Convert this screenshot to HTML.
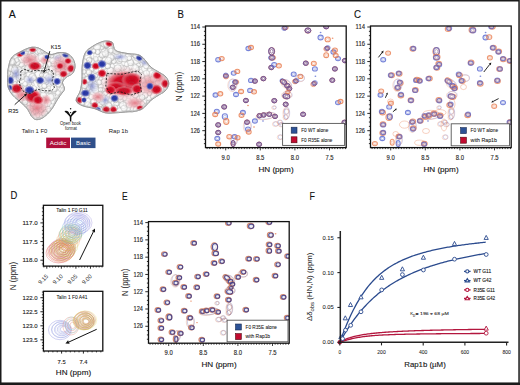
<!DOCTYPE html><html><head><meta charset="utf-8"><style>html,body{margin:0;padding:0;background:#fff;overflow:hidden;width:520px;height:385px;}svg{display:block;}</style></head><body>
<svg width="520" height="385" viewBox="0 0 520 385" font-family='"Liberation Sans", sans-serif'>
<rect width="520" height="385" fill="#fff"/>
<defs><filter id="pb" x="-5%" y="-5%" width="110%" height="110%"><feGaussianBlur stdDeviation="0.5"/></filter></defs>
<clipPath id="cb"><rect x="205.5" y="26" width="140.7" height="121.6"/></clipPath>
<g clip-path="url(#cb)"><g filter="url(#pb)">
<g opacity="0.85"><ellipse cx="218.20" cy="59.70" rx="2.45" ry="2.15" fill="none" stroke="#5e6ed2" stroke-width="1.1"/><ellipse cx="218.20" cy="59.70" rx="1.23" ry="1.07" fill="none" stroke="#5e6ed2" stroke-width="0.7" opacity="0.6"/></g>
<g opacity="0.85"><ellipse cx="221.70" cy="58.60" rx="2.45" ry="2.15" fill="none" stroke="#e97f52" stroke-width="1.1"/><ellipse cx="221.70" cy="58.60" rx="1.23" ry="1.07" fill="none" stroke="#e97f52" stroke-width="0.7" opacity="0.6"/></g>
<g opacity="0.85"><ellipse cx="248.40" cy="48.50" rx="2.45" ry="2.15" fill="none" stroke="#5e6ed2" stroke-width="1.1"/><ellipse cx="248.40" cy="48.50" rx="1.23" ry="1.07" fill="none" stroke="#5e6ed2" stroke-width="0.7" opacity="0.6"/></g>
<g opacity="0.85"><ellipse cx="251.00" cy="47.50" rx="2.45" ry="2.15" fill="none" stroke="#e97f52" stroke-width="1.1"/><ellipse cx="251.00" cy="47.50" rx="1.23" ry="1.07" fill="none" stroke="#e97f52" stroke-width="0.7" opacity="0.6"/></g>
<g opacity="0.75"><ellipse cx="271.70" cy="51.30" rx="3.05" ry="3.85" fill="none" stroke="#e97f52" stroke-width="1.0"/><ellipse cx="271.70" cy="51.30" rx="1.52" ry="1.93" fill="none" stroke="#e97f52" stroke-width="0.7" opacity="0.6"/></g>
<g opacity="0.75"><ellipse cx="271.50" cy="51.30" rx="2.90" ry="3.70" fill="none" stroke="#5e6ed2" stroke-width="1.0"/><ellipse cx="271.50" cy="51.30" rx="1.45" ry="1.85" fill="none" stroke="#5e6ed2" stroke-width="0.7" opacity="0.6"/></g>
<g opacity="0.8"><ellipse cx="271.60" cy="51.30" rx="2.90" ry="3.70" fill="none" stroke="#6e3f78" stroke-width="0.9"/><ellipse cx="271.60" cy="51.30" rx="1.45" ry="1.85" fill="none" stroke="#6e3f78" stroke-width="0.7" opacity="0.6"/></g>
<g opacity="0.75"><ellipse cx="272.60" cy="57.70" rx="3.05" ry="2.55" fill="none" stroke="#e97f52" stroke-width="1.0"/><ellipse cx="272.60" cy="57.70" rx="1.52" ry="1.27" fill="none" stroke="#e97f52" stroke-width="0.7" opacity="0.6"/></g>
<g opacity="0.75"><ellipse cx="271.40" cy="57.80" rx="2.90" ry="2.40" fill="none" stroke="#5e6ed2" stroke-width="1.0"/><ellipse cx="271.40" cy="57.80" rx="1.45" ry="1.20" fill="none" stroke="#5e6ed2" stroke-width="0.7" opacity="0.6"/></g>
<g opacity="0.8"><ellipse cx="272.00" cy="57.75" rx="2.90" ry="2.40" fill="none" stroke="#6e3f78" stroke-width="0.9"/><ellipse cx="272.00" cy="57.75" rx="1.45" ry="1.20" fill="none" stroke="#6e3f78" stroke-width="0.7" opacity="0.6"/></g>
<g opacity="0.75"><ellipse cx="285.70" cy="27.40" rx="2.60" ry="2.30" fill="none" stroke="#e97f52" stroke-width="1.0"/><ellipse cx="285.70" cy="27.40" rx="1.30" ry="1.15" fill="none" stroke="#e97f52" stroke-width="0.7" opacity="0.6"/></g>
<g opacity="0.75"><ellipse cx="284.20" cy="28.30" rx="2.45" ry="2.15" fill="none" stroke="#5e6ed2" stroke-width="1.0"/><ellipse cx="284.20" cy="28.30" rx="1.23" ry="1.07" fill="none" stroke="#5e6ed2" stroke-width="0.7" opacity="0.6"/></g>
<g opacity="0.8"><ellipse cx="284.95" cy="27.85" rx="2.45" ry="2.15" fill="none" stroke="#6e3f78" stroke-width="0.9"/><ellipse cx="284.95" cy="27.85" rx="1.23" ry="1.07" fill="none" stroke="#6e3f78" stroke-width="0.7" opacity="0.6"/></g>
<g opacity="0.75"><ellipse cx="307.90" cy="30.60" rx="3.05" ry="2.65" fill="none" stroke="#e97f52" stroke-width="1.0"/><ellipse cx="307.90" cy="30.60" rx="1.52" ry="1.32" fill="none" stroke="#e97f52" stroke-width="0.7" opacity="0.6"/></g>
<g opacity="0.75"><ellipse cx="307.90" cy="30.40" rx="2.90" ry="2.50" fill="none" stroke="#5e6ed2" stroke-width="1.0"/><ellipse cx="307.90" cy="30.40" rx="1.45" ry="1.25" fill="none" stroke="#5e6ed2" stroke-width="0.7" opacity="0.6"/></g>
<g opacity="0.8"><ellipse cx="307.90" cy="30.50" rx="2.90" ry="2.50" fill="none" stroke="#6e3f78" stroke-width="0.9"/><ellipse cx="307.90" cy="30.50" rx="1.45" ry="1.25" fill="none" stroke="#6e3f78" stroke-width="0.7" opacity="0.6"/></g>
<g opacity="0.75"><ellipse cx="326.20" cy="26.80" rx="2.65" ry="2.15" fill="none" stroke="#e97f52" stroke-width="1.0"/><ellipse cx="326.20" cy="26.80" rx="1.32" ry="1.07" fill="none" stroke="#e97f52" stroke-width="0.7" opacity="0.6"/></g>
<g opacity="0.75"><ellipse cx="326.20" cy="26.80" rx="2.50" ry="2.00" fill="none" stroke="#5e6ed2" stroke-width="1.0"/><ellipse cx="326.20" cy="26.80" rx="1.25" ry="1.00" fill="none" stroke="#5e6ed2" stroke-width="0.7" opacity="0.6"/></g>
<g opacity="0.8"><ellipse cx="326.20" cy="26.80" rx="2.50" ry="2.00" fill="none" stroke="#6e3f78" stroke-width="0.9"/><ellipse cx="326.20" cy="26.80" rx="1.25" ry="1.00" fill="none" stroke="#6e3f78" stroke-width="0.7" opacity="0.6"/></g>
<g opacity="0.85"><ellipse cx="320.60" cy="37.50" rx="2.60" ry="2.40" fill="none" stroke="#5e6ed2" stroke-width="1.1"/><ellipse cx="320.60" cy="37.50" rx="1.30" ry="1.20" fill="none" stroke="#5e6ed2" stroke-width="0.7" opacity="0.6"/></g>
<g opacity="0.85"><ellipse cx="327.70" cy="39.40" rx="2.60" ry="2.40" fill="none" stroke="#e97f52" stroke-width="1.1"/><ellipse cx="327.70" cy="39.40" rx="1.30" ry="1.20" fill="none" stroke="#e97f52" stroke-width="0.7" opacity="0.6"/></g>
<g opacity="0.75"><ellipse cx="326.40" cy="49.00" rx="2.60" ry="2.30" fill="none" stroke="#e97f52" stroke-width="1.0"/><ellipse cx="326.40" cy="49.00" rx="1.30" ry="1.15" fill="none" stroke="#e97f52" stroke-width="0.7" opacity="0.6"/></g>
<g opacity="0.75"><ellipse cx="327.70" cy="47.80" rx="2.45" ry="2.15" fill="none" stroke="#5e6ed2" stroke-width="1.0"/><ellipse cx="327.70" cy="47.80" rx="1.23" ry="1.07" fill="none" stroke="#5e6ed2" stroke-width="0.7" opacity="0.6"/></g>
<g opacity="0.8"><ellipse cx="327.05" cy="48.40" rx="2.45" ry="2.15" fill="none" stroke="#6e3f78" stroke-width="0.9"/><ellipse cx="327.05" cy="48.40" rx="1.23" ry="1.07" fill="none" stroke="#6e3f78" stroke-width="0.7" opacity="0.6"/></g>
<g opacity="0.85"><ellipse cx="333.40" cy="52.00" rx="2.45" ry="2.15" fill="none" stroke="#5e6ed2" stroke-width="1.1"/><ellipse cx="333.40" cy="52.00" rx="1.23" ry="1.07" fill="none" stroke="#5e6ed2" stroke-width="0.7" opacity="0.6"/></g>
<g opacity="0.85"><ellipse cx="334.90" cy="50.20" rx="2.45" ry="2.15" fill="none" stroke="#e97f52" stroke-width="1.1"/><ellipse cx="334.90" cy="50.20" rx="1.23" ry="1.07" fill="none" stroke="#e97f52" stroke-width="0.7" opacity="0.6"/></g>
<g opacity="0.85"><ellipse cx="326.20" cy="55.20" rx="2.40" ry="2.40" fill="none" stroke="#e97f52" stroke-width="1.1"/><ellipse cx="326.20" cy="55.20" rx="1.20" ry="1.20" fill="none" stroke="#e97f52" stroke-width="0.7" opacity="0.6"/></g>
<g opacity="0.85"><ellipse cx="338.00" cy="58.60" rx="2.45" ry="2.15" fill="none" stroke="#5e6ed2" stroke-width="1.1"/><ellipse cx="338.00" cy="58.60" rx="1.23" ry="1.07" fill="none" stroke="#5e6ed2" stroke-width="0.7" opacity="0.6"/></g>
<g opacity="0.85"><ellipse cx="335.70" cy="55.50" rx="2.45" ry="2.15" fill="none" stroke="#e97f52" stroke-width="1.1"/><ellipse cx="335.70" cy="55.50" rx="1.23" ry="1.07" fill="none" stroke="#e97f52" stroke-width="0.7" opacity="0.6"/></g>
<g opacity="0.75"><ellipse cx="344.90" cy="60.60" rx="2.60" ry="2.30" fill="none" stroke="#e97f52" stroke-width="1.0"/><ellipse cx="344.90" cy="60.60" rx="1.30" ry="1.15" fill="none" stroke="#e97f52" stroke-width="0.7" opacity="0.6"/></g>
<g opacity="0.75"><ellipse cx="344.90" cy="60.60" rx="2.45" ry="2.15" fill="none" stroke="#5e6ed2" stroke-width="1.0"/><ellipse cx="344.90" cy="60.60" rx="1.23" ry="1.07" fill="none" stroke="#5e6ed2" stroke-width="0.7" opacity="0.6"/></g>
<g opacity="0.8"><ellipse cx="344.90" cy="60.60" rx="2.45" ry="2.15" fill="none" stroke="#6e3f78" stroke-width="0.9"/><ellipse cx="344.90" cy="60.60" rx="1.23" ry="1.07" fill="none" stroke="#6e3f78" stroke-width="0.7" opacity="0.6"/></g>
<g opacity="0.75"><ellipse cx="305.90" cy="63.20" rx="2.60" ry="2.30" fill="none" stroke="#e97f52" stroke-width="1.0"/><ellipse cx="305.90" cy="63.20" rx="1.30" ry="1.15" fill="none" stroke="#e97f52" stroke-width="0.7" opacity="0.6"/></g>
<g opacity="0.75"><ellipse cx="305.70" cy="63.20" rx="2.45" ry="2.15" fill="none" stroke="#5e6ed2" stroke-width="1.0"/><ellipse cx="305.70" cy="63.20" rx="1.23" ry="1.07" fill="none" stroke="#5e6ed2" stroke-width="0.7" opacity="0.6"/></g>
<g opacity="0.8"><ellipse cx="305.80" cy="63.20" rx="2.45" ry="2.15" fill="none" stroke="#6e3f78" stroke-width="0.9"/><ellipse cx="305.80" cy="63.20" rx="1.23" ry="1.07" fill="none" stroke="#6e3f78" stroke-width="0.7" opacity="0.6"/></g>
<g opacity="0.85"><ellipse cx="314.90" cy="68.90" rx="2.45" ry="2.15" fill="none" stroke="#5e6ed2" stroke-width="1.1"/><ellipse cx="314.90" cy="68.90" rx="1.23" ry="1.07" fill="none" stroke="#5e6ed2" stroke-width="0.7" opacity="0.6"/></g>
<g opacity="0.85"><ellipse cx="313.80" cy="63.40" rx="2.45" ry="2.15" fill="none" stroke="#e97f52" stroke-width="1.1"/><ellipse cx="313.80" cy="63.40" rx="1.23" ry="1.07" fill="none" stroke="#e97f52" stroke-width="0.7" opacity="0.6"/></g>
<g opacity="0.75"><ellipse cx="271.30" cy="67.50" rx="2.60" ry="2.30" fill="none" stroke="#e97f52" stroke-width="1.0"/><ellipse cx="271.30" cy="67.50" rx="1.30" ry="1.15" fill="none" stroke="#e97f52" stroke-width="0.7" opacity="0.6"/></g>
<g opacity="0.75"><ellipse cx="271.30" cy="67.50" rx="2.45" ry="2.15" fill="none" stroke="#5e6ed2" stroke-width="1.0"/><ellipse cx="271.30" cy="67.50" rx="1.23" ry="1.07" fill="none" stroke="#5e6ed2" stroke-width="0.7" opacity="0.6"/></g>
<g opacity="0.8"><ellipse cx="271.30" cy="67.50" rx="2.45" ry="2.15" fill="none" stroke="#6e3f78" stroke-width="0.9"/><ellipse cx="271.30" cy="67.50" rx="1.23" ry="1.07" fill="none" stroke="#6e3f78" stroke-width="0.7" opacity="0.6"/></g>
<g opacity="0.85"><ellipse cx="274.20" cy="64.70" rx="2.45" ry="2.15" fill="none" stroke="#5e6ed2" stroke-width="1.1"/><ellipse cx="274.20" cy="64.70" rx="1.23" ry="1.07" fill="none" stroke="#5e6ed2" stroke-width="0.7" opacity="0.6"/></g>
<g opacity="0.85"><ellipse cx="278.90" cy="65.80" rx="2.45" ry="2.15" fill="none" stroke="#e97f52" stroke-width="1.1"/><ellipse cx="278.90" cy="65.80" rx="1.23" ry="1.07" fill="none" stroke="#e97f52" stroke-width="0.7" opacity="0.6"/></g>
<g opacity="0.75"><ellipse cx="226.00" cy="76.60" rx="2.60" ry="2.30" fill="none" stroke="#e97f52" stroke-width="1.0"/><ellipse cx="226.00" cy="76.60" rx="1.30" ry="1.15" fill="none" stroke="#e97f52" stroke-width="0.7" opacity="0.6"/></g>
<g opacity="0.75"><ellipse cx="225.80" cy="75.20" rx="2.45" ry="2.15" fill="none" stroke="#5e6ed2" stroke-width="1.0"/><ellipse cx="225.80" cy="75.20" rx="1.23" ry="1.07" fill="none" stroke="#5e6ed2" stroke-width="0.7" opacity="0.6"/></g>
<g opacity="0.8"><ellipse cx="225.90" cy="75.90" rx="2.45" ry="2.15" fill="none" stroke="#6e3f78" stroke-width="0.9"/><ellipse cx="225.90" cy="75.90" rx="1.23" ry="1.07" fill="none" stroke="#6e3f78" stroke-width="0.7" opacity="0.6"/></g>
<g opacity="0.85"><ellipse cx="233.70" cy="73.10" rx="2.45" ry="2.15" fill="none" stroke="#5e6ed2" stroke-width="1.1"/><ellipse cx="233.70" cy="73.10" rx="1.23" ry="1.07" fill="none" stroke="#5e6ed2" stroke-width="0.7" opacity="0.6"/></g>
<g opacity="0.85"><ellipse cx="237.30" cy="71.40" rx="2.45" ry="2.15" fill="none" stroke="#e97f52" stroke-width="1.1"/><ellipse cx="237.30" cy="71.40" rx="1.23" ry="1.07" fill="none" stroke="#e97f52" stroke-width="0.7" opacity="0.6"/></g>
<g opacity="0.75"><ellipse cx="236.20" cy="82.10" rx="2.60" ry="2.30" fill="none" stroke="#e97f52" stroke-width="1.0"/><ellipse cx="236.20" cy="82.10" rx="1.30" ry="1.15" fill="none" stroke="#e97f52" stroke-width="0.7" opacity="0.6"/></g>
<g opacity="0.75"><ellipse cx="234.80" cy="82.10" rx="2.45" ry="2.15" fill="none" stroke="#5e6ed2" stroke-width="1.0"/><ellipse cx="234.80" cy="82.10" rx="1.23" ry="1.07" fill="none" stroke="#5e6ed2" stroke-width="0.7" opacity="0.6"/></g>
<g opacity="0.8"><ellipse cx="235.50" cy="82.10" rx="2.45" ry="2.15" fill="none" stroke="#6e3f78" stroke-width="0.9"/><ellipse cx="235.50" cy="82.10" rx="1.23" ry="1.07" fill="none" stroke="#6e3f78" stroke-width="0.7" opacity="0.6"/></g>
<g opacity="0.75"><ellipse cx="232.80" cy="87.30" rx="2.60" ry="2.30" fill="none" stroke="#e97f52" stroke-width="1.0"/><ellipse cx="232.80" cy="87.30" rx="1.30" ry="1.15" fill="none" stroke="#e97f52" stroke-width="0.7" opacity="0.6"/></g>
<g opacity="0.75"><ellipse cx="232.80" cy="87.30" rx="2.45" ry="2.15" fill="none" stroke="#5e6ed2" stroke-width="1.0"/><ellipse cx="232.80" cy="87.30" rx="1.23" ry="1.07" fill="none" stroke="#5e6ed2" stroke-width="0.7" opacity="0.6"/></g>
<g opacity="0.8"><ellipse cx="232.80" cy="87.30" rx="2.45" ry="2.15" fill="none" stroke="#6e3f78" stroke-width="0.9"/><ellipse cx="232.80" cy="87.30" rx="1.23" ry="1.07" fill="none" stroke="#6e3f78" stroke-width="0.7" opacity="0.6"/></g>
<g opacity="0.85"><ellipse cx="236.00" cy="94.50" rx="2.45" ry="2.15" fill="none" stroke="#5e6ed2" stroke-width="1.1"/><ellipse cx="236.00" cy="94.50" rx="1.23" ry="1.07" fill="none" stroke="#5e6ed2" stroke-width="0.7" opacity="0.6"/></g>
<g opacity="0.85"><ellipse cx="241.10" cy="91.50" rx="2.45" ry="2.15" fill="none" stroke="#e97f52" stroke-width="1.1"/><ellipse cx="241.10" cy="91.50" rx="1.23" ry="1.07" fill="none" stroke="#e97f52" stroke-width="0.7" opacity="0.6"/></g>
<g opacity="0.85"><ellipse cx="215.50" cy="95.00" rx="2.45" ry="2.15" fill="none" stroke="#5e6ed2" stroke-width="1.1"/><ellipse cx="215.50" cy="95.00" rx="1.23" ry="1.07" fill="none" stroke="#5e6ed2" stroke-width="0.7" opacity="0.6"/></g>
<g opacity="0.85"><ellipse cx="220.30" cy="93.80" rx="2.45" ry="2.15" fill="none" stroke="#e97f52" stroke-width="1.1"/><ellipse cx="220.30" cy="93.80" rx="1.23" ry="1.07" fill="none" stroke="#e97f52" stroke-width="0.7" opacity="0.6"/></g>
<g opacity="0.85"><ellipse cx="251.00" cy="80.40" rx="2.45" ry="2.15" fill="none" stroke="#5e6ed2" stroke-width="1.1"/><ellipse cx="251.00" cy="80.40" rx="1.23" ry="1.07" fill="none" stroke="#5e6ed2" stroke-width="0.7" opacity="0.6"/></g>
<g opacity="0.75"><ellipse cx="254.90" cy="81.10" rx="2.60" ry="2.30" fill="none" stroke="#e97f52" stroke-width="1.0"/><ellipse cx="254.90" cy="81.10" rx="1.30" ry="1.15" fill="none" stroke="#e97f52" stroke-width="0.7" opacity="0.6"/></g>
<g opacity="0.75"><ellipse cx="254.90" cy="81.10" rx="2.45" ry="2.15" fill="none" stroke="#5e6ed2" stroke-width="1.0"/><ellipse cx="254.90" cy="81.10" rx="1.23" ry="1.07" fill="none" stroke="#5e6ed2" stroke-width="0.7" opacity="0.6"/></g>
<g opacity="0.8"><ellipse cx="254.90" cy="81.10" rx="2.45" ry="2.15" fill="none" stroke="#6e3f78" stroke-width="0.9"/><ellipse cx="254.90" cy="81.10" rx="1.23" ry="1.07" fill="none" stroke="#6e3f78" stroke-width="0.7" opacity="0.6"/></g>
<g opacity="0.75"><ellipse cx="263.40" cy="78.60" rx="2.60" ry="2.30" fill="none" stroke="#e97f52" stroke-width="1.0"/><ellipse cx="263.40" cy="78.60" rx="1.30" ry="1.15" fill="none" stroke="#e97f52" stroke-width="0.7" opacity="0.6"/></g>
<g opacity="0.75"><ellipse cx="263.40" cy="78.60" rx="2.45" ry="2.15" fill="none" stroke="#5e6ed2" stroke-width="1.0"/><ellipse cx="263.40" cy="78.60" rx="1.23" ry="1.07" fill="none" stroke="#5e6ed2" stroke-width="0.7" opacity="0.6"/></g>
<g opacity="0.8"><ellipse cx="263.40" cy="78.60" rx="2.45" ry="2.15" fill="none" stroke="#6e3f78" stroke-width="0.9"/><ellipse cx="263.40" cy="78.60" rx="1.23" ry="1.07" fill="none" stroke="#6e3f78" stroke-width="0.7" opacity="0.6"/></g>
<g opacity="0.85"><ellipse cx="250.10" cy="90.40" rx="2.45" ry="2.15" fill="none" stroke="#5e6ed2" stroke-width="1.1"/><ellipse cx="250.10" cy="90.40" rx="1.23" ry="1.07" fill="none" stroke="#5e6ed2" stroke-width="0.7" opacity="0.6"/></g>
<g opacity="0.85"><ellipse cx="254.00" cy="91.80" rx="2.45" ry="2.15" fill="none" stroke="#e97f52" stroke-width="1.1"/><ellipse cx="254.00" cy="91.80" rx="1.23" ry="1.07" fill="none" stroke="#e97f52" stroke-width="0.7" opacity="0.6"/></g>
<g opacity="0.75"><ellipse cx="245.90" cy="100.50" rx="2.60" ry="2.30" fill="none" stroke="#e97f52" stroke-width="1.0"/><ellipse cx="245.90" cy="100.50" rx="1.30" ry="1.15" fill="none" stroke="#e97f52" stroke-width="0.7" opacity="0.6"/></g>
<g opacity="0.75"><ellipse cx="245.90" cy="100.50" rx="2.45" ry="2.15" fill="none" stroke="#5e6ed2" stroke-width="1.0"/><ellipse cx="245.90" cy="100.50" rx="1.23" ry="1.07" fill="none" stroke="#5e6ed2" stroke-width="0.7" opacity="0.6"/></g>
<g opacity="0.8"><ellipse cx="245.90" cy="100.50" rx="2.45" ry="2.15" fill="none" stroke="#6e3f78" stroke-width="0.9"/><ellipse cx="245.90" cy="100.50" rx="1.23" ry="1.07" fill="none" stroke="#6e3f78" stroke-width="0.7" opacity="0.6"/></g>
<g opacity="0.75"><ellipse cx="334.90" cy="68.90" rx="2.60" ry="2.30" fill="none" stroke="#e97f52" stroke-width="1.0"/><ellipse cx="334.90" cy="68.90" rx="1.30" ry="1.15" fill="none" stroke="#e97f52" stroke-width="0.7" opacity="0.6"/></g>
<g opacity="0.75"><ellipse cx="334.90" cy="68.90" rx="2.45" ry="2.15" fill="none" stroke="#5e6ed2" stroke-width="1.0"/><ellipse cx="334.90" cy="68.90" rx="1.23" ry="1.07" fill="none" stroke="#5e6ed2" stroke-width="0.7" opacity="0.6"/></g>
<g opacity="0.8"><ellipse cx="334.90" cy="68.90" rx="2.45" ry="2.15" fill="none" stroke="#6e3f78" stroke-width="0.9"/><ellipse cx="334.90" cy="68.90" rx="1.23" ry="1.07" fill="none" stroke="#6e3f78" stroke-width="0.7" opacity="0.6"/></g>
<g opacity="0.75"><ellipse cx="332.30" cy="80.20" rx="2.60" ry="2.30" fill="none" stroke="#e97f52" stroke-width="1.0"/><ellipse cx="332.30" cy="80.20" rx="1.30" ry="1.15" fill="none" stroke="#e97f52" stroke-width="0.7" opacity="0.6"/></g>
<g opacity="0.75"><ellipse cx="332.30" cy="80.20" rx="2.45" ry="2.15" fill="none" stroke="#5e6ed2" stroke-width="1.0"/><ellipse cx="332.30" cy="80.20" rx="1.23" ry="1.07" fill="none" stroke="#5e6ed2" stroke-width="0.7" opacity="0.6"/></g>
<g opacity="0.8"><ellipse cx="332.30" cy="80.20" rx="2.45" ry="2.15" fill="none" stroke="#6e3f78" stroke-width="0.9"/><ellipse cx="332.30" cy="80.20" rx="1.23" ry="1.07" fill="none" stroke="#6e3f78" stroke-width="0.7" opacity="0.6"/></g>
<g opacity="0.75"><ellipse cx="313.40" cy="84.30" rx="2.60" ry="2.30" fill="none" stroke="#e97f52" stroke-width="1.0"/><ellipse cx="313.40" cy="84.30" rx="1.30" ry="1.15" fill="none" stroke="#e97f52" stroke-width="0.7" opacity="0.6"/></g>
<g opacity="0.75"><ellipse cx="314.90" cy="82.80" rx="2.45" ry="2.15" fill="none" stroke="#5e6ed2" stroke-width="1.0"/><ellipse cx="314.90" cy="82.80" rx="1.23" ry="1.07" fill="none" stroke="#5e6ed2" stroke-width="0.7" opacity="0.6"/></g>
<g opacity="0.8"><ellipse cx="314.15" cy="83.55" rx="2.45" ry="2.15" fill="none" stroke="#6e3f78" stroke-width="0.9"/><ellipse cx="314.15" cy="83.55" rx="1.23" ry="1.07" fill="none" stroke="#6e3f78" stroke-width="0.7" opacity="0.6"/></g>
<g opacity="0.85"><ellipse cx="293.70" cy="74.20" rx="2.45" ry="2.15" fill="none" stroke="#5e6ed2" stroke-width="1.1"/><ellipse cx="293.70" cy="74.20" rx="1.23" ry="1.07" fill="none" stroke="#5e6ed2" stroke-width="0.7" opacity="0.6"/></g>
<g opacity="0.85"><ellipse cx="300.40" cy="76.40" rx="2.45" ry="2.15" fill="none" stroke="#e97f52" stroke-width="1.1"/><ellipse cx="300.40" cy="76.40" rx="1.23" ry="1.07" fill="none" stroke="#e97f52" stroke-width="0.7" opacity="0.6"/></g>
<g transform="rotate(35 283.80 82.20)" opacity="0.75"><ellipse cx="283.80" cy="82.20" rx="3.55" ry="2.35" fill="none" stroke="#e97f52" stroke-width="1.0"/><ellipse cx="283.80" cy="82.20" rx="1.77" ry="1.18" fill="none" stroke="#e97f52" stroke-width="0.7" opacity="0.6"/></g>
<g transform="rotate(35 283.20 81.60)" opacity="0.75"><ellipse cx="283.20" cy="81.60" rx="3.40" ry="2.20" fill="none" stroke="#5e6ed2" stroke-width="1.0"/><ellipse cx="283.20" cy="81.60" rx="1.70" ry="1.10" fill="none" stroke="#5e6ed2" stroke-width="0.7" opacity="0.6"/></g>
<g transform="rotate(35 283.50 81.90)" opacity="0.8"><ellipse cx="283.50" cy="81.90" rx="3.40" ry="2.20" fill="none" stroke="#6e3f78" stroke-width="0.9"/><ellipse cx="283.50" cy="81.90" rx="1.70" ry="1.10" fill="none" stroke="#6e3f78" stroke-width="0.7" opacity="0.6"/></g>
<g opacity="0.75"><ellipse cx="287.30" cy="85.80" rx="2.75" ry="2.35" fill="none" stroke="#e97f52" stroke-width="1.0"/><ellipse cx="287.30" cy="85.80" rx="1.38" ry="1.18" fill="none" stroke="#e97f52" stroke-width="0.7" opacity="0.6"/></g>
<g opacity="0.75"><ellipse cx="287.30" cy="85.60" rx="2.60" ry="2.20" fill="none" stroke="#5e6ed2" stroke-width="1.0"/><ellipse cx="287.30" cy="85.60" rx="1.30" ry="1.10" fill="none" stroke="#5e6ed2" stroke-width="0.7" opacity="0.6"/></g>
<g opacity="0.8"><ellipse cx="287.30" cy="85.70" rx="2.60" ry="2.20" fill="none" stroke="#6e3f78" stroke-width="0.9"/><ellipse cx="287.30" cy="85.70" rx="1.30" ry="1.10" fill="none" stroke="#6e3f78" stroke-width="0.7" opacity="0.6"/></g>
<g opacity="0.75"><ellipse cx="295.00" cy="81.50" rx="2.60" ry="2.30" fill="none" stroke="#e97f52" stroke-width="1.0"/><ellipse cx="295.00" cy="81.50" rx="1.30" ry="1.15" fill="none" stroke="#e97f52" stroke-width="0.7" opacity="0.6"/></g>
<g opacity="0.75"><ellipse cx="296.40" cy="80.70" rx="2.45" ry="2.15" fill="none" stroke="#5e6ed2" stroke-width="1.0"/><ellipse cx="296.40" cy="80.70" rx="1.23" ry="1.07" fill="none" stroke="#5e6ed2" stroke-width="0.7" opacity="0.6"/></g>
<g opacity="0.8"><ellipse cx="295.70" cy="81.10" rx="2.45" ry="2.15" fill="none" stroke="#6e3f78" stroke-width="0.9"/><ellipse cx="295.70" cy="81.10" rx="1.23" ry="1.07" fill="none" stroke="#6e3f78" stroke-width="0.7" opacity="0.6"/></g>
<g opacity="0.75"><ellipse cx="289.30" cy="88.60" rx="2.60" ry="2.30" fill="none" stroke="#e97f52" stroke-width="1.0"/><ellipse cx="289.30" cy="88.60" rx="1.30" ry="1.15" fill="none" stroke="#e97f52" stroke-width="0.7" opacity="0.6"/></g>
<g opacity="0.75"><ellipse cx="289.30" cy="88.60" rx="2.45" ry="2.15" fill="none" stroke="#5e6ed2" stroke-width="1.0"/><ellipse cx="289.30" cy="88.60" rx="1.23" ry="1.07" fill="none" stroke="#5e6ed2" stroke-width="0.7" opacity="0.6"/></g>
<g opacity="0.8"><ellipse cx="289.30" cy="88.60" rx="2.45" ry="2.15" fill="none" stroke="#6e3f78" stroke-width="0.9"/><ellipse cx="289.30" cy="88.60" rx="1.23" ry="1.07" fill="none" stroke="#6e3f78" stroke-width="0.7" opacity="0.6"/></g>
<g transform="rotate(10 286.40 96.20)" opacity="0.75"><ellipse cx="286.40" cy="96.20" rx="3.55" ry="2.55" fill="none" stroke="#e97f52" stroke-width="1.0"/><ellipse cx="286.40" cy="96.20" rx="1.77" ry="1.27" fill="none" stroke="#e97f52" stroke-width="0.7" opacity="0.6"/></g>
<g transform="rotate(10 286.40 96.40)" opacity="0.75"><ellipse cx="286.40" cy="96.40" rx="3.40" ry="2.40" fill="none" stroke="#5e6ed2" stroke-width="1.0"/><ellipse cx="286.40" cy="96.40" rx="1.70" ry="1.20" fill="none" stroke="#5e6ed2" stroke-width="0.7" opacity="0.6"/></g>
<g transform="rotate(10 286.40 96.30)" opacity="0.8"><ellipse cx="286.40" cy="96.30" rx="3.40" ry="2.40" fill="none" stroke="#6e3f78" stroke-width="0.9"/><ellipse cx="286.40" cy="96.30" rx="1.70" ry="1.20" fill="none" stroke="#6e3f78" stroke-width="0.7" opacity="0.6"/></g>
<g opacity="0.85"><ellipse cx="287.90" cy="92.10" rx="2.20" ry="1.60" fill="none" stroke="#e97f52" stroke-width="1.1"/><ellipse cx="287.90" cy="92.10" rx="1.10" ry="0.80" fill="none" stroke="#e97f52" stroke-width="0.7" opacity="0.6"/></g>
<g opacity="0.75"><ellipse cx="274.30" cy="100.70" rx="2.60" ry="2.30" fill="none" stroke="#e97f52" stroke-width="1.0"/><ellipse cx="274.30" cy="100.70" rx="1.30" ry="1.15" fill="none" stroke="#e97f52" stroke-width="0.7" opacity="0.6"/></g>
<g opacity="0.75"><ellipse cx="274.30" cy="100.70" rx="2.45" ry="2.15" fill="none" stroke="#5e6ed2" stroke-width="1.0"/><ellipse cx="274.30" cy="100.70" rx="1.23" ry="1.07" fill="none" stroke="#5e6ed2" stroke-width="0.7" opacity="0.6"/></g>
<g opacity="0.8"><ellipse cx="274.30" cy="100.70" rx="2.45" ry="2.15" fill="none" stroke="#6e3f78" stroke-width="0.9"/><ellipse cx="274.30" cy="100.70" rx="1.23" ry="1.07" fill="none" stroke="#6e3f78" stroke-width="0.7" opacity="0.6"/></g>
<g opacity="0.85"><ellipse cx="338.00" cy="102.60" rx="2.45" ry="2.15" fill="none" stroke="#5e6ed2" stroke-width="1.1"/><ellipse cx="338.00" cy="102.60" rx="1.23" ry="1.07" fill="none" stroke="#5e6ed2" stroke-width="0.7" opacity="0.6"/></g>
<g opacity="0.85"><ellipse cx="340.50" cy="101.50" rx="2.45" ry="2.15" fill="none" stroke="#e97f52" stroke-width="1.1"/><ellipse cx="340.50" cy="101.50" rx="1.23" ry="1.07" fill="none" stroke="#e97f52" stroke-width="0.7" opacity="0.6"/></g>
<g opacity="0.75"><ellipse cx="224.20" cy="106.90" rx="2.60" ry="2.30" fill="none" stroke="#e97f52" stroke-width="1.0"/><ellipse cx="224.20" cy="106.90" rx="1.30" ry="1.15" fill="none" stroke="#e97f52" stroke-width="0.7" opacity="0.6"/></g>
<g opacity="0.75"><ellipse cx="224.20" cy="106.90" rx="2.45" ry="2.15" fill="none" stroke="#5e6ed2" stroke-width="1.0"/><ellipse cx="224.20" cy="106.90" rx="1.23" ry="1.07" fill="none" stroke="#5e6ed2" stroke-width="0.7" opacity="0.6"/></g>
<g opacity="0.8"><ellipse cx="224.20" cy="106.90" rx="2.45" ry="2.15" fill="none" stroke="#6e3f78" stroke-width="0.9"/><ellipse cx="224.20" cy="106.90" rx="1.23" ry="1.07" fill="none" stroke="#6e3f78" stroke-width="0.7" opacity="0.6"/></g>
<g opacity="0.85"><ellipse cx="216.80" cy="111.40" rx="2.45" ry="2.15" fill="none" stroke="#5e6ed2" stroke-width="1.1"/><ellipse cx="216.80" cy="111.40" rx="1.23" ry="1.07" fill="none" stroke="#5e6ed2" stroke-width="0.7" opacity="0.6"/></g>
<g opacity="0.85"><ellipse cx="215.20" cy="114.50" rx="2.45" ry="2.15" fill="none" stroke="#e97f52" stroke-width="1.1"/><ellipse cx="215.20" cy="114.50" rx="1.23" ry="1.07" fill="none" stroke="#e97f52" stroke-width="0.7" opacity="0.6"/></g>
<g opacity="0.85"><ellipse cx="224.90" cy="116.60" rx="2.60" ry="2.90" fill="none" stroke="#5e6ed2" stroke-width="1.1"/><ellipse cx="224.90" cy="116.60" rx="1.30" ry="1.45" fill="none" stroke="#5e6ed2" stroke-width="0.7" opacity="0.6"/></g>
<g opacity="0.85"><ellipse cx="226.30" cy="121.50" rx="2.60" ry="2.90" fill="none" stroke="#e97f52" stroke-width="1.1"/><ellipse cx="226.30" cy="121.50" rx="1.30" ry="1.45" fill="none" stroke="#e97f52" stroke-width="0.7" opacity="0.6"/></g>
<g opacity="0.85"><ellipse cx="242.90" cy="112.50" rx="2.45" ry="2.15" fill="none" stroke="#5e6ed2" stroke-width="1.1"/><ellipse cx="242.90" cy="112.50" rx="1.23" ry="1.07" fill="none" stroke="#5e6ed2" stroke-width="0.7" opacity="0.6"/></g>
<g opacity="0.85"><ellipse cx="241.50" cy="115.20" rx="2.45" ry="2.15" fill="none" stroke="#e97f52" stroke-width="1.1"/><ellipse cx="241.50" cy="115.20" rx="1.23" ry="1.07" fill="none" stroke="#e97f52" stroke-width="0.7" opacity="0.6"/></g>
<g opacity="0.75"><ellipse cx="218.20" cy="124.90" rx="2.60" ry="2.30" fill="none" stroke="#e97f52" stroke-width="1.0"/><ellipse cx="218.20" cy="124.90" rx="1.30" ry="1.15" fill="none" stroke="#e97f52" stroke-width="0.7" opacity="0.6"/></g>
<g opacity="0.75"><ellipse cx="218.20" cy="124.90" rx="2.45" ry="2.15" fill="none" stroke="#5e6ed2" stroke-width="1.0"/><ellipse cx="218.20" cy="124.90" rx="1.23" ry="1.07" fill="none" stroke="#5e6ed2" stroke-width="0.7" opacity="0.6"/></g>
<g opacity="0.8"><ellipse cx="218.20" cy="124.90" rx="2.45" ry="2.15" fill="none" stroke="#6e3f78" stroke-width="0.9"/><ellipse cx="218.20" cy="124.90" rx="1.23" ry="1.07" fill="none" stroke="#6e3f78" stroke-width="0.7" opacity="0.6"/></g>
<g opacity="0.75"><ellipse cx="218.20" cy="132.50" rx="2.60" ry="2.30" fill="none" stroke="#e97f52" stroke-width="1.0"/><ellipse cx="218.20" cy="132.50" rx="1.30" ry="1.15" fill="none" stroke="#e97f52" stroke-width="0.7" opacity="0.6"/></g>
<g opacity="0.75"><ellipse cx="218.20" cy="132.50" rx="2.45" ry="2.15" fill="none" stroke="#5e6ed2" stroke-width="1.0"/><ellipse cx="218.20" cy="132.50" rx="1.23" ry="1.07" fill="none" stroke="#5e6ed2" stroke-width="0.7" opacity="0.6"/></g>
<g opacity="0.8"><ellipse cx="218.20" cy="132.50" rx="2.45" ry="2.15" fill="none" stroke="#6e3f78" stroke-width="0.9"/><ellipse cx="218.20" cy="132.50" rx="1.23" ry="1.07" fill="none" stroke="#6e3f78" stroke-width="0.7" opacity="0.6"/></g>
<g opacity="0.85"><ellipse cx="217.30" cy="138.50" rx="2.45" ry="2.15" fill="none" stroke="#5e6ed2" stroke-width="1.1"/><ellipse cx="217.30" cy="138.50" rx="1.23" ry="1.07" fill="none" stroke="#5e6ed2" stroke-width="0.7" opacity="0.6"/></g>
<g opacity="0.85"><ellipse cx="218.20" cy="144.00" rx="2.45" ry="2.15" fill="none" stroke="#e97f52" stroke-width="1.1"/><ellipse cx="218.20" cy="144.00" rx="1.23" ry="1.07" fill="none" stroke="#e97f52" stroke-width="0.7" opacity="0.6"/></g>
<g opacity="0.75"><ellipse cx="247.00" cy="122.20" rx="2.60" ry="2.30" fill="none" stroke="#e97f52" stroke-width="1.0"/><ellipse cx="247.00" cy="122.20" rx="1.30" ry="1.15" fill="none" stroke="#e97f52" stroke-width="0.7" opacity="0.6"/></g>
<g opacity="0.75"><ellipse cx="247.00" cy="122.20" rx="2.45" ry="2.15" fill="none" stroke="#5e6ed2" stroke-width="1.0"/><ellipse cx="247.00" cy="122.20" rx="1.23" ry="1.07" fill="none" stroke="#5e6ed2" stroke-width="0.7" opacity="0.6"/></g>
<g opacity="0.8"><ellipse cx="247.00" cy="122.20" rx="2.45" ry="2.15" fill="none" stroke="#6e3f78" stroke-width="0.9"/><ellipse cx="247.00" cy="122.20" rx="1.23" ry="1.07" fill="none" stroke="#6e3f78" stroke-width="0.7" opacity="0.6"/></g>
<g opacity="0.85"><ellipse cx="248.00" cy="129.10" rx="2.45" ry="2.15" fill="none" stroke="#5e6ed2" stroke-width="1.1"/><ellipse cx="248.00" cy="129.10" rx="1.23" ry="1.07" fill="none" stroke="#5e6ed2" stroke-width="0.7" opacity="0.6"/></g>
<g opacity="0.85"><ellipse cx="248.70" cy="132.00" rx="2.45" ry="2.15" fill="none" stroke="#e97f52" stroke-width="1.1"/><ellipse cx="248.70" cy="132.00" rx="1.23" ry="1.07" fill="none" stroke="#e97f52" stroke-width="0.7" opacity="0.6"/></g>
<g opacity="0.85"><ellipse cx="254.90" cy="121.00" rx="2.45" ry="2.15" fill="none" stroke="#5e6ed2" stroke-width="1.1"/><ellipse cx="254.90" cy="121.00" rx="1.23" ry="1.07" fill="none" stroke="#5e6ed2" stroke-width="0.7" opacity="0.6"/></g>
<g opacity="0.75"><ellipse cx="259.50" cy="115.70" rx="2.60" ry="2.30" fill="none" stroke="#e97f52" stroke-width="1.0"/><ellipse cx="259.50" cy="115.70" rx="1.30" ry="1.15" fill="none" stroke="#e97f52" stroke-width="0.7" opacity="0.6"/></g>
<g opacity="0.75"><ellipse cx="259.50" cy="115.70" rx="2.45" ry="2.15" fill="none" stroke="#5e6ed2" stroke-width="1.0"/><ellipse cx="259.50" cy="115.70" rx="1.23" ry="1.07" fill="none" stroke="#5e6ed2" stroke-width="0.7" opacity="0.6"/></g>
<g opacity="0.8"><ellipse cx="259.50" cy="115.70" rx="2.45" ry="2.15" fill="none" stroke="#6e3f78" stroke-width="0.9"/><ellipse cx="259.50" cy="115.70" rx="1.23" ry="1.07" fill="none" stroke="#6e3f78" stroke-width="0.7" opacity="0.6"/></g>
<g opacity="0.75"><ellipse cx="263.60" cy="115.00" rx="2.60" ry="2.30" fill="none" stroke="#e97f52" stroke-width="1.0"/><ellipse cx="263.60" cy="115.00" rx="1.30" ry="1.15" fill="none" stroke="#e97f52" stroke-width="0.7" opacity="0.6"/></g>
<g opacity="0.75"><ellipse cx="263.60" cy="115.00" rx="2.45" ry="2.15" fill="none" stroke="#5e6ed2" stroke-width="1.0"/><ellipse cx="263.60" cy="115.00" rx="1.23" ry="1.07" fill="none" stroke="#5e6ed2" stroke-width="0.7" opacity="0.6"/></g>
<g opacity="0.8"><ellipse cx="263.60" cy="115.00" rx="2.45" ry="2.15" fill="none" stroke="#6e3f78" stroke-width="0.9"/><ellipse cx="263.60" cy="115.00" rx="1.23" ry="1.07" fill="none" stroke="#6e3f78" stroke-width="0.7" opacity="0.6"/></g>
<g opacity="0.75"><ellipse cx="269.30" cy="114.30" rx="2.60" ry="2.30" fill="none" stroke="#e97f52" stroke-width="1.0"/><ellipse cx="269.30" cy="114.30" rx="1.30" ry="1.15" fill="none" stroke="#e97f52" stroke-width="0.7" opacity="0.6"/></g>
<g opacity="0.75"><ellipse cx="269.30" cy="114.30" rx="2.45" ry="2.15" fill="none" stroke="#5e6ed2" stroke-width="1.0"/><ellipse cx="269.30" cy="114.30" rx="1.23" ry="1.07" fill="none" stroke="#5e6ed2" stroke-width="0.7" opacity="0.6"/></g>
<g opacity="0.8"><ellipse cx="269.30" cy="114.30" rx="2.45" ry="2.15" fill="none" stroke="#6e3f78" stroke-width="0.9"/><ellipse cx="269.30" cy="114.30" rx="1.23" ry="1.07" fill="none" stroke="#6e3f78" stroke-width="0.7" opacity="0.6"/></g>
<g opacity="0.75"><ellipse cx="275.00" cy="116.40" rx="2.60" ry="2.30" fill="none" stroke="#e97f52" stroke-width="1.0"/><ellipse cx="275.00" cy="116.40" rx="1.30" ry="1.15" fill="none" stroke="#e97f52" stroke-width="0.7" opacity="0.6"/></g>
<g opacity="0.75"><ellipse cx="275.00" cy="116.40" rx="2.45" ry="2.15" fill="none" stroke="#5e6ed2" stroke-width="1.0"/><ellipse cx="275.00" cy="116.40" rx="1.23" ry="1.07" fill="none" stroke="#5e6ed2" stroke-width="0.7" opacity="0.6"/></g>
<g opacity="0.8"><ellipse cx="275.00" cy="116.40" rx="2.45" ry="2.15" fill="none" stroke="#6e3f78" stroke-width="0.9"/><ellipse cx="275.00" cy="116.40" rx="1.23" ry="1.07" fill="none" stroke="#6e3f78" stroke-width="0.7" opacity="0.6"/></g>
<g opacity="0.85"><ellipse cx="229.30" cy="136.70" rx="2.45" ry="2.15" fill="none" stroke="#e97f52" stroke-width="1.1"/><ellipse cx="229.30" cy="136.70" rx="1.23" ry="1.07" fill="none" stroke="#e97f52" stroke-width="0.7" opacity="0.6"/></g>
<g opacity="0.85"><ellipse cx="234.60" cy="136.70" rx="2.45" ry="2.15" fill="none" stroke="#5e6ed2" stroke-width="1.1"/><ellipse cx="234.60" cy="136.70" rx="1.23" ry="1.07" fill="none" stroke="#5e6ed2" stroke-width="0.7" opacity="0.6"/></g>
<g opacity="0.85"><ellipse cx="237.60" cy="137.70" rx="2.45" ry="2.15" fill="none" stroke="#e97f52" stroke-width="1.1"/><ellipse cx="237.60" cy="137.70" rx="1.23" ry="1.07" fill="none" stroke="#e97f52" stroke-width="0.7" opacity="0.6"/></g>
<g opacity="0.75"><ellipse cx="233.00" cy="143.60" rx="2.15" ry="3.15" fill="none" stroke="#e97f52" stroke-width="1.0"/><ellipse cx="233.00" cy="143.60" rx="1.07" ry="1.57" fill="none" stroke="#e97f52" stroke-width="0.7" opacity="0.6"/></g>
<g opacity="0.75"><ellipse cx="233.20" cy="143.60" rx="2.00" ry="3.00" fill="none" stroke="#5e6ed2" stroke-width="1.0"/><ellipse cx="233.20" cy="143.60" rx="1.00" ry="1.50" fill="none" stroke="#5e6ed2" stroke-width="0.7" opacity="0.6"/></g>
<g opacity="0.8"><ellipse cx="233.10" cy="143.60" rx="2.00" ry="3.00" fill="none" stroke="#6e3f78" stroke-width="0.9"/><ellipse cx="233.10" cy="143.60" rx="1.00" ry="1.50" fill="none" stroke="#6e3f78" stroke-width="0.7" opacity="0.6"/></g>
<g opacity="0.75"><ellipse cx="259.10" cy="144.30" rx="2.60" ry="2.30" fill="none" stroke="#e97f52" stroke-width="1.0"/><ellipse cx="259.10" cy="144.30" rx="1.30" ry="1.15" fill="none" stroke="#e97f52" stroke-width="0.7" opacity="0.6"/></g>
<g opacity="0.75"><ellipse cx="259.10" cy="144.30" rx="2.45" ry="2.15" fill="none" stroke="#5e6ed2" stroke-width="1.0"/><ellipse cx="259.10" cy="144.30" rx="1.23" ry="1.07" fill="none" stroke="#5e6ed2" stroke-width="0.7" opacity="0.6"/></g>
<g opacity="0.8"><ellipse cx="259.10" cy="144.30" rx="2.45" ry="2.15" fill="none" stroke="#6e3f78" stroke-width="0.9"/><ellipse cx="259.10" cy="144.30" rx="1.23" ry="1.07" fill="none" stroke="#6e3f78" stroke-width="0.7" opacity="0.6"/></g>
<g opacity="0.75"><ellipse cx="285.70" cy="104.30" rx="2.60" ry="2.30" fill="none" stroke="#e97f52" stroke-width="1.0"/><ellipse cx="285.70" cy="104.30" rx="1.30" ry="1.15" fill="none" stroke="#e97f52" stroke-width="0.7" opacity="0.6"/></g>
<g opacity="0.75"><ellipse cx="285.70" cy="104.30" rx="2.45" ry="2.15" fill="none" stroke="#5e6ed2" stroke-width="1.0"/><ellipse cx="285.70" cy="104.30" rx="1.23" ry="1.07" fill="none" stroke="#5e6ed2" stroke-width="0.7" opacity="0.6"/></g>
<g opacity="0.8"><ellipse cx="285.70" cy="104.30" rx="2.45" ry="2.15" fill="none" stroke="#6e3f78" stroke-width="0.9"/><ellipse cx="285.70" cy="104.30" rx="1.23" ry="1.07" fill="none" stroke="#6e3f78" stroke-width="0.7" opacity="0.6"/></g>
<g opacity="0.75"><ellipse cx="303.10" cy="114.30" rx="2.60" ry="2.30" fill="none" stroke="#e97f52" stroke-width="1.0"/><ellipse cx="303.10" cy="114.30" rx="1.30" ry="1.15" fill="none" stroke="#e97f52" stroke-width="0.7" opacity="0.6"/></g>
<g opacity="0.75"><ellipse cx="303.10" cy="114.30" rx="2.45" ry="2.15" fill="none" stroke="#5e6ed2" stroke-width="1.0"/><ellipse cx="303.10" cy="114.30" rx="1.23" ry="1.07" fill="none" stroke="#5e6ed2" stroke-width="0.7" opacity="0.6"/></g>
<g opacity="0.8"><ellipse cx="303.10" cy="114.30" rx="2.45" ry="2.15" fill="none" stroke="#6e3f78" stroke-width="0.9"/><ellipse cx="303.10" cy="114.30" rx="1.23" ry="1.07" fill="none" stroke="#6e3f78" stroke-width="0.7" opacity="0.6"/></g>
<g opacity="0.75"><ellipse cx="344.50" cy="122.30" rx="2.60" ry="2.30" fill="none" stroke="#e97f52" stroke-width="1.0"/><ellipse cx="344.50" cy="122.30" rx="1.30" ry="1.15" fill="none" stroke="#e97f52" stroke-width="0.7" opacity="0.6"/></g>
<g opacity="0.75"><ellipse cx="344.50" cy="122.30" rx="2.45" ry="2.15" fill="none" stroke="#5e6ed2" stroke-width="1.0"/><ellipse cx="344.50" cy="122.30" rx="1.23" ry="1.07" fill="none" stroke="#5e6ed2" stroke-width="0.7" opacity="0.6"/></g>
<g opacity="0.8"><ellipse cx="344.50" cy="122.30" rx="2.45" ry="2.15" fill="none" stroke="#6e3f78" stroke-width="0.9"/><ellipse cx="344.50" cy="122.30" rx="1.23" ry="1.07" fill="none" stroke="#6e3f78" stroke-width="0.7" opacity="0.6"/></g>
<g opacity="0.45"><ellipse cx="286.80" cy="111.40" rx="2.20" ry="2.60" fill="none" stroke="#5e6ed2" stroke-width="0.6"/></g>
<g opacity="0.45"><ellipse cx="286.00" cy="111.70" rx="2.50" ry="2.80" fill="none" stroke="#e97f52" stroke-width="0.6"/></g>
<g opacity="0.45"><ellipse cx="286.10" cy="117.10" rx="2.00" ry="2.40" fill="none" stroke="#5e6ed2" stroke-width="0.6"/></g>
<g opacity="0.45"><ellipse cx="285.30" cy="117.40" rx="2.30" ry="2.60" fill="none" stroke="#e97f52" stroke-width="0.6"/></g>
<g opacity="0.45"><ellipse cx="274.60" cy="107.40" rx="1.80" ry="1.60" fill="none" stroke="#5e6ed2" stroke-width="0.6"/></g>
<g opacity="0.45"><ellipse cx="273.80" cy="107.70" rx="2.10" ry="1.80" fill="none" stroke="#e97f52" stroke-width="0.6"/></g>
<g opacity="0.45"><ellipse cx="276.10" cy="123.80" rx="2.60" ry="2.20" fill="none" stroke="#5e6ed2" stroke-width="0.6"/></g>
<g opacity="0.45"><ellipse cx="275.30" cy="124.10" rx="2.90" ry="2.40" fill="none" stroke="#e97f52" stroke-width="0.6"/></g>
<g opacity="0.45"><ellipse cx="280.70" cy="137.00" rx="2.40" ry="2.20" fill="none" stroke="#5e6ed2" stroke-width="0.6"/></g>
<g opacity="0.45"><ellipse cx="279.90" cy="137.30" rx="2.70" ry="2.40" fill="none" stroke="#e97f52" stroke-width="0.6"/></g>
<g opacity="0.45"><ellipse cx="280.40" cy="122.10" rx="2.20" ry="2.00" fill="none" stroke="#5e6ed2" stroke-width="0.6"/></g>
<g opacity="0.45"><ellipse cx="279.60" cy="122.40" rx="2.50" ry="2.20" fill="none" stroke="#e97f52" stroke-width="0.6"/></g>
<g transform="rotate(40 286.90 84.00)" opacity="0.45"><ellipse cx="286.90" cy="84.00" rx="5.50" ry="3.60" fill="none" stroke="#5e6ed2" stroke-width="0.6"/></g>
<g transform="rotate(40 286.10 84.30)" opacity="0.45"><ellipse cx="286.10" cy="84.30" rx="5.80" ry="3.80" fill="none" stroke="#e97f52" stroke-width="0.6"/></g>
<g opacity="0.45"><ellipse cx="287.40" cy="95.00" rx="4.80" ry="3.60" fill="none" stroke="#5e6ed2" stroke-width="0.6"/></g>
<g opacity="0.45"><ellipse cx="286.60" cy="95.30" rx="5.10" ry="3.80" fill="none" stroke="#e97f52" stroke-width="0.6"/></g>
<g opacity="0.45"><ellipse cx="286.90" cy="113.00" rx="2.80" ry="6.00" fill="none" stroke="#5e6ed2" stroke-width="0.6"/></g>
<g opacity="0.45"><ellipse cx="286.10" cy="113.30" rx="3.10" ry="6.20" fill="none" stroke="#e97f52" stroke-width="0.6"/></g>
<g transform="rotate(-8 266.40 115.80)" opacity="0.45"><ellipse cx="266.40" cy="115.80" rx="9.50" ry="3.20" fill="none" stroke="#5e6ed2" stroke-width="0.6"/></g>
<g transform="rotate(-8 265.60 116.10)" opacity="0.45"><ellipse cx="265.60" cy="116.10" rx="9.80" ry="3.40" fill="none" stroke="#e97f52" stroke-width="0.6"/></g>
<g opacity="0.45"><ellipse cx="300.40" cy="78.00" rx="4.20" ry="3.20" fill="none" stroke="#5e6ed2" stroke-width="0.6"/></g>
<g opacity="0.45"><ellipse cx="299.60" cy="78.30" rx="4.50" ry="3.40" fill="none" stroke="#e97f52" stroke-width="0.6"/></g>
<g opacity="0.45"><ellipse cx="281.90" cy="124.40" rx="2.50" ry="2.00" fill="none" stroke="#5e6ed2" stroke-width="0.6"/></g>
<g opacity="0.45"><ellipse cx="281.10" cy="124.70" rx="2.80" ry="2.20" fill="none" stroke="#e97f52" stroke-width="0.6"/></g>
<g opacity="0.45"><ellipse cx="232.90" cy="85.00" rx="4.00" ry="6.00" fill="none" stroke="#5e6ed2" stroke-width="0.6"/></g>
<g opacity="0.45"><ellipse cx="232.10" cy="85.30" rx="4.30" ry="6.20" fill="none" stroke="#e97f52" stroke-width="0.6"/></g>
<g opacity="0.45"><ellipse cx="247.90" cy="126.00" rx="3.50" ry="6.00" fill="none" stroke="#5e6ed2" stroke-width="0.6"/></g>
<g opacity="0.45"><ellipse cx="247.10" cy="126.30" rx="3.80" ry="6.20" fill="none" stroke="#e97f52" stroke-width="0.6"/></g>
<g opacity="0.45"><ellipse cx="234.40" cy="140.00" rx="3.00" ry="5.00" fill="none" stroke="#5e6ed2" stroke-width="0.6"/></g>
<g opacity="0.45"><ellipse cx="233.60" cy="140.30" rx="3.30" ry="5.20" fill="none" stroke="#e97f52" stroke-width="0.6"/></g>
<ellipse cx="320.60" cy="32.50" rx="0.9" ry="0.7" fill="#5e6ed2" opacity="0.8"/>
<ellipse cx="332.60" cy="38.20" rx="0.9" ry="0.7" fill="#e97f52" opacity="0.8"/>
<ellipse cx="315.40" cy="76.20" rx="0.9" ry="0.7" fill="#5e6ed2" opacity="0.8"/>
<ellipse cx="248.00" cy="105.50" rx="0.9" ry="0.7" fill="#e97f52" opacity="0.8"/>
<ellipse cx="263.00" cy="121.00" rx="0.9" ry="0.7" fill="#5e6ed2" opacity="0.8"/>
<ellipse cx="254.00" cy="127.00" rx="0.9" ry="0.7" fill="#e97f52" opacity="0.8"/>
</g></g>
<rect x="205.5" y="26" width="140.70" height="121.60" fill="none" stroke="#111" stroke-width="1.3"/>
<line x1="202.30" y1="27.00" x2="205.5" y2="27.00" stroke="#111" stroke-width="0.9"/>
<text x="200.00" y="29.20" font-size="6.3" text-anchor="end" fill="#1e1e1e" stroke="#1e1e1e" stroke-width="0.12" textLength="9.4" lengthAdjust="spacingAndGlyphs" >114</text>
<line x1="203.90" y1="31.32" x2="205.5" y2="31.32" stroke="#111" stroke-width="0.9"/>
<line x1="203.90" y1="35.64" x2="205.5" y2="35.64" stroke="#111" stroke-width="0.9"/>
<line x1="203.90" y1="39.96" x2="205.5" y2="39.96" stroke="#111" stroke-width="0.9"/>
<line x1="202.30" y1="44.28" x2="205.5" y2="44.28" stroke="#111" stroke-width="0.9"/>
<text x="200.00" y="46.48" font-size="6.3" text-anchor="end" fill="#1e1e1e" stroke="#1e1e1e" stroke-width="0.12" textLength="9.4" lengthAdjust="spacingAndGlyphs" >116</text>
<line x1="203.90" y1="48.60" x2="205.5" y2="48.60" stroke="#111" stroke-width="0.9"/>
<line x1="203.90" y1="52.92" x2="205.5" y2="52.92" stroke="#111" stroke-width="0.9"/>
<line x1="203.90" y1="57.24" x2="205.5" y2="57.24" stroke="#111" stroke-width="0.9"/>
<line x1="202.30" y1="61.56" x2="205.5" y2="61.56" stroke="#111" stroke-width="0.9"/>
<text x="200.00" y="63.76" font-size="6.3" text-anchor="end" fill="#1e1e1e" stroke="#1e1e1e" stroke-width="0.12" textLength="9.4" lengthAdjust="spacingAndGlyphs" >118</text>
<line x1="203.90" y1="65.88" x2="205.5" y2="65.88" stroke="#111" stroke-width="0.9"/>
<line x1="203.90" y1="70.20" x2="205.5" y2="70.20" stroke="#111" stroke-width="0.9"/>
<line x1="203.90" y1="74.52" x2="205.5" y2="74.52" stroke="#111" stroke-width="0.9"/>
<line x1="202.30" y1="78.84" x2="205.5" y2="78.84" stroke="#111" stroke-width="0.9"/>
<text x="200.00" y="81.04" font-size="6.3" text-anchor="end" fill="#1e1e1e" stroke="#1e1e1e" stroke-width="0.12" textLength="9.4" lengthAdjust="spacingAndGlyphs" >120</text>
<line x1="203.90" y1="83.16" x2="205.5" y2="83.16" stroke="#111" stroke-width="0.9"/>
<line x1="203.90" y1="87.48" x2="205.5" y2="87.48" stroke="#111" stroke-width="0.9"/>
<line x1="203.90" y1="91.80" x2="205.5" y2="91.80" stroke="#111" stroke-width="0.9"/>
<line x1="202.30" y1="96.12" x2="205.5" y2="96.12" stroke="#111" stroke-width="0.9"/>
<text x="200.00" y="98.32" font-size="6.3" text-anchor="end" fill="#1e1e1e" stroke="#1e1e1e" stroke-width="0.12" textLength="9.4" lengthAdjust="spacingAndGlyphs" >122</text>
<line x1="203.90" y1="100.44" x2="205.5" y2="100.44" stroke="#111" stroke-width="0.9"/>
<line x1="203.90" y1="104.76" x2="205.5" y2="104.76" stroke="#111" stroke-width="0.9"/>
<line x1="203.90" y1="109.08" x2="205.5" y2="109.08" stroke="#111" stroke-width="0.9"/>
<line x1="202.30" y1="113.40" x2="205.5" y2="113.40" stroke="#111" stroke-width="0.9"/>
<text x="200.00" y="115.60" font-size="6.3" text-anchor="end" fill="#1e1e1e" stroke="#1e1e1e" stroke-width="0.12" textLength="9.4" lengthAdjust="spacingAndGlyphs" >124</text>
<line x1="203.90" y1="117.72" x2="205.5" y2="117.72" stroke="#111" stroke-width="0.9"/>
<line x1="203.90" y1="122.04" x2="205.5" y2="122.04" stroke="#111" stroke-width="0.9"/>
<line x1="203.90" y1="126.36" x2="205.5" y2="126.36" stroke="#111" stroke-width="0.9"/>
<line x1="202.30" y1="130.68" x2="205.5" y2="130.68" stroke="#111" stroke-width="0.9"/>
<text x="200.00" y="132.88" font-size="6.3" text-anchor="end" fill="#1e1e1e" stroke="#1e1e1e" stroke-width="0.12" textLength="9.4" lengthAdjust="spacingAndGlyphs" >126</text>
<line x1="203.90" y1="135.00" x2="205.5" y2="135.00" stroke="#111" stroke-width="0.9"/>
<line x1="203.90" y1="139.32" x2="205.5" y2="139.32" stroke="#111" stroke-width="0.9"/>
<line x1="203.90" y1="143.64" x2="205.5" y2="143.64" stroke="#111" stroke-width="0.9"/>
<line x1="207.07" y1="147.6" x2="207.07" y2="149.10" stroke="#111" stroke-width="0.8"/>
<line x1="209.73" y1="147.6" x2="209.73" y2="149.10" stroke="#111" stroke-width="0.8"/>
<line x1="212.39" y1="147.6" x2="212.39" y2="149.10" stroke="#111" stroke-width="0.8"/>
<line x1="215.05" y1="147.6" x2="215.05" y2="149.10" stroke="#111" stroke-width="0.8"/>
<line x1="217.72" y1="147.6" x2="217.72" y2="149.10" stroke="#111" stroke-width="0.8"/>
<line x1="220.38" y1="147.6" x2="220.38" y2="149.10" stroke="#111" stroke-width="0.8"/>
<line x1="223.04" y1="147.6" x2="223.04" y2="149.10" stroke="#111" stroke-width="0.8"/>
<line x1="225.70" y1="147.6" x2="225.70" y2="150.40" stroke="#111" stroke-width="0.8"/>
<line x1="228.36" y1="147.6" x2="228.36" y2="149.10" stroke="#111" stroke-width="0.8"/>
<line x1="231.02" y1="147.6" x2="231.02" y2="149.10" stroke="#111" stroke-width="0.8"/>
<line x1="233.68" y1="147.6" x2="233.68" y2="149.10" stroke="#111" stroke-width="0.8"/>
<line x1="236.35" y1="147.6" x2="236.35" y2="149.10" stroke="#111" stroke-width="0.8"/>
<line x1="239.01" y1="147.6" x2="239.01" y2="149.10" stroke="#111" stroke-width="0.8"/>
<line x1="241.67" y1="147.6" x2="241.67" y2="149.10" stroke="#111" stroke-width="0.8"/>
<line x1="244.33" y1="147.6" x2="244.33" y2="149.10" stroke="#111" stroke-width="0.8"/>
<line x1="246.99" y1="147.6" x2="246.99" y2="149.10" stroke="#111" stroke-width="0.8"/>
<line x1="249.65" y1="147.6" x2="249.65" y2="149.10" stroke="#111" stroke-width="0.8"/>
<line x1="252.32" y1="147.6" x2="252.32" y2="149.10" stroke="#111" stroke-width="0.8"/>
<line x1="254.98" y1="147.6" x2="254.98" y2="149.10" stroke="#111" stroke-width="0.8"/>
<line x1="257.64" y1="147.6" x2="257.64" y2="149.10" stroke="#111" stroke-width="0.8"/>
<line x1="260.30" y1="147.6" x2="260.30" y2="150.40" stroke="#111" stroke-width="0.8"/>
<line x1="262.96" y1="147.6" x2="262.96" y2="149.10" stroke="#111" stroke-width="0.8"/>
<line x1="265.62" y1="147.6" x2="265.62" y2="149.10" stroke="#111" stroke-width="0.8"/>
<line x1="268.28" y1="147.6" x2="268.28" y2="149.10" stroke="#111" stroke-width="0.8"/>
<line x1="270.95" y1="147.6" x2="270.95" y2="149.10" stroke="#111" stroke-width="0.8"/>
<line x1="273.61" y1="147.6" x2="273.61" y2="149.10" stroke="#111" stroke-width="0.8"/>
<line x1="276.27" y1="147.6" x2="276.27" y2="149.10" stroke="#111" stroke-width="0.8"/>
<line x1="278.93" y1="147.6" x2="278.93" y2="149.10" stroke="#111" stroke-width="0.8"/>
<line x1="281.59" y1="147.6" x2="281.59" y2="149.10" stroke="#111" stroke-width="0.8"/>
<line x1="284.25" y1="147.6" x2="284.25" y2="149.10" stroke="#111" stroke-width="0.8"/>
<line x1="286.92" y1="147.6" x2="286.92" y2="149.10" stroke="#111" stroke-width="0.8"/>
<line x1="289.58" y1="147.6" x2="289.58" y2="149.10" stroke="#111" stroke-width="0.8"/>
<line x1="292.24" y1="147.6" x2="292.24" y2="149.10" stroke="#111" stroke-width="0.8"/>
<line x1="294.90" y1="147.6" x2="294.90" y2="150.40" stroke="#111" stroke-width="0.8"/>
<line x1="297.56" y1="147.6" x2="297.56" y2="149.10" stroke="#111" stroke-width="0.8"/>
<line x1="300.22" y1="147.6" x2="300.22" y2="149.10" stroke="#111" stroke-width="0.8"/>
<line x1="302.88" y1="147.6" x2="302.88" y2="149.10" stroke="#111" stroke-width="0.8"/>
<line x1="305.55" y1="147.6" x2="305.55" y2="149.10" stroke="#111" stroke-width="0.8"/>
<line x1="308.21" y1="147.6" x2="308.21" y2="149.10" stroke="#111" stroke-width="0.8"/>
<line x1="310.87" y1="147.6" x2="310.87" y2="149.10" stroke="#111" stroke-width="0.8"/>
<line x1="313.53" y1="147.6" x2="313.53" y2="149.10" stroke="#111" stroke-width="0.8"/>
<line x1="316.19" y1="147.6" x2="316.19" y2="149.10" stroke="#111" stroke-width="0.8"/>
<line x1="318.85" y1="147.6" x2="318.85" y2="149.10" stroke="#111" stroke-width="0.8"/>
<line x1="321.52" y1="147.6" x2="321.52" y2="149.10" stroke="#111" stroke-width="0.8"/>
<line x1="324.18" y1="147.6" x2="324.18" y2="149.10" stroke="#111" stroke-width="0.8"/>
<line x1="326.84" y1="147.6" x2="326.84" y2="149.10" stroke="#111" stroke-width="0.8"/>
<line x1="329.50" y1="147.6" x2="329.50" y2="150.40" stroke="#111" stroke-width="0.8"/>
<line x1="332.16" y1="147.6" x2="332.16" y2="149.10" stroke="#111" stroke-width="0.8"/>
<line x1="334.82" y1="147.6" x2="334.82" y2="149.10" stroke="#111" stroke-width="0.8"/>
<line x1="337.48" y1="147.6" x2="337.48" y2="149.10" stroke="#111" stroke-width="0.8"/>
<line x1="340.15" y1="147.6" x2="340.15" y2="149.10" stroke="#111" stroke-width="0.8"/>
<line x1="342.81" y1="147.6" x2="342.81" y2="149.10" stroke="#111" stroke-width="0.8"/>
<line x1="345.47" y1="147.6" x2="345.47" y2="149.10" stroke="#111" stroke-width="0.8"/>
<text x="225.70" y="159.60" font-size="6.3" text-anchor="middle" fill="#1e1e1e" stroke="#1e1e1e" stroke-width="0.12" textLength="8.2" lengthAdjust="spacingAndGlyphs" >9.0</text>
<text x="260.30" y="159.60" font-size="6.3" text-anchor="middle" fill="#1e1e1e" stroke="#1e1e1e" stroke-width="0.12" textLength="8.2" lengthAdjust="spacingAndGlyphs" >8.5</text>
<text x="294.90" y="159.60" font-size="6.3" text-anchor="middle" fill="#1e1e1e" stroke="#1e1e1e" stroke-width="0.12" textLength="8.2" lengthAdjust="spacingAndGlyphs" >8.0</text>
<text x="329.50" y="159.60" font-size="6.3" text-anchor="middle" fill="#1e1e1e" stroke="#1e1e1e" stroke-width="0.12" textLength="8.2" lengthAdjust="spacingAndGlyphs" >7.5</text>
<text x="276.00" y="171.80" font-size="8" text-anchor="middle" fill="#151515" stroke="#151515" stroke-width="0.12" textLength="35.2" lengthAdjust="spacingAndGlyphs" >HN (ppm)</text>
<rect x="282.6" y="123.4" width="62.00" height="22.00" fill="#fff" stroke="#555" stroke-width="0.9"/>
<rect x="291.2" y="127.20" width="5.8" height="6" fill="#2c5296" stroke="#1a2a50" stroke-width="0.6"/>
<rect x="291.2" y="136.80" width="5.8" height="6" fill="#c20a30" stroke="#50080f" stroke-width="0.6"/>
<text x="301.20" y="132.00" font-size="4.8" text-anchor="start" fill="#151515" stroke="#151515" stroke-width="0.06" textLength="27.2" lengthAdjust="spacingAndGlyphs" >F0 WT alone</text>
<text x="301.20" y="141.60" font-size="4.8" text-anchor="start" fill="#151515" stroke="#151515" stroke-width="0.06" textLength="31.2" lengthAdjust="spacingAndGlyphs" >F0 R35E alone</text>
<text x="0" y="0" font-size="8.4" fill="#222" text-anchor="middle" textLength="29.6" lengthAdjust="spacingAndGlyphs" transform="translate(181.9 86.5) rotate(-90)">N (ppm)</text>
<clipPath id="cc"><rect x="370.5" y="26" width="140.7" height="121.6"/></clipPath>
<g clip-path="url(#cc)"><g filter="url(#pb)">
<g opacity="0.85"><ellipse cx="383.20" cy="59.70" rx="2.45" ry="2.15" fill="none" stroke="#5e6ed2" stroke-width="1.1"/><ellipse cx="383.20" cy="59.70" rx="1.23" ry="1.07" fill="none" stroke="#5e6ed2" stroke-width="0.7" opacity="0.6"/></g>
<g opacity="0.8"><ellipse cx="388.10" cy="53.10" rx="2.45" ry="2.15" fill="none" stroke="#e97f52" stroke-width="1.1"/><ellipse cx="388.10" cy="53.10" rx="1.23" ry="1.07" fill="none" stroke="#e97f52" stroke-width="0.7" opacity="0.6"/></g>
<g opacity="0.8"><ellipse cx="412.82" cy="48.63" rx="2.85" ry="2.45" fill="none" stroke="#e97f52" stroke-width="1.1"/><ellipse cx="412.82" cy="48.63" rx="1.43" ry="1.22" fill="none" stroke="#e97f52" stroke-width="0.7" opacity="0.6"/></g>
<g opacity="0.75"><ellipse cx="413.40" cy="48.50" rx="2.45" ry="2.15" fill="none" stroke="#5e6ed2" stroke-width="1.1"/><ellipse cx="413.40" cy="48.50" rx="1.23" ry="1.07" fill="none" stroke="#5e6ed2" stroke-width="0.7" opacity="0.6"/></g>
<g opacity="0.4"><ellipse cx="413.11" cy="48.57" rx="2.25" ry="1.95" fill="none" stroke="#6e3f78" stroke-width="0.7"/></g>
<g opacity="0.8"><ellipse cx="436.21" cy="51.55" rx="3.30" ry="4.00" fill="none" stroke="#e97f52" stroke-width="1.1"/><ellipse cx="436.21" cy="51.55" rx="1.65" ry="2.00" fill="none" stroke="#e97f52" stroke-width="0.7" opacity="0.6"/></g>
<g opacity="0.75"><ellipse cx="436.50" cy="51.30" rx="2.90" ry="3.70" fill="none" stroke="#5e6ed2" stroke-width="1.1"/><ellipse cx="436.50" cy="51.30" rx="1.45" ry="1.85" fill="none" stroke="#5e6ed2" stroke-width="0.7" opacity="0.6"/></g>
<g opacity="0.4"><ellipse cx="436.36" cy="51.42" rx="2.70" ry="3.50" fill="none" stroke="#6e3f78" stroke-width="0.7"/></g>
<g opacity="0.8"><ellipse cx="436.68" cy="57.02" rx="3.30" ry="2.70" fill="none" stroke="#e97f52" stroke-width="1.1"/><ellipse cx="436.68" cy="57.02" rx="1.65" ry="1.35" fill="none" stroke="#e97f52" stroke-width="0.7" opacity="0.6"/></g>
<g opacity="0.75"><ellipse cx="436.40" cy="57.80" rx="2.90" ry="2.40" fill="none" stroke="#5e6ed2" stroke-width="1.1"/><ellipse cx="436.40" cy="57.80" rx="1.45" ry="1.20" fill="none" stroke="#5e6ed2" stroke-width="0.7" opacity="0.6"/></g>
<g opacity="0.4"><ellipse cx="436.54" cy="57.41" rx="2.70" ry="2.20" fill="none" stroke="#6e3f78" stroke-width="0.7"/></g>
<g opacity="0.8"><ellipse cx="448.13" cy="28.99" rx="2.85" ry="2.45" fill="none" stroke="#e97f52" stroke-width="1.1"/><ellipse cx="448.13" cy="28.99" rx="1.43" ry="1.22" fill="none" stroke="#e97f52" stroke-width="0.7" opacity="0.6"/></g>
<g opacity="0.75"><ellipse cx="449.20" cy="28.30" rx="2.45" ry="2.15" fill="none" stroke="#5e6ed2" stroke-width="1.1"/><ellipse cx="449.20" cy="28.30" rx="1.23" ry="1.07" fill="none" stroke="#5e6ed2" stroke-width="0.7" opacity="0.6"/></g>
<g opacity="0.4"><ellipse cx="448.66" cy="28.65" rx="2.25" ry="1.95" fill="none" stroke="#6e3f78" stroke-width="0.7"/></g>
<g opacity="0.8"><ellipse cx="472.37" cy="29.95" rx="3.30" ry="2.80" fill="none" stroke="#e97f52" stroke-width="1.1"/><ellipse cx="472.37" cy="29.95" rx="1.65" ry="1.40" fill="none" stroke="#e97f52" stroke-width="0.7" opacity="0.6"/></g>
<g opacity="0.75"><ellipse cx="472.90" cy="30.40" rx="2.90" ry="2.50" fill="none" stroke="#5e6ed2" stroke-width="1.1"/><ellipse cx="472.90" cy="30.40" rx="1.45" ry="1.25" fill="none" stroke="#5e6ed2" stroke-width="0.7" opacity="0.6"/></g>
<g opacity="0.4"><ellipse cx="472.64" cy="30.17" rx="2.70" ry="2.30" fill="none" stroke="#6e3f78" stroke-width="0.7"/></g>
<g opacity="0.8"><ellipse cx="492.29" cy="26.79" rx="2.90" ry="2.30" fill="none" stroke="#e97f52" stroke-width="1.1"/><ellipse cx="492.29" cy="26.79" rx="1.45" ry="1.15" fill="none" stroke="#e97f52" stroke-width="0.7" opacity="0.6"/></g>
<g opacity="0.75"><ellipse cx="491.20" cy="26.80" rx="2.50" ry="2.00" fill="none" stroke="#5e6ed2" stroke-width="1.1"/><ellipse cx="491.20" cy="26.80" rx="1.25" ry="1.00" fill="none" stroke="#5e6ed2" stroke-width="0.7" opacity="0.6"/></g>
<g opacity="0.4"><ellipse cx="491.75" cy="26.80" rx="2.30" ry="1.80" fill="none" stroke="#6e3f78" stroke-width="0.7"/></g>
<g opacity="0.85"><ellipse cx="485.60" cy="37.50" rx="2.60" ry="2.40" fill="none" stroke="#5e6ed2" stroke-width="1.1"/><ellipse cx="485.60" cy="37.50" rx="1.30" ry="1.20" fill="none" stroke="#5e6ed2" stroke-width="0.7" opacity="0.6"/></g>
<g opacity="0.8"><ellipse cx="489.20" cy="37.10" rx="2.60" ry="2.40" fill="none" stroke="#e97f52" stroke-width="1.1"/><ellipse cx="489.20" cy="37.10" rx="1.30" ry="1.20" fill="none" stroke="#e97f52" stroke-width="0.7" opacity="0.6"/></g>
<g opacity="0.8"><ellipse cx="493.44" cy="47.81" rx="2.85" ry="2.45" fill="none" stroke="#e97f52" stroke-width="1.1"/><ellipse cx="493.44" cy="47.81" rx="1.43" ry="1.22" fill="none" stroke="#e97f52" stroke-width="0.7" opacity="0.6"/></g>
<g opacity="0.75"><ellipse cx="492.70" cy="47.80" rx="2.45" ry="2.15" fill="none" stroke="#5e6ed2" stroke-width="1.1"/><ellipse cx="492.70" cy="47.80" rx="1.23" ry="1.07" fill="none" stroke="#5e6ed2" stroke-width="0.7" opacity="0.6"/></g>
<g opacity="0.4"><ellipse cx="493.07" cy="47.80" rx="2.25" ry="1.95" fill="none" stroke="#6e3f78" stroke-width="0.7"/></g>
<g opacity="0.8"><ellipse cx="498.71" cy="51.39" rx="2.85" ry="2.45" fill="none" stroke="#e97f52" stroke-width="1.1"/><ellipse cx="498.71" cy="51.39" rx="1.43" ry="1.22" fill="none" stroke="#e97f52" stroke-width="0.7" opacity="0.6"/></g>
<g opacity="0.75"><ellipse cx="498.40" cy="52.00" rx="2.45" ry="2.15" fill="none" stroke="#5e6ed2" stroke-width="1.1"/><ellipse cx="498.40" cy="52.00" rx="1.23" ry="1.07" fill="none" stroke="#5e6ed2" stroke-width="0.7" opacity="0.6"/></g>
<g opacity="0.4"><ellipse cx="498.55" cy="51.69" rx="2.25" ry="1.95" fill="none" stroke="#6e3f78" stroke-width="0.7"/></g>
<g opacity="0.8"><ellipse cx="503.30" cy="59.35" rx="2.85" ry="2.45" fill="none" stroke="#e97f52" stroke-width="1.1"/><ellipse cx="503.30" cy="59.35" rx="1.43" ry="1.22" fill="none" stroke="#e97f52" stroke-width="0.7" opacity="0.6"/></g>
<g opacity="0.75"><ellipse cx="503.00" cy="58.60" rx="2.45" ry="2.15" fill="none" stroke="#5e6ed2" stroke-width="1.1"/><ellipse cx="503.00" cy="58.60" rx="1.23" ry="1.07" fill="none" stroke="#5e6ed2" stroke-width="0.7" opacity="0.6"/></g>
<g opacity="0.4"><ellipse cx="503.15" cy="58.97" rx="2.25" ry="1.95" fill="none" stroke="#6e3f78" stroke-width="0.7"/></g>
<g opacity="0.8"><ellipse cx="509.95" cy="61.11" rx="2.85" ry="2.45" fill="none" stroke="#e97f52" stroke-width="1.1"/><ellipse cx="509.95" cy="61.11" rx="1.43" ry="1.22" fill="none" stroke="#e97f52" stroke-width="0.7" opacity="0.6"/></g>
<g opacity="0.75"><ellipse cx="509.90" cy="60.60" rx="2.45" ry="2.15" fill="none" stroke="#5e6ed2" stroke-width="1.1"/><ellipse cx="509.90" cy="60.60" rx="1.23" ry="1.07" fill="none" stroke="#5e6ed2" stroke-width="0.7" opacity="0.6"/></g>
<g opacity="0.4"><ellipse cx="509.93" cy="60.85" rx="2.25" ry="1.95" fill="none" stroke="#6e3f78" stroke-width="0.7"/></g>
<g opacity="0.8"><ellipse cx="471.08" cy="62.42" rx="2.85" ry="2.45" fill="none" stroke="#e97f52" stroke-width="1.1"/><ellipse cx="471.08" cy="62.42" rx="1.43" ry="1.22" fill="none" stroke="#e97f52" stroke-width="0.7" opacity="0.6"/></g>
<g opacity="0.75"><ellipse cx="470.70" cy="63.20" rx="2.45" ry="2.15" fill="none" stroke="#5e6ed2" stroke-width="1.1"/><ellipse cx="470.70" cy="63.20" rx="1.23" ry="1.07" fill="none" stroke="#5e6ed2" stroke-width="0.7" opacity="0.6"/></g>
<g opacity="0.4"><ellipse cx="470.89" cy="62.81" rx="2.25" ry="1.95" fill="none" stroke="#6e3f78" stroke-width="0.7"/></g>
<g opacity="0.85"><ellipse cx="479.90" cy="68.90" rx="2.45" ry="2.15" fill="none" stroke="#5e6ed2" stroke-width="1.1"/><ellipse cx="479.90" cy="68.90" rx="1.23" ry="1.07" fill="none" stroke="#5e6ed2" stroke-width="0.7" opacity="0.6"/></g>
<g opacity="0.8"><ellipse cx="489.90" cy="57.80" rx="2.45" ry="2.15" fill="none" stroke="#e97f52" stroke-width="1.1"/><ellipse cx="489.90" cy="57.80" rx="1.23" ry="1.07" fill="none" stroke="#e97f52" stroke-width="0.7" opacity="0.6"/></g>
<g opacity="0.8"><ellipse cx="436.87" cy="67.72" rx="2.85" ry="2.45" fill="none" stroke="#e97f52" stroke-width="1.1"/><ellipse cx="436.87" cy="67.72" rx="1.43" ry="1.22" fill="none" stroke="#e97f52" stroke-width="0.7" opacity="0.6"/></g>
<g opacity="0.75"><ellipse cx="436.30" cy="67.50" rx="2.45" ry="2.15" fill="none" stroke="#5e6ed2" stroke-width="1.1"/><ellipse cx="436.30" cy="67.50" rx="1.23" ry="1.07" fill="none" stroke="#5e6ed2" stroke-width="0.7" opacity="0.6"/></g>
<g opacity="0.4"><ellipse cx="436.58" cy="67.61" rx="2.25" ry="1.95" fill="none" stroke="#6e3f78" stroke-width="0.7"/></g>
<g opacity="0.8"><ellipse cx="438.76" cy="63.86" rx="2.85" ry="2.45" fill="none" stroke="#e97f52" stroke-width="1.1"/><ellipse cx="438.76" cy="63.86" rx="1.43" ry="1.22" fill="none" stroke="#e97f52" stroke-width="0.7" opacity="0.6"/></g>
<g opacity="0.75"><ellipse cx="439.20" cy="64.70" rx="2.45" ry="2.15" fill="none" stroke="#5e6ed2" stroke-width="1.1"/><ellipse cx="439.20" cy="64.70" rx="1.23" ry="1.07" fill="none" stroke="#5e6ed2" stroke-width="0.7" opacity="0.6"/></g>
<g opacity="0.4"><ellipse cx="438.98" cy="64.28" rx="2.25" ry="1.95" fill="none" stroke="#6e3f78" stroke-width="0.7"/></g>
<g opacity="0.8"><ellipse cx="391.60" cy="75.20" rx="2.85" ry="2.45" fill="none" stroke="#e97f52" stroke-width="1.1"/><ellipse cx="391.60" cy="75.20" rx="1.43" ry="1.22" fill="none" stroke="#e97f52" stroke-width="0.7" opacity="0.6"/></g>
<g opacity="0.75"><ellipse cx="390.80" cy="75.20" rx="2.45" ry="2.15" fill="none" stroke="#5e6ed2" stroke-width="1.1"/><ellipse cx="390.80" cy="75.20" rx="1.23" ry="1.07" fill="none" stroke="#5e6ed2" stroke-width="0.7" opacity="0.6"/></g>
<g opacity="0.4"><ellipse cx="391.20" cy="75.20" rx="2.25" ry="1.95" fill="none" stroke="#6e3f78" stroke-width="0.7"/></g>
<g opacity="0.8"><ellipse cx="399.18" cy="73.87" rx="2.85" ry="2.45" fill="none" stroke="#e97f52" stroke-width="1.1"/><ellipse cx="399.18" cy="73.87" rx="1.43" ry="1.22" fill="none" stroke="#e97f52" stroke-width="0.7" opacity="0.6"/></g>
<g opacity="0.75"><ellipse cx="398.70" cy="73.10" rx="2.45" ry="2.15" fill="none" stroke="#5e6ed2" stroke-width="1.1"/><ellipse cx="398.70" cy="73.10" rx="1.23" ry="1.07" fill="none" stroke="#5e6ed2" stroke-width="0.7" opacity="0.6"/></g>
<g opacity="0.4"><ellipse cx="398.94" cy="73.48" rx="2.25" ry="1.95" fill="none" stroke="#6e3f78" stroke-width="0.7"/></g>
<g opacity="0.8"><ellipse cx="400.27" cy="82.95" rx="2.85" ry="2.45" fill="none" stroke="#e97f52" stroke-width="1.1"/><ellipse cx="400.27" cy="82.95" rx="1.43" ry="1.22" fill="none" stroke="#e97f52" stroke-width="0.7" opacity="0.6"/></g>
<g opacity="0.75"><ellipse cx="399.80" cy="82.10" rx="2.45" ry="2.15" fill="none" stroke="#5e6ed2" stroke-width="1.1"/><ellipse cx="399.80" cy="82.10" rx="1.23" ry="1.07" fill="none" stroke="#5e6ed2" stroke-width="0.7" opacity="0.6"/></g>
<g opacity="0.4"><ellipse cx="400.04" cy="82.53" rx="2.25" ry="1.95" fill="none" stroke="#6e3f78" stroke-width="0.7"/></g>
<g opacity="0.8"><ellipse cx="397.57" cy="87.92" rx="2.85" ry="2.45" fill="none" stroke="#e97f52" stroke-width="1.1"/><ellipse cx="397.57" cy="87.92" rx="1.43" ry="1.22" fill="none" stroke="#e97f52" stroke-width="0.7" opacity="0.6"/></g>
<g opacity="0.75"><ellipse cx="397.80" cy="87.30" rx="2.45" ry="2.15" fill="none" stroke="#5e6ed2" stroke-width="1.1"/><ellipse cx="397.80" cy="87.30" rx="1.23" ry="1.07" fill="none" stroke="#5e6ed2" stroke-width="0.7" opacity="0.6"/></g>
<g opacity="0.4"><ellipse cx="397.68" cy="87.61" rx="2.25" ry="1.95" fill="none" stroke="#6e3f78" stroke-width="0.7"/></g>
<g opacity="0.8"><ellipse cx="400.88" cy="95.38" rx="2.85" ry="2.45" fill="none" stroke="#e97f52" stroke-width="1.1"/><ellipse cx="400.88" cy="95.38" rx="1.43" ry="1.22" fill="none" stroke="#e97f52" stroke-width="0.7" opacity="0.6"/></g>
<g opacity="0.75"><ellipse cx="401.00" cy="94.50" rx="2.45" ry="2.15" fill="none" stroke="#5e6ed2" stroke-width="1.1"/><ellipse cx="401.00" cy="94.50" rx="1.23" ry="1.07" fill="none" stroke="#5e6ed2" stroke-width="0.7" opacity="0.6"/></g>
<g opacity="0.4"><ellipse cx="400.94" cy="94.94" rx="2.25" ry="1.95" fill="none" stroke="#6e3f78" stroke-width="0.7"/></g>
<g opacity="0.85"><ellipse cx="380.50" cy="95.00" rx="2.45" ry="2.15" fill="none" stroke="#5e6ed2" stroke-width="1.1"/><ellipse cx="380.50" cy="95.00" rx="1.23" ry="1.07" fill="none" stroke="#5e6ed2" stroke-width="0.7" opacity="0.6"/></g>
<g opacity="0.8"><ellipse cx="381.20" cy="91.10" rx="2.45" ry="2.15" fill="none" stroke="#e97f52" stroke-width="1.1"/><ellipse cx="381.20" cy="91.10" rx="1.23" ry="1.07" fill="none" stroke="#e97f52" stroke-width="0.7" opacity="0.6"/></g>
<g opacity="0.8"><ellipse cx="416.83" cy="79.69" rx="2.85" ry="2.45" fill="none" stroke="#e97f52" stroke-width="1.1"/><ellipse cx="416.83" cy="79.69" rx="1.43" ry="1.22" fill="none" stroke="#e97f52" stroke-width="0.7" opacity="0.6"/></g>
<g opacity="0.75"><ellipse cx="416.00" cy="80.40" rx="2.45" ry="2.15" fill="none" stroke="#5e6ed2" stroke-width="1.1"/><ellipse cx="416.00" cy="80.40" rx="1.23" ry="1.07" fill="none" stroke="#5e6ed2" stroke-width="0.7" opacity="0.6"/></g>
<g opacity="0.4"><ellipse cx="416.42" cy="80.04" rx="2.25" ry="1.95" fill="none" stroke="#6e3f78" stroke-width="0.7"/></g>
<g opacity="0.8"><ellipse cx="419.10" cy="80.61" rx="2.85" ry="2.45" fill="none" stroke="#e97f52" stroke-width="1.1"/><ellipse cx="419.10" cy="80.61" rx="1.43" ry="1.22" fill="none" stroke="#e97f52" stroke-width="0.7" opacity="0.6"/></g>
<g opacity="0.75"><ellipse cx="419.90" cy="81.10" rx="2.45" ry="2.15" fill="none" stroke="#5e6ed2" stroke-width="1.1"/><ellipse cx="419.90" cy="81.10" rx="1.23" ry="1.07" fill="none" stroke="#5e6ed2" stroke-width="0.7" opacity="0.6"/></g>
<g opacity="0.4"><ellipse cx="419.50" cy="80.86" rx="2.25" ry="1.95" fill="none" stroke="#6e3f78" stroke-width="0.7"/></g>
<g opacity="0.8"><ellipse cx="429.42" cy="78.53" rx="2.85" ry="2.45" fill="none" stroke="#e97f52" stroke-width="1.1"/><ellipse cx="429.42" cy="78.53" rx="1.43" ry="1.22" fill="none" stroke="#e97f52" stroke-width="0.7" opacity="0.6"/></g>
<g opacity="0.75"><ellipse cx="428.40" cy="78.60" rx="2.45" ry="2.15" fill="none" stroke="#5e6ed2" stroke-width="1.1"/><ellipse cx="428.40" cy="78.60" rx="1.23" ry="1.07" fill="none" stroke="#5e6ed2" stroke-width="0.7" opacity="0.6"/></g>
<g opacity="0.4"><ellipse cx="428.91" cy="78.56" rx="2.25" ry="1.95" fill="none" stroke="#6e3f78" stroke-width="0.7"/></g>
<g opacity="0.8"><ellipse cx="415.38" cy="90.07" rx="2.85" ry="2.45" fill="none" stroke="#e97f52" stroke-width="1.1"/><ellipse cx="415.38" cy="90.07" rx="1.43" ry="1.22" fill="none" stroke="#e97f52" stroke-width="0.7" opacity="0.6"/></g>
<g opacity="0.75"><ellipse cx="415.10" cy="90.40" rx="2.45" ry="2.15" fill="none" stroke="#5e6ed2" stroke-width="1.1"/><ellipse cx="415.10" cy="90.40" rx="1.23" ry="1.07" fill="none" stroke="#5e6ed2" stroke-width="0.7" opacity="0.6"/></g>
<g opacity="0.4"><ellipse cx="415.24" cy="90.24" rx="2.25" ry="1.95" fill="none" stroke="#6e3f78" stroke-width="0.7"/></g>
<g opacity="0.8"><ellipse cx="410.92" cy="100.33" rx="2.85" ry="2.45" fill="none" stroke="#e97f52" stroke-width="1.1"/><ellipse cx="410.92" cy="100.33" rx="1.43" ry="1.22" fill="none" stroke="#e97f52" stroke-width="0.7" opacity="0.6"/></g>
<g opacity="0.75"><ellipse cx="410.90" cy="100.50" rx="2.45" ry="2.15" fill="none" stroke="#5e6ed2" stroke-width="1.1"/><ellipse cx="410.90" cy="100.50" rx="1.23" ry="1.07" fill="none" stroke="#5e6ed2" stroke-width="0.7" opacity="0.6"/></g>
<g opacity="0.4"><ellipse cx="410.91" cy="100.42" rx="2.25" ry="1.95" fill="none" stroke="#6e3f78" stroke-width="0.7"/></g>
<g opacity="0.8"><ellipse cx="499.57" cy="69.11" rx="2.85" ry="2.45" fill="none" stroke="#e97f52" stroke-width="1.1"/><ellipse cx="499.57" cy="69.11" rx="1.43" ry="1.22" fill="none" stroke="#e97f52" stroke-width="0.7" opacity="0.6"/></g>
<g opacity="0.75"><ellipse cx="499.90" cy="68.90" rx="2.45" ry="2.15" fill="none" stroke="#5e6ed2" stroke-width="1.1"/><ellipse cx="499.90" cy="68.90" rx="1.23" ry="1.07" fill="none" stroke="#5e6ed2" stroke-width="0.7" opacity="0.6"/></g>
<g opacity="0.4"><ellipse cx="499.74" cy="69.01" rx="2.25" ry="1.95" fill="none" stroke="#6e3f78" stroke-width="0.7"/></g>
<g opacity="0.8"><ellipse cx="497.49" cy="81.02" rx="2.85" ry="2.45" fill="none" stroke="#e97f52" stroke-width="1.1"/><ellipse cx="497.49" cy="81.02" rx="1.43" ry="1.22" fill="none" stroke="#e97f52" stroke-width="0.7" opacity="0.6"/></g>
<g opacity="0.75"><ellipse cx="497.30" cy="80.20" rx="2.45" ry="2.15" fill="none" stroke="#5e6ed2" stroke-width="1.1"/><ellipse cx="497.30" cy="80.20" rx="1.23" ry="1.07" fill="none" stroke="#5e6ed2" stroke-width="0.7" opacity="0.6"/></g>
<g opacity="0.4"><ellipse cx="497.39" cy="80.61" rx="2.25" ry="1.95" fill="none" stroke="#6e3f78" stroke-width="0.7"/></g>
<g opacity="0.8"><ellipse cx="480.30" cy="83.66" rx="2.85" ry="2.45" fill="none" stroke="#e97f52" stroke-width="1.1"/><ellipse cx="480.30" cy="83.66" rx="1.43" ry="1.22" fill="none" stroke="#e97f52" stroke-width="0.7" opacity="0.6"/></g>
<g opacity="0.75"><ellipse cx="479.90" cy="82.80" rx="2.45" ry="2.15" fill="none" stroke="#5e6ed2" stroke-width="1.1"/><ellipse cx="479.90" cy="82.80" rx="1.23" ry="1.07" fill="none" stroke="#5e6ed2" stroke-width="0.7" opacity="0.6"/></g>
<g opacity="0.4"><ellipse cx="480.10" cy="83.23" rx="2.25" ry="1.95" fill="none" stroke="#6e3f78" stroke-width="0.7"/></g>
<g opacity="0.8"><ellipse cx="459.48" cy="75.18" rx="2.85" ry="2.45" fill="none" stroke="#e97f52" stroke-width="1.1"/><ellipse cx="459.48" cy="75.18" rx="1.43" ry="1.22" fill="none" stroke="#e97f52" stroke-width="0.7" opacity="0.6"/></g>
<g opacity="0.75"><ellipse cx="458.70" cy="74.20" rx="2.45" ry="2.15" fill="none" stroke="#5e6ed2" stroke-width="1.1"/><ellipse cx="458.70" cy="74.20" rx="1.23" ry="1.07" fill="none" stroke="#5e6ed2" stroke-width="0.7" opacity="0.6"/></g>
<g opacity="0.4"><ellipse cx="459.09" cy="74.69" rx="2.25" ry="1.95" fill="none" stroke="#6e3f78" stroke-width="0.7"/></g>
<g transform="rotate(35 448.58 81.01)" opacity="0.8"><ellipse cx="448.58" cy="81.01" rx="3.80" ry="2.50" fill="none" stroke="#e97f52" stroke-width="1.1"/><ellipse cx="448.58" cy="81.01" rx="1.90" ry="1.25" fill="none" stroke="#e97f52" stroke-width="0.7" opacity="0.6"/></g>
<g transform="rotate(35 448.20 81.60)" opacity="0.75"><ellipse cx="448.20" cy="81.60" rx="3.40" ry="2.20" fill="none" stroke="#5e6ed2" stroke-width="1.1"/><ellipse cx="448.20" cy="81.60" rx="1.70" ry="1.10" fill="none" stroke="#5e6ed2" stroke-width="0.7" opacity="0.6"/></g>
<g transform="rotate(35 448.39 81.30)" opacity="0.4"><ellipse cx="448.39" cy="81.30" rx="3.20" ry="2.00" fill="none" stroke="#6e3f78" stroke-width="0.7"/></g>
<g opacity="0.8"><ellipse cx="453.09" cy="86.53" rx="3.00" ry="2.50" fill="none" stroke="#e97f52" stroke-width="1.1"/><ellipse cx="453.09" cy="86.53" rx="1.50" ry="1.25" fill="none" stroke="#e97f52" stroke-width="0.7" opacity="0.6"/></g>
<g opacity="0.75"><ellipse cx="452.30" cy="85.60" rx="2.60" ry="2.20" fill="none" stroke="#5e6ed2" stroke-width="1.1"/><ellipse cx="452.30" cy="85.60" rx="1.30" ry="1.10" fill="none" stroke="#5e6ed2" stroke-width="0.7" opacity="0.6"/></g>
<g opacity="0.4"><ellipse cx="452.70" cy="86.07" rx="2.40" ry="2.00" fill="none" stroke="#6e3f78" stroke-width="0.7"/></g>
<g opacity="0.8"><ellipse cx="462.29" cy="80.88" rx="2.85" ry="2.45" fill="none" stroke="#e97f52" stroke-width="1.1"/><ellipse cx="462.29" cy="80.88" rx="1.43" ry="1.22" fill="none" stroke="#e97f52" stroke-width="0.7" opacity="0.6"/></g>
<g opacity="0.75"><ellipse cx="461.40" cy="80.70" rx="2.45" ry="2.15" fill="none" stroke="#5e6ed2" stroke-width="1.1"/><ellipse cx="461.40" cy="80.70" rx="1.23" ry="1.07" fill="none" stroke="#5e6ed2" stroke-width="0.7" opacity="0.6"/></g>
<g opacity="0.4"><ellipse cx="461.85" cy="80.79" rx="2.25" ry="1.95" fill="none" stroke="#6e3f78" stroke-width="0.7"/></g>
<g opacity="0.8"><ellipse cx="454.77" cy="88.10" rx="2.85" ry="2.45" fill="none" stroke="#e97f52" stroke-width="1.1"/><ellipse cx="454.77" cy="88.10" rx="1.43" ry="1.22" fill="none" stroke="#e97f52" stroke-width="0.7" opacity="0.6"/></g>
<g opacity="0.75"><ellipse cx="454.30" cy="88.60" rx="2.45" ry="2.15" fill="none" stroke="#5e6ed2" stroke-width="1.1"/><ellipse cx="454.30" cy="88.60" rx="1.23" ry="1.07" fill="none" stroke="#5e6ed2" stroke-width="0.7" opacity="0.6"/></g>
<g opacity="0.4"><ellipse cx="454.54" cy="88.35" rx="2.25" ry="1.95" fill="none" stroke="#6e3f78" stroke-width="0.7"/></g>
<g transform="rotate(10 452.13 96.59)" opacity="0.8"><ellipse cx="452.13" cy="96.59" rx="3.80" ry="2.70" fill="none" stroke="#e97f52" stroke-width="1.1"/><ellipse cx="452.13" cy="96.59" rx="1.90" ry="1.35" fill="none" stroke="#e97f52" stroke-width="0.7" opacity="0.6"/></g>
<g transform="rotate(10 451.40 96.40)" opacity="0.75"><ellipse cx="451.40" cy="96.40" rx="3.40" ry="2.40" fill="none" stroke="#5e6ed2" stroke-width="1.1"/><ellipse cx="451.40" cy="96.40" rx="1.70" ry="1.20" fill="none" stroke="#5e6ed2" stroke-width="0.7" opacity="0.6"/></g>
<g transform="rotate(10 451.76 96.49)" opacity="0.4"><ellipse cx="451.76" cy="96.49" rx="3.20" ry="2.20" fill="none" stroke="#6e3f78" stroke-width="0.7"/></g>
<g opacity="0.8"><ellipse cx="438.83" cy="99.92" rx="2.85" ry="2.45" fill="none" stroke="#e97f52" stroke-width="1.1"/><ellipse cx="438.83" cy="99.92" rx="1.43" ry="1.22" fill="none" stroke="#e97f52" stroke-width="0.7" opacity="0.6"/></g>
<g opacity="0.75"><ellipse cx="439.30" cy="100.70" rx="2.45" ry="2.15" fill="none" stroke="#5e6ed2" stroke-width="1.1"/><ellipse cx="439.30" cy="100.70" rx="1.23" ry="1.07" fill="none" stroke="#5e6ed2" stroke-width="0.7" opacity="0.6"/></g>
<g opacity="0.4"><ellipse cx="439.06" cy="100.31" rx="2.25" ry="1.95" fill="none" stroke="#6e3f78" stroke-width="0.7"/></g>
<g opacity="0.85"><ellipse cx="503.00" cy="102.60" rx="2.45" ry="2.15" fill="none" stroke="#5e6ed2" stroke-width="1.1"/><ellipse cx="503.00" cy="102.60" rx="1.23" ry="1.07" fill="none" stroke="#5e6ed2" stroke-width="0.7" opacity="0.6"/></g>
<g opacity="0.8"><ellipse cx="494.20" cy="106.20" rx="2.45" ry="2.15" fill="none" stroke="#e97f52" stroke-width="1.1"/><ellipse cx="494.20" cy="106.20" rx="1.23" ry="1.07" fill="none" stroke="#e97f52" stroke-width="0.7" opacity="0.6"/></g>
<g opacity="0.85"><ellipse cx="389.20" cy="106.90" rx="2.45" ry="2.15" fill="none" stroke="#5e6ed2" stroke-width="1.1"/><ellipse cx="389.20" cy="106.90" rx="1.23" ry="1.07" fill="none" stroke="#5e6ed2" stroke-width="0.7" opacity="0.6"/></g>
<g opacity="0.8"><ellipse cx="390.90" cy="103.30" rx="2.45" ry="2.15" fill="none" stroke="#e97f52" stroke-width="1.1"/><ellipse cx="390.90" cy="103.30" rx="1.23" ry="1.07" fill="none" stroke="#e97f52" stroke-width="0.7" opacity="0.6"/></g>
<g opacity="0.8"><ellipse cx="382.58" cy="112.38" rx="2.85" ry="2.45" fill="none" stroke="#e97f52" stroke-width="1.1"/><ellipse cx="382.58" cy="112.38" rx="1.43" ry="1.22" fill="none" stroke="#e97f52" stroke-width="0.7" opacity="0.6"/></g>
<g opacity="0.75"><ellipse cx="381.80" cy="111.40" rx="2.45" ry="2.15" fill="none" stroke="#5e6ed2" stroke-width="1.1"/><ellipse cx="381.80" cy="111.40" rx="1.23" ry="1.07" fill="none" stroke="#5e6ed2" stroke-width="0.7" opacity="0.6"/></g>
<g opacity="0.4"><ellipse cx="382.19" cy="111.89" rx="2.25" ry="1.95" fill="none" stroke="#6e3f78" stroke-width="0.7"/></g>
<g opacity="0.8"><ellipse cx="388.99" cy="117.22" rx="3.00" ry="3.20" fill="none" stroke="#e97f52" stroke-width="1.1"/><ellipse cx="388.99" cy="117.22" rx="1.50" ry="1.60" fill="none" stroke="#e97f52" stroke-width="0.7" opacity="0.6"/></g>
<g opacity="0.75"><ellipse cx="389.90" cy="116.60" rx="2.60" ry="2.90" fill="none" stroke="#5e6ed2" stroke-width="1.1"/><ellipse cx="389.90" cy="116.60" rx="1.30" ry="1.45" fill="none" stroke="#5e6ed2" stroke-width="0.7" opacity="0.6"/></g>
<g opacity="0.4"><ellipse cx="389.45" cy="116.91" rx="2.40" ry="2.70" fill="none" stroke="#6e3f78" stroke-width="0.7"/></g>
<g opacity="0.85"><ellipse cx="407.90" cy="112.50" rx="2.45" ry="2.15" fill="none" stroke="#5e6ed2" stroke-width="1.1"/><ellipse cx="407.90" cy="112.50" rx="1.23" ry="1.07" fill="none" stroke="#5e6ed2" stroke-width="0.7" opacity="0.6"/></g>
<g opacity="0.8"><ellipse cx="383.00" cy="124.29" rx="2.85" ry="2.45" fill="none" stroke="#e97f52" stroke-width="1.1"/><ellipse cx="383.00" cy="124.29" rx="1.43" ry="1.22" fill="none" stroke="#e97f52" stroke-width="0.7" opacity="0.6"/></g>
<g opacity="0.75"><ellipse cx="383.20" cy="124.90" rx="2.45" ry="2.15" fill="none" stroke="#5e6ed2" stroke-width="1.1"/><ellipse cx="383.20" cy="124.90" rx="1.23" ry="1.07" fill="none" stroke="#5e6ed2" stroke-width="0.7" opacity="0.6"/></g>
<g opacity="0.4"><ellipse cx="383.10" cy="124.59" rx="2.25" ry="1.95" fill="none" stroke="#6e3f78" stroke-width="0.7"/></g>
<g opacity="0.8"><ellipse cx="382.75" cy="133.06" rx="2.85" ry="2.45" fill="none" stroke="#e97f52" stroke-width="1.1"/><ellipse cx="382.75" cy="133.06" rx="1.43" ry="1.22" fill="none" stroke="#e97f52" stroke-width="0.7" opacity="0.6"/></g>
<g opacity="0.75"><ellipse cx="383.20" cy="132.50" rx="2.45" ry="2.15" fill="none" stroke="#5e6ed2" stroke-width="1.1"/><ellipse cx="383.20" cy="132.50" rx="1.23" ry="1.07" fill="none" stroke="#5e6ed2" stroke-width="0.7" opacity="0.6"/></g>
<g opacity="0.4"><ellipse cx="382.97" cy="132.78" rx="2.25" ry="1.95" fill="none" stroke="#6e3f78" stroke-width="0.7"/></g>
<g opacity="0.85"><ellipse cx="382.30" cy="138.50" rx="2.45" ry="2.15" fill="none" stroke="#5e6ed2" stroke-width="1.1"/><ellipse cx="382.30" cy="138.50" rx="1.23" ry="1.07" fill="none" stroke="#5e6ed2" stroke-width="0.7" opacity="0.6"/></g>
<g opacity="0.8"><ellipse cx="374.90" cy="143.60" rx="2.45" ry="2.15" fill="none" stroke="#e97f52" stroke-width="1.1"/><ellipse cx="374.90" cy="143.60" rx="1.23" ry="1.07" fill="none" stroke="#e97f52" stroke-width="0.7" opacity="0.6"/></g>
<g opacity="0.8"><ellipse cx="412.82" cy="121.38" rx="2.85" ry="2.45" fill="none" stroke="#e97f52" stroke-width="1.1"/><ellipse cx="412.82" cy="121.38" rx="1.43" ry="1.22" fill="none" stroke="#e97f52" stroke-width="0.7" opacity="0.6"/></g>
<g opacity="0.75"><ellipse cx="412.00" cy="122.20" rx="2.45" ry="2.15" fill="none" stroke="#5e6ed2" stroke-width="1.1"/><ellipse cx="412.00" cy="122.20" rx="1.23" ry="1.07" fill="none" stroke="#5e6ed2" stroke-width="0.7" opacity="0.6"/></g>
<g opacity="0.4"><ellipse cx="412.41" cy="121.79" rx="2.25" ry="1.95" fill="none" stroke="#6e3f78" stroke-width="0.7"/></g>
<g opacity="0.8"><ellipse cx="413.25" cy="128.29" rx="2.85" ry="2.45" fill="none" stroke="#e97f52" stroke-width="1.1"/><ellipse cx="413.25" cy="128.29" rx="1.43" ry="1.22" fill="none" stroke="#e97f52" stroke-width="0.7" opacity="0.6"/></g>
<g opacity="0.75"><ellipse cx="413.00" cy="129.10" rx="2.45" ry="2.15" fill="none" stroke="#5e6ed2" stroke-width="1.1"/><ellipse cx="413.00" cy="129.10" rx="1.23" ry="1.07" fill="none" stroke="#5e6ed2" stroke-width="0.7" opacity="0.6"/></g>
<g opacity="0.4"><ellipse cx="413.13" cy="128.69" rx="2.25" ry="1.95" fill="none" stroke="#6e3f78" stroke-width="0.7"/></g>
<g opacity="0.8"><ellipse cx="420.38" cy="120.73" rx="2.85" ry="2.45" fill="none" stroke="#e97f52" stroke-width="1.1"/><ellipse cx="420.38" cy="120.73" rx="1.43" ry="1.22" fill="none" stroke="#e97f52" stroke-width="0.7" opacity="0.6"/></g>
<g opacity="0.75"><ellipse cx="419.90" cy="121.00" rx="2.45" ry="2.15" fill="none" stroke="#5e6ed2" stroke-width="1.1"/><ellipse cx="419.90" cy="121.00" rx="1.23" ry="1.07" fill="none" stroke="#5e6ed2" stroke-width="0.7" opacity="0.6"/></g>
<g opacity="0.4"><ellipse cx="420.14" cy="120.86" rx="2.25" ry="1.95" fill="none" stroke="#6e3f78" stroke-width="0.7"/></g>
<g opacity="0.8"><ellipse cx="425.34" cy="116.66" rx="2.85" ry="2.45" fill="none" stroke="#e97f52" stroke-width="1.1"/><ellipse cx="425.34" cy="116.66" rx="1.43" ry="1.22" fill="none" stroke="#e97f52" stroke-width="0.7" opacity="0.6"/></g>
<g opacity="0.75"><ellipse cx="424.50" cy="115.70" rx="2.45" ry="2.15" fill="none" stroke="#5e6ed2" stroke-width="1.1"/><ellipse cx="424.50" cy="115.70" rx="1.23" ry="1.07" fill="none" stroke="#5e6ed2" stroke-width="0.7" opacity="0.6"/></g>
<g opacity="0.4"><ellipse cx="424.92" cy="116.18" rx="2.25" ry="1.95" fill="none" stroke="#6e3f78" stroke-width="0.7"/></g>
<g opacity="0.8"><ellipse cx="428.61" cy="116.00" rx="2.85" ry="2.45" fill="none" stroke="#e97f52" stroke-width="1.1"/><ellipse cx="428.61" cy="116.00" rx="1.43" ry="1.22" fill="none" stroke="#e97f52" stroke-width="0.7" opacity="0.6"/></g>
<g opacity="0.75"><ellipse cx="428.60" cy="115.00" rx="2.45" ry="2.15" fill="none" stroke="#5e6ed2" stroke-width="1.1"/><ellipse cx="428.60" cy="115.00" rx="1.23" ry="1.07" fill="none" stroke="#5e6ed2" stroke-width="0.7" opacity="0.6"/></g>
<g opacity="0.4"><ellipse cx="428.61" cy="115.50" rx="2.25" ry="1.95" fill="none" stroke="#6e3f78" stroke-width="0.7"/></g>
<g opacity="0.8"><ellipse cx="433.88" cy="113.55" rx="2.85" ry="2.45" fill="none" stroke="#e97f52" stroke-width="1.1"/><ellipse cx="433.88" cy="113.55" rx="1.43" ry="1.22" fill="none" stroke="#e97f52" stroke-width="0.7" opacity="0.6"/></g>
<g opacity="0.75"><ellipse cx="434.30" cy="114.30" rx="2.45" ry="2.15" fill="none" stroke="#5e6ed2" stroke-width="1.1"/><ellipse cx="434.30" cy="114.30" rx="1.23" ry="1.07" fill="none" stroke="#5e6ed2" stroke-width="0.7" opacity="0.6"/></g>
<g opacity="0.4"><ellipse cx="434.09" cy="113.92" rx="2.25" ry="1.95" fill="none" stroke="#6e3f78" stroke-width="0.7"/></g>
<g opacity="0.8"><ellipse cx="440.22" cy="115.56" rx="2.85" ry="2.45" fill="none" stroke="#e97f52" stroke-width="1.1"/><ellipse cx="440.22" cy="115.56" rx="1.43" ry="1.22" fill="none" stroke="#e97f52" stroke-width="0.7" opacity="0.6"/></g>
<g opacity="0.75"><ellipse cx="440.00" cy="116.40" rx="2.45" ry="2.15" fill="none" stroke="#5e6ed2" stroke-width="1.1"/><ellipse cx="440.00" cy="116.40" rx="1.23" ry="1.07" fill="none" stroke="#5e6ed2" stroke-width="0.7" opacity="0.6"/></g>
<g opacity="0.4"><ellipse cx="440.11" cy="115.98" rx="2.25" ry="1.95" fill="none" stroke="#6e3f78" stroke-width="0.7"/></g>
<g opacity="0.8"><ellipse cx="398.93" cy="136.58" rx="2.85" ry="2.45" fill="none" stroke="#e97f52" stroke-width="1.1"/><ellipse cx="398.93" cy="136.58" rx="1.43" ry="1.22" fill="none" stroke="#e97f52" stroke-width="0.7" opacity="0.6"/></g>
<g opacity="0.75"><ellipse cx="399.60" cy="136.70" rx="2.45" ry="2.15" fill="none" stroke="#5e6ed2" stroke-width="1.1"/><ellipse cx="399.60" cy="136.70" rx="1.23" ry="1.07" fill="none" stroke="#5e6ed2" stroke-width="0.7" opacity="0.6"/></g>
<g opacity="0.4"><ellipse cx="399.27" cy="136.64" rx="2.25" ry="1.95" fill="none" stroke="#6e3f78" stroke-width="0.7"/></g>
<g opacity="0.85"><ellipse cx="398.20" cy="143.60" rx="2.00" ry="3.00" fill="none" stroke="#5e6ed2" stroke-width="1.1"/><ellipse cx="398.20" cy="143.60" rx="1.00" ry="1.50" fill="none" stroke="#5e6ed2" stroke-width="0.7" opacity="0.6"/></g>
<g opacity="0.8"><ellipse cx="392.20" cy="142.20" rx="2.00" ry="3.00" fill="none" stroke="#e97f52" stroke-width="1.1"/><ellipse cx="392.20" cy="142.20" rx="1.00" ry="1.50" fill="none" stroke="#e97f52" stroke-width="0.7" opacity="0.6"/></g>
<g opacity="0.8"><ellipse cx="424.34" cy="143.70" rx="2.85" ry="2.45" fill="none" stroke="#e97f52" stroke-width="1.1"/><ellipse cx="424.34" cy="143.70" rx="1.43" ry="1.22" fill="none" stroke="#e97f52" stroke-width="0.7" opacity="0.6"/></g>
<g opacity="0.75"><ellipse cx="424.10" cy="144.30" rx="2.45" ry="2.15" fill="none" stroke="#5e6ed2" stroke-width="1.1"/><ellipse cx="424.10" cy="144.30" rx="1.23" ry="1.07" fill="none" stroke="#5e6ed2" stroke-width="0.7" opacity="0.6"/></g>
<g opacity="0.4"><ellipse cx="424.22" cy="144.00" rx="2.25" ry="1.95" fill="none" stroke="#6e3f78" stroke-width="0.7"/></g>
<g opacity="0.8"><ellipse cx="449.69" cy="105.05" rx="2.85" ry="2.45" fill="none" stroke="#e97f52" stroke-width="1.1"/><ellipse cx="449.69" cy="105.05" rx="1.43" ry="1.22" fill="none" stroke="#e97f52" stroke-width="0.7" opacity="0.6"/></g>
<g opacity="0.75"><ellipse cx="450.70" cy="104.30" rx="2.45" ry="2.15" fill="none" stroke="#5e6ed2" stroke-width="1.1"/><ellipse cx="450.70" cy="104.30" rx="1.23" ry="1.07" fill="none" stroke="#5e6ed2" stroke-width="0.7" opacity="0.6"/></g>
<g opacity="0.4"><ellipse cx="450.20" cy="104.67" rx="2.25" ry="1.95" fill="none" stroke="#6e3f78" stroke-width="0.7"/></g>
<g opacity="0.8"><ellipse cx="467.69" cy="115.22" rx="2.85" ry="2.45" fill="none" stroke="#e97f52" stroke-width="1.1"/><ellipse cx="467.69" cy="115.22" rx="1.43" ry="1.22" fill="none" stroke="#e97f52" stroke-width="0.7" opacity="0.6"/></g>
<g opacity="0.75"><ellipse cx="468.10" cy="114.30" rx="2.45" ry="2.15" fill="none" stroke="#5e6ed2" stroke-width="1.1"/><ellipse cx="468.10" cy="114.30" rx="1.23" ry="1.07" fill="none" stroke="#5e6ed2" stroke-width="0.7" opacity="0.6"/></g>
<g opacity="0.4"><ellipse cx="467.90" cy="114.76" rx="2.25" ry="1.95" fill="none" stroke="#6e3f78" stroke-width="0.7"/></g>
<g opacity="0.8"><ellipse cx="510.37" cy="122.12" rx="2.85" ry="2.45" fill="none" stroke="#e97f52" stroke-width="1.1"/><ellipse cx="510.37" cy="122.12" rx="1.43" ry="1.22" fill="none" stroke="#e97f52" stroke-width="0.7" opacity="0.6"/></g>
<g opacity="0.75"><ellipse cx="509.50" cy="122.30" rx="2.45" ry="2.15" fill="none" stroke="#5e6ed2" stroke-width="1.1"/><ellipse cx="509.50" cy="122.30" rx="1.23" ry="1.07" fill="none" stroke="#5e6ed2" stroke-width="0.7" opacity="0.6"/></g>
<g opacity="0.4"><ellipse cx="509.94" cy="122.21" rx="2.25" ry="1.95" fill="none" stroke="#6e3f78" stroke-width="0.7"/></g>
<g opacity="0.45"><ellipse cx="451.80" cy="111.40" rx="2.20" ry="2.60" fill="none" stroke="#5e6ed2" stroke-width="0.6"/></g>
<g opacity="0.45"><ellipse cx="451.00" cy="111.70" rx="2.50" ry="2.80" fill="none" stroke="#e97f52" stroke-width="0.6"/></g>
<g opacity="0.45"><ellipse cx="451.10" cy="117.10" rx="2.00" ry="2.40" fill="none" stroke="#5e6ed2" stroke-width="0.6"/></g>
<g opacity="0.45"><ellipse cx="450.30" cy="117.40" rx="2.30" ry="2.60" fill="none" stroke="#e97f52" stroke-width="0.6"/></g>
<g opacity="0.45"><ellipse cx="439.60" cy="107.40" rx="1.80" ry="1.60" fill="none" stroke="#5e6ed2" stroke-width="0.6"/></g>
<g opacity="0.45"><ellipse cx="438.80" cy="107.70" rx="2.10" ry="1.80" fill="none" stroke="#e97f52" stroke-width="0.6"/></g>
<g opacity="0.45"><ellipse cx="441.10" cy="123.80" rx="2.60" ry="2.20" fill="none" stroke="#5e6ed2" stroke-width="0.6"/></g>
<g opacity="0.45"><ellipse cx="440.30" cy="124.10" rx="2.90" ry="2.40" fill="none" stroke="#e97f52" stroke-width="0.6"/></g>
<g opacity="0.45"><ellipse cx="445.70" cy="137.00" rx="2.40" ry="2.20" fill="none" stroke="#5e6ed2" stroke-width="0.6"/></g>
<g opacity="0.45"><ellipse cx="444.90" cy="137.30" rx="2.70" ry="2.40" fill="none" stroke="#e97f52" stroke-width="0.6"/></g>
<g opacity="0.45"><ellipse cx="445.40" cy="122.10" rx="2.20" ry="2.00" fill="none" stroke="#5e6ed2" stroke-width="0.6"/></g>
<g opacity="0.45"><ellipse cx="444.60" cy="122.40" rx="2.50" ry="2.20" fill="none" stroke="#e97f52" stroke-width="0.6"/></g>
<g transform="rotate(40 451.90 84.00)" opacity="0.45"><ellipse cx="451.90" cy="84.00" rx="5.50" ry="3.60" fill="none" stroke="#5e6ed2" stroke-width="0.6"/></g>
<g transform="rotate(40 451.10 84.30)" opacity="0.45"><ellipse cx="451.10" cy="84.30" rx="5.80" ry="3.80" fill="none" stroke="#e97f52" stroke-width="0.6"/></g>
<g opacity="0.45"><ellipse cx="452.40" cy="95.00" rx="4.80" ry="3.60" fill="none" stroke="#5e6ed2" stroke-width="0.6"/></g>
<g opacity="0.45"><ellipse cx="451.60" cy="95.30" rx="5.10" ry="3.80" fill="none" stroke="#e97f52" stroke-width="0.6"/></g>
<g opacity="0.45"><ellipse cx="451.90" cy="113.00" rx="2.80" ry="6.00" fill="none" stroke="#5e6ed2" stroke-width="0.6"/></g>
<g opacity="0.45"><ellipse cx="451.10" cy="113.30" rx="3.10" ry="6.20" fill="none" stroke="#e97f52" stroke-width="0.6"/></g>
<g transform="rotate(-8 431.40 115.80)" opacity="0.45"><ellipse cx="431.40" cy="115.80" rx="9.50" ry="3.20" fill="none" stroke="#5e6ed2" stroke-width="0.6"/></g>
<g transform="rotate(-8 430.60 116.10)" opacity="0.45"><ellipse cx="430.60" cy="116.10" rx="9.80" ry="3.40" fill="none" stroke="#e97f52" stroke-width="0.6"/></g>
<g opacity="0.45"><ellipse cx="465.40" cy="78.00" rx="4.20" ry="3.20" fill="none" stroke="#5e6ed2" stroke-width="0.6"/></g>
<g opacity="0.45"><ellipse cx="464.60" cy="78.30" rx="4.50" ry="3.40" fill="none" stroke="#e97f52" stroke-width="0.6"/></g>
<g opacity="0.45"><ellipse cx="446.90" cy="124.40" rx="2.50" ry="2.00" fill="none" stroke="#5e6ed2" stroke-width="0.6"/></g>
<g opacity="0.45"><ellipse cx="446.10" cy="124.70" rx="2.80" ry="2.20" fill="none" stroke="#e97f52" stroke-width="0.6"/></g>
<g opacity="0.45"><ellipse cx="397.90" cy="85.00" rx="4.00" ry="6.00" fill="none" stroke="#5e6ed2" stroke-width="0.6"/></g>
<g opacity="0.45"><ellipse cx="397.10" cy="85.30" rx="4.30" ry="6.20" fill="none" stroke="#e97f52" stroke-width="0.6"/></g>
<g opacity="0.45"><ellipse cx="412.90" cy="126.00" rx="3.50" ry="6.00" fill="none" stroke="#5e6ed2" stroke-width="0.6"/></g>
<g opacity="0.45"><ellipse cx="412.10" cy="126.30" rx="3.80" ry="6.20" fill="none" stroke="#e97f52" stroke-width="0.6"/></g>
<g opacity="0.45"><ellipse cx="399.40" cy="140.00" rx="3.00" ry="5.00" fill="none" stroke="#5e6ed2" stroke-width="0.6"/></g>
<g opacity="0.45"><ellipse cx="398.60" cy="140.30" rx="3.30" ry="5.20" fill="none" stroke="#e97f52" stroke-width="0.6"/></g>
<g opacity="0.5"><ellipse cx="404.50" cy="124.60" rx="5.00" ry="3.60" fill="none" stroke="#e97f52" stroke-width="0.7"/></g>
<g opacity="0.5"><ellipse cx="419.60" cy="142.70" rx="5.00" ry="2.60" fill="none" stroke="#e97f52" stroke-width="0.7"/></g>
<g opacity="0.5"><ellipse cx="440.00" cy="112.60" rx="6.00" ry="3.00" fill="none" stroke="#e97f52" stroke-width="0.7"/></g>
<g opacity="0.5"><ellipse cx="431.00" cy="113.50" rx="8.00" ry="3.20" fill="none" stroke="#e97f52" stroke-width="0.7"/></g>
<g opacity="0.5"><ellipse cx="444.00" cy="125.00" rx="3.00" ry="6.00" fill="none" stroke="#e97f52" stroke-width="0.7"/></g>
<g opacity="0.5"><ellipse cx="395.70" cy="133.90" rx="2.80" ry="2.40" fill="none" stroke="#e97f52" stroke-width="0.7"/></g>
<g opacity="0.5"><ellipse cx="452.00" cy="104.00" rx="3.00" ry="5.00" fill="none" stroke="#e97f52" stroke-width="0.7"/></g>
<g opacity="0.5"><ellipse cx="463.50" cy="87.00" rx="3.00" ry="2.60" fill="none" stroke="#e97f52" stroke-width="0.7"/></g>
<g opacity="0.5"><ellipse cx="390.50" cy="101.50" rx="3.00" ry="2.50" fill="none" stroke="#e97f52" stroke-width="0.7"/></g>
<g opacity="0.5"><ellipse cx="426.00" cy="131.00" rx="3.50" ry="2.50" fill="none" stroke="#e97f52" stroke-width="0.7"/></g>
<ellipse cx="485.60" cy="32.50" rx="0.9" ry="0.7" fill="#5e6ed2" opacity="0.8"/>
<ellipse cx="480.40" cy="76.20" rx="0.9" ry="0.7" fill="#5e6ed2" opacity="0.8"/>
<ellipse cx="428.00" cy="121.00" rx="0.9" ry="0.7" fill="#5e6ed2" opacity="0.8"/>
</g></g>
<rect x="370.5" y="26" width="140.70" height="121.60" fill="none" stroke="#111" stroke-width="1.3"/>
<line x1="367.30" y1="27.00" x2="370.5" y2="27.00" stroke="#111" stroke-width="0.9"/>
<text x="365.00" y="29.20" font-size="6.3" text-anchor="end" fill="#1e1e1e" stroke="#1e1e1e" stroke-width="0.12" textLength="9.4" lengthAdjust="spacingAndGlyphs" >114</text>
<line x1="368.90" y1="31.32" x2="370.5" y2="31.32" stroke="#111" stroke-width="0.9"/>
<line x1="368.90" y1="35.64" x2="370.5" y2="35.64" stroke="#111" stroke-width="0.9"/>
<line x1="368.90" y1="39.96" x2="370.5" y2="39.96" stroke="#111" stroke-width="0.9"/>
<line x1="367.30" y1="44.28" x2="370.5" y2="44.28" stroke="#111" stroke-width="0.9"/>
<text x="365.00" y="46.48" font-size="6.3" text-anchor="end" fill="#1e1e1e" stroke="#1e1e1e" stroke-width="0.12" textLength="9.4" lengthAdjust="spacingAndGlyphs" >116</text>
<line x1="368.90" y1="48.60" x2="370.5" y2="48.60" stroke="#111" stroke-width="0.9"/>
<line x1="368.90" y1="52.92" x2="370.5" y2="52.92" stroke="#111" stroke-width="0.9"/>
<line x1="368.90" y1="57.24" x2="370.5" y2="57.24" stroke="#111" stroke-width="0.9"/>
<line x1="367.30" y1="61.56" x2="370.5" y2="61.56" stroke="#111" stroke-width="0.9"/>
<text x="365.00" y="63.76" font-size="6.3" text-anchor="end" fill="#1e1e1e" stroke="#1e1e1e" stroke-width="0.12" textLength="9.4" lengthAdjust="spacingAndGlyphs" >118</text>
<line x1="368.90" y1="65.88" x2="370.5" y2="65.88" stroke="#111" stroke-width="0.9"/>
<line x1="368.90" y1="70.20" x2="370.5" y2="70.20" stroke="#111" stroke-width="0.9"/>
<line x1="368.90" y1="74.52" x2="370.5" y2="74.52" stroke="#111" stroke-width="0.9"/>
<line x1="367.30" y1="78.84" x2="370.5" y2="78.84" stroke="#111" stroke-width="0.9"/>
<text x="365.00" y="81.04" font-size="6.3" text-anchor="end" fill="#1e1e1e" stroke="#1e1e1e" stroke-width="0.12" textLength="9.4" lengthAdjust="spacingAndGlyphs" >120</text>
<line x1="368.90" y1="83.16" x2="370.5" y2="83.16" stroke="#111" stroke-width="0.9"/>
<line x1="368.90" y1="87.48" x2="370.5" y2="87.48" stroke="#111" stroke-width="0.9"/>
<line x1="368.90" y1="91.80" x2="370.5" y2="91.80" stroke="#111" stroke-width="0.9"/>
<line x1="367.30" y1="96.12" x2="370.5" y2="96.12" stroke="#111" stroke-width="0.9"/>
<text x="365.00" y="98.32" font-size="6.3" text-anchor="end" fill="#1e1e1e" stroke="#1e1e1e" stroke-width="0.12" textLength="9.4" lengthAdjust="spacingAndGlyphs" >122</text>
<line x1="368.90" y1="100.44" x2="370.5" y2="100.44" stroke="#111" stroke-width="0.9"/>
<line x1="368.90" y1="104.76" x2="370.5" y2="104.76" stroke="#111" stroke-width="0.9"/>
<line x1="368.90" y1="109.08" x2="370.5" y2="109.08" stroke="#111" stroke-width="0.9"/>
<line x1="367.30" y1="113.40" x2="370.5" y2="113.40" stroke="#111" stroke-width="0.9"/>
<text x="365.00" y="115.60" font-size="6.3" text-anchor="end" fill="#1e1e1e" stroke="#1e1e1e" stroke-width="0.12" textLength="9.4" lengthAdjust="spacingAndGlyphs" >124</text>
<line x1="368.90" y1="117.72" x2="370.5" y2="117.72" stroke="#111" stroke-width="0.9"/>
<line x1="368.90" y1="122.04" x2="370.5" y2="122.04" stroke="#111" stroke-width="0.9"/>
<line x1="368.90" y1="126.36" x2="370.5" y2="126.36" stroke="#111" stroke-width="0.9"/>
<line x1="367.30" y1="130.68" x2="370.5" y2="130.68" stroke="#111" stroke-width="0.9"/>
<text x="365.00" y="132.88" font-size="6.3" text-anchor="end" fill="#1e1e1e" stroke="#1e1e1e" stroke-width="0.12" textLength="9.4" lengthAdjust="spacingAndGlyphs" >126</text>
<line x1="368.90" y1="135.00" x2="370.5" y2="135.00" stroke="#111" stroke-width="0.9"/>
<line x1="368.90" y1="139.32" x2="370.5" y2="139.32" stroke="#111" stroke-width="0.9"/>
<line x1="368.90" y1="143.64" x2="370.5" y2="143.64" stroke="#111" stroke-width="0.9"/>
<line x1="372.07" y1="147.6" x2="372.07" y2="149.10" stroke="#111" stroke-width="0.8"/>
<line x1="374.73" y1="147.6" x2="374.73" y2="149.10" stroke="#111" stroke-width="0.8"/>
<line x1="377.39" y1="147.6" x2="377.39" y2="149.10" stroke="#111" stroke-width="0.8"/>
<line x1="380.05" y1="147.6" x2="380.05" y2="149.10" stroke="#111" stroke-width="0.8"/>
<line x1="382.72" y1="147.6" x2="382.72" y2="149.10" stroke="#111" stroke-width="0.8"/>
<line x1="385.38" y1="147.6" x2="385.38" y2="149.10" stroke="#111" stroke-width="0.8"/>
<line x1="388.04" y1="147.6" x2="388.04" y2="149.10" stroke="#111" stroke-width="0.8"/>
<line x1="390.70" y1="147.6" x2="390.70" y2="150.40" stroke="#111" stroke-width="0.8"/>
<line x1="393.36" y1="147.6" x2="393.36" y2="149.10" stroke="#111" stroke-width="0.8"/>
<line x1="396.02" y1="147.6" x2="396.02" y2="149.10" stroke="#111" stroke-width="0.8"/>
<line x1="398.68" y1="147.6" x2="398.68" y2="149.10" stroke="#111" stroke-width="0.8"/>
<line x1="401.35" y1="147.6" x2="401.35" y2="149.10" stroke="#111" stroke-width="0.8"/>
<line x1="404.01" y1="147.6" x2="404.01" y2="149.10" stroke="#111" stroke-width="0.8"/>
<line x1="406.67" y1="147.6" x2="406.67" y2="149.10" stroke="#111" stroke-width="0.8"/>
<line x1="409.33" y1="147.6" x2="409.33" y2="149.10" stroke="#111" stroke-width="0.8"/>
<line x1="411.99" y1="147.6" x2="411.99" y2="149.10" stroke="#111" stroke-width="0.8"/>
<line x1="414.65" y1="147.6" x2="414.65" y2="149.10" stroke="#111" stroke-width="0.8"/>
<line x1="417.32" y1="147.6" x2="417.32" y2="149.10" stroke="#111" stroke-width="0.8"/>
<line x1="419.98" y1="147.6" x2="419.98" y2="149.10" stroke="#111" stroke-width="0.8"/>
<line x1="422.64" y1="147.6" x2="422.64" y2="149.10" stroke="#111" stroke-width="0.8"/>
<line x1="425.30" y1="147.6" x2="425.30" y2="150.40" stroke="#111" stroke-width="0.8"/>
<line x1="427.96" y1="147.6" x2="427.96" y2="149.10" stroke="#111" stroke-width="0.8"/>
<line x1="430.62" y1="147.6" x2="430.62" y2="149.10" stroke="#111" stroke-width="0.8"/>
<line x1="433.28" y1="147.6" x2="433.28" y2="149.10" stroke="#111" stroke-width="0.8"/>
<line x1="435.95" y1="147.6" x2="435.95" y2="149.10" stroke="#111" stroke-width="0.8"/>
<line x1="438.61" y1="147.6" x2="438.61" y2="149.10" stroke="#111" stroke-width="0.8"/>
<line x1="441.27" y1="147.6" x2="441.27" y2="149.10" stroke="#111" stroke-width="0.8"/>
<line x1="443.93" y1="147.6" x2="443.93" y2="149.10" stroke="#111" stroke-width="0.8"/>
<line x1="446.59" y1="147.6" x2="446.59" y2="149.10" stroke="#111" stroke-width="0.8"/>
<line x1="449.25" y1="147.6" x2="449.25" y2="149.10" stroke="#111" stroke-width="0.8"/>
<line x1="451.92" y1="147.6" x2="451.92" y2="149.10" stroke="#111" stroke-width="0.8"/>
<line x1="454.58" y1="147.6" x2="454.58" y2="149.10" stroke="#111" stroke-width="0.8"/>
<line x1="457.24" y1="147.6" x2="457.24" y2="149.10" stroke="#111" stroke-width="0.8"/>
<line x1="459.90" y1="147.6" x2="459.90" y2="150.40" stroke="#111" stroke-width="0.8"/>
<line x1="462.56" y1="147.6" x2="462.56" y2="149.10" stroke="#111" stroke-width="0.8"/>
<line x1="465.22" y1="147.6" x2="465.22" y2="149.10" stroke="#111" stroke-width="0.8"/>
<line x1="467.88" y1="147.6" x2="467.88" y2="149.10" stroke="#111" stroke-width="0.8"/>
<line x1="470.55" y1="147.6" x2="470.55" y2="149.10" stroke="#111" stroke-width="0.8"/>
<line x1="473.21" y1="147.6" x2="473.21" y2="149.10" stroke="#111" stroke-width="0.8"/>
<line x1="475.87" y1="147.6" x2="475.87" y2="149.10" stroke="#111" stroke-width="0.8"/>
<line x1="478.53" y1="147.6" x2="478.53" y2="149.10" stroke="#111" stroke-width="0.8"/>
<line x1="481.19" y1="147.6" x2="481.19" y2="149.10" stroke="#111" stroke-width="0.8"/>
<line x1="483.85" y1="147.6" x2="483.85" y2="149.10" stroke="#111" stroke-width="0.8"/>
<line x1="486.52" y1="147.6" x2="486.52" y2="149.10" stroke="#111" stroke-width="0.8"/>
<line x1="489.18" y1="147.6" x2="489.18" y2="149.10" stroke="#111" stroke-width="0.8"/>
<line x1="491.84" y1="147.6" x2="491.84" y2="149.10" stroke="#111" stroke-width="0.8"/>
<line x1="494.50" y1="147.6" x2="494.50" y2="150.40" stroke="#111" stroke-width="0.8"/>
<line x1="497.16" y1="147.6" x2="497.16" y2="149.10" stroke="#111" stroke-width="0.8"/>
<line x1="499.82" y1="147.6" x2="499.82" y2="149.10" stroke="#111" stroke-width="0.8"/>
<line x1="502.48" y1="147.6" x2="502.48" y2="149.10" stroke="#111" stroke-width="0.8"/>
<line x1="505.15" y1="147.6" x2="505.15" y2="149.10" stroke="#111" stroke-width="0.8"/>
<line x1="507.81" y1="147.6" x2="507.81" y2="149.10" stroke="#111" stroke-width="0.8"/>
<line x1="510.47" y1="147.6" x2="510.47" y2="149.10" stroke="#111" stroke-width="0.8"/>
<text x="390.70" y="159.60" font-size="6.3" text-anchor="middle" fill="#1e1e1e" stroke="#1e1e1e" stroke-width="0.12" textLength="8.2" lengthAdjust="spacingAndGlyphs" >9.0</text>
<text x="425.30" y="159.60" font-size="6.3" text-anchor="middle" fill="#1e1e1e" stroke="#1e1e1e" stroke-width="0.12" textLength="8.2" lengthAdjust="spacingAndGlyphs" >8.5</text>
<text x="459.90" y="159.60" font-size="6.3" text-anchor="middle" fill="#1e1e1e" stroke="#1e1e1e" stroke-width="0.12" textLength="8.2" lengthAdjust="spacingAndGlyphs" >8.0</text>
<text x="494.50" y="159.60" font-size="6.3" text-anchor="middle" fill="#1e1e1e" stroke="#1e1e1e" stroke-width="0.12" textLength="8.2" lengthAdjust="spacingAndGlyphs" >7.5</text>
<text x="441.00" y="171.80" font-size="8" text-anchor="middle" fill="#151515" stroke="#151515" stroke-width="0.12" textLength="35.2" lengthAdjust="spacingAndGlyphs" >HN (ppm)</text>
<rect x="451.2" y="123.8" width="58.30" height="22.00" fill="#fff" stroke="#555" stroke-width="0.9"/>
<rect x="460.6" y="127.60" width="5.8" height="6" fill="#2c5296" stroke="#1a2a50" stroke-width="0.6"/>
<rect x="460.6" y="137.20" width="5.8" height="6" fill="#c20a30" stroke="#50080f" stroke-width="0.6"/>
<text x="470.60" y="132.40" font-size="4.8" text-anchor="start" fill="#151515" stroke="#151515" stroke-width="0.06" textLength="27.6" lengthAdjust="spacingAndGlyphs" >F0 WT alone</text>
<text x="470.60" y="142.00" font-size="4.8" text-anchor="start" fill="#151515" stroke="#151515" stroke-width="0.06" textLength="26.4" lengthAdjust="spacingAndGlyphs" >with Rap1b</text>
<clipPath id="ce"><rect x="148.5" y="221.6" width="140.7" height="121.6"/></clipPath>
<g clip-path="url(#ce)"><g filter="url(#pb)">
<g opacity="0.8"><ellipse cx="164.30" cy="254.10" rx="2.75" ry="2.40" fill="none" stroke="#c86a48" stroke-width="1.15"/></g>
<g opacity="0.85"><ellipse cx="165.00" cy="254.30" rx="2.15" ry="1.85" fill="none" stroke="#3a3c8c" stroke-width="1.15"/></g>
<g opacity="0.4"><ellipse cx="164.70" cy="254.20" rx="1.10" ry="0.97" fill="none" stroke="#8a90d0" stroke-width="0.6"/></g>
<g opacity="0.8"><ellipse cx="193.60" cy="243.00" rx="2.75" ry="2.40" fill="none" stroke="#c86a48" stroke-width="1.15"/></g>
<g opacity="0.85"><ellipse cx="194.30" cy="243.20" rx="2.15" ry="1.85" fill="none" stroke="#3a3c8c" stroke-width="1.15"/></g>
<g opacity="0.4"><ellipse cx="194.00" cy="243.10" rx="1.10" ry="0.97" fill="none" stroke="#8a90d0" stroke-width="0.6"/></g>
<g opacity="0.8"><ellipse cx="214.30" cy="246.80" rx="3.20" ry="3.95" fill="none" stroke="#c86a48" stroke-width="1.15"/></g>
<g opacity="0.85"><ellipse cx="215.00" cy="247.00" rx="2.60" ry="3.40" fill="none" stroke="#3a3c8c" stroke-width="1.15"/></g>
<g opacity="0.4"><ellipse cx="214.70" cy="246.90" rx="1.30" ry="1.67" fill="none" stroke="#8a90d0" stroke-width="0.6"/></g>
<g opacity="0.8"><ellipse cx="215.20" cy="253.20" rx="3.20" ry="2.65" fill="none" stroke="#c86a48" stroke-width="1.15"/></g>
<g opacity="0.85"><ellipse cx="215.90" cy="253.40" rx="2.60" ry="2.10" fill="none" stroke="#3a3c8c" stroke-width="1.15"/></g>
<g opacity="0.4"><ellipse cx="215.60" cy="253.30" rx="1.30" ry="1.08" fill="none" stroke="#8a90d0" stroke-width="0.6"/></g>
<g opacity="0.8"><ellipse cx="228.30" cy="222.90" rx="2.75" ry="2.40" fill="none" stroke="#c86a48" stroke-width="1.15"/></g>
<g opacity="0.85"><ellipse cx="229.00" cy="223.10" rx="2.15" ry="1.85" fill="none" stroke="#3a3c8c" stroke-width="1.15"/></g>
<g opacity="0.4"><ellipse cx="228.70" cy="223.00" rx="1.10" ry="0.97" fill="none" stroke="#8a90d0" stroke-width="0.6"/></g>
<g opacity="0.8"><ellipse cx="250.50" cy="226.10" rx="3.20" ry="2.75" fill="none" stroke="#c86a48" stroke-width="1.15"/></g>
<g opacity="0.85"><ellipse cx="251.20" cy="226.30" rx="2.60" ry="2.20" fill="none" stroke="#3a3c8c" stroke-width="1.15"/></g>
<g opacity="0.4"><ellipse cx="250.90" cy="226.20" rx="1.30" ry="1.12" fill="none" stroke="#8a90d0" stroke-width="0.6"/></g>
<g opacity="0.8"><ellipse cx="268.80" cy="222.30" rx="2.80" ry="2.25" fill="none" stroke="#c86a48" stroke-width="1.15"/></g>
<g opacity="0.85"><ellipse cx="269.50" cy="222.50" rx="2.20" ry="1.70" fill="none" stroke="#3a3c8c" stroke-width="1.15"/></g>
<g opacity="0.4"><ellipse cx="269.20" cy="222.40" rx="1.12" ry="0.90" fill="none" stroke="#8a90d0" stroke-width="0.6"/></g>
<g opacity="0.8"><ellipse cx="270.30" cy="234.90" rx="2.90" ry="2.65" fill="none" stroke="#c86a48" stroke-width="1.15"/></g>
<g opacity="0.85"><ellipse cx="271.00" cy="235.10" rx="2.30" ry="2.10" fill="none" stroke="#3a3c8c" stroke-width="1.15"/></g>
<g opacity="0.4"><ellipse cx="270.70" cy="235.00" rx="1.17" ry="1.08" fill="none" stroke="#8a90d0" stroke-width="0.6"/></g>
<g opacity="0.8"><ellipse cx="269.00" cy="244.50" rx="2.75" ry="2.40" fill="none" stroke="#c86a48" stroke-width="1.15"/></g>
<g opacity="0.85"><ellipse cx="269.70" cy="244.70" rx="2.15" ry="1.85" fill="none" stroke="#3a3c8c" stroke-width="1.15"/></g>
<g opacity="0.4"><ellipse cx="269.40" cy="244.60" rx="1.10" ry="0.97" fill="none" stroke="#8a90d0" stroke-width="0.6"/></g>
<g opacity="0.8"><ellipse cx="277.50" cy="245.70" rx="2.75" ry="2.40" fill="none" stroke="#c86a48" stroke-width="1.15"/></g>
<g opacity="0.85"><ellipse cx="278.20" cy="245.90" rx="2.15" ry="1.85" fill="none" stroke="#3a3c8c" stroke-width="1.15"/></g>
<g opacity="0.4"><ellipse cx="277.90" cy="245.80" rx="1.10" ry="0.97" fill="none" stroke="#8a90d0" stroke-width="0.6"/></g>
<g opacity="0.8"><ellipse cx="268.80" cy="250.70" rx="2.70" ry="2.65" fill="none" stroke="#c86a48" stroke-width="1.15"/></g>
<g opacity="0.85"><ellipse cx="269.50" cy="250.90" rx="2.10" ry="2.10" fill="none" stroke="#3a3c8c" stroke-width="1.15"/></g>
<g opacity="0.4"><ellipse cx="269.20" cy="250.80" rx="1.08" ry="1.08" fill="none" stroke="#8a90d0" stroke-width="0.6"/></g>
<g opacity="0.8"><ellipse cx="278.30" cy="251.00" rx="2.75" ry="2.40" fill="none" stroke="#c86a48" stroke-width="1.15"/></g>
<g opacity="0.85"><ellipse cx="279.00" cy="251.20" rx="2.15" ry="1.85" fill="none" stroke="#3a3c8c" stroke-width="1.15"/></g>
<g opacity="0.4"><ellipse cx="278.70" cy="251.10" rx="1.10" ry="0.97" fill="none" stroke="#8a90d0" stroke-width="0.6"/></g>
<g opacity="0.8"><ellipse cx="287.50" cy="256.10" rx="2.75" ry="2.40" fill="none" stroke="#c86a48" stroke-width="1.15"/></g>
<g opacity="0.85"><ellipse cx="288.20" cy="256.30" rx="2.15" ry="1.85" fill="none" stroke="#3a3c8c" stroke-width="1.15"/></g>
<g opacity="0.4"><ellipse cx="287.90" cy="256.20" rx="1.10" ry="0.97" fill="none" stroke="#8a90d0" stroke-width="0.6"/></g>
<g opacity="0.8"><ellipse cx="248.50" cy="258.70" rx="2.75" ry="2.40" fill="none" stroke="#c86a48" stroke-width="1.15"/></g>
<g opacity="0.85"><ellipse cx="249.20" cy="258.90" rx="2.15" ry="1.85" fill="none" stroke="#3a3c8c" stroke-width="1.15"/></g>
<g opacity="0.4"><ellipse cx="248.90" cy="258.80" rx="1.10" ry="0.97" fill="none" stroke="#8a90d0" stroke-width="0.6"/></g>
<g opacity="0.8"><ellipse cx="256.40" cy="258.90" rx="2.75" ry="2.40" fill="none" stroke="#c86a48" stroke-width="1.15"/></g>
<g opacity="0.85"><ellipse cx="257.10" cy="259.10" rx="2.15" ry="1.85" fill="none" stroke="#3a3c8c" stroke-width="1.15"/></g>
<g opacity="0.4"><ellipse cx="256.80" cy="259.00" rx="1.10" ry="0.97" fill="none" stroke="#8a90d0" stroke-width="0.6"/></g>
<g opacity="0.8"><ellipse cx="213.90" cy="263.00" rx="2.75" ry="2.40" fill="none" stroke="#c86a48" stroke-width="1.15"/></g>
<g opacity="0.85"><ellipse cx="214.60" cy="263.20" rx="2.15" ry="1.85" fill="none" stroke="#3a3c8c" stroke-width="1.15"/></g>
<g opacity="0.4"><ellipse cx="214.30" cy="263.10" rx="1.10" ry="0.97" fill="none" stroke="#8a90d0" stroke-width="0.6"/></g>
<g opacity="0.8"><ellipse cx="221.50" cy="261.30" rx="2.75" ry="2.40" fill="none" stroke="#c86a48" stroke-width="1.15"/></g>
<g opacity="0.85"><ellipse cx="222.20" cy="261.50" rx="2.15" ry="1.85" fill="none" stroke="#3a3c8c" stroke-width="1.15"/></g>
<g opacity="0.4"><ellipse cx="221.90" cy="261.40" rx="1.10" ry="0.97" fill="none" stroke="#8a90d0" stroke-width="0.6"/></g>
<g opacity="0.8"><ellipse cx="168.60" cy="272.10" rx="2.75" ry="2.40" fill="none" stroke="#c86a48" stroke-width="1.15"/></g>
<g opacity="0.85"><ellipse cx="169.30" cy="272.30" rx="2.15" ry="1.85" fill="none" stroke="#3a3c8c" stroke-width="1.15"/></g>
<g opacity="0.4"><ellipse cx="169.00" cy="272.20" rx="1.10" ry="0.97" fill="none" stroke="#8a90d0" stroke-width="0.6"/></g>
<g opacity="0.8"><ellipse cx="179.90" cy="266.90" rx="2.75" ry="2.40" fill="none" stroke="#c86a48" stroke-width="1.15"/></g>
<g opacity="0.85"><ellipse cx="180.60" cy="267.10" rx="2.15" ry="1.85" fill="none" stroke="#3a3c8c" stroke-width="1.15"/></g>
<g opacity="0.4"><ellipse cx="180.30" cy="267.00" rx="1.10" ry="0.97" fill="none" stroke="#8a90d0" stroke-width="0.6"/></g>
<g opacity="0.8"><ellipse cx="178.80" cy="277.60" rx="2.75" ry="2.40" fill="none" stroke="#c86a48" stroke-width="1.15"/></g>
<g opacity="0.85"><ellipse cx="179.50" cy="277.80" rx="2.15" ry="1.85" fill="none" stroke="#3a3c8c" stroke-width="1.15"/></g>
<g opacity="0.4"><ellipse cx="179.20" cy="277.70" rx="1.10" ry="0.97" fill="none" stroke="#8a90d0" stroke-width="0.6"/></g>
<g opacity="0.8"><ellipse cx="175.40" cy="282.80" rx="2.75" ry="2.40" fill="none" stroke="#c86a48" stroke-width="1.15"/></g>
<g opacity="0.85"><ellipse cx="176.10" cy="283.00" rx="2.15" ry="1.85" fill="none" stroke="#3a3c8c" stroke-width="1.15"/></g>
<g opacity="0.4"><ellipse cx="175.80" cy="282.90" rx="1.10" ry="0.97" fill="none" stroke="#8a90d0" stroke-width="0.6"/></g>
<g opacity="0.8"><ellipse cx="183.70" cy="287.00" rx="2.75" ry="2.40" fill="none" stroke="#c86a48" stroke-width="1.15"/></g>
<g opacity="0.85"><ellipse cx="184.40" cy="287.20" rx="2.15" ry="1.85" fill="none" stroke="#3a3c8c" stroke-width="1.15"/></g>
<g opacity="0.4"><ellipse cx="184.10" cy="287.10" rx="1.10" ry="0.97" fill="none" stroke="#8a90d0" stroke-width="0.6"/></g>
<g opacity="0.8"><ellipse cx="162.90" cy="289.30" rx="2.75" ry="2.40" fill="none" stroke="#c86a48" stroke-width="1.15"/></g>
<g opacity="0.85"><ellipse cx="163.60" cy="289.50" rx="2.15" ry="1.85" fill="none" stroke="#3a3c8c" stroke-width="1.15"/></g>
<g opacity="0.4"><ellipse cx="163.30" cy="289.40" rx="1.10" ry="0.97" fill="none" stroke="#8a90d0" stroke-width="0.6"/></g>
<g opacity="0.8"><ellipse cx="197.50" cy="276.60" rx="2.75" ry="2.40" fill="none" stroke="#c86a48" stroke-width="1.15"/></g>
<g opacity="0.85"><ellipse cx="198.20" cy="276.80" rx="2.15" ry="1.85" fill="none" stroke="#3a3c8c" stroke-width="1.15"/></g>
<g opacity="0.4"><ellipse cx="197.90" cy="276.70" rx="1.10" ry="0.97" fill="none" stroke="#8a90d0" stroke-width="0.6"/></g>
<g opacity="0.8"><ellipse cx="206.00" cy="274.10" rx="2.75" ry="2.40" fill="none" stroke="#c86a48" stroke-width="1.15"/></g>
<g opacity="0.85"><ellipse cx="206.70" cy="274.30" rx="2.15" ry="1.85" fill="none" stroke="#3a3c8c" stroke-width="1.15"/></g>
<g opacity="0.4"><ellipse cx="206.40" cy="274.20" rx="1.10" ry="0.97" fill="none" stroke="#8a90d0" stroke-width="0.6"/></g>
<g opacity="0.8"><ellipse cx="196.60" cy="287.30" rx="2.75" ry="2.40" fill="none" stroke="#c86a48" stroke-width="1.15"/></g>
<g opacity="0.85"><ellipse cx="197.30" cy="287.50" rx="2.15" ry="1.85" fill="none" stroke="#3a3c8c" stroke-width="1.15"/></g>
<g opacity="0.4"><ellipse cx="197.00" cy="287.40" rx="1.10" ry="0.97" fill="none" stroke="#8a90d0" stroke-width="0.6"/></g>
<g opacity="0.8"><ellipse cx="188.50" cy="296.00" rx="2.75" ry="2.40" fill="none" stroke="#c86a48" stroke-width="1.15"/></g>
<g opacity="0.85"><ellipse cx="189.20" cy="296.20" rx="2.15" ry="1.85" fill="none" stroke="#3a3c8c" stroke-width="1.15"/></g>
<g opacity="0.4"><ellipse cx="188.90" cy="296.10" rx="1.10" ry="0.97" fill="none" stroke="#8a90d0" stroke-width="0.6"/></g>
<g opacity="0.8"><ellipse cx="277.50" cy="264.40" rx="2.75" ry="2.40" fill="none" stroke="#c86a48" stroke-width="1.15"/></g>
<g opacity="0.85"><ellipse cx="278.20" cy="264.60" rx="2.15" ry="1.85" fill="none" stroke="#3a3c8c" stroke-width="1.15"/></g>
<g opacity="0.4"><ellipse cx="277.90" cy="264.50" rx="1.10" ry="0.97" fill="none" stroke="#8a90d0" stroke-width="0.6"/></g>
<g opacity="0.8"><ellipse cx="274.90" cy="275.70" rx="2.75" ry="2.40" fill="none" stroke="#c86a48" stroke-width="1.15"/></g>
<g opacity="0.85"><ellipse cx="275.60" cy="275.90" rx="2.15" ry="1.85" fill="none" stroke="#3a3c8c" stroke-width="1.15"/></g>
<g opacity="0.4"><ellipse cx="275.30" cy="275.80" rx="1.10" ry="0.97" fill="none" stroke="#8a90d0" stroke-width="0.6"/></g>
<g opacity="0.8"><ellipse cx="256.00" cy="279.80" rx="2.75" ry="2.40" fill="none" stroke="#c86a48" stroke-width="1.15"/></g>
<g opacity="0.85"><ellipse cx="256.70" cy="280.00" rx="2.15" ry="1.85" fill="none" stroke="#3a3c8c" stroke-width="1.15"/></g>
<g opacity="0.4"><ellipse cx="256.40" cy="279.90" rx="1.10" ry="0.97" fill="none" stroke="#8a90d0" stroke-width="0.6"/></g>
<g opacity="0.8"><ellipse cx="243.00" cy="271.90" rx="2.75" ry="2.40" fill="none" stroke="#c86a48" stroke-width="1.15"/></g>
<g opacity="0.85"><ellipse cx="243.70" cy="272.10" rx="2.15" ry="1.85" fill="none" stroke="#3a3c8c" stroke-width="1.15"/></g>
<g opacity="0.4"><ellipse cx="243.40" cy="272.00" rx="1.10" ry="0.97" fill="none" stroke="#8a90d0" stroke-width="0.6"/></g>
<g transform="rotate(35 226.40 277.70)" opacity="0.8"><ellipse cx="226.40" cy="277.70" rx="3.70" ry="2.45" fill="none" stroke="#c86a48" stroke-width="1.15"/></g>
<g transform="rotate(35 227.10 277.90)" opacity="0.85"><ellipse cx="227.10" cy="277.90" rx="3.10" ry="1.90" fill="none" stroke="#3a3c8c" stroke-width="1.15"/></g>
<g transform="rotate(35 226.80 277.80)" opacity="0.4"><ellipse cx="226.80" cy="277.80" rx="1.53" ry="0.99" fill="none" stroke="#8a90d0" stroke-width="0.6"/></g>
<g opacity="0.8"><ellipse cx="229.90" cy="281.30" rx="2.90" ry="2.45" fill="none" stroke="#c86a48" stroke-width="1.15"/></g>
<g opacity="0.85"><ellipse cx="230.60" cy="281.50" rx="2.30" ry="1.90" fill="none" stroke="#3a3c8c" stroke-width="1.15"/></g>
<g opacity="0.4"><ellipse cx="230.30" cy="281.40" rx="1.17" ry="0.99" fill="none" stroke="#8a90d0" stroke-width="0.6"/></g>
<g opacity="0.8"><ellipse cx="237.60" cy="277.00" rx="2.75" ry="2.40" fill="none" stroke="#c86a48" stroke-width="1.15"/></g>
<g opacity="0.85"><ellipse cx="238.30" cy="277.20" rx="2.15" ry="1.85" fill="none" stroke="#3a3c8c" stroke-width="1.15"/></g>
<g opacity="0.4"><ellipse cx="238.00" cy="277.10" rx="1.10" ry="0.97" fill="none" stroke="#8a90d0" stroke-width="0.6"/></g>
<g opacity="0.8"><ellipse cx="231.90" cy="284.10" rx="2.75" ry="2.40" fill="none" stroke="#c86a48" stroke-width="1.15"/></g>
<g opacity="0.85"><ellipse cx="232.60" cy="284.30" rx="2.15" ry="1.85" fill="none" stroke="#3a3c8c" stroke-width="1.15"/></g>
<g opacity="0.4"><ellipse cx="232.30" cy="284.20" rx="1.10" ry="0.97" fill="none" stroke="#8a90d0" stroke-width="0.6"/></g>
<g transform="rotate(10 229.00 291.70)" opacity="0.8"><ellipse cx="229.00" cy="291.70" rx="3.70" ry="2.65" fill="none" stroke="#c86a48" stroke-width="1.15"/></g>
<g transform="rotate(10 229.70 291.90)" opacity="0.85"><ellipse cx="229.70" cy="291.90" rx="3.10" ry="2.10" fill="none" stroke="#3a3c8c" stroke-width="1.15"/></g>
<g transform="rotate(10 229.40 291.80)" opacity="0.4"><ellipse cx="229.40" cy="291.80" rx="1.53" ry="1.08" fill="none" stroke="#8a90d0" stroke-width="0.6"/></g>
<g opacity="0.8"><ellipse cx="230.50" cy="287.60" rx="2.50" ry="1.85" fill="none" stroke="#c86a48" stroke-width="1.15"/></g>
<g opacity="0.85"><ellipse cx="231.20" cy="287.80" rx="1.90" ry="1.30" fill="none" stroke="#3a3c8c" stroke-width="1.15"/></g>
<g opacity="0.4"><ellipse cx="230.90" cy="287.70" rx="0.99" ry="0.72" fill="none" stroke="#8a90d0" stroke-width="0.6"/></g>
<g opacity="0.8"><ellipse cx="216.90" cy="296.20" rx="2.75" ry="2.40" fill="none" stroke="#c86a48" stroke-width="1.15"/></g>
<g opacity="0.85"><ellipse cx="217.60" cy="296.40" rx="2.15" ry="1.85" fill="none" stroke="#3a3c8c" stroke-width="1.15"/></g>
<g opacity="0.4"><ellipse cx="217.30" cy="296.30" rx="1.10" ry="0.97" fill="none" stroke="#8a90d0" stroke-width="0.6"/></g>
<g opacity="0.8"><ellipse cx="283.10" cy="297.00" rx="2.75" ry="2.40" fill="none" stroke="#c86a48" stroke-width="1.15"/></g>
<g opacity="0.85"><ellipse cx="283.80" cy="297.20" rx="2.15" ry="1.85" fill="none" stroke="#3a3c8c" stroke-width="1.15"/></g>
<g opacity="0.4"><ellipse cx="283.50" cy="297.10" rx="1.10" ry="0.97" fill="none" stroke="#8a90d0" stroke-width="0.6"/></g>
<g opacity="0.8"><ellipse cx="166.80" cy="302.40" rx="2.75" ry="2.40" fill="none" stroke="#c86a48" stroke-width="1.15"/></g>
<g opacity="0.85"><ellipse cx="167.50" cy="302.60" rx="2.15" ry="1.85" fill="none" stroke="#3a3c8c" stroke-width="1.15"/></g>
<g opacity="0.4"><ellipse cx="167.20" cy="302.50" rx="1.10" ry="0.97" fill="none" stroke="#8a90d0" stroke-width="0.6"/></g>
<g opacity="0.8"><ellipse cx="157.80" cy="310.00" rx="2.75" ry="2.40" fill="none" stroke="#c86a48" stroke-width="1.15"/></g>
<g opacity="0.85"><ellipse cx="158.50" cy="310.20" rx="2.15" ry="1.85" fill="none" stroke="#3a3c8c" stroke-width="1.15"/></g>
<g opacity="0.4"><ellipse cx="158.20" cy="310.10" rx="1.10" ry="0.97" fill="none" stroke="#8a90d0" stroke-width="0.6"/></g>
<g opacity="0.8"><ellipse cx="168.90" cy="317.00" rx="2.90" ry="3.15" fill="none" stroke="#c86a48" stroke-width="1.15"/></g>
<g opacity="0.85"><ellipse cx="169.60" cy="317.20" rx="2.30" ry="2.60" fill="none" stroke="#3a3c8c" stroke-width="1.15"/></g>
<g opacity="0.4"><ellipse cx="169.30" cy="317.10" rx="1.17" ry="1.30" fill="none" stroke="#8a90d0" stroke-width="0.6"/></g>
<g opacity="0.8"><ellipse cx="184.10" cy="310.70" rx="2.75" ry="2.40" fill="none" stroke="#c86a48" stroke-width="1.15"/></g>
<g opacity="0.85"><ellipse cx="184.80" cy="310.90" rx="2.15" ry="1.85" fill="none" stroke="#3a3c8c" stroke-width="1.15"/></g>
<g opacity="0.4"><ellipse cx="184.50" cy="310.80" rx="1.10" ry="0.97" fill="none" stroke="#8a90d0" stroke-width="0.6"/></g>
<g opacity="0.8"><ellipse cx="160.80" cy="320.40" rx="2.75" ry="2.40" fill="none" stroke="#c86a48" stroke-width="1.15"/></g>
<g opacity="0.85"><ellipse cx="161.50" cy="320.60" rx="2.15" ry="1.85" fill="none" stroke="#3a3c8c" stroke-width="1.15"/></g>
<g opacity="0.4"><ellipse cx="161.20" cy="320.50" rx="1.10" ry="0.97" fill="none" stroke="#8a90d0" stroke-width="0.6"/></g>
<g opacity="0.8"><ellipse cx="160.80" cy="328.00" rx="2.75" ry="2.40" fill="none" stroke="#c86a48" stroke-width="1.15"/></g>
<g opacity="0.85"><ellipse cx="161.50" cy="328.20" rx="2.15" ry="1.85" fill="none" stroke="#3a3c8c" stroke-width="1.15"/></g>
<g opacity="0.4"><ellipse cx="161.20" cy="328.10" rx="1.10" ry="0.97" fill="none" stroke="#8a90d0" stroke-width="0.6"/></g>
<g opacity="0.8"><ellipse cx="160.80" cy="339.50" rx="2.75" ry="2.40" fill="none" stroke="#c86a48" stroke-width="1.15"/></g>
<g opacity="0.85"><ellipse cx="161.50" cy="339.70" rx="2.15" ry="1.85" fill="none" stroke="#3a3c8c" stroke-width="1.15"/></g>
<g opacity="0.4"><ellipse cx="161.20" cy="339.60" rx="1.10" ry="0.97" fill="none" stroke="#8a90d0" stroke-width="0.6"/></g>
<g opacity="0.8"><ellipse cx="189.60" cy="317.70" rx="2.75" ry="2.40" fill="none" stroke="#c86a48" stroke-width="1.15"/></g>
<g opacity="0.85"><ellipse cx="190.30" cy="317.90" rx="2.15" ry="1.85" fill="none" stroke="#3a3c8c" stroke-width="1.15"/></g>
<g opacity="0.4"><ellipse cx="190.00" cy="317.80" rx="1.10" ry="0.97" fill="none" stroke="#8a90d0" stroke-width="0.6"/></g>
<g opacity="0.8"><ellipse cx="191.30" cy="327.50" rx="2.75" ry="2.40" fill="none" stroke="#c86a48" stroke-width="1.15"/></g>
<g opacity="0.85"><ellipse cx="192.00" cy="327.70" rx="2.15" ry="1.85" fill="none" stroke="#3a3c8c" stroke-width="1.15"/></g>
<g opacity="0.4"><ellipse cx="191.70" cy="327.60" rx="1.10" ry="0.97" fill="none" stroke="#8a90d0" stroke-width="0.6"/></g>
<g opacity="0.8"><ellipse cx="202.10" cy="311.20" rx="2.75" ry="2.40" fill="none" stroke="#c86a48" stroke-width="1.15"/></g>
<g opacity="0.85"><ellipse cx="202.80" cy="311.40" rx="2.15" ry="1.85" fill="none" stroke="#3a3c8c" stroke-width="1.15"/></g>
<g opacity="0.4"><ellipse cx="202.50" cy="311.30" rx="1.10" ry="0.97" fill="none" stroke="#8a90d0" stroke-width="0.6"/></g>
<g opacity="0.8"><ellipse cx="206.20" cy="310.50" rx="2.75" ry="2.40" fill="none" stroke="#c86a48" stroke-width="1.15"/></g>
<g opacity="0.85"><ellipse cx="206.90" cy="310.70" rx="2.15" ry="1.85" fill="none" stroke="#3a3c8c" stroke-width="1.15"/></g>
<g opacity="0.4"><ellipse cx="206.60" cy="310.60" rx="1.10" ry="0.97" fill="none" stroke="#8a90d0" stroke-width="0.6"/></g>
<g opacity="0.8"><ellipse cx="211.90" cy="309.80" rx="2.75" ry="2.40" fill="none" stroke="#c86a48" stroke-width="1.15"/></g>
<g opacity="0.85"><ellipse cx="212.60" cy="310.00" rx="2.15" ry="1.85" fill="none" stroke="#3a3c8c" stroke-width="1.15"/></g>
<g opacity="0.4"><ellipse cx="212.30" cy="309.90" rx="1.10" ry="0.97" fill="none" stroke="#8a90d0" stroke-width="0.6"/></g>
<g opacity="0.8"><ellipse cx="217.60" cy="311.90" rx="2.75" ry="2.40" fill="none" stroke="#c86a48" stroke-width="1.15"/></g>
<g opacity="0.85"><ellipse cx="218.30" cy="312.10" rx="2.15" ry="1.85" fill="none" stroke="#3a3c8c" stroke-width="1.15"/></g>
<g opacity="0.4"><ellipse cx="218.00" cy="312.00" rx="1.10" ry="0.97" fill="none" stroke="#8a90d0" stroke-width="0.6"/></g>
<g opacity="0.8"><ellipse cx="171.90" cy="332.20" rx="2.75" ry="2.40" fill="none" stroke="#c86a48" stroke-width="1.15"/></g>
<g opacity="0.85"><ellipse cx="172.60" cy="332.40" rx="2.15" ry="1.85" fill="none" stroke="#3a3c8c" stroke-width="1.15"/></g>
<g opacity="0.4"><ellipse cx="172.30" cy="332.30" rx="1.10" ry="0.97" fill="none" stroke="#8a90d0" stroke-width="0.6"/></g>
<g opacity="0.8"><ellipse cx="180.20" cy="333.20" rx="2.75" ry="2.40" fill="none" stroke="#c86a48" stroke-width="1.15"/></g>
<g opacity="0.85"><ellipse cx="180.90" cy="333.40" rx="2.15" ry="1.85" fill="none" stroke="#3a3c8c" stroke-width="1.15"/></g>
<g opacity="0.4"><ellipse cx="180.60" cy="333.30" rx="1.10" ry="0.97" fill="none" stroke="#8a90d0" stroke-width="0.6"/></g>
<g opacity="0.8"><ellipse cx="175.60" cy="339.10" rx="2.30" ry="3.25" fill="none" stroke="#c86a48" stroke-width="1.15"/></g>
<g opacity="0.85"><ellipse cx="176.30" cy="339.30" rx="1.70" ry="2.70" fill="none" stroke="#3a3c8c" stroke-width="1.15"/></g>
<g opacity="0.4"><ellipse cx="176.00" cy="339.20" rx="0.90" ry="1.35" fill="none" stroke="#8a90d0" stroke-width="0.6"/></g>
<g opacity="0.8"><ellipse cx="201.70" cy="339.80" rx="2.75" ry="2.40" fill="none" stroke="#c86a48" stroke-width="1.15"/></g>
<g opacity="0.85"><ellipse cx="202.40" cy="340.00" rx="2.15" ry="1.85" fill="none" stroke="#3a3c8c" stroke-width="1.15"/></g>
<g opacity="0.4"><ellipse cx="202.10" cy="339.90" rx="1.10" ry="0.97" fill="none" stroke="#8a90d0" stroke-width="0.6"/></g>
<g opacity="0.8"><ellipse cx="228.30" cy="299.80" rx="2.75" ry="2.40" fill="none" stroke="#c86a48" stroke-width="1.15"/></g>
<g opacity="0.85"><ellipse cx="229.00" cy="300.00" rx="2.15" ry="1.85" fill="none" stroke="#3a3c8c" stroke-width="1.15"/></g>
<g opacity="0.4"><ellipse cx="228.70" cy="299.90" rx="1.10" ry="0.97" fill="none" stroke="#8a90d0" stroke-width="0.6"/></g>
<g opacity="0.8"><ellipse cx="245.70" cy="309.80" rx="2.75" ry="2.40" fill="none" stroke="#c86a48" stroke-width="1.15"/></g>
<g opacity="0.85"><ellipse cx="246.40" cy="310.00" rx="2.15" ry="1.85" fill="none" stroke="#3a3c8c" stroke-width="1.15"/></g>
<g opacity="0.4"><ellipse cx="246.10" cy="309.90" rx="1.10" ry="0.97" fill="none" stroke="#8a90d0" stroke-width="0.6"/></g>
<g opacity="0.8"><ellipse cx="287.10" cy="317.80" rx="2.75" ry="2.40" fill="none" stroke="#c86a48" stroke-width="1.15"/></g>
<g opacity="0.85"><ellipse cx="287.80" cy="318.00" rx="2.15" ry="1.85" fill="none" stroke="#3a3c8c" stroke-width="1.15"/></g>
<g opacity="0.4"><ellipse cx="287.50" cy="317.90" rx="1.10" ry="0.97" fill="none" stroke="#8a90d0" stroke-width="0.6"/></g>
<g opacity="0.45"><ellipse cx="229.80" cy="307.00" rx="2.20" ry="2.60" fill="none" stroke="#4a4e9c" stroke-width="0.6"/></g>
<g opacity="0.45"><ellipse cx="229.00" cy="307.30" rx="2.50" ry="2.80" fill="none" stroke="#c86a48" stroke-width="0.6"/></g>
<g opacity="0.45"><ellipse cx="229.10" cy="312.70" rx="2.00" ry="2.40" fill="none" stroke="#4a4e9c" stroke-width="0.6"/></g>
<g opacity="0.45"><ellipse cx="228.30" cy="313.00" rx="2.30" ry="2.60" fill="none" stroke="#c86a48" stroke-width="0.6"/></g>
<g opacity="0.45"><ellipse cx="217.60" cy="303.00" rx="1.80" ry="1.60" fill="none" stroke="#4a4e9c" stroke-width="0.6"/></g>
<g opacity="0.45"><ellipse cx="216.80" cy="303.30" rx="2.10" ry="1.80" fill="none" stroke="#c86a48" stroke-width="0.6"/></g>
<g opacity="0.45"><ellipse cx="219.10" cy="319.40" rx="2.60" ry="2.20" fill="none" stroke="#4a4e9c" stroke-width="0.6"/></g>
<g opacity="0.45"><ellipse cx="218.30" cy="319.70" rx="2.90" ry="2.40" fill="none" stroke="#c86a48" stroke-width="0.6"/></g>
<g opacity="0.45"><ellipse cx="223.70" cy="332.60" rx="2.40" ry="2.20" fill="none" stroke="#4a4e9c" stroke-width="0.6"/></g>
<g opacity="0.45"><ellipse cx="222.90" cy="332.90" rx="2.70" ry="2.40" fill="none" stroke="#c86a48" stroke-width="0.6"/></g>
<g opacity="0.45"><ellipse cx="223.40" cy="317.70" rx="2.20" ry="2.00" fill="none" stroke="#4a4e9c" stroke-width="0.6"/></g>
<g opacity="0.45"><ellipse cx="222.60" cy="318.00" rx="2.50" ry="2.20" fill="none" stroke="#c86a48" stroke-width="0.6"/></g>
<g transform="rotate(40 229.90 279.60)" opacity="0.45"><ellipse cx="229.90" cy="279.60" rx="5.50" ry="3.60" fill="none" stroke="#4a4e9c" stroke-width="0.6"/></g>
<g transform="rotate(40 229.10 279.90)" opacity="0.45"><ellipse cx="229.10" cy="279.90" rx="5.80" ry="3.80" fill="none" stroke="#c86a48" stroke-width="0.6"/></g>
<g opacity="0.45"><ellipse cx="230.40" cy="290.60" rx="4.80" ry="3.60" fill="none" stroke="#4a4e9c" stroke-width="0.6"/></g>
<g opacity="0.45"><ellipse cx="229.60" cy="290.90" rx="5.10" ry="3.80" fill="none" stroke="#c86a48" stroke-width="0.6"/></g>
<g opacity="0.45"><ellipse cx="229.90" cy="308.60" rx="2.80" ry="6.00" fill="none" stroke="#4a4e9c" stroke-width="0.6"/></g>
<g opacity="0.45"><ellipse cx="229.10" cy="308.90" rx="3.10" ry="6.20" fill="none" stroke="#c86a48" stroke-width="0.6"/></g>
<g transform="rotate(-8 209.40 311.40)" opacity="0.45"><ellipse cx="209.40" cy="311.40" rx="9.50" ry="3.20" fill="none" stroke="#4a4e9c" stroke-width="0.6"/></g>
<g transform="rotate(-8 208.60 311.70)" opacity="0.45"><ellipse cx="208.60" cy="311.70" rx="9.80" ry="3.40" fill="none" stroke="#c86a48" stroke-width="0.6"/></g>
<g opacity="0.45"><ellipse cx="243.40" cy="273.60" rx="4.20" ry="3.20" fill="none" stroke="#4a4e9c" stroke-width="0.6"/></g>
<g opacity="0.45"><ellipse cx="242.60" cy="273.90" rx="4.50" ry="3.40" fill="none" stroke="#c86a48" stroke-width="0.6"/></g>
<g opacity="0.45"><ellipse cx="224.90" cy="320.00" rx="2.50" ry="2.00" fill="none" stroke="#4a4e9c" stroke-width="0.6"/></g>
<g opacity="0.45"><ellipse cx="224.10" cy="320.30" rx="2.80" ry="2.20" fill="none" stroke="#c86a48" stroke-width="0.6"/></g>
<g opacity="0.45"><ellipse cx="175.90" cy="280.60" rx="4.00" ry="6.00" fill="none" stroke="#4a4e9c" stroke-width="0.6"/></g>
<g opacity="0.45"><ellipse cx="175.10" cy="280.90" rx="4.30" ry="6.20" fill="none" stroke="#c86a48" stroke-width="0.6"/></g>
<g opacity="0.45"><ellipse cx="190.90" cy="321.60" rx="3.50" ry="6.00" fill="none" stroke="#4a4e9c" stroke-width="0.6"/></g>
<g opacity="0.45"><ellipse cx="190.10" cy="321.90" rx="3.80" ry="6.20" fill="none" stroke="#c86a48" stroke-width="0.6"/></g>
<g opacity="0.45"><ellipse cx="177.40" cy="335.60" rx="3.00" ry="5.00" fill="none" stroke="#4a4e9c" stroke-width="0.6"/></g>
<g opacity="0.45"><ellipse cx="176.60" cy="335.90" rx="3.30" ry="5.20" fill="none" stroke="#c86a48" stroke-width="0.6"/></g>
<ellipse cx="275.60" cy="233.80" rx="0.9" ry="0.7" fill="#e97f52" opacity="0.8"/>
<ellipse cx="191.00" cy="301.10" rx="0.9" ry="0.7" fill="#e97f52" opacity="0.8"/>
<ellipse cx="197.00" cy="322.60" rx="0.9" ry="0.7" fill="#e97f52" opacity="0.8"/>
</g></g>
<rect x="148.5" y="221.6" width="140.70" height="121.60" fill="none" stroke="#111" stroke-width="1.3"/>
<line x1="145.30" y1="222.60" x2="148.5" y2="222.60" stroke="#111" stroke-width="0.9"/>
<text x="143.00" y="224.80" font-size="6.3" text-anchor="end" fill="#1e1e1e" stroke="#1e1e1e" stroke-width="0.12" textLength="9.4" lengthAdjust="spacingAndGlyphs" >114</text>
<line x1="146.90" y1="226.92" x2="148.5" y2="226.92" stroke="#111" stroke-width="0.9"/>
<line x1="146.90" y1="231.24" x2="148.5" y2="231.24" stroke="#111" stroke-width="0.9"/>
<line x1="146.90" y1="235.56" x2="148.5" y2="235.56" stroke="#111" stroke-width="0.9"/>
<line x1="145.30" y1="239.88" x2="148.5" y2="239.88" stroke="#111" stroke-width="0.9"/>
<text x="143.00" y="242.08" font-size="6.3" text-anchor="end" fill="#1e1e1e" stroke="#1e1e1e" stroke-width="0.12" textLength="9.4" lengthAdjust="spacingAndGlyphs" >116</text>
<line x1="146.90" y1="244.20" x2="148.5" y2="244.20" stroke="#111" stroke-width="0.9"/>
<line x1="146.90" y1="248.52" x2="148.5" y2="248.52" stroke="#111" stroke-width="0.9"/>
<line x1="146.90" y1="252.84" x2="148.5" y2="252.84" stroke="#111" stroke-width="0.9"/>
<line x1="145.30" y1="257.16" x2="148.5" y2="257.16" stroke="#111" stroke-width="0.9"/>
<text x="143.00" y="259.36" font-size="6.3" text-anchor="end" fill="#1e1e1e" stroke="#1e1e1e" stroke-width="0.12" textLength="9.4" lengthAdjust="spacingAndGlyphs" >118</text>
<line x1="146.90" y1="261.48" x2="148.5" y2="261.48" stroke="#111" stroke-width="0.9"/>
<line x1="146.90" y1="265.80" x2="148.5" y2="265.80" stroke="#111" stroke-width="0.9"/>
<line x1="146.90" y1="270.12" x2="148.5" y2="270.12" stroke="#111" stroke-width="0.9"/>
<line x1="145.30" y1="274.44" x2="148.5" y2="274.44" stroke="#111" stroke-width="0.9"/>
<text x="143.00" y="276.64" font-size="6.3" text-anchor="end" fill="#1e1e1e" stroke="#1e1e1e" stroke-width="0.12" textLength="9.4" lengthAdjust="spacingAndGlyphs" >120</text>
<line x1="146.90" y1="278.76" x2="148.5" y2="278.76" stroke="#111" stroke-width="0.9"/>
<line x1="146.90" y1="283.08" x2="148.5" y2="283.08" stroke="#111" stroke-width="0.9"/>
<line x1="146.90" y1="287.40" x2="148.5" y2="287.40" stroke="#111" stroke-width="0.9"/>
<line x1="145.30" y1="291.72" x2="148.5" y2="291.72" stroke="#111" stroke-width="0.9"/>
<text x="143.00" y="293.92" font-size="6.3" text-anchor="end" fill="#1e1e1e" stroke="#1e1e1e" stroke-width="0.12" textLength="9.4" lengthAdjust="spacingAndGlyphs" >122</text>
<line x1="146.90" y1="296.04" x2="148.5" y2="296.04" stroke="#111" stroke-width="0.9"/>
<line x1="146.90" y1="300.36" x2="148.5" y2="300.36" stroke="#111" stroke-width="0.9"/>
<line x1="146.90" y1="304.68" x2="148.5" y2="304.68" stroke="#111" stroke-width="0.9"/>
<line x1="145.30" y1="309.00" x2="148.5" y2="309.00" stroke="#111" stroke-width="0.9"/>
<text x="143.00" y="311.20" font-size="6.3" text-anchor="end" fill="#1e1e1e" stroke="#1e1e1e" stroke-width="0.12" textLength="9.4" lengthAdjust="spacingAndGlyphs" >124</text>
<line x1="146.90" y1="313.32" x2="148.5" y2="313.32" stroke="#111" stroke-width="0.9"/>
<line x1="146.90" y1="317.64" x2="148.5" y2="317.64" stroke="#111" stroke-width="0.9"/>
<line x1="146.90" y1="321.96" x2="148.5" y2="321.96" stroke="#111" stroke-width="0.9"/>
<line x1="145.30" y1="326.28" x2="148.5" y2="326.28" stroke="#111" stroke-width="0.9"/>
<text x="143.00" y="328.48" font-size="6.3" text-anchor="end" fill="#1e1e1e" stroke="#1e1e1e" stroke-width="0.12" textLength="9.4" lengthAdjust="spacingAndGlyphs" >126</text>
<line x1="146.90" y1="330.60" x2="148.5" y2="330.60" stroke="#111" stroke-width="0.9"/>
<line x1="146.90" y1="334.92" x2="148.5" y2="334.92" stroke="#111" stroke-width="0.9"/>
<line x1="146.90" y1="339.24" x2="148.5" y2="339.24" stroke="#111" stroke-width="0.9"/>
<line x1="150.07" y1="343.2" x2="150.07" y2="344.70" stroke="#111" stroke-width="0.8"/>
<line x1="152.73" y1="343.2" x2="152.73" y2="344.70" stroke="#111" stroke-width="0.8"/>
<line x1="155.39" y1="343.2" x2="155.39" y2="344.70" stroke="#111" stroke-width="0.8"/>
<line x1="158.05" y1="343.2" x2="158.05" y2="344.70" stroke="#111" stroke-width="0.8"/>
<line x1="160.72" y1="343.2" x2="160.72" y2="344.70" stroke="#111" stroke-width="0.8"/>
<line x1="163.38" y1="343.2" x2="163.38" y2="344.70" stroke="#111" stroke-width="0.8"/>
<line x1="166.04" y1="343.2" x2="166.04" y2="344.70" stroke="#111" stroke-width="0.8"/>
<line x1="168.70" y1="343.2" x2="168.70" y2="346.00" stroke="#111" stroke-width="0.8"/>
<line x1="171.36" y1="343.2" x2="171.36" y2="344.70" stroke="#111" stroke-width="0.8"/>
<line x1="174.02" y1="343.2" x2="174.02" y2="344.70" stroke="#111" stroke-width="0.8"/>
<line x1="176.68" y1="343.2" x2="176.68" y2="344.70" stroke="#111" stroke-width="0.8"/>
<line x1="179.35" y1="343.2" x2="179.35" y2="344.70" stroke="#111" stroke-width="0.8"/>
<line x1="182.01" y1="343.2" x2="182.01" y2="344.70" stroke="#111" stroke-width="0.8"/>
<line x1="184.67" y1="343.2" x2="184.67" y2="344.70" stroke="#111" stroke-width="0.8"/>
<line x1="187.33" y1="343.2" x2="187.33" y2="344.70" stroke="#111" stroke-width="0.8"/>
<line x1="189.99" y1="343.2" x2="189.99" y2="344.70" stroke="#111" stroke-width="0.8"/>
<line x1="192.65" y1="343.2" x2="192.65" y2="344.70" stroke="#111" stroke-width="0.8"/>
<line x1="195.32" y1="343.2" x2="195.32" y2="344.70" stroke="#111" stroke-width="0.8"/>
<line x1="197.98" y1="343.2" x2="197.98" y2="344.70" stroke="#111" stroke-width="0.8"/>
<line x1="200.64" y1="343.2" x2="200.64" y2="344.70" stroke="#111" stroke-width="0.8"/>
<line x1="203.30" y1="343.2" x2="203.30" y2="346.00" stroke="#111" stroke-width="0.8"/>
<line x1="205.96" y1="343.2" x2="205.96" y2="344.70" stroke="#111" stroke-width="0.8"/>
<line x1="208.62" y1="343.2" x2="208.62" y2="344.70" stroke="#111" stroke-width="0.8"/>
<line x1="211.28" y1="343.2" x2="211.28" y2="344.70" stroke="#111" stroke-width="0.8"/>
<line x1="213.95" y1="343.2" x2="213.95" y2="344.70" stroke="#111" stroke-width="0.8"/>
<line x1="216.61" y1="343.2" x2="216.61" y2="344.70" stroke="#111" stroke-width="0.8"/>
<line x1="219.27" y1="343.2" x2="219.27" y2="344.70" stroke="#111" stroke-width="0.8"/>
<line x1="221.93" y1="343.2" x2="221.93" y2="344.70" stroke="#111" stroke-width="0.8"/>
<line x1="224.59" y1="343.2" x2="224.59" y2="344.70" stroke="#111" stroke-width="0.8"/>
<line x1="227.25" y1="343.2" x2="227.25" y2="344.70" stroke="#111" stroke-width="0.8"/>
<line x1="229.92" y1="343.2" x2="229.92" y2="344.70" stroke="#111" stroke-width="0.8"/>
<line x1="232.58" y1="343.2" x2="232.58" y2="344.70" stroke="#111" stroke-width="0.8"/>
<line x1="235.24" y1="343.2" x2="235.24" y2="344.70" stroke="#111" stroke-width="0.8"/>
<line x1="237.90" y1="343.2" x2="237.90" y2="346.00" stroke="#111" stroke-width="0.8"/>
<line x1="240.56" y1="343.2" x2="240.56" y2="344.70" stroke="#111" stroke-width="0.8"/>
<line x1="243.22" y1="343.2" x2="243.22" y2="344.70" stroke="#111" stroke-width="0.8"/>
<line x1="245.88" y1="343.2" x2="245.88" y2="344.70" stroke="#111" stroke-width="0.8"/>
<line x1="248.55" y1="343.2" x2="248.55" y2="344.70" stroke="#111" stroke-width="0.8"/>
<line x1="251.21" y1="343.2" x2="251.21" y2="344.70" stroke="#111" stroke-width="0.8"/>
<line x1="253.87" y1="343.2" x2="253.87" y2="344.70" stroke="#111" stroke-width="0.8"/>
<line x1="256.53" y1="343.2" x2="256.53" y2="344.70" stroke="#111" stroke-width="0.8"/>
<line x1="259.19" y1="343.2" x2="259.19" y2="344.70" stroke="#111" stroke-width="0.8"/>
<line x1="261.85" y1="343.2" x2="261.85" y2="344.70" stroke="#111" stroke-width="0.8"/>
<line x1="264.52" y1="343.2" x2="264.52" y2="344.70" stroke="#111" stroke-width="0.8"/>
<line x1="267.18" y1="343.2" x2="267.18" y2="344.70" stroke="#111" stroke-width="0.8"/>
<line x1="269.84" y1="343.2" x2="269.84" y2="344.70" stroke="#111" stroke-width="0.8"/>
<line x1="272.50" y1="343.2" x2="272.50" y2="346.00" stroke="#111" stroke-width="0.8"/>
<line x1="275.16" y1="343.2" x2="275.16" y2="344.70" stroke="#111" stroke-width="0.8"/>
<line x1="277.82" y1="343.2" x2="277.82" y2="344.70" stroke="#111" stroke-width="0.8"/>
<line x1="280.48" y1="343.2" x2="280.48" y2="344.70" stroke="#111" stroke-width="0.8"/>
<line x1="283.15" y1="343.2" x2="283.15" y2="344.70" stroke="#111" stroke-width="0.8"/>
<line x1="285.81" y1="343.2" x2="285.81" y2="344.70" stroke="#111" stroke-width="0.8"/>
<line x1="288.47" y1="343.2" x2="288.47" y2="344.70" stroke="#111" stroke-width="0.8"/>
<text x="168.70" y="355.20" font-size="6.3" text-anchor="middle" fill="#1e1e1e" stroke="#1e1e1e" stroke-width="0.12" textLength="8.2" lengthAdjust="spacingAndGlyphs" >9.0</text>
<text x="203.30" y="355.20" font-size="6.3" text-anchor="middle" fill="#1e1e1e" stroke="#1e1e1e" stroke-width="0.12" textLength="8.2" lengthAdjust="spacingAndGlyphs" >8.5</text>
<text x="237.90" y="355.20" font-size="6.3" text-anchor="middle" fill="#1e1e1e" stroke="#1e1e1e" stroke-width="0.12" textLength="8.2" lengthAdjust="spacingAndGlyphs" >8.0</text>
<text x="272.50" y="355.20" font-size="6.3" text-anchor="middle" fill="#1e1e1e" stroke="#1e1e1e" stroke-width="0.12" textLength="8.2" lengthAdjust="spacingAndGlyphs" >7.5</text>
<text x="219.00" y="367.40" font-size="8" text-anchor="middle" fill="#151515" stroke="#151515" stroke-width="0.12" textLength="35.2" lengthAdjust="spacingAndGlyphs" >HN (ppm)</text>
<rect x="227.1" y="320.2" width="60.90" height="21.60" fill="#fff" stroke="#555" stroke-width="0.9"/>
<rect x="235.5" y="324.00" width="5.8" height="6" fill="#2c5296" stroke="#1a2a50" stroke-width="0.6"/>
<rect x="235.5" y="333.60" width="5.8" height="6" fill="#c20a30" stroke="#50080f" stroke-width="0.6"/>
<text x="245.50" y="328.80" font-size="4.8" text-anchor="start" fill="#151515" stroke="#151515" stroke-width="0.06" textLength="31.4" lengthAdjust="spacingAndGlyphs" >F0 R35E alone</text>
<text x="245.50" y="338.40" font-size="4.8" text-anchor="start" fill="#151515" stroke="#151515" stroke-width="0.06" textLength="24.6" lengthAdjust="spacingAndGlyphs" >with Rap1b</text>
<text x="0" y="0" font-size="8.4" fill="#222" text-anchor="middle" textLength="27.3" lengthAdjust="spacingAndGlyphs" transform="translate(127.5 282.3) rotate(-90)">N (ppm)</text>
<line x1="378.40" y1="57.40" x2="382.02" y2="52.67" stroke="#111" stroke-width="0.9"/>
<polygon points="383.60,50.60 383.05,53.46 380.99,51.88" fill="#111"/>
<line x1="385.40" y1="97.80" x2="386.82" y2="94.44" stroke="#111" stroke-width="0.9"/>
<polygon points="387.60,92.60 387.83,94.87 385.81,94.01" fill="#111"/>
<line x1="392.90" y1="111.80" x2="395.25" y2="109.87" stroke="#111" stroke-width="0.9"/>
<polygon points="396.80,108.60 395.95,110.72 394.56,109.02" fill="#111"/>
<line x1="483.80" y1="72.00" x2="489.70" y2="64.45" stroke="#111" stroke-width="0.9"/>
<polygon points="491.30,62.40 490.72,65.25 488.67,63.65" fill="#111"/>
<line x1="498.60" y1="98.60" x2="493.16" y2="101.40" stroke="#111" stroke-width="0.9"/>
<polygon points="491.20,102.40 492.65,100.42 493.66,102.37" fill="#111"/>
<text x="177.40" y="17.70" font-size="11" text-anchor="start" fill="#111" stroke="#111" stroke-width="0.12" textLength="6.4" lengthAdjust="spacingAndGlyphs" >B</text>
<text x="354.00" y="17.70" font-size="11" text-anchor="start" fill="#111" stroke="#111" stroke-width="0.12" textLength="7.0" lengthAdjust="spacingAndGlyphs" >C</text>
<text x="121.90" y="199.50" font-size="11" text-anchor="start" fill="#111" stroke="#111" stroke-width="0.12" textLength="5.6" lengthAdjust="spacingAndGlyphs" >E</text>
<text x="309.60" y="199.80" font-size="11" text-anchor="start" fill="#111" stroke="#111" stroke-width="0.12" textLength="5.4" lengthAdjust="spacingAndGlyphs" >F</text>
<text x="10.60" y="199.30" font-size="11" text-anchor="start" fill="#111" stroke="#111" stroke-width="0.12" textLength="6.8" lengthAdjust="spacingAndGlyphs" >D</text>
<text x="8.80" y="17.50" font-size="11" text-anchor="start" fill="#111" stroke="#111" stroke-width="0.12" textLength="7.0" lengthAdjust="spacingAndGlyphs" >A</text>
<defs><radialGradient id="gr"><stop offset="0" stop-color="#c8001a"/><stop offset="0.5" stop-color="#d41028"/><stop offset="0.8" stop-color="#e66a78" stop-opacity="0.7"/><stop offset="1" stop-color="#f4b8c0" stop-opacity="0"/></radialGradient><radialGradient id="gp"><stop offset="0" stop-color="#e47c88"/><stop offset="0.6" stop-color="#f0b0b8" stop-opacity="0.7"/><stop offset="1" stop-color="#f8dde0" stop-opacity="0"/></radialGradient><radialGradient id="gb"><stop offset="0" stop-color="#2230a0"/><stop offset="0.5" stop-color="#2c3cac"/><stop offset="0.8" stop-color="#7078c8" stop-opacity="0.7"/><stop offset="1" stop-color="#b8bce4" stop-opacity="0"/></radialGradient><radialGradient id="gs" cx="0.42" cy="0.4" r="0.6"><stop offset="0" stop-color="#ffffff"/><stop offset="0.6" stop-color="#f6f6f6"/><stop offset="1" stop-color="#d0d0d0"/></radialGradient><radialGradient id="gl"><stop offset="0" stop-color="#9098d4"/><stop offset="1" stop-color="#d0d4ee" stop-opacity="0"/></radialGradient></defs>
<clipPath id="cta"><path d="M8.80,66.00 C9.25,64.08 9.55,61.33 10.50,59.50 C11.45,57.67 12.92,56.25 14.50,55.00 C16.08,53.75 18.08,53.00 20.00,52.00 C21.92,51.00 24.00,49.80 26.00,49.00 C28.00,48.20 30.00,47.40 32.00,47.20 C34.00,47.00 36.17,47.25 38.00,47.80 C39.83,48.35 41.33,49.55 43.00,50.50 C44.67,51.45 46.50,52.83 48.00,53.50 C49.50,54.17 50.50,54.58 52.00,54.50 C53.50,54.42 55.17,53.33 57.00,53.00 C58.83,52.67 61.00,52.25 63.00,52.50 C65.00,52.75 67.23,53.25 69.00,54.50 C70.77,55.75 72.60,57.92 73.60,60.00 C74.60,62.08 75.18,64.75 75.00,67.00 C74.82,69.25 74.00,71.75 72.50,73.50 C71.00,75.25 67.67,76.00 66.00,77.50 C64.33,79.00 62.75,80.58 62.50,82.50 C62.25,84.42 64.83,86.92 64.50,89.00 C64.17,91.08 61.83,93.00 60.50,95.00 C59.17,97.00 57.83,98.83 56.50,101.00 C55.17,103.17 54.00,105.83 52.50,108.00 C51.00,110.17 49.33,112.25 47.50,114.00 C45.67,115.75 43.50,117.58 41.50,118.50 C39.50,119.42 37.25,120.00 35.50,119.50 C33.75,119.00 32.33,117.25 31.00,115.50 C29.67,113.75 29.08,111.08 27.50,109.00 C25.92,106.92 23.92,105.25 21.50,103.00 C19.08,100.75 15.22,98.08 13.00,95.50 C10.78,92.92 9.10,90.42 8.20,87.50 C7.30,84.58 7.67,80.75 7.60,78.00 C7.53,75.25 7.60,73.00 7.80,71.00 C8.00,69.00 8.35,67.92 8.80,66.00Z"/></clipPath>
<path d="M8.80,66.00 C9.25,64.08 9.55,61.33 10.50,59.50 C11.45,57.67 12.92,56.25 14.50,55.00 C16.08,53.75 18.08,53.00 20.00,52.00 C21.92,51.00 24.00,49.80 26.00,49.00 C28.00,48.20 30.00,47.40 32.00,47.20 C34.00,47.00 36.17,47.25 38.00,47.80 C39.83,48.35 41.33,49.55 43.00,50.50 C44.67,51.45 46.50,52.83 48.00,53.50 C49.50,54.17 50.50,54.58 52.00,54.50 C53.50,54.42 55.17,53.33 57.00,53.00 C58.83,52.67 61.00,52.25 63.00,52.50 C65.00,52.75 67.23,53.25 69.00,54.50 C70.77,55.75 72.60,57.92 73.60,60.00 C74.60,62.08 75.18,64.75 75.00,67.00 C74.82,69.25 74.00,71.75 72.50,73.50 C71.00,75.25 67.67,76.00 66.00,77.50 C64.33,79.00 62.75,80.58 62.50,82.50 C62.25,84.42 64.83,86.92 64.50,89.00 C64.17,91.08 61.83,93.00 60.50,95.00 C59.17,97.00 57.83,98.83 56.50,101.00 C55.17,103.17 54.00,105.83 52.50,108.00 C51.00,110.17 49.33,112.25 47.50,114.00 C45.67,115.75 43.50,117.58 41.50,118.50 C39.50,119.42 37.25,120.00 35.50,119.50 C33.75,119.00 32.33,117.25 31.00,115.50 C29.67,113.75 29.08,111.08 27.50,109.00 C25.92,106.92 23.92,105.25 21.50,103.00 C19.08,100.75 15.22,98.08 13.00,95.50 C10.78,92.92 9.10,90.42 8.20,87.50 C7.30,84.58 7.67,80.75 7.60,78.00 C7.53,75.25 7.60,73.00 7.80,71.00 C8.00,69.00 8.35,67.92 8.80,66.00Z" fill="#fdfdfd" stroke="#8c8c8c" stroke-width="0.7"/>
<g clip-path="url(#cta)">
<circle cx="47.0" cy="68.0" r="2.1" fill="url(#gs)" stroke="#b4b4b4" stroke-width="0.3"/>
<circle cx="42.0" cy="66.2" r="2.6" fill="url(#gs)" stroke="#b4b4b4" stroke-width="0.3"/>
<circle cx="54.0" cy="67.1" r="2.1" fill="url(#gs)" stroke="#b4b4b4" stroke-width="0.3"/>
<circle cx="73.3" cy="45.1" r="3.6" fill="url(#gs)" stroke="#b4b4b4" stroke-width="0.3"/>
<circle cx="71.9" cy="105.3" r="2.4" fill="url(#gs)" stroke="#b4b4b4" stroke-width="0.3"/>
<circle cx="15.8" cy="120.0" r="2.9" fill="url(#gs)" stroke="#b4b4b4" stroke-width="0.3"/>
<circle cx="34.4" cy="54.0" r="3.4" fill="url(#gs)" stroke="#b4b4b4" stroke-width="0.3"/>
<circle cx="47.1" cy="70.9" r="2.0" fill="url(#gs)" stroke="#b4b4b4" stroke-width="0.3"/>
<circle cx="78.8" cy="90.8" r="3.1" fill="url(#gs)" stroke="#b4b4b4" stroke-width="0.3"/>
<circle cx="68.0" cy="97.5" r="3.7" fill="url(#gs)" stroke="#b4b4b4" stroke-width="0.3"/>
<circle cx="70.7" cy="116.3" r="2.2" fill="url(#gs)" stroke="#b4b4b4" stroke-width="0.3"/>
<circle cx="53.5" cy="94.4" r="2.4" fill="url(#gs)" stroke="#b4b4b4" stroke-width="0.3"/>
<circle cx="61.1" cy="53.1" r="2.3" fill="url(#gs)" stroke="#b4b4b4" stroke-width="0.3"/>
<circle cx="20.9" cy="97.5" r="3.4" fill="url(#gs)" stroke="#b4b4b4" stroke-width="0.3"/>
<circle cx="25.5" cy="98.6" r="2.4" fill="url(#gs)" stroke="#b4b4b4" stroke-width="0.3"/>
<circle cx="73.9" cy="96.9" r="3.2" fill="url(#gs)" stroke="#b4b4b4" stroke-width="0.3"/>
<circle cx="46.4" cy="82.4" r="2.4" fill="url(#gs)" stroke="#b4b4b4" stroke-width="0.3"/>
<circle cx="54.1" cy="97.0" r="2.1" fill="url(#gs)" stroke="#b4b4b4" stroke-width="0.3"/>
<circle cx="49.2" cy="64.2" r="2.9" fill="url(#gs)" stroke="#b4b4b4" stroke-width="0.3"/>
<circle cx="12.3" cy="48.8" r="2.1" fill="url(#gs)" stroke="#b4b4b4" stroke-width="0.3"/>
<circle cx="27.0" cy="63.5" r="2.9" fill="url(#gs)" stroke="#b4b4b4" stroke-width="0.3"/>
<circle cx="45.6" cy="51.4" r="2.6" fill="url(#gs)" stroke="#b4b4b4" stroke-width="0.3"/>
<circle cx="45.5" cy="57.3" r="2.4" fill="url(#gs)" stroke="#b4b4b4" stroke-width="0.3"/>
<circle cx="39.3" cy="72.7" r="2.5" fill="url(#gs)" stroke="#b4b4b4" stroke-width="0.3"/>
<circle cx="72.9" cy="52.6" r="2.2" fill="url(#gs)" stroke="#b4b4b4" stroke-width="0.3"/>
<circle cx="52.6" cy="101.6" r="3.7" fill="url(#gs)" stroke="#b4b4b4" stroke-width="0.3"/>
<circle cx="29.6" cy="51.1" r="3.6" fill="url(#gs)" stroke="#b4b4b4" stroke-width="0.3"/>
<circle cx="74.4" cy="75.2" r="2.6" fill="url(#gs)" stroke="#b4b4b4" stroke-width="0.3"/>
<circle cx="24.3" cy="46.2" r="2.2" fill="url(#gs)" stroke="#b4b4b4" stroke-width="0.3"/>
<circle cx="35.0" cy="55.5" r="3.5" fill="url(#gs)" stroke="#b4b4b4" stroke-width="0.3"/>
<circle cx="66.6" cy="50.2" r="3.5" fill="url(#gs)" stroke="#b4b4b4" stroke-width="0.3"/>
<circle cx="69.7" cy="45.7" r="2.4" fill="url(#gs)" stroke="#b4b4b4" stroke-width="0.3"/>
<circle cx="59.0" cy="114.0" r="3.7" fill="url(#gs)" stroke="#b4b4b4" stroke-width="0.3"/>
<circle cx="21.2" cy="64.0" r="3.3" fill="url(#gs)" stroke="#b4b4b4" stroke-width="0.3"/>
<circle cx="75.8" cy="115.4" r="2.7" fill="url(#gs)" stroke="#b4b4b4" stroke-width="0.3"/>
<circle cx="10.4" cy="52.6" r="3.1" fill="url(#gs)" stroke="#b4b4b4" stroke-width="0.3"/>
<circle cx="45.4" cy="123.0" r="2.5" fill="url(#gs)" stroke="#b4b4b4" stroke-width="0.3"/>
<circle cx="32.8" cy="89.5" r="2.4" fill="url(#gs)" stroke="#b4b4b4" stroke-width="0.3"/>
<circle cx="72.5" cy="79.4" r="2.7" fill="url(#gs)" stroke="#b4b4b4" stroke-width="0.3"/>
<circle cx="75.1" cy="104.1" r="3.7" fill="url(#gs)" stroke="#b4b4b4" stroke-width="0.3"/>
<circle cx="35.8" cy="63.2" r="2.5" fill="url(#gs)" stroke="#b4b4b4" stroke-width="0.3"/>
<circle cx="27.7" cy="89.8" r="2.2" fill="url(#gs)" stroke="#b4b4b4" stroke-width="0.3"/>
<circle cx="52.7" cy="69.0" r="3.7" fill="url(#gs)" stroke="#b4b4b4" stroke-width="0.3"/>
<circle cx="21.2" cy="59.7" r="3.4" fill="url(#gs)" stroke="#b4b4b4" stroke-width="0.3"/>
<circle cx="27.6" cy="95.3" r="3.4" fill="url(#gs)" stroke="#b4b4b4" stroke-width="0.3"/>
<circle cx="63.3" cy="52.1" r="2.7" fill="url(#gs)" stroke="#b4b4b4" stroke-width="0.3"/>
<circle cx="67.7" cy="60.0" r="2.2" fill="url(#gs)" stroke="#b4b4b4" stroke-width="0.3"/>
<circle cx="54.6" cy="74.1" r="2.7" fill="url(#gs)" stroke="#b4b4b4" stroke-width="0.3"/>
<circle cx="32.5" cy="104.7" r="2.1" fill="url(#gs)" stroke="#b4b4b4" stroke-width="0.3"/>
<circle cx="61.3" cy="101.6" r="2.0" fill="url(#gs)" stroke="#b4b4b4" stroke-width="0.3"/>
<circle cx="65.6" cy="84.0" r="2.4" fill="url(#gs)" stroke="#b4b4b4" stroke-width="0.3"/>
<circle cx="18.6" cy="82.4" r="3.2" fill="url(#gs)" stroke="#b4b4b4" stroke-width="0.3"/>
<circle cx="45.4" cy="111.7" r="2.2" fill="url(#gs)" stroke="#b4b4b4" stroke-width="0.3"/>
<circle cx="74.6" cy="86.4" r="3.3" fill="url(#gs)" stroke="#b4b4b4" stroke-width="0.3"/>
<circle cx="26.3" cy="59.9" r="2.7" fill="url(#gs)" stroke="#b4b4b4" stroke-width="0.3"/>
<circle cx="10.4" cy="55.3" r="2.0" fill="url(#gs)" stroke="#b4b4b4" stroke-width="0.3"/>
<circle cx="74.6" cy="115.6" r="2.9" fill="url(#gs)" stroke="#b4b4b4" stroke-width="0.3"/>
<circle cx="55.1" cy="106.7" r="3.2" fill="url(#gs)" stroke="#b4b4b4" stroke-width="0.3"/>
<circle cx="62.8" cy="113.9" r="3.4" fill="url(#gs)" stroke="#b4b4b4" stroke-width="0.3"/>
<circle cx="67.3" cy="103.9" r="3.1" fill="url(#gs)" stroke="#b4b4b4" stroke-width="0.3"/>
<circle cx="62.8" cy="107.5" r="2.5" fill="url(#gs)" stroke="#b4b4b4" stroke-width="0.3"/>
<circle cx="52.9" cy="118.3" r="2.8" fill="url(#gs)" stroke="#b4b4b4" stroke-width="0.3"/>
<circle cx="10.7" cy="118.2" r="3.5" fill="url(#gs)" stroke="#b4b4b4" stroke-width="0.3"/>
<circle cx="30.6" cy="61.1" r="2.3" fill="url(#gs)" stroke="#b4b4b4" stroke-width="0.3"/>
<circle cx="58.0" cy="101.6" r="3.3" fill="url(#gs)" stroke="#b4b4b4" stroke-width="0.3"/>
<circle cx="56.7" cy="110.4" r="3.2" fill="url(#gs)" stroke="#b4b4b4" stroke-width="0.3"/>
<circle cx="24.6" cy="69.7" r="3.5" fill="url(#gs)" stroke="#b4b4b4" stroke-width="0.3"/>
<circle cx="47.4" cy="93.2" r="2.9" fill="url(#gs)" stroke="#b4b4b4" stroke-width="0.3"/>
<circle cx="16.4" cy="73.1" r="2.8" fill="url(#gs)" stroke="#b4b4b4" stroke-width="0.3"/>
<circle cx="76.6" cy="57.7" r="2.9" fill="url(#gs)" stroke="#b4b4b4" stroke-width="0.3"/>
<circle cx="41.1" cy="97.6" r="2.8" fill="url(#gs)" stroke="#b4b4b4" stroke-width="0.3"/>
<circle cx="68.8" cy="105.8" r="3.3" fill="url(#gs)" stroke="#b4b4b4" stroke-width="0.3"/>
<circle cx="43.6" cy="113.8" r="2.3" fill="url(#gs)" stroke="#b4b4b4" stroke-width="0.3"/>
<circle cx="8.7" cy="90.1" r="3.2" fill="url(#gs)" stroke="#b4b4b4" stroke-width="0.3"/>
<circle cx="19.2" cy="69.6" r="2.7" fill="url(#gs)" stroke="#b4b4b4" stroke-width="0.3"/>
<circle cx="63.6" cy="58.2" r="3.7" fill="url(#gs)" stroke="#b4b4b4" stroke-width="0.3"/>
<circle cx="57.5" cy="65.7" r="3.3" fill="url(#gs)" stroke="#b4b4b4" stroke-width="0.3"/>
<circle cx="77.9" cy="121.1" r="3.6" fill="url(#gs)" stroke="#b4b4b4" stroke-width="0.3"/>
<circle cx="63.9" cy="69.4" r="3.5" fill="url(#gs)" stroke="#b4b4b4" stroke-width="0.3"/>
<circle cx="70.2" cy="92.2" r="3.6" fill="url(#gs)" stroke="#b4b4b4" stroke-width="0.3"/>
<circle cx="27.5" cy="105.2" r="3.4" fill="url(#gs)" stroke="#b4b4b4" stroke-width="0.3"/>
<circle cx="10.7" cy="91.1" r="2.7" fill="url(#gs)" stroke="#b4b4b4" stroke-width="0.3"/>
<circle cx="7.2" cy="114.4" r="2.2" fill="url(#gs)" stroke="#b4b4b4" stroke-width="0.3"/>
<circle cx="32.0" cy="84.7" r="2.4" fill="url(#gs)" stroke="#b4b4b4" stroke-width="0.3"/>
<circle cx="66.9" cy="86.3" r="2.1" fill="url(#gs)" stroke="#b4b4b4" stroke-width="0.3"/>
<circle cx="24.3" cy="115.2" r="3.8" fill="url(#gs)" stroke="#b4b4b4" stroke-width="0.3"/>
<circle cx="76.4" cy="72.5" r="3.1" fill="url(#gs)" stroke="#b4b4b4" stroke-width="0.3"/>
<circle cx="9.9" cy="122.4" r="3.4" fill="url(#gs)" stroke="#b4b4b4" stroke-width="0.3"/>
<circle cx="38.0" cy="74.7" r="3.7" fill="url(#gs)" stroke="#b4b4b4" stroke-width="0.3"/>
<circle cx="41.1" cy="103.4" r="2.1" fill="url(#gs)" stroke="#b4b4b4" stroke-width="0.3"/>
<circle cx="43.1" cy="90.6" r="2.7" fill="url(#gs)" stroke="#b4b4b4" stroke-width="0.3"/>
<circle cx="17.7" cy="119.0" r="3.5" fill="url(#gs)" stroke="#b4b4b4" stroke-width="0.3"/>
<circle cx="67.4" cy="117.6" r="2.3" fill="url(#gs)" stroke="#b4b4b4" stroke-width="0.3"/>
<circle cx="37.0" cy="100.7" r="2.7" fill="url(#gs)" stroke="#b4b4b4" stroke-width="0.3"/>
<circle cx="44.9" cy="114.1" r="3.2" fill="url(#gs)" stroke="#b4b4b4" stroke-width="0.3"/>
<circle cx="32.4" cy="97.6" r="3.4" fill="url(#gs)" stroke="#b4b4b4" stroke-width="0.3"/>
<circle cx="60.9" cy="108.3" r="2.6" fill="url(#gs)" stroke="#b4b4b4" stroke-width="0.3"/>
<circle cx="72.3" cy="85.8" r="2.8" fill="url(#gs)" stroke="#b4b4b4" stroke-width="0.3"/>
<circle cx="54.0" cy="72.0" r="2.3" fill="url(#gs)" stroke="#b4b4b4" stroke-width="0.3"/>
<circle cx="49.9" cy="75.6" r="2.0" fill="url(#gs)" stroke="#b4b4b4" stroke-width="0.3"/>
<circle cx="10.1" cy="82.4" r="3.3" fill="url(#gs)" stroke="#b4b4b4" stroke-width="0.3"/>
<circle cx="57.8" cy="87.9" r="2.1" fill="url(#gs)" stroke="#b4b4b4" stroke-width="0.3"/>
<circle cx="70.3" cy="112.8" r="2.2" fill="url(#gs)" stroke="#b4b4b4" stroke-width="0.3"/>
<circle cx="50.6" cy="97.6" r="3.8" fill="url(#gs)" stroke="#b4b4b4" stroke-width="0.3"/>
<circle cx="67.0" cy="108.9" r="2.6" fill="url(#gs)" stroke="#b4b4b4" stroke-width="0.3"/>
<circle cx="75.0" cy="116.3" r="2.8" fill="url(#gs)" stroke="#b4b4b4" stroke-width="0.3"/>
<circle cx="69.7" cy="55.4" r="3.1" fill="url(#gs)" stroke="#b4b4b4" stroke-width="0.3"/>
<circle cx="57.0" cy="60.1" r="3.6" fill="url(#gs)" stroke="#b4b4b4" stroke-width="0.3"/>
<circle cx="41.5" cy="75.1" r="2.0" fill="url(#gs)" stroke="#b4b4b4" stroke-width="0.3"/>
<circle cx="23.6" cy="103.6" r="2.8" fill="url(#gs)" stroke="#b4b4b4" stroke-width="0.3"/>
<circle cx="67.2" cy="53.9" r="3.8" fill="url(#gs)" stroke="#b4b4b4" stroke-width="0.3"/>
<circle cx="19.5" cy="114.1" r="2.6" fill="url(#gs)" stroke="#b4b4b4" stroke-width="0.3"/>
<circle cx="45.3" cy="65.6" r="2.8" fill="url(#gs)" stroke="#b4b4b4" stroke-width="0.3"/>
<circle cx="38.3" cy="118.9" r="2.2" fill="url(#gs)" stroke="#b4b4b4" stroke-width="0.3"/>
<circle cx="12.0" cy="100.1" r="2.4" fill="url(#gs)" stroke="#b4b4b4" stroke-width="0.3"/>
<circle cx="76.2" cy="107.6" r="3.0" fill="url(#gs)" stroke="#b4b4b4" stroke-width="0.3"/>
<circle cx="31.0" cy="94.9" r="2.1" fill="url(#gs)" stroke="#b4b4b4" stroke-width="0.3"/>
<circle cx="14.2" cy="45.0" r="2.1" fill="url(#gs)" stroke="#b4b4b4" stroke-width="0.3"/>
<circle cx="63.1" cy="71.6" r="2.9" fill="url(#gs)" stroke="#b4b4b4" stroke-width="0.3"/>
<circle cx="40.5" cy="94.1" r="2.2" fill="url(#gs)" stroke="#b4b4b4" stroke-width="0.3"/>
<circle cx="71.2" cy="83.3" r="2.8" fill="url(#gs)" stroke="#b4b4b4" stroke-width="0.3"/>
<circle cx="30.1" cy="120.5" r="3.8" fill="url(#gs)" stroke="#b4b4b4" stroke-width="0.3"/>
<circle cx="37.1" cy="100.2" r="2.9" fill="url(#gs)" stroke="#b4b4b4" stroke-width="0.3"/>
<circle cx="22.5" cy="95.4" r="3.7" fill="url(#gs)" stroke="#b4b4b4" stroke-width="0.3"/>
<circle cx="77.7" cy="61.8" r="2.8" fill="url(#gs)" stroke="#b4b4b4" stroke-width="0.3"/>
<circle cx="69.9" cy="96.4" r="3.3" fill="url(#gs)" stroke="#b4b4b4" stroke-width="0.3"/>
<circle cx="14.5" cy="69.3" r="3.7" fill="url(#gs)" stroke="#b4b4b4" stroke-width="0.3"/>
<circle cx="62.8" cy="86.9" r="3.4" fill="url(#gs)" stroke="#b4b4b4" stroke-width="0.3"/>
<circle cx="5.7" cy="51.5" r="2.4" fill="url(#gs)" stroke="#b4b4b4" stroke-width="0.3"/>
<circle cx="43.6" cy="48.4" r="3.2" fill="url(#gs)" stroke="#b4b4b4" stroke-width="0.3"/>
<circle cx="14.1" cy="98.0" r="2.8" fill="url(#gs)" stroke="#b4b4b4" stroke-width="0.3"/>
<circle cx="38.9" cy="59.0" r="3.5" fill="url(#gs)" stroke="#b4b4b4" stroke-width="0.3"/>
<circle cx="74.0" cy="120.2" r="3.0" fill="url(#gs)" stroke="#b4b4b4" stroke-width="0.3"/>
<circle cx="14.9" cy="74.4" r="2.2" fill="url(#gs)" stroke="#b4b4b4" stroke-width="0.3"/>
<circle cx="8.0" cy="100.6" r="2.5" fill="url(#gs)" stroke="#b4b4b4" stroke-width="0.3"/>
<circle cx="44.9" cy="79.9" r="3.2" fill="url(#gs)" stroke="#b4b4b4" stroke-width="0.3"/>
<circle cx="25.9" cy="123.3" r="3.3" fill="url(#gs)" stroke="#b4b4b4" stroke-width="0.3"/>
<circle cx="18.2" cy="54.8" r="3.0" fill="url(#gs)" stroke="#b4b4b4" stroke-width="0.3"/>
<circle cx="65.9" cy="55.5" r="2.4" fill="url(#gs)" stroke="#b4b4b4" stroke-width="0.3"/>
<circle cx="65.0" cy="100.4" r="3.7" fill="url(#gs)" stroke="#b4b4b4" stroke-width="0.3"/>
<circle cx="73.7" cy="63.2" r="2.1" fill="url(#gs)" stroke="#b4b4b4" stroke-width="0.3"/>
<circle cx="63.2" cy="75.9" r="3.0" fill="url(#gs)" stroke="#b4b4b4" stroke-width="0.3"/>
<circle cx="23.8" cy="74.7" r="2.5" fill="url(#gs)" stroke="#b4b4b4" stroke-width="0.3"/>
<circle cx="43.5" cy="95.3" r="3.3" fill="url(#gs)" stroke="#b4b4b4" stroke-width="0.3"/>
<circle cx="53.9" cy="64.0" r="3.0" fill="url(#gs)" stroke="#b4b4b4" stroke-width="0.3"/>
<circle cx="47.2" cy="100.2" r="2.3" fill="url(#gs)" stroke="#b4b4b4" stroke-width="0.3"/>
<circle cx="37.5" cy="115.1" r="2.7" fill="url(#gs)" stroke="#b4b4b4" stroke-width="0.3"/>
<circle cx="21.3" cy="116.7" r="2.7" fill="url(#gs)" stroke="#b4b4b4" stroke-width="0.3"/>
<circle cx="15.0" cy="79.9" r="3.3" fill="url(#gs)" stroke="#b4b4b4" stroke-width="0.3"/>
<circle cx="14.9" cy="50.9" r="2.8" fill="url(#gs)" stroke="#b4b4b4" stroke-width="0.3"/>
<circle cx="51.5" cy="44.5" r="3.0" fill="url(#gs)" stroke="#b4b4b4" stroke-width="0.3"/>
<circle cx="22.4" cy="80.7" r="3.4" fill="url(#gs)" stroke="#b4b4b4" stroke-width="0.3"/>
<circle cx="28.3" cy="108.4" r="2.5" fill="url(#gs)" stroke="#b4b4b4" stroke-width="0.3"/>
<circle cx="19.7" cy="52.9" r="3.7" fill="url(#gs)" stroke="#b4b4b4" stroke-width="0.3"/>
<circle cx="31.4" cy="65.2" r="2.2" fill="url(#gs)" stroke="#b4b4b4" stroke-width="0.3"/>
<circle cx="7.0" cy="119.9" r="3.1" fill="url(#gs)" stroke="#b4b4b4" stroke-width="0.3"/>
<circle cx="32.3" cy="112.1" r="3.6" fill="url(#gs)" stroke="#b4b4b4" stroke-width="0.3"/>
<circle cx="56.9" cy="120.5" r="2.5" fill="url(#gs)" stroke="#b4b4b4" stroke-width="0.3"/>
<circle cx="39.5" cy="84.9" r="2.0" fill="url(#gs)" stroke="#b4b4b4" stroke-width="0.3"/>
<circle cx="40.9" cy="43.6" r="2.6" fill="url(#gs)" stroke="#b4b4b4" stroke-width="0.3"/>
<circle cx="25.3" cy="52.7" r="3.1" fill="url(#gs)" stroke="#b4b4b4" stroke-width="0.3"/>
<circle cx="33.4" cy="123.2" r="3.6" fill="url(#gs)" stroke="#b4b4b4" stroke-width="0.3"/>
<circle cx="58.2" cy="73.9" r="2.5" fill="url(#gs)" stroke="#b4b4b4" stroke-width="0.3"/>
<circle cx="18.6" cy="49.8" r="3.0" fill="url(#gs)" stroke="#b4b4b4" stroke-width="0.3"/>
<circle cx="9.7" cy="77.8" r="3.5" fill="url(#gs)" stroke="#b4b4b4" stroke-width="0.3"/>
<circle cx="54.1" cy="79.5" r="3.0" fill="url(#gs)" stroke="#b4b4b4" stroke-width="0.3"/>
<circle cx="42.7" cy="100.8" r="3.7" fill="url(#gs)" stroke="#b4b4b4" stroke-width="0.3"/>
<circle cx="10.2" cy="114.6" r="2.7" fill="url(#gs)" stroke="#b4b4b4" stroke-width="0.3"/>
<circle cx="61.0" cy="59.3" r="2.5" fill="url(#gs)" stroke="#b4b4b4" stroke-width="0.3"/>
<circle cx="69.5" cy="76.2" r="3.3" fill="url(#gs)" stroke="#b4b4b4" stroke-width="0.3"/>
<circle cx="67.8" cy="94.7" r="2.4" fill="url(#gs)" stroke="#b4b4b4" stroke-width="0.3"/>
<circle cx="26.1" cy="92.7" r="2.8" fill="url(#gs)" stroke="#b4b4b4" stroke-width="0.3"/>
<circle cx="47.9" cy="103.3" r="3.6" fill="url(#gs)" stroke="#b4b4b4" stroke-width="0.3"/>
<circle cx="13.6" cy="109.1" r="3.5" fill="url(#gs)" stroke="#b4b4b4" stroke-width="0.3"/>
<circle cx="60.7" cy="107.5" r="3.2" fill="url(#gs)" stroke="#b4b4b4" stroke-width="0.3"/>
<circle cx="54.1" cy="83.4" r="3.7" fill="url(#gs)" stroke="#b4b4b4" stroke-width="0.3"/>
<circle cx="26.0" cy="70.5" r="2.9" fill="url(#gs)" stroke="#b4b4b4" stroke-width="0.3"/>
<circle cx="7.6" cy="98.3" r="2.5" fill="url(#gs)" stroke="#b4b4b4" stroke-width="0.3"/>
<circle cx="29.1" cy="83.2" r="2.8" fill="url(#gs)" stroke="#b4b4b4" stroke-width="0.3"/>
<circle cx="61.1" cy="89.9" r="2.5" fill="url(#gs)" stroke="#b4b4b4" stroke-width="0.3"/>
<circle cx="61.1" cy="77.9" r="2.5" fill="url(#gs)" stroke="#b4b4b4" stroke-width="0.3"/>
<circle cx="69.5" cy="62.8" r="2.8" fill="url(#gs)" stroke="#b4b4b4" stroke-width="0.3"/>
<circle cx="58.3" cy="58.1" r="2.8" fill="url(#gs)" stroke="#b4b4b4" stroke-width="0.3"/>
<circle cx="28.0" cy="79.8" r="3.6" fill="url(#gs)" stroke="#b4b4b4" stroke-width="0.3"/>
<circle cx="24.0" cy="105.8" r="3.4" fill="url(#gs)" stroke="#b4b4b4" stroke-width="0.3"/>
<circle cx="7.6" cy="69.0" r="3.6" fill="url(#gs)" stroke="#b4b4b4" stroke-width="0.3"/>
<circle cx="8.6" cy="109.7" r="3.8" fill="url(#gs)" stroke="#b4b4b4" stroke-width="0.3"/>
<circle cx="10.7" cy="64.1" r="3.0" fill="url(#gs)" stroke="#b4b4b4" stroke-width="0.3"/>
<circle cx="37.4" cy="52.3" r="2.2" fill="url(#gs)" stroke="#b4b4b4" stroke-width="0.3"/>
<circle cx="32.7" cy="101.3" r="2.7" fill="url(#gs)" stroke="#b4b4b4" stroke-width="0.3"/>
<circle cx="51.5" cy="55.7" r="2.5" fill="url(#gs)" stroke="#b4b4b4" stroke-width="0.3"/>
<circle cx="17.1" cy="93.4" r="2.3" fill="url(#gs)" stroke="#b4b4b4" stroke-width="0.3"/>
<circle cx="49.4" cy="50.9" r="2.3" fill="url(#gs)" stroke="#b4b4b4" stroke-width="0.3"/>
<circle cx="20.0" cy="43.5" r="2.2" fill="url(#gs)" stroke="#b4b4b4" stroke-width="0.3"/>
<circle cx="13.1" cy="104.1" r="2.2" fill="url(#gs)" stroke="#b4b4b4" stroke-width="0.3"/>
<circle cx="27.1" cy="49.1" r="2.8" fill="url(#gs)" stroke="#b4b4b4" stroke-width="0.3"/>
<circle cx="32.2" cy="56.6" r="3.4" fill="url(#gs)" stroke="#b4b4b4" stroke-width="0.3"/>
<circle cx="7.4" cy="94.4" r="3.7" fill="url(#gs)" stroke="#b4b4b4" stroke-width="0.3"/>
<circle cx="46.8" cy="59.0" r="2.0" fill="url(#gs)" stroke="#b4b4b4" stroke-width="0.3"/>
<circle cx="54.1" cy="90.9" r="3.1" fill="url(#gs)" stroke="#b4b4b4" stroke-width="0.3"/>
<circle cx="10.1" cy="74.1" r="3.3" fill="url(#gs)" stroke="#b4b4b4" stroke-width="0.3"/>
<circle cx="52.6" cy="82.2" r="3.0" fill="url(#gs)" stroke="#b4b4b4" stroke-width="0.3"/>
<circle cx="30.7" cy="97.9" r="3.5" fill="url(#gs)" stroke="#b4b4b4" stroke-width="0.3"/>
<circle cx="42.1" cy="84.4" r="3.7" fill="url(#gs)" stroke="#b4b4b4" stroke-width="0.3"/>
<circle cx="46.2" cy="75.5" r="2.9" fill="url(#gs)" stroke="#b4b4b4" stroke-width="0.3"/>
<circle cx="67.2" cy="78.4" r="3.3" fill="url(#gs)" stroke="#b4b4b4" stroke-width="0.3"/>
<circle cx="29.8" cy="109.0" r="3.8" fill="url(#gs)" stroke="#b4b4b4" stroke-width="0.3"/>
<circle cx="64.5" cy="44.8" r="2.5" fill="url(#gs)" stroke="#b4b4b4" stroke-width="0.3"/>
<circle cx="69.2" cy="123.0" r="2.3" fill="url(#gs)" stroke="#b4b4b4" stroke-width="0.3"/>
<circle cx="54.9" cy="113.9" r="2.3" fill="url(#gs)" stroke="#b4b4b4" stroke-width="0.3"/>
<circle cx="58.5" cy="84.4" r="2.9" fill="url(#gs)" stroke="#b4b4b4" stroke-width="0.3"/>
<circle cx="50.4" cy="88.5" r="3.5" fill="url(#gs)" stroke="#b4b4b4" stroke-width="0.3"/>
<circle cx="16.9" cy="62.4" r="3.4" fill="url(#gs)" stroke="#b4b4b4" stroke-width="0.3"/>
<circle cx="38.0" cy="105.6" r="3.8" fill="url(#gs)" stroke="#b4b4b4" stroke-width="0.3"/>
<circle cx="47.7" cy="43.9" r="3.0" fill="url(#gs)" stroke="#b4b4b4" stroke-width="0.3"/>
<circle cx="77.0" cy="98.1" r="2.6" fill="url(#gs)" stroke="#b4b4b4" stroke-width="0.3"/>
<circle cx="48.9" cy="56.0" r="2.1" fill="url(#gs)" stroke="#b4b4b4" stroke-width="0.3"/>
<circle cx="7.6" cy="61.4" r="2.2" fill="url(#gs)" stroke="#b4b4b4" stroke-width="0.3"/>
<circle cx="47.1" cy="48.7" r="2.3" fill="url(#gs)" stroke="#b4b4b4" stroke-width="0.3"/>
<circle cx="41.7" cy="57.8" r="3.5" fill="url(#gs)" stroke="#b4b4b4" stroke-width="0.3"/>
<circle cx="41.3" cy="109.9" r="2.5" fill="url(#gs)" stroke="#b4b4b4" stroke-width="0.3"/>
<circle cx="75.8" cy="68.6" r="2.8" fill="url(#gs)" stroke="#b4b4b4" stroke-width="0.3"/>
<circle cx="15.1" cy="83.5" r="2.0" fill="url(#gs)" stroke="#b4b4b4" stroke-width="0.3"/>
<circle cx="41.6" cy="86.2" r="2.5" fill="url(#gs)" stroke="#b4b4b4" stroke-width="0.3"/>
<circle cx="23.8" cy="48.2" r="3.3" fill="url(#gs)" stroke="#b4b4b4" stroke-width="0.3"/>
<circle cx="21.8" cy="72.0" r="3.7" fill="url(#gs)" stroke="#b4b4b4" stroke-width="0.3"/>
<circle cx="40.6" cy="121.0" r="3.4" fill="url(#gs)" stroke="#b4b4b4" stroke-width="0.3"/>
<circle cx="60.8" cy="67.1" r="2.2" fill="url(#gs)" stroke="#b4b4b4" stroke-width="0.3"/>
<circle cx="14.8" cy="96.0" r="3.8" fill="url(#gs)" stroke="#b4b4b4" stroke-width="0.3"/>
<circle cx="66.6" cy="65.7" r="3.5" fill="url(#gs)" stroke="#b4b4b4" stroke-width="0.3"/>
<circle cx="28.5" cy="112.8" r="3.3" fill="url(#gs)" stroke="#b4b4b4" stroke-width="0.3"/>
<circle cx="28.9" cy="74.4" r="2.8" fill="url(#gs)" stroke="#b4b4b4" stroke-width="0.3"/>
<circle cx="14.5" cy="88.3" r="2.2" fill="url(#gs)" stroke="#b4b4b4" stroke-width="0.3"/>
<circle cx="34.0" cy="70.7" r="2.6" fill="url(#gs)" stroke="#b4b4b4" stroke-width="0.3"/>
<circle cx="14.6" cy="89.7" r="2.4" fill="url(#gs)" stroke="#b4b4b4" stroke-width="0.3"/>
<circle cx="21.6" cy="86.6" r="2.7" fill="url(#gs)" stroke="#b4b4b4" stroke-width="0.3"/>
<circle cx="43.6" cy="108.0" r="2.5" fill="url(#gs)" stroke="#b4b4b4" stroke-width="0.3"/>
<circle cx="48.1" cy="117.4" r="3.0" fill="url(#gs)" stroke="#b4b4b4" stroke-width="0.3"/>
<circle cx="30.3" cy="118.5" r="3.6" fill="url(#gs)" stroke="#b4b4b4" stroke-width="0.3"/>
<circle cx="18.6" cy="111.8" r="2.2" fill="url(#gs)" stroke="#b4b4b4" stroke-width="0.3"/>
<circle cx="78.2" cy="44.2" r="3.8" fill="url(#gs)" stroke="#b4b4b4" stroke-width="0.3"/>
<circle cx="63.5" cy="59.4" r="3.1" fill="url(#gs)" stroke="#b4b4b4" stroke-width="0.3"/>
<circle cx="71.5" cy="73.5" r="2.6" fill="url(#gs)" stroke="#b4b4b4" stroke-width="0.3"/>
<circle cx="54.0" cy="52.2" r="2.0" fill="url(#gs)" stroke="#b4b4b4" stroke-width="0.3"/>
<circle cx="38.6" cy="80.7" r="3.0" fill="url(#gs)" stroke="#b4b4b4" stroke-width="0.3"/>
<circle cx="49.4" cy="90.1" r="3.7" fill="url(#gs)" stroke="#b4b4b4" stroke-width="0.3"/>
<circle cx="38.6" cy="66.2" r="3.0" fill="url(#gs)" stroke="#b4b4b4" stroke-width="0.3"/>
<circle cx="52.5" cy="112.4" r="3.1" fill="url(#gs)" stroke="#b4b4b4" stroke-width="0.3"/>
<circle cx="7.4" cy="83.8" r="2.1" fill="url(#gs)" stroke="#b4b4b4" stroke-width="0.3"/>
<circle cx="52.1" cy="120.3" r="2.9" fill="url(#gs)" stroke="#b4b4b4" stroke-width="0.3"/>
<circle cx="75.1" cy="80.1" r="3.4" fill="url(#gs)" stroke="#b4b4b4" stroke-width="0.3"/>
<circle cx="33.9" cy="118.0" r="3.4" fill="url(#gs)" stroke="#b4b4b4" stroke-width="0.3"/>
<circle cx="6.7" cy="75.1" r="2.1" fill="url(#gs)" stroke="#b4b4b4" stroke-width="0.3"/>
<circle cx="15.2" cy="56.6" r="2.3" fill="url(#gs)" stroke="#b4b4b4" stroke-width="0.3"/>
<circle cx="32.8" cy="66.9" r="2.6" fill="url(#gs)" stroke="#b4b4b4" stroke-width="0.3"/>
<circle cx="32.1" cy="59.1" r="3.6" fill="url(#gs)" stroke="#b4b4b4" stroke-width="0.3"/>
<circle cx="10.2" cy="68.7" r="3.2" fill="url(#gs)" stroke="#b4b4b4" stroke-width="0.3"/>
<circle cx="33.7" cy="44.6" r="3.8" fill="url(#gs)" stroke="#b4b4b4" stroke-width="0.3"/>
<circle cx="63.1" cy="120.3" r="3.7" fill="url(#gs)" stroke="#b4b4b4" stroke-width="0.3"/>
<circle cx="63.3" cy="47.3" r="2.8" fill="url(#gs)" stroke="#b4b4b4" stroke-width="0.3"/>
<circle cx="35.9" cy="111.6" r="2.7" fill="url(#gs)" stroke="#b4b4b4" stroke-width="0.3"/>
<circle cx="30.3" cy="70.4" r="2.3" fill="url(#gs)" stroke="#b4b4b4" stroke-width="0.3"/>
<circle cx="63.4" cy="65.7" r="2.5" fill="url(#gs)" stroke="#b4b4b4" stroke-width="0.3"/>
<circle cx="46.7" cy="90.5" r="2.6" fill="url(#gs)" stroke="#b4b4b4" stroke-width="0.3"/>
<circle cx="60.4" cy="44.7" r="2.6" fill="url(#gs)" stroke="#b4b4b4" stroke-width="0.3"/>
<circle cx="72.1" cy="48.0" r="2.7" fill="url(#gs)" stroke="#b4b4b4" stroke-width="0.3"/>
<circle cx="32.4" cy="50.4" r="2.9" fill="url(#gs)" stroke="#b4b4b4" stroke-width="0.3"/>
<circle cx="26.9" cy="117.3" r="2.2" fill="url(#gs)" stroke="#b4b4b4" stroke-width="0.3"/>
<circle cx="13.7" cy="62.4" r="2.8" fill="url(#gs)" stroke="#b4b4b4" stroke-width="0.3"/>
<circle cx="57.5" cy="73.4" r="2.2" fill="url(#gs)" stroke="#b4b4b4" stroke-width="0.3"/>
<circle cx="25.2" cy="102.3" r="2.7" fill="url(#gs)" stroke="#b4b4b4" stroke-width="0.3"/>
<circle cx="11.4" cy="107.8" r="2.3" fill="url(#gs)" stroke="#b4b4b4" stroke-width="0.3"/>
<circle cx="61.9" cy="96.4" r="3.2" fill="url(#gs)" stroke="#b4b4b4" stroke-width="0.3"/>
<circle cx="70.0" cy="83.2" r="2.0" fill="url(#gs)" stroke="#b4b4b4" stroke-width="0.3"/>
<circle cx="56.3" cy="47.9" r="2.7" fill="url(#gs)" stroke="#b4b4b4" stroke-width="0.3"/>
<circle cx="28.0" cy="45.5" r="3.7" fill="url(#gs)" stroke="#b4b4b4" stroke-width="0.3"/>
<circle cx="36.6" cy="122.6" r="3.7" fill="url(#gs)" stroke="#b4b4b4" stroke-width="0.3"/>
<circle cx="36.9" cy="91.2" r="3.6" fill="url(#gs)" stroke="#b4b4b4" stroke-width="0.3"/>
<circle cx="32.5" cy="77.3" r="3.8" fill="url(#gs)" stroke="#b4b4b4" stroke-width="0.3"/>
<circle cx="19.8" cy="123.2" r="2.2" fill="url(#gs)" stroke="#b4b4b4" stroke-width="0.3"/>
<circle cx="74.7" cy="50.2" r="3.7" fill="url(#gs)" stroke="#b4b4b4" stroke-width="0.3"/>
<circle cx="76.0" cy="52.1" r="2.5" fill="url(#gs)" stroke="#b4b4b4" stroke-width="0.3"/>
<circle cx="74.5" cy="93.0" r="2.9" fill="url(#gs)" stroke="#b4b4b4" stroke-width="0.3"/>
<circle cx="62.0" cy="116.8" r="3.4" fill="url(#gs)" stroke="#b4b4b4" stroke-width="0.3"/>
<circle cx="44.4" cy="70.6" r="2.6" fill="url(#gs)" stroke="#b4b4b4" stroke-width="0.3"/>
<circle cx="36.2" cy="46.3" r="2.5" fill="url(#gs)" stroke="#b4b4b4" stroke-width="0.3"/>
<circle cx="52.7" cy="108.8" r="2.4" fill="url(#gs)" stroke="#b4b4b4" stroke-width="0.3"/>
<circle cx="74.5" cy="59.8" r="2.8" fill="url(#gs)" stroke="#b4b4b4" stroke-width="0.3"/>
<circle cx="59.4" cy="100.0" r="3.6" fill="url(#gs)" stroke="#b4b4b4" stroke-width="0.3"/>
<circle cx="30.9" cy="86.3" r="2.1" fill="url(#gs)" stroke="#b4b4b4" stroke-width="0.3"/>
<circle cx="27.8" cy="67.7" r="2.9" fill="url(#gs)" stroke="#b4b4b4" stroke-width="0.3"/>
<circle cx="16.7" cy="60.2" r="2.3" fill="url(#gs)" stroke="#b4b4b4" stroke-width="0.3"/>
<circle cx="31.9" cy="80.1" r="2.4" fill="url(#gs)" stroke="#b4b4b4" stroke-width="0.3"/>
<circle cx="63.3" cy="90.6" r="2.8" fill="url(#gs)" stroke="#b4b4b4" stroke-width="0.3"/>
<circle cx="73.3" cy="68.7" r="2.2" fill="url(#gs)" stroke="#b4b4b4" stroke-width="0.3"/>
<circle cx="45.1" cy="104.8" r="2.9" fill="url(#gs)" stroke="#b4b4b4" stroke-width="0.3"/>
<circle cx="8.5" cy="88.3" r="2.0" fill="url(#gs)" stroke="#b4b4b4" stroke-width="0.3"/>
<circle cx="21.2" cy="106.6" r="2.6" fill="url(#gs)" stroke="#b4b4b4" stroke-width="0.3"/>
<circle cx="25.9" cy="56.0" r="2.3" fill="url(#gs)" stroke="#b4b4b4" stroke-width="0.3"/>
<circle cx="33.9" cy="78.1" r="2.6" fill="url(#gs)" stroke="#b4b4b4" stroke-width="0.3"/>
<circle cx="76.7" cy="82.0" r="2.6" fill="url(#gs)" stroke="#b4b4b4" stroke-width="0.3"/>
<circle cx="49.1" cy="110.5" r="2.4" fill="url(#gs)" stroke="#b4b4b4" stroke-width="0.3"/>
<circle cx="9.9" cy="45.1" r="2.7" fill="url(#gs)" stroke="#b4b4b4" stroke-width="0.3"/>
<circle cx="51.8" cy="47.2" r="3.4" fill="url(#gs)" stroke="#b4b4b4" stroke-width="0.3"/>
<circle cx="53.8" cy="43.4" r="2.4" fill="url(#gs)" stroke="#b4b4b4" stroke-width="0.3"/>
<circle cx="36.2" cy="47.2" r="3.3" fill="url(#gs)" stroke="#b4b4b4" stroke-width="0.3"/>
<circle cx="7.7" cy="73.4" r="3.1" fill="url(#gs)" stroke="#b4b4b4" stroke-width="0.3"/>
<circle cx="19.7" cy="101.4" r="2.6" fill="url(#gs)" stroke="#b4b4b4" stroke-width="0.3"/>
<circle cx="12.0" cy="61.8" r="3.4" fill="url(#gs)" stroke="#b4b4b4" stroke-width="0.3"/>
<circle cx="57.4" cy="116.0" r="3.1" fill="url(#gs)" stroke="#b4b4b4" stroke-width="0.3"/>
<circle cx="28.6" cy="87.4" r="2.6" fill="url(#gs)" stroke="#b4b4b4" stroke-width="0.3"/>
<circle cx="72.4" cy="100.7" r="2.4" fill="url(#gs)" stroke="#b4b4b4" stroke-width="0.3"/>
<circle cx="71.3" cy="89.3" r="3.3" fill="url(#gs)" stroke="#b4b4b4" stroke-width="0.3"/>
<circle cx="36.6" cy="93.8" r="3.7" fill="url(#gs)" stroke="#b4b4b4" stroke-width="0.3"/>
<circle cx="79.1" cy="74.4" r="3.3" fill="url(#gs)" stroke="#b4b4b4" stroke-width="0.3"/>
<circle cx="52.7" cy="60.9" r="2.9" fill="url(#gs)" stroke="#b4b4b4" stroke-width="0.3"/>
<circle cx="67.7" cy="66.7" r="3.7" fill="url(#gs)" stroke="#b4b4b4" stroke-width="0.3"/>
<circle cx="7.8" cy="48.5" r="3.4" fill="url(#gs)" stroke="#b4b4b4" stroke-width="0.3"/>
<circle cx="6.4" cy="43.7" r="3.2" fill="url(#gs)" stroke="#b4b4b4" stroke-width="0.3"/>
<circle cx="58.2" cy="77.9" r="3.3" fill="url(#gs)" stroke="#b4b4b4" stroke-width="0.3"/>
<circle cx="15.0" cy="113.2" r="3.7" fill="url(#gs)" stroke="#b4b4b4" stroke-width="0.3"/>
<circle cx="48.8" cy="77.7" r="3.4" fill="url(#gs)" stroke="#b4b4b4" stroke-width="0.3"/>
<circle cx="59.8" cy="120.9" r="2.1" fill="url(#gs)" stroke="#b4b4b4" stroke-width="0.3"/>
<circle cx="6.6" cy="105.4" r="2.8" fill="url(#gs)" stroke="#b4b4b4" stroke-width="0.3"/>
<circle cx="19.1" cy="78.2" r="2.9" fill="url(#gs)" stroke="#b4b4b4" stroke-width="0.3"/>
<circle cx="40.5" cy="50.6" r="3.5" fill="url(#gs)" stroke="#b4b4b4" stroke-width="0.3"/>
<circle cx="12.4" cy="118.8" r="2.4" fill="url(#gs)" stroke="#b4b4b4" stroke-width="0.3"/>
<circle cx="41.0" cy="64.2" r="3.0" fill="url(#gs)" stroke="#b4b4b4" stroke-width="0.3"/>
<circle cx="14.7" cy="70.3" r="3.5" fill="url(#gs)" stroke="#b4b4b4" stroke-width="0.3"/>
<circle cx="58.0" cy="93.0" r="2.5" fill="url(#gs)" stroke="#b4b4b4" stroke-width="0.3"/>
<circle cx="42.7" cy="51.1" r="2.1" fill="url(#gs)" stroke="#b4b4b4" stroke-width="0.3"/>
<circle cx="25.3" cy="83.9" r="2.5" fill="url(#gs)" stroke="#b4b4b4" stroke-width="0.3"/>
<circle cx="19.5" cy="87.9" r="3.6" fill="url(#gs)" stroke="#b4b4b4" stroke-width="0.3"/>
<circle cx="43.9" cy="60.9" r="2.6" fill="url(#gs)" stroke="#b4b4b4" stroke-width="0.3"/>
<circle cx="69.7" cy="111.1" r="3.0" fill="url(#gs)" stroke="#b4b4b4" stroke-width="0.3"/>
<circle cx="34.2" cy="88.3" r="2.5" fill="url(#gs)" stroke="#b4b4b4" stroke-width="0.3"/>
<circle cx="53.7" cy="88.6" r="3.7" fill="url(#gs)" stroke="#b4b4b4" stroke-width="0.3"/>
<circle cx="21.4" cy="77.0" r="3.2" fill="url(#gs)" stroke="#b4b4b4" stroke-width="0.3"/>
<circle cx="44.4" cy="86.0" r="2.7" fill="url(#gs)" stroke="#b4b4b4" stroke-width="0.3"/>
<circle cx="21.7" cy="90.9" r="2.4" fill="url(#gs)" stroke="#b4b4b4" stroke-width="0.3"/>
<circle cx="44.8" cy="117.9" r="3.1" fill="url(#gs)" stroke="#b4b4b4" stroke-width="0.3"/>
<circle cx="51.8" cy="106.1" r="2.4" fill="url(#gs)" stroke="#b4b4b4" stroke-width="0.3"/>
<circle cx="67.6" cy="71.4" r="2.9" fill="url(#gs)" stroke="#b4b4b4" stroke-width="0.3"/>
<circle cx="24.1" cy="57.8" r="3.3" fill="url(#gs)" stroke="#b4b4b4" stroke-width="0.3"/>
<circle cx="73.6" cy="108.6" r="2.7" fill="url(#gs)" stroke="#b4b4b4" stroke-width="0.3"/>
<circle cx="16.9" cy="107.1" r="3.5" fill="url(#gs)" stroke="#b4b4b4" stroke-width="0.3"/>
<circle cx="22.3" cy="111.2" r="3.5" fill="url(#gs)" stroke="#b4b4b4" stroke-width="0.3"/>
<ellipse cx="50" cy="80" rx="9" ry="6" fill="url(#gl)"/>
<ellipse cx="16" cy="74" rx="6" ry="8" fill="url(#gl)"/>
<ellipse cx="30" cy="80" rx="6" ry="5" fill="url(#gl)"/>
<ellipse cx="58" cy="58" rx="6" ry="4" fill="url(#gl)"/>
<ellipse cx="62.5" cy="65.5" rx="13" ry="12" fill="url(#gp)"/>
<ellipse cx="37" cy="108" rx="13" ry="12" fill="url(#gp)"/>
<ellipse cx="30" cy="60" rx="11" ry="8" fill="url(#gp)"/>
<ellipse cx="22" cy="95" rx="9" ry="8" fill="url(#gp)"/>
<ellipse cx="46" cy="100" rx="6" ry="6" fill="url(#gp)"/>
<ellipse cx="34.8" cy="66.0" rx="7.5" ry="5" fill="url(#gr)"/>
<ellipse cx="19.9" cy="53.7" rx="4.5" ry="3.8" fill="url(#gr)"/>
<ellipse cx="32.7" cy="49.5" rx="4" ry="3.2" fill="url(#gr)"/>
<ellipse cx="71" cy="68.6" rx="4.5" ry="4.5" fill="url(#gr)"/>
<ellipse cx="63.6" cy="74" rx="4.5" ry="4" fill="url(#gr)"/>
<ellipse cx="68" cy="61" rx="4" ry="3.2" fill="url(#gr)"/>
<ellipse cx="60" cy="66" rx="4" ry="3.5" fill="url(#gr)"/>
<ellipse cx="16.7" cy="88.5" rx="6.5" ry="5.5" fill="url(#gr)"/>
<ellipse cx="32.7" cy="96.3" rx="9" ry="7.5" fill="url(#gr)"/>
<ellipse cx="38" cy="100" rx="6" ry="5" fill="url(#gr)"/>
<ellipse cx="45" cy="60" rx="6" ry="5" fill="url(#gp)"/>
<ellipse cx="40.2" cy="80.4" rx="4.5" ry="4" fill="url(#gb)"/>
<ellipse cx="57.2" cy="81.4" rx="4" ry="4" fill="url(#gb)"/>
<ellipse cx="29.5" cy="90" rx="5.5" ry="4.5" fill="url(#gb)"/>
<ellipse cx="10.3" cy="80.4" rx="4" ry="4.5" fill="url(#gb)"/>
<ellipse cx="9.3" cy="87.8" rx="3.5" ry="3.5" fill="url(#gb)"/>
<ellipse cx="65.7" cy="54.8" rx="4" ry="3.2" fill="url(#gb)"/>
<ellipse cx="22.6" cy="52.7" rx="3.2" ry="2.8" fill="url(#gb)"/>
<ellipse cx="47" cy="57" rx="3" ry="2.6" fill="url(#gb)"/>
<g fill="none" stroke="#7a7a7a" stroke-width="0.3" opacity="0.35"><circle cx="47.0" cy="68.0" r="2.1"/><circle cx="54.0" cy="67.1" r="2.1"/><circle cx="71.9" cy="105.3" r="2.4"/><circle cx="34.4" cy="54.0" r="3.4"/><circle cx="78.8" cy="90.8" r="3.1"/><circle cx="70.7" cy="116.3" r="2.2"/><circle cx="61.1" cy="53.1" r="2.3"/><circle cx="25.5" cy="98.6" r="2.4"/><circle cx="46.4" cy="82.4" r="2.4"/><circle cx="49.2" cy="64.2" r="2.9"/><circle cx="27.0" cy="63.5" r="2.9"/><circle cx="45.5" cy="57.3" r="2.4"/><circle cx="72.9" cy="52.6" r="2.2"/><circle cx="29.6" cy="51.1" r="3.6"/><circle cx="24.3" cy="46.2" r="2.2"/><circle cx="66.6" cy="50.2" r="3.5"/><circle cx="59.0" cy="114.0" r="3.7"/><circle cx="75.8" cy="115.4" r="2.7"/><circle cx="45.4" cy="123.0" r="2.5"/><circle cx="72.5" cy="79.4" r="2.7"/><circle cx="35.8" cy="63.2" r="2.5"/><circle cx="52.7" cy="69.0" r="3.7"/><circle cx="27.6" cy="95.3" r="3.4"/><circle cx="67.7" cy="60.0" r="2.2"/><circle cx="32.5" cy="104.7" r="2.1"/><circle cx="65.6" cy="84.0" r="2.4"/><circle cx="45.4" cy="111.7" r="2.2"/><circle cx="26.3" cy="59.9" r="2.7"/><circle cx="74.6" cy="115.6" r="2.9"/><circle cx="62.8" cy="113.9" r="3.4"/><circle cx="62.8" cy="107.5" r="2.5"/><circle cx="10.7" cy="118.2" r="3.5"/><circle cx="58.0" cy="101.6" r="3.3"/><circle cx="24.6" cy="69.7" r="3.5"/><circle cx="16.4" cy="73.1" r="2.8"/><circle cx="41.1" cy="97.6" r="2.8"/><circle cx="43.6" cy="113.8" r="2.3"/><circle cx="19.2" cy="69.6" r="2.7"/><circle cx="57.5" cy="65.7" r="3.3"/><circle cx="63.9" cy="69.4" r="3.5"/><circle cx="27.5" cy="105.2" r="3.4"/><circle cx="7.2" cy="114.4" r="2.2"/><circle cx="66.9" cy="86.3" r="2.1"/><circle cx="76.4" cy="72.5" r="3.1"/><circle cx="38.0" cy="74.7" r="3.7"/><circle cx="43.1" cy="90.6" r="2.7"/><circle cx="67.4" cy="117.6" r="2.3"/><circle cx="44.9" cy="114.1" r="3.2"/><circle cx="60.9" cy="108.3" r="2.6"/><circle cx="54.0" cy="72.0" r="2.3"/><circle cx="10.1" cy="82.4" r="3.3"/><circle cx="70.3" cy="112.8" r="2.2"/><circle cx="67.0" cy="108.9" r="2.6"/><circle cx="69.7" cy="55.4" r="3.1"/><circle cx="41.5" cy="75.1" r="2.0"/><circle cx="67.2" cy="53.9" r="3.8"/><circle cx="45.3" cy="65.6" r="2.8"/><circle cx="12.0" cy="100.1" r="2.4"/><circle cx="31.0" cy="94.9" r="2.1"/><circle cx="63.1" cy="71.6" r="2.9"/><circle cx="71.2" cy="83.3" r="2.8"/><circle cx="37.1" cy="100.2" r="2.9"/><circle cx="77.7" cy="61.8" r="2.8"/><circle cx="14.5" cy="69.3" r="3.7"/><circle cx="5.7" cy="51.5" r="2.4"/><circle cx="14.1" cy="98.0" r="2.8"/><circle cx="74.0" cy="120.2" r="3.0"/><circle cx="8.0" cy="100.6" r="2.5"/><circle cx="25.9" cy="123.3" r="3.3"/><circle cx="65.9" cy="55.5" r="2.4"/><circle cx="73.7" cy="63.2" r="2.1"/><circle cx="23.8" cy="74.7" r="2.5"/><circle cx="53.9" cy="64.0" r="3.0"/><circle cx="37.5" cy="115.1" r="2.7"/><circle cx="15.0" cy="79.9" r="3.3"/><circle cx="51.5" cy="44.5" r="3.0"/><circle cx="28.3" cy="108.4" r="2.5"/><circle cx="31.4" cy="65.2" r="2.2"/><circle cx="32.3" cy="112.1" r="3.6"/><circle cx="39.5" cy="84.9" r="2.0"/><circle cx="25.3" cy="52.7" r="3.1"/><circle cx="58.2" cy="73.9" r="2.5"/><circle cx="9.7" cy="77.8" r="3.5"/><circle cx="42.7" cy="100.8" r="3.7"/><circle cx="61.0" cy="59.3" r="2.5"/><circle cx="67.8" cy="94.7" r="2.4"/><circle cx="47.9" cy="103.3" r="3.6"/><circle cx="60.7" cy="107.5" r="3.2"/><circle cx="26.0" cy="70.5" r="2.9"/><circle cx="29.1" cy="83.2" r="2.8"/><circle cx="61.1" cy="77.9" r="2.5"/><circle cx="58.3" cy="58.1" r="2.8"/><circle cx="24.0" cy="105.8" r="3.4"/><circle cx="8.6" cy="109.7" r="3.8"/><circle cx="37.4" cy="52.3" r="2.2"/><circle cx="51.5" cy="55.7" r="2.5"/><circle cx="49.4" cy="50.9" r="2.3"/><circle cx="13.1" cy="104.1" r="2.2"/><circle cx="32.2" cy="56.6" r="3.4"/><circle cx="46.8" cy="59.0" r="2.0"/><circle cx="10.1" cy="74.1" r="3.3"/><circle cx="30.7" cy="97.9" r="3.5"/><circle cx="46.2" cy="75.5" r="2.9"/><circle cx="29.8" cy="109.0" r="3.8"/><circle cx="69.2" cy="123.0" r="2.3"/><circle cx="58.5" cy="84.4" r="2.9"/><circle cx="16.9" cy="62.4" r="3.4"/><circle cx="47.7" cy="43.9" r="3.0"/><circle cx="48.9" cy="56.0" r="2.1"/><circle cx="47.1" cy="48.7" r="2.3"/><circle cx="41.3" cy="109.9" r="2.5"/><circle cx="15.1" cy="83.5" r="2.0"/><circle cx="23.8" cy="48.2" r="3.3"/><circle cx="40.6" cy="121.0" r="3.4"/><circle cx="14.8" cy="96.0" r="3.8"/><circle cx="28.5" cy="112.8" r="3.3"/><circle cx="14.5" cy="88.3" r="2.2"/><circle cx="14.6" cy="89.7" r="2.4"/><circle cx="43.6" cy="108.0" r="2.5"/><circle cx="30.3" cy="118.5" r="3.6"/><circle cx="78.2" cy="44.2" r="3.8"/><circle cx="71.5" cy="73.5" r="2.6"/><circle cx="38.6" cy="80.7" r="3.0"/><circle cx="38.6" cy="66.2" r="3.0"/><circle cx="7.4" cy="83.8" r="2.1"/><circle cx="75.1" cy="80.1" r="3.4"/><circle cx="6.7" cy="75.1" r="2.1"/><circle cx="32.8" cy="66.9" r="2.6"/><circle cx="10.2" cy="68.7" r="3.2"/><circle cx="63.1" cy="120.3" r="3.7"/><circle cx="35.9" cy="111.6" r="2.7"/><circle cx="63.4" cy="65.7" r="2.5"/><circle cx="60.4" cy="44.7" r="2.6"/><circle cx="32.4" cy="50.4" r="2.9"/><circle cx="13.7" cy="62.4" r="2.8"/><circle cx="25.2" cy="102.3" r="2.7"/><circle cx="61.9" cy="96.4" r="3.2"/><circle cx="56.3" cy="47.9" r="2.7"/><circle cx="36.6" cy="122.6" r="3.7"/><circle cx="32.5" cy="77.3" r="3.8"/><circle cx="74.7" cy="50.2" r="3.7"/><circle cx="74.5" cy="93.0" r="2.9"/><circle cx="44.4" cy="70.6" r="2.6"/><circle cx="52.7" cy="108.8" r="2.4"/><circle cx="59.4" cy="100.0" r="3.6"/><circle cx="27.8" cy="67.7" r="2.9"/><circle cx="31.9" cy="80.1" r="2.4"/><circle cx="73.3" cy="68.7" r="2.2"/><circle cx="8.5" cy="88.3" r="2.0"/><circle cx="25.9" cy="56.0" r="2.3"/><circle cx="76.7" cy="82.0" r="2.6"/><circle cx="9.9" cy="45.1" r="2.7"/><circle cx="53.8" cy="43.4" r="2.4"/><circle cx="7.7" cy="73.4" r="3.1"/><circle cx="12.0" cy="61.8" r="3.4"/><circle cx="28.6" cy="87.4" r="2.6"/><circle cx="71.3" cy="89.3" r="3.3"/><circle cx="79.1" cy="74.4" r="3.3"/><circle cx="67.7" cy="66.7" r="3.7"/><circle cx="6.4" cy="43.7" r="3.2"/><circle cx="15.0" cy="113.2" r="3.7"/><circle cx="59.8" cy="120.9" r="2.1"/><circle cx="19.1" cy="78.2" r="2.9"/><circle cx="12.4" cy="118.8" r="2.4"/><circle cx="14.7" cy="70.3" r="3.5"/><circle cx="42.7" cy="51.1" r="2.1"/><circle cx="19.5" cy="87.9" r="3.6"/><circle cx="69.7" cy="111.1" r="3.0"/><circle cx="53.7" cy="88.6" r="3.7"/><circle cx="44.4" cy="86.0" r="2.7"/><circle cx="44.8" cy="117.9" r="3.1"/><circle cx="67.6" cy="71.4" r="2.9"/><circle cx="73.6" cy="108.6" r="2.7"/><circle cx="22.3" cy="111.2" r="3.5"/></g>
</g>
<path d="M8.80,66.00 C9.25,64.08 9.55,61.33 10.50,59.50 C11.45,57.67 12.92,56.25 14.50,55.00 C16.08,53.75 18.08,53.00 20.00,52.00 C21.92,51.00 24.00,49.80 26.00,49.00 C28.00,48.20 30.00,47.40 32.00,47.20 C34.00,47.00 36.17,47.25 38.00,47.80 C39.83,48.35 41.33,49.55 43.00,50.50 C44.67,51.45 46.50,52.83 48.00,53.50 C49.50,54.17 50.50,54.58 52.00,54.50 C53.50,54.42 55.17,53.33 57.00,53.00 C58.83,52.67 61.00,52.25 63.00,52.50 C65.00,52.75 67.23,53.25 69.00,54.50 C70.77,55.75 72.60,57.92 73.60,60.00 C74.60,62.08 75.18,64.75 75.00,67.00 C74.82,69.25 74.00,71.75 72.50,73.50 C71.00,75.25 67.67,76.00 66.00,77.50 C64.33,79.00 62.75,80.58 62.50,82.50 C62.25,84.42 64.83,86.92 64.50,89.00 C64.17,91.08 61.83,93.00 60.50,95.00 C59.17,97.00 57.83,98.83 56.50,101.00 C55.17,103.17 54.00,105.83 52.50,108.00 C51.00,110.17 49.33,112.25 47.50,114.00 C45.67,115.75 43.50,117.58 41.50,118.50 C39.50,119.42 37.25,120.00 35.50,119.50 C33.75,119.00 32.33,117.25 31.00,115.50 C29.67,113.75 29.08,111.08 27.50,109.00 C25.92,106.92 23.92,105.25 21.50,103.00 C19.08,100.75 15.22,98.08 13.00,95.50 C10.78,92.92 9.10,90.42 8.20,87.50 C7.30,84.58 7.67,80.75 7.60,78.00 C7.53,75.25 7.60,73.00 7.80,71.00 C8.00,69.00 8.35,67.92 8.80,66.00Z" fill="none" stroke="#c8c8c8" stroke-width="3" opacity="0.6" clip-path="url(#cta)"/>
<path d="M8.80,66.00 C9.25,64.08 9.55,61.33 10.50,59.50 C11.45,57.67 12.92,56.25 14.50,55.00 C16.08,53.75 18.08,53.00 20.00,52.00 C21.92,51.00 24.00,49.80 26.00,49.00 C28.00,48.20 30.00,47.40 32.00,47.20 C34.00,47.00 36.17,47.25 38.00,47.80 C39.83,48.35 41.33,49.55 43.00,50.50 C44.67,51.45 46.50,52.83 48.00,53.50 C49.50,54.17 50.50,54.58 52.00,54.50 C53.50,54.42 55.17,53.33 57.00,53.00 C58.83,52.67 61.00,52.25 63.00,52.50 C65.00,52.75 67.23,53.25 69.00,54.50 C70.77,55.75 72.60,57.92 73.60,60.00 C74.60,62.08 75.18,64.75 75.00,67.00 C74.82,69.25 74.00,71.75 72.50,73.50 C71.00,75.25 67.67,76.00 66.00,77.50 C64.33,79.00 62.75,80.58 62.50,82.50 C62.25,84.42 64.83,86.92 64.50,89.00 C64.17,91.08 61.83,93.00 60.50,95.00 C59.17,97.00 57.83,98.83 56.50,101.00 C55.17,103.17 54.00,105.83 52.50,108.00 C51.00,110.17 49.33,112.25 47.50,114.00 C45.67,115.75 43.50,117.58 41.50,118.50 C39.50,119.42 37.25,120.00 35.50,119.50 C33.75,119.00 32.33,117.25 31.00,115.50 C29.67,113.75 29.08,111.08 27.50,109.00 C25.92,106.92 23.92,105.25 21.50,103.00 C19.08,100.75 15.22,98.08 13.00,95.50 C10.78,92.92 9.10,90.42 8.20,87.50 C7.30,84.58 7.67,80.75 7.60,78.00 C7.53,75.25 7.60,73.00 7.80,71.00 C8.00,69.00 8.35,67.92 8.80,66.00Z" fill="none" stroke="#8a8a8a" stroke-width="0.7"/>
<clipPath id="cra"><path d="M76.10,100.40 C75.75,97.97 79.22,94.47 80.20,91.00 C81.18,87.53 81.65,83.93 82.00,79.60 C82.35,75.27 81.73,69.50 82.30,65.00 C82.87,60.50 83.67,55.72 85.40,52.60 C87.13,49.48 90.27,47.98 92.70,46.30 C95.13,44.62 97.78,43.38 100.00,42.50 C102.22,41.62 103.92,40.98 106.00,41.00 C108.08,41.02 110.90,41.02 112.50,42.60 C114.10,44.18 113.02,48.67 115.60,50.50 C118.18,52.33 123.85,52.73 128.00,53.60 C132.15,54.47 136.68,53.45 140.50,55.70 C144.32,57.95 147.78,64.33 150.90,67.10 C154.02,69.87 156.68,70.65 159.20,72.30 C161.72,73.95 164.40,75.05 166.00,77.00 C167.60,78.95 168.97,81.67 168.80,84.00 C168.63,86.33 166.80,89.08 165.00,91.00 C163.20,92.92 160.35,93.93 158.00,95.50 C155.65,97.07 153.47,98.20 150.90,100.40 C148.33,102.60 145.42,106.85 142.60,108.70 C139.78,110.55 136.43,110.98 134.00,111.50 C131.57,112.02 131.07,111.58 128.00,111.80 C124.93,112.02 119.40,112.63 115.60,112.80 C111.80,112.97 108.67,113.48 105.20,112.80 C101.73,112.12 98.62,109.90 94.80,108.70 C90.98,107.50 85.42,106.98 82.30,105.60 C79.18,104.22 76.45,102.83 76.10,100.40Z"/></clipPath>
<path d="M76.10,100.40 C75.75,97.97 79.22,94.47 80.20,91.00 C81.18,87.53 81.65,83.93 82.00,79.60 C82.35,75.27 81.73,69.50 82.30,65.00 C82.87,60.50 83.67,55.72 85.40,52.60 C87.13,49.48 90.27,47.98 92.70,46.30 C95.13,44.62 97.78,43.38 100.00,42.50 C102.22,41.62 103.92,40.98 106.00,41.00 C108.08,41.02 110.90,41.02 112.50,42.60 C114.10,44.18 113.02,48.67 115.60,50.50 C118.18,52.33 123.85,52.73 128.00,53.60 C132.15,54.47 136.68,53.45 140.50,55.70 C144.32,57.95 147.78,64.33 150.90,67.10 C154.02,69.87 156.68,70.65 159.20,72.30 C161.72,73.95 164.40,75.05 166.00,77.00 C167.60,78.95 168.97,81.67 168.80,84.00 C168.63,86.33 166.80,89.08 165.00,91.00 C163.20,92.92 160.35,93.93 158.00,95.50 C155.65,97.07 153.47,98.20 150.90,100.40 C148.33,102.60 145.42,106.85 142.60,108.70 C139.78,110.55 136.43,110.98 134.00,111.50 C131.57,112.02 131.07,111.58 128.00,111.80 C124.93,112.02 119.40,112.63 115.60,112.80 C111.80,112.97 108.67,113.48 105.20,112.80 C101.73,112.12 98.62,109.90 94.80,108.70 C90.98,107.50 85.42,106.98 82.30,105.60 C79.18,104.22 76.45,102.83 76.10,100.40Z" fill="#fdfdfd" stroke="#8c8c8c" stroke-width="0.7"/>
<g clip-path="url(#cra)">
<circle cx="148.7" cy="106.6" r="3.8" fill="url(#gs)" stroke="#b4b4b4" stroke-width="0.3"/>
<circle cx="95.3" cy="106.7" r="2.9" fill="url(#gs)" stroke="#b4b4b4" stroke-width="0.3"/>
<circle cx="113.2" cy="44.2" r="3.1" fill="url(#gs)" stroke="#b4b4b4" stroke-width="0.3"/>
<circle cx="96.0" cy="97.3" r="3.1" fill="url(#gs)" stroke="#b4b4b4" stroke-width="0.3"/>
<circle cx="102.1" cy="104.3" r="3.1" fill="url(#gs)" stroke="#b4b4b4" stroke-width="0.3"/>
<circle cx="132.9" cy="99.5" r="3.2" fill="url(#gs)" stroke="#b4b4b4" stroke-width="0.3"/>
<circle cx="83.2" cy="65.2" r="3.0" fill="url(#gs)" stroke="#b4b4b4" stroke-width="0.3"/>
<circle cx="83.8" cy="107.6" r="2.1" fill="url(#gs)" stroke="#b4b4b4" stroke-width="0.3"/>
<circle cx="131.2" cy="53.9" r="2.9" fill="url(#gs)" stroke="#b4b4b4" stroke-width="0.3"/>
<circle cx="168.7" cy="40.1" r="3.2" fill="url(#gs)" stroke="#b4b4b4" stroke-width="0.3"/>
<circle cx="162.0" cy="110.1" r="3.2" fill="url(#gs)" stroke="#b4b4b4" stroke-width="0.3"/>
<circle cx="169.2" cy="75.7" r="3.3" fill="url(#gs)" stroke="#b4b4b4" stroke-width="0.3"/>
<circle cx="101.6" cy="93.2" r="2.8" fill="url(#gs)" stroke="#b4b4b4" stroke-width="0.3"/>
<circle cx="74.6" cy="63.1" r="3.0" fill="url(#gs)" stroke="#b4b4b4" stroke-width="0.3"/>
<circle cx="130.4" cy="66.3" r="3.3" fill="url(#gs)" stroke="#b4b4b4" stroke-width="0.3"/>
<circle cx="88.6" cy="85.0" r="2.6" fill="url(#gs)" stroke="#b4b4b4" stroke-width="0.3"/>
<circle cx="135.9" cy="60.1" r="3.4" fill="url(#gs)" stroke="#b4b4b4" stroke-width="0.3"/>
<circle cx="113.3" cy="92.5" r="3.0" fill="url(#gs)" stroke="#b4b4b4" stroke-width="0.3"/>
<circle cx="151.2" cy="79.8" r="3.0" fill="url(#gs)" stroke="#b4b4b4" stroke-width="0.3"/>
<circle cx="102.6" cy="72.3" r="2.3" fill="url(#gs)" stroke="#b4b4b4" stroke-width="0.3"/>
<circle cx="147.0" cy="78.1" r="2.9" fill="url(#gs)" stroke="#b4b4b4" stroke-width="0.3"/>
<circle cx="143.7" cy="61.3" r="2.7" fill="url(#gs)" stroke="#b4b4b4" stroke-width="0.3"/>
<circle cx="166.9" cy="72.8" r="2.7" fill="url(#gs)" stroke="#b4b4b4" stroke-width="0.3"/>
<circle cx="124.6" cy="98.1" r="2.7" fill="url(#gs)" stroke="#b4b4b4" stroke-width="0.3"/>
<circle cx="97.8" cy="75.3" r="2.8" fill="url(#gs)" stroke="#b4b4b4" stroke-width="0.3"/>
<circle cx="93.7" cy="43.7" r="2.0" fill="url(#gs)" stroke="#b4b4b4" stroke-width="0.3"/>
<circle cx="104.6" cy="51.7" r="3.6" fill="url(#gs)" stroke="#b4b4b4" stroke-width="0.3"/>
<circle cx="90.4" cy="114.0" r="3.7" fill="url(#gs)" stroke="#b4b4b4" stroke-width="0.3"/>
<circle cx="113.4" cy="56.3" r="3.0" fill="url(#gs)" stroke="#b4b4b4" stroke-width="0.3"/>
<circle cx="108.7" cy="98.8" r="2.0" fill="url(#gs)" stroke="#b4b4b4" stroke-width="0.3"/>
<circle cx="86.6" cy="109.7" r="3.6" fill="url(#gs)" stroke="#b4b4b4" stroke-width="0.3"/>
<circle cx="154.6" cy="91.1" r="2.8" fill="url(#gs)" stroke="#b4b4b4" stroke-width="0.3"/>
<circle cx="77.6" cy="58.5" r="3.7" fill="url(#gs)" stroke="#b4b4b4" stroke-width="0.3"/>
<circle cx="142.6" cy="95.4" r="3.1" fill="url(#gs)" stroke="#b4b4b4" stroke-width="0.3"/>
<circle cx="149.9" cy="71.9" r="3.6" fill="url(#gs)" stroke="#b4b4b4" stroke-width="0.3"/>
<circle cx="122.3" cy="71.9" r="2.9" fill="url(#gs)" stroke="#b4b4b4" stroke-width="0.3"/>
<circle cx="74.3" cy="86.1" r="3.4" fill="url(#gs)" stroke="#b4b4b4" stroke-width="0.3"/>
<circle cx="160.5" cy="65.9" r="2.0" fill="url(#gs)" stroke="#b4b4b4" stroke-width="0.3"/>
<circle cx="155.6" cy="64.3" r="3.2" fill="url(#gs)" stroke="#b4b4b4" stroke-width="0.3"/>
<circle cx="152.0" cy="59.3" r="3.0" fill="url(#gs)" stroke="#b4b4b4" stroke-width="0.3"/>
<circle cx="107.2" cy="50.9" r="2.5" fill="url(#gs)" stroke="#b4b4b4" stroke-width="0.3"/>
<circle cx="77.0" cy="105.3" r="2.5" fill="url(#gs)" stroke="#b4b4b4" stroke-width="0.3"/>
<circle cx="138.5" cy="80.7" r="2.7" fill="url(#gs)" stroke="#b4b4b4" stroke-width="0.3"/>
<circle cx="82.4" cy="59.0" r="2.3" fill="url(#gs)" stroke="#b4b4b4" stroke-width="0.3"/>
<circle cx="164.3" cy="39.9" r="2.0" fill="url(#gs)" stroke="#b4b4b4" stroke-width="0.3"/>
<circle cx="77.5" cy="75.7" r="2.6" fill="url(#gs)" stroke="#b4b4b4" stroke-width="0.3"/>
<circle cx="89.8" cy="81.3" r="3.6" fill="url(#gs)" stroke="#b4b4b4" stroke-width="0.3"/>
<circle cx="148.1" cy="44.6" r="3.5" fill="url(#gs)" stroke="#b4b4b4" stroke-width="0.3"/>
<circle cx="148.4" cy="39.8" r="2.5" fill="url(#gs)" stroke="#b4b4b4" stroke-width="0.3"/>
<circle cx="139.7" cy="102.0" r="3.1" fill="url(#gs)" stroke="#b4b4b4" stroke-width="0.3"/>
<circle cx="147.1" cy="112.7" r="3.5" fill="url(#gs)" stroke="#b4b4b4" stroke-width="0.3"/>
<circle cx="93.9" cy="93.0" r="3.2" fill="url(#gs)" stroke="#b4b4b4" stroke-width="0.3"/>
<circle cx="91.6" cy="61.5" r="3.5" fill="url(#gs)" stroke="#b4b4b4" stroke-width="0.3"/>
<circle cx="123.8" cy="115.5" r="3.5" fill="url(#gs)" stroke="#b4b4b4" stroke-width="0.3"/>
<circle cx="78.6" cy="95.9" r="3.6" fill="url(#gs)" stroke="#b4b4b4" stroke-width="0.3"/>
<circle cx="108.5" cy="94.7" r="2.4" fill="url(#gs)" stroke="#b4b4b4" stroke-width="0.3"/>
<circle cx="149.5" cy="102.8" r="3.2" fill="url(#gs)" stroke="#b4b4b4" stroke-width="0.3"/>
<circle cx="170.6" cy="96.9" r="3.6" fill="url(#gs)" stroke="#b4b4b4" stroke-width="0.3"/>
<circle cx="161.5" cy="52.8" r="2.1" fill="url(#gs)" stroke="#b4b4b4" stroke-width="0.3"/>
<circle cx="171.7" cy="79.4" r="2.1" fill="url(#gs)" stroke="#b4b4b4" stroke-width="0.3"/>
<circle cx="162.7" cy="71.6" r="2.2" fill="url(#gs)" stroke="#b4b4b4" stroke-width="0.3"/>
<circle cx="119.4" cy="107.4" r="3.5" fill="url(#gs)" stroke="#b4b4b4" stroke-width="0.3"/>
<circle cx="154.5" cy="116.9" r="2.3" fill="url(#gs)" stroke="#b4b4b4" stroke-width="0.3"/>
<circle cx="144.9" cy="66.2" r="2.4" fill="url(#gs)" stroke="#b4b4b4" stroke-width="0.3"/>
<circle cx="84.8" cy="83.7" r="2.6" fill="url(#gs)" stroke="#b4b4b4" stroke-width="0.3"/>
<circle cx="146.2" cy="115.3" r="2.7" fill="url(#gs)" stroke="#b4b4b4" stroke-width="0.3"/>
<circle cx="104.2" cy="82.2" r="3.5" fill="url(#gs)" stroke="#b4b4b4" stroke-width="0.3"/>
<circle cx="132.8" cy="107.6" r="3.6" fill="url(#gs)" stroke="#b4b4b4" stroke-width="0.3"/>
<circle cx="92.8" cy="55.6" r="3.6" fill="url(#gs)" stroke="#b4b4b4" stroke-width="0.3"/>
<circle cx="123.5" cy="48.1" r="3.2" fill="url(#gs)" stroke="#b4b4b4" stroke-width="0.3"/>
<circle cx="95.8" cy="109.7" r="2.7" fill="url(#gs)" stroke="#b4b4b4" stroke-width="0.3"/>
<circle cx="142.4" cy="76.8" r="3.1" fill="url(#gs)" stroke="#b4b4b4" stroke-width="0.3"/>
<circle cx="128.3" cy="90.2" r="3.5" fill="url(#gs)" stroke="#b4b4b4" stroke-width="0.3"/>
<circle cx="164.1" cy="84.9" r="3.6" fill="url(#gs)" stroke="#b4b4b4" stroke-width="0.3"/>
<circle cx="117.3" cy="70.3" r="2.5" fill="url(#gs)" stroke="#b4b4b4" stroke-width="0.3"/>
<circle cx="170.5" cy="83.9" r="2.7" fill="url(#gs)" stroke="#b4b4b4" stroke-width="0.3"/>
<circle cx="104.0" cy="59.7" r="3.4" fill="url(#gs)" stroke="#b4b4b4" stroke-width="0.3"/>
<circle cx="91.5" cy="97.1" r="2.6" fill="url(#gs)" stroke="#b4b4b4" stroke-width="0.3"/>
<circle cx="86.7" cy="49.1" r="2.3" fill="url(#gs)" stroke="#b4b4b4" stroke-width="0.3"/>
<circle cx="146.0" cy="88.8" r="2.4" fill="url(#gs)" stroke="#b4b4b4" stroke-width="0.3"/>
<circle cx="115.9" cy="43.4" r="2.1" fill="url(#gs)" stroke="#b4b4b4" stroke-width="0.3"/>
<circle cx="115.9" cy="78.7" r="3.7" fill="url(#gs)" stroke="#b4b4b4" stroke-width="0.3"/>
<circle cx="139.6" cy="111.0" r="2.5" fill="url(#gs)" stroke="#b4b4b4" stroke-width="0.3"/>
<circle cx="139.1" cy="75.4" r="2.2" fill="url(#gs)" stroke="#b4b4b4" stroke-width="0.3"/>
<circle cx="78.0" cy="90.5" r="2.0" fill="url(#gs)" stroke="#b4b4b4" stroke-width="0.3"/>
<circle cx="141.6" cy="71.1" r="2.3" fill="url(#gs)" stroke="#b4b4b4" stroke-width="0.3"/>
<circle cx="78.9" cy="61.4" r="2.7" fill="url(#gs)" stroke="#b4b4b4" stroke-width="0.3"/>
<circle cx="144.5" cy="101.7" r="2.2" fill="url(#gs)" stroke="#b4b4b4" stroke-width="0.3"/>
<circle cx="161.3" cy="94.4" r="2.3" fill="url(#gs)" stroke="#b4b4b4" stroke-width="0.3"/>
<circle cx="110.5" cy="57.1" r="3.2" fill="url(#gs)" stroke="#b4b4b4" stroke-width="0.3"/>
<circle cx="83.3" cy="102.9" r="2.8" fill="url(#gs)" stroke="#b4b4b4" stroke-width="0.3"/>
<circle cx="91.9" cy="47.2" r="2.2" fill="url(#gs)" stroke="#b4b4b4" stroke-width="0.3"/>
<circle cx="133.4" cy="72.0" r="3.3" fill="url(#gs)" stroke="#b4b4b4" stroke-width="0.3"/>
<circle cx="124.1" cy="114.5" r="2.4" fill="url(#gs)" stroke="#b4b4b4" stroke-width="0.3"/>
<circle cx="129.8" cy="73.9" r="2.2" fill="url(#gs)" stroke="#b4b4b4" stroke-width="0.3"/>
<circle cx="122.1" cy="73.6" r="3.5" fill="url(#gs)" stroke="#b4b4b4" stroke-width="0.3"/>
<circle cx="90.4" cy="67.7" r="3.4" fill="url(#gs)" stroke="#b4b4b4" stroke-width="0.3"/>
<circle cx="116.2" cy="69.9" r="2.6" fill="url(#gs)" stroke="#b4b4b4" stroke-width="0.3"/>
<circle cx="99.6" cy="110.0" r="3.2" fill="url(#gs)" stroke="#b4b4b4" stroke-width="0.3"/>
<circle cx="97.0" cy="55.4" r="3.5" fill="url(#gs)" stroke="#b4b4b4" stroke-width="0.3"/>
<circle cx="150.8" cy="90.1" r="2.3" fill="url(#gs)" stroke="#b4b4b4" stroke-width="0.3"/>
<circle cx="137.5" cy="106.6" r="3.5" fill="url(#gs)" stroke="#b4b4b4" stroke-width="0.3"/>
<circle cx="161.7" cy="44.4" r="3.4" fill="url(#gs)" stroke="#b4b4b4" stroke-width="0.3"/>
<circle cx="87.8" cy="52.6" r="2.2" fill="url(#gs)" stroke="#b4b4b4" stroke-width="0.3"/>
<circle cx="161.5" cy="115.5" r="2.8" fill="url(#gs)" stroke="#b4b4b4" stroke-width="0.3"/>
<circle cx="163.6" cy="58.8" r="3.3" fill="url(#gs)" stroke="#b4b4b4" stroke-width="0.3"/>
<circle cx="163.5" cy="114.5" r="2.8" fill="url(#gs)" stroke="#b4b4b4" stroke-width="0.3"/>
<circle cx="76.2" cy="78.5" r="3.8" fill="url(#gs)" stroke="#b4b4b4" stroke-width="0.3"/>
<circle cx="142.3" cy="112.8" r="2.9" fill="url(#gs)" stroke="#b4b4b4" stroke-width="0.3"/>
<circle cx="163.5" cy="52.0" r="3.1" fill="url(#gs)" stroke="#b4b4b4" stroke-width="0.3"/>
<circle cx="124.5" cy="92.7" r="2.7" fill="url(#gs)" stroke="#b4b4b4" stroke-width="0.3"/>
<circle cx="162.0" cy="77.9" r="3.0" fill="url(#gs)" stroke="#b4b4b4" stroke-width="0.3"/>
<circle cx="126.1" cy="74.3" r="2.4" fill="url(#gs)" stroke="#b4b4b4" stroke-width="0.3"/>
<circle cx="111.2" cy="73.8" r="3.0" fill="url(#gs)" stroke="#b4b4b4" stroke-width="0.3"/>
<circle cx="83.3" cy="81.7" r="3.7" fill="url(#gs)" stroke="#b4b4b4" stroke-width="0.3"/>
<circle cx="111.9" cy="66.4" r="2.8" fill="url(#gs)" stroke="#b4b4b4" stroke-width="0.3"/>
<circle cx="157.7" cy="82.8" r="2.5" fill="url(#gs)" stroke="#b4b4b4" stroke-width="0.3"/>
<circle cx="80.7" cy="92.1" r="2.3" fill="url(#gs)" stroke="#b4b4b4" stroke-width="0.3"/>
<circle cx="161.8" cy="47.0" r="3.3" fill="url(#gs)" stroke="#b4b4b4" stroke-width="0.3"/>
<circle cx="86.8" cy="45.5" r="2.4" fill="url(#gs)" stroke="#b4b4b4" stroke-width="0.3"/>
<circle cx="140.4" cy="64.7" r="2.7" fill="url(#gs)" stroke="#b4b4b4" stroke-width="0.3"/>
<circle cx="149.1" cy="98.0" r="3.0" fill="url(#gs)" stroke="#b4b4b4" stroke-width="0.3"/>
<circle cx="109.7" cy="62.8" r="2.1" fill="url(#gs)" stroke="#b4b4b4" stroke-width="0.3"/>
<circle cx="151.2" cy="82.5" r="2.2" fill="url(#gs)" stroke="#b4b4b4" stroke-width="0.3"/>
<circle cx="131.9" cy="85.6" r="3.4" fill="url(#gs)" stroke="#b4b4b4" stroke-width="0.3"/>
<circle cx="130.4" cy="97.2" r="3.4" fill="url(#gs)" stroke="#b4b4b4" stroke-width="0.3"/>
<circle cx="91.0" cy="107.1" r="3.7" fill="url(#gs)" stroke="#b4b4b4" stroke-width="0.3"/>
<circle cx="106.2" cy="117.8" r="3.7" fill="url(#gs)" stroke="#b4b4b4" stroke-width="0.3"/>
<circle cx="154.9" cy="41.4" r="2.4" fill="url(#gs)" stroke="#b4b4b4" stroke-width="0.3"/>
<circle cx="87.6" cy="101.3" r="3.2" fill="url(#gs)" stroke="#b4b4b4" stroke-width="0.3"/>
<circle cx="141.8" cy="75.8" r="3.0" fill="url(#gs)" stroke="#b4b4b4" stroke-width="0.3"/>
<circle cx="133.2" cy="98.3" r="3.0" fill="url(#gs)" stroke="#b4b4b4" stroke-width="0.3"/>
<circle cx="158.2" cy="40.8" r="2.3" fill="url(#gs)" stroke="#b4b4b4" stroke-width="0.3"/>
<circle cx="164.2" cy="103.8" r="3.1" fill="url(#gs)" stroke="#b4b4b4" stroke-width="0.3"/>
<circle cx="91.7" cy="69.7" r="2.4" fill="url(#gs)" stroke="#b4b4b4" stroke-width="0.3"/>
<circle cx="124.7" cy="63.2" r="3.1" fill="url(#gs)" stroke="#b4b4b4" stroke-width="0.3"/>
<circle cx="143.4" cy="80.7" r="2.7" fill="url(#gs)" stroke="#b4b4b4" stroke-width="0.3"/>
<circle cx="161.2" cy="105.5" r="2.3" fill="url(#gs)" stroke="#b4b4b4" stroke-width="0.3"/>
<circle cx="121.7" cy="76.8" r="2.2" fill="url(#gs)" stroke="#b4b4b4" stroke-width="0.3"/>
<circle cx="75.6" cy="47.6" r="3.4" fill="url(#gs)" stroke="#b4b4b4" stroke-width="0.3"/>
<circle cx="75.0" cy="39.2" r="3.4" fill="url(#gs)" stroke="#b4b4b4" stroke-width="0.3"/>
<circle cx="149.4" cy="80.8" r="3.5" fill="url(#gs)" stroke="#b4b4b4" stroke-width="0.3"/>
<circle cx="171.1" cy="59.5" r="2.0" fill="url(#gs)" stroke="#b4b4b4" stroke-width="0.3"/>
<circle cx="154.0" cy="108.0" r="2.4" fill="url(#gs)" stroke="#b4b4b4" stroke-width="0.3"/>
<circle cx="165.7" cy="94.4" r="3.3" fill="url(#gs)" stroke="#b4b4b4" stroke-width="0.3"/>
<circle cx="111.0" cy="85.7" r="2.8" fill="url(#gs)" stroke="#b4b4b4" stroke-width="0.3"/>
<circle cx="77.7" cy="109.3" r="3.5" fill="url(#gs)" stroke="#b4b4b4" stroke-width="0.3"/>
<circle cx="116.7" cy="89.5" r="3.4" fill="url(#gs)" stroke="#b4b4b4" stroke-width="0.3"/>
<circle cx="168.0" cy="69.7" r="3.0" fill="url(#gs)" stroke="#b4b4b4" stroke-width="0.3"/>
<circle cx="128.7" cy="38.2" r="2.4" fill="url(#gs)" stroke="#b4b4b4" stroke-width="0.3"/>
<circle cx="93.8" cy="80.5" r="2.0" fill="url(#gs)" stroke="#b4b4b4" stroke-width="0.3"/>
<circle cx="89.9" cy="45.1" r="2.8" fill="url(#gs)" stroke="#b4b4b4" stroke-width="0.3"/>
<circle cx="161.4" cy="56.7" r="3.2" fill="url(#gs)" stroke="#b4b4b4" stroke-width="0.3"/>
<circle cx="126.8" cy="64.5" r="2.5" fill="url(#gs)" stroke="#b4b4b4" stroke-width="0.3"/>
<circle cx="105.3" cy="111.6" r="2.9" fill="url(#gs)" stroke="#b4b4b4" stroke-width="0.3"/>
<circle cx="154.3" cy="70.1" r="2.5" fill="url(#gs)" stroke="#b4b4b4" stroke-width="0.3"/>
<circle cx="95.3" cy="114.4" r="2.9" fill="url(#gs)" stroke="#b4b4b4" stroke-width="0.3"/>
<circle cx="165.5" cy="82.6" r="2.0" fill="url(#gs)" stroke="#b4b4b4" stroke-width="0.3"/>
<circle cx="105.2" cy="93.4" r="2.5" fill="url(#gs)" stroke="#b4b4b4" stroke-width="0.3"/>
<circle cx="119.8" cy="111.4" r="3.6" fill="url(#gs)" stroke="#b4b4b4" stroke-width="0.3"/>
<circle cx="130.8" cy="77.7" r="2.3" fill="url(#gs)" stroke="#b4b4b4" stroke-width="0.3"/>
<circle cx="148.6" cy="86.5" r="2.5" fill="url(#gs)" stroke="#b4b4b4" stroke-width="0.3"/>
<circle cx="142.2" cy="48.3" r="2.2" fill="url(#gs)" stroke="#b4b4b4" stroke-width="0.3"/>
<circle cx="137.0" cy="61.6" r="3.5" fill="url(#gs)" stroke="#b4b4b4" stroke-width="0.3"/>
<circle cx="111.7" cy="39.2" r="3.6" fill="url(#gs)" stroke="#b4b4b4" stroke-width="0.3"/>
<circle cx="150.4" cy="51.5" r="3.0" fill="url(#gs)" stroke="#b4b4b4" stroke-width="0.3"/>
<circle cx="82.7" cy="98.4" r="2.3" fill="url(#gs)" stroke="#b4b4b4" stroke-width="0.3"/>
<circle cx="161.1" cy="74.8" r="2.1" fill="url(#gs)" stroke="#b4b4b4" stroke-width="0.3"/>
<circle cx="81.8" cy="114.0" r="3.2" fill="url(#gs)" stroke="#b4b4b4" stroke-width="0.3"/>
<circle cx="146.3" cy="56.0" r="2.3" fill="url(#gs)" stroke="#b4b4b4" stroke-width="0.3"/>
<circle cx="117.5" cy="114.4" r="2.8" fill="url(#gs)" stroke="#b4b4b4" stroke-width="0.3"/>
<circle cx="123.9" cy="55.0" r="2.0" fill="url(#gs)" stroke="#b4b4b4" stroke-width="0.3"/>
<circle cx="100.1" cy="58.5" r="2.5" fill="url(#gs)" stroke="#b4b4b4" stroke-width="0.3"/>
<circle cx="165.1" cy="44.8" r="2.4" fill="url(#gs)" stroke="#b4b4b4" stroke-width="0.3"/>
<circle cx="121.9" cy="101.7" r="2.2" fill="url(#gs)" stroke="#b4b4b4" stroke-width="0.3"/>
<circle cx="83.2" cy="77.0" r="3.2" fill="url(#gs)" stroke="#b4b4b4" stroke-width="0.3"/>
<circle cx="145.0" cy="57.9" r="3.8" fill="url(#gs)" stroke="#b4b4b4" stroke-width="0.3"/>
<circle cx="100.4" cy="78.0" r="2.7" fill="url(#gs)" stroke="#b4b4b4" stroke-width="0.3"/>
<circle cx="160.3" cy="86.4" r="2.9" fill="url(#gs)" stroke="#b4b4b4" stroke-width="0.3"/>
<circle cx="107.1" cy="73.0" r="3.1" fill="url(#gs)" stroke="#b4b4b4" stroke-width="0.3"/>
<circle cx="97.6" cy="100.2" r="3.2" fill="url(#gs)" stroke="#b4b4b4" stroke-width="0.3"/>
<circle cx="141.6" cy="44.9" r="2.3" fill="url(#gs)" stroke="#b4b4b4" stroke-width="0.3"/>
<circle cx="79.8" cy="100.2" r="2.9" fill="url(#gs)" stroke="#b4b4b4" stroke-width="0.3"/>
<circle cx="155.1" cy="94.2" r="2.2" fill="url(#gs)" stroke="#b4b4b4" stroke-width="0.3"/>
<circle cx="152.8" cy="65.6" r="2.8" fill="url(#gs)" stroke="#b4b4b4" stroke-width="0.3"/>
<circle cx="101.9" cy="75.5" r="2.2" fill="url(#gs)" stroke="#b4b4b4" stroke-width="0.3"/>
<circle cx="129.3" cy="43.5" r="3.7" fill="url(#gs)" stroke="#b4b4b4" stroke-width="0.3"/>
<circle cx="96.4" cy="77.2" r="3.2" fill="url(#gs)" stroke="#b4b4b4" stroke-width="0.3"/>
<circle cx="136.7" cy="109.4" r="3.5" fill="url(#gs)" stroke="#b4b4b4" stroke-width="0.3"/>
<circle cx="172.2" cy="57.0" r="3.5" fill="url(#gs)" stroke="#b4b4b4" stroke-width="0.3"/>
<circle cx="126.3" cy="103.6" r="3.3" fill="url(#gs)" stroke="#b4b4b4" stroke-width="0.3"/>
<circle cx="83.1" cy="56.1" r="3.6" fill="url(#gs)" stroke="#b4b4b4" stroke-width="0.3"/>
<circle cx="116.2" cy="116.6" r="2.6" fill="url(#gs)" stroke="#b4b4b4" stroke-width="0.3"/>
<circle cx="109.5" cy="48.0" r="3.0" fill="url(#gs)" stroke="#b4b4b4" stroke-width="0.3"/>
<circle cx="120.1" cy="82.5" r="2.5" fill="url(#gs)" stroke="#b4b4b4" stroke-width="0.3"/>
<circle cx="130.7" cy="62.8" r="3.1" fill="url(#gs)" stroke="#b4b4b4" stroke-width="0.3"/>
<circle cx="115.9" cy="46.5" r="2.8" fill="url(#gs)" stroke="#b4b4b4" stroke-width="0.3"/>
<circle cx="87.7" cy="57.8" r="3.7" fill="url(#gs)" stroke="#b4b4b4" stroke-width="0.3"/>
<circle cx="150.5" cy="62.9" r="3.5" fill="url(#gs)" stroke="#b4b4b4" stroke-width="0.3"/>
<circle cx="168.9" cy="63.0" r="2.3" fill="url(#gs)" stroke="#b4b4b4" stroke-width="0.3"/>
<circle cx="104.7" cy="102.9" r="3.5" fill="url(#gs)" stroke="#b4b4b4" stroke-width="0.3"/>
<circle cx="132.9" cy="53.3" r="2.7" fill="url(#gs)" stroke="#b4b4b4" stroke-width="0.3"/>
<circle cx="157.5" cy="43.5" r="3.8" fill="url(#gs)" stroke="#b4b4b4" stroke-width="0.3"/>
<circle cx="155.7" cy="48.4" r="2.4" fill="url(#gs)" stroke="#b4b4b4" stroke-width="0.3"/>
<circle cx="87.5" cy="89.4" r="2.2" fill="url(#gs)" stroke="#b4b4b4" stroke-width="0.3"/>
<circle cx="80.6" cy="40.4" r="3.3" fill="url(#gs)" stroke="#b4b4b4" stroke-width="0.3"/>
<circle cx="116.4" cy="103.8" r="2.7" fill="url(#gs)" stroke="#b4b4b4" stroke-width="0.3"/>
<circle cx="173.1" cy="41.4" r="2.6" fill="url(#gs)" stroke="#b4b4b4" stroke-width="0.3"/>
<circle cx="172.9" cy="115.6" r="3.4" fill="url(#gs)" stroke="#b4b4b4" stroke-width="0.3"/>
<circle cx="159.9" cy="94.4" r="3.4" fill="url(#gs)" stroke="#b4b4b4" stroke-width="0.3"/>
<circle cx="156.1" cy="105.9" r="3.8" fill="url(#gs)" stroke="#b4b4b4" stroke-width="0.3"/>
<circle cx="126.8" cy="69.5" r="3.1" fill="url(#gs)" stroke="#b4b4b4" stroke-width="0.3"/>
<circle cx="117.2" cy="84.4" r="2.4" fill="url(#gs)" stroke="#b4b4b4" stroke-width="0.3"/>
<circle cx="144.7" cy="68.9" r="3.2" fill="url(#gs)" stroke="#b4b4b4" stroke-width="0.3"/>
<circle cx="117.1" cy="60.9" r="2.4" fill="url(#gs)" stroke="#b4b4b4" stroke-width="0.3"/>
<circle cx="120.7" cy="100.1" r="2.6" fill="url(#gs)" stroke="#b4b4b4" stroke-width="0.3"/>
<circle cx="99.1" cy="113.4" r="3.0" fill="url(#gs)" stroke="#b4b4b4" stroke-width="0.3"/>
<circle cx="119.4" cy="61.5" r="2.4" fill="url(#gs)" stroke="#b4b4b4" stroke-width="0.3"/>
<circle cx="159.9" cy="112.2" r="3.2" fill="url(#gs)" stroke="#b4b4b4" stroke-width="0.3"/>
<circle cx="138.0" cy="57.8" r="3.6" fill="url(#gs)" stroke="#b4b4b4" stroke-width="0.3"/>
<circle cx="85.0" cy="85.3" r="3.7" fill="url(#gs)" stroke="#b4b4b4" stroke-width="0.3"/>
<circle cx="90.3" cy="52.4" r="2.3" fill="url(#gs)" stroke="#b4b4b4" stroke-width="0.3"/>
<circle cx="153.6" cy="96.0" r="3.4" fill="url(#gs)" stroke="#b4b4b4" stroke-width="0.3"/>
<circle cx="136.5" cy="115.6" r="2.4" fill="url(#gs)" stroke="#b4b4b4" stroke-width="0.3"/>
<circle cx="137.5" cy="69.5" r="2.2" fill="url(#gs)" stroke="#b4b4b4" stroke-width="0.3"/>
<circle cx="142.8" cy="50.1" r="2.1" fill="url(#gs)" stroke="#b4b4b4" stroke-width="0.3"/>
<circle cx="106.4" cy="46.6" r="2.1" fill="url(#gs)" stroke="#b4b4b4" stroke-width="0.3"/>
<circle cx="144.1" cy="109.2" r="3.0" fill="url(#gs)" stroke="#b4b4b4" stroke-width="0.3"/>
<circle cx="136.6" cy="46.6" r="2.1" fill="url(#gs)" stroke="#b4b4b4" stroke-width="0.3"/>
<circle cx="144.0" cy="47.4" r="3.5" fill="url(#gs)" stroke="#b4b4b4" stroke-width="0.3"/>
<circle cx="89.8" cy="105.9" r="2.5" fill="url(#gs)" stroke="#b4b4b4" stroke-width="0.3"/>
<circle cx="79.9" cy="71.7" r="3.7" fill="url(#gs)" stroke="#b4b4b4" stroke-width="0.3"/>
<circle cx="140.0" cy="109.8" r="3.2" fill="url(#gs)" stroke="#b4b4b4" stroke-width="0.3"/>
<circle cx="95.8" cy="40.6" r="2.4" fill="url(#gs)" stroke="#b4b4b4" stroke-width="0.3"/>
<circle cx="157.4" cy="48.0" r="3.3" fill="url(#gs)" stroke="#b4b4b4" stroke-width="0.3"/>
<circle cx="106.2" cy="85.7" r="3.5" fill="url(#gs)" stroke="#b4b4b4" stroke-width="0.3"/>
<circle cx="129.5" cy="46.2" r="3.6" fill="url(#gs)" stroke="#b4b4b4" stroke-width="0.3"/>
<circle cx="151.9" cy="74.1" r="3.7" fill="url(#gs)" stroke="#b4b4b4" stroke-width="0.3"/>
<circle cx="135.5" cy="94.9" r="3.2" fill="url(#gs)" stroke="#b4b4b4" stroke-width="0.3"/>
<circle cx="128.6" cy="116.0" r="2.8" fill="url(#gs)" stroke="#b4b4b4" stroke-width="0.3"/>
<circle cx="121.7" cy="90.4" r="3.0" fill="url(#gs)" stroke="#b4b4b4" stroke-width="0.3"/>
<circle cx="134.9" cy="82.6" r="3.3" fill="url(#gs)" stroke="#b4b4b4" stroke-width="0.3"/>
<circle cx="106.0" cy="108.8" r="3.0" fill="url(#gs)" stroke="#b4b4b4" stroke-width="0.3"/>
<circle cx="100.7" cy="86.1" r="2.6" fill="url(#gs)" stroke="#b4b4b4" stroke-width="0.3"/>
<circle cx="93.8" cy="101.7" r="2.9" fill="url(#gs)" stroke="#b4b4b4" stroke-width="0.3"/>
<circle cx="161.2" cy="101.2" r="2.1" fill="url(#gs)" stroke="#b4b4b4" stroke-width="0.3"/>
<circle cx="132.4" cy="48.1" r="2.5" fill="url(#gs)" stroke="#b4b4b4" stroke-width="0.3"/>
<circle cx="141.5" cy="41.4" r="3.2" fill="url(#gs)" stroke="#b4b4b4" stroke-width="0.3"/>
<circle cx="113.1" cy="97.3" r="3.8" fill="url(#gs)" stroke="#b4b4b4" stroke-width="0.3"/>
<circle cx="154.7" cy="74.9" r="3.2" fill="url(#gs)" stroke="#b4b4b4" stroke-width="0.3"/>
<circle cx="167.7" cy="115.1" r="3.4" fill="url(#gs)" stroke="#b4b4b4" stroke-width="0.3"/>
<circle cx="171.1" cy="102.9" r="2.3" fill="url(#gs)" stroke="#b4b4b4" stroke-width="0.3"/>
<circle cx="111.9" cy="80.0" r="2.1" fill="url(#gs)" stroke="#b4b4b4" stroke-width="0.3"/>
<circle cx="126.8" cy="80.7" r="3.5" fill="url(#gs)" stroke="#b4b4b4" stroke-width="0.3"/>
<circle cx="91.9" cy="75.5" r="3.6" fill="url(#gs)" stroke="#b4b4b4" stroke-width="0.3"/>
<circle cx="170.8" cy="108.8" r="3.0" fill="url(#gs)" stroke="#b4b4b4" stroke-width="0.3"/>
<circle cx="122.9" cy="105.2" r="3.6" fill="url(#gs)" stroke="#b4b4b4" stroke-width="0.3"/>
<circle cx="120.0" cy="46.6" r="2.7" fill="url(#gs)" stroke="#b4b4b4" stroke-width="0.3"/>
<circle cx="139.3" cy="99.0" r="3.0" fill="url(#gs)" stroke="#b4b4b4" stroke-width="0.3"/>
<circle cx="165.9" cy="95.8" r="2.6" fill="url(#gs)" stroke="#b4b4b4" stroke-width="0.3"/>
<circle cx="157.0" cy="98.9" r="3.6" fill="url(#gs)" stroke="#b4b4b4" stroke-width="0.3"/>
<circle cx="119.4" cy="78.7" r="3.5" fill="url(#gs)" stroke="#b4b4b4" stroke-width="0.3"/>
<circle cx="159.1" cy="72.2" r="2.2" fill="url(#gs)" stroke="#b4b4b4" stroke-width="0.3"/>
<circle cx="86.8" cy="95.9" r="2.5" fill="url(#gs)" stroke="#b4b4b4" stroke-width="0.3"/>
<circle cx="160.1" cy="53.7" r="2.1" fill="url(#gs)" stroke="#b4b4b4" stroke-width="0.3"/>
<circle cx="107.5" cy="83.1" r="2.9" fill="url(#gs)" stroke="#b4b4b4" stroke-width="0.3"/>
<circle cx="78.8" cy="77.9" r="3.0" fill="url(#gs)" stroke="#b4b4b4" stroke-width="0.3"/>
<circle cx="151.5" cy="112.2" r="2.6" fill="url(#gs)" stroke="#b4b4b4" stroke-width="0.3"/>
<circle cx="119.1" cy="115.9" r="2.2" fill="url(#gs)" stroke="#b4b4b4" stroke-width="0.3"/>
<circle cx="77.9" cy="113.6" r="3.6" fill="url(#gs)" stroke="#b4b4b4" stroke-width="0.3"/>
<circle cx="139.0" cy="51.1" r="3.0" fill="url(#gs)" stroke="#b4b4b4" stroke-width="0.3"/>
<circle cx="74.7" cy="53.9" r="3.7" fill="url(#gs)" stroke="#b4b4b4" stroke-width="0.3"/>
<circle cx="110.8" cy="50.7" r="2.6" fill="url(#gs)" stroke="#b4b4b4" stroke-width="0.3"/>
<circle cx="106.3" cy="70.4" r="2.9" fill="url(#gs)" stroke="#b4b4b4" stroke-width="0.3"/>
<circle cx="124.3" cy="88.8" r="2.5" fill="url(#gs)" stroke="#b4b4b4" stroke-width="0.3"/>
<circle cx="87.1" cy="53.6" r="2.0" fill="url(#gs)" stroke="#b4b4b4" stroke-width="0.3"/>
<circle cx="135.8" cy="55.6" r="2.8" fill="url(#gs)" stroke="#b4b4b4" stroke-width="0.3"/>
<circle cx="158.3" cy="100.2" r="3.2" fill="url(#gs)" stroke="#b4b4b4" stroke-width="0.3"/>
<circle cx="90.9" cy="118.3" r="2.9" fill="url(#gs)" stroke="#b4b4b4" stroke-width="0.3"/>
<circle cx="149.7" cy="47.9" r="2.9" fill="url(#gs)" stroke="#b4b4b4" stroke-width="0.3"/>
<circle cx="76.0" cy="51.0" r="3.2" fill="url(#gs)" stroke="#b4b4b4" stroke-width="0.3"/>
<circle cx="161.1" cy="98.1" r="3.8" fill="url(#gs)" stroke="#b4b4b4" stroke-width="0.3"/>
<circle cx="83.4" cy="91.8" r="3.6" fill="url(#gs)" stroke="#b4b4b4" stroke-width="0.3"/>
<circle cx="85.5" cy="73.5" r="3.5" fill="url(#gs)" stroke="#b4b4b4" stroke-width="0.3"/>
<circle cx="89.2" cy="60.2" r="2.9" fill="url(#gs)" stroke="#b4b4b4" stroke-width="0.3"/>
<circle cx="133.9" cy="114.0" r="3.4" fill="url(#gs)" stroke="#b4b4b4" stroke-width="0.3"/>
<circle cx="88.7" cy="88.1" r="2.3" fill="url(#gs)" stroke="#b4b4b4" stroke-width="0.3"/>
<circle cx="101.5" cy="47.1" r="3.0" fill="url(#gs)" stroke="#b4b4b4" stroke-width="0.3"/>
<circle cx="153.4" cy="79.1" r="3.3" fill="url(#gs)" stroke="#b4b4b4" stroke-width="0.3"/>
<circle cx="141.9" cy="84.5" r="2.7" fill="url(#gs)" stroke="#b4b4b4" stroke-width="0.3"/>
<circle cx="91.7" cy="41.6" r="3.8" fill="url(#gs)" stroke="#b4b4b4" stroke-width="0.3"/>
<circle cx="151.4" cy="108.4" r="2.4" fill="url(#gs)" stroke="#b4b4b4" stroke-width="0.3"/>
<circle cx="171.5" cy="49.5" r="3.2" fill="url(#gs)" stroke="#b4b4b4" stroke-width="0.3"/>
<circle cx="96.2" cy="63.2" r="2.6" fill="url(#gs)" stroke="#b4b4b4" stroke-width="0.3"/>
<circle cx="87.8" cy="93.1" r="2.6" fill="url(#gs)" stroke="#b4b4b4" stroke-width="0.3"/>
<circle cx="160.3" cy="81.6" r="2.9" fill="url(#gs)" stroke="#b4b4b4" stroke-width="0.3"/>
<circle cx="74.6" cy="94.4" r="2.0" fill="url(#gs)" stroke="#b4b4b4" stroke-width="0.3"/>
<circle cx="107.3" cy="62.9" r="3.6" fill="url(#gs)" stroke="#b4b4b4" stroke-width="0.3"/>
<circle cx="144.9" cy="84.4" r="2.6" fill="url(#gs)" stroke="#b4b4b4" stroke-width="0.3"/>
<circle cx="133.8" cy="115.9" r="2.6" fill="url(#gs)" stroke="#b4b4b4" stroke-width="0.3"/>
<circle cx="110.9" cy="116.4" r="2.4" fill="url(#gs)" stroke="#b4b4b4" stroke-width="0.3"/>
<circle cx="78.0" cy="65.6" r="3.7" fill="url(#gs)" stroke="#b4b4b4" stroke-width="0.3"/>
<circle cx="145.7" cy="39.0" r="2.3" fill="url(#gs)" stroke="#b4b4b4" stroke-width="0.3"/>
<circle cx="157.8" cy="78.1" r="3.3" fill="url(#gs)" stroke="#b4b4b4" stroke-width="0.3"/>
<circle cx="161.6" cy="60.9" r="2.6" fill="url(#gs)" stroke="#b4b4b4" stroke-width="0.3"/>
<circle cx="95.8" cy="59.0" r="2.5" fill="url(#gs)" stroke="#b4b4b4" stroke-width="0.3"/>
<circle cx="124.4" cy="68.0" r="2.1" fill="url(#gs)" stroke="#b4b4b4" stroke-width="0.3"/>
<circle cx="160.3" cy="107.8" r="3.3" fill="url(#gs)" stroke="#b4b4b4" stroke-width="0.3"/>
<circle cx="168.8" cy="100.5" r="2.2" fill="url(#gs)" stroke="#b4b4b4" stroke-width="0.3"/>
<circle cx="122.5" cy="50.9" r="2.4" fill="url(#gs)" stroke="#b4b4b4" stroke-width="0.3"/>
<circle cx="138.0" cy="86.3" r="3.2" fill="url(#gs)" stroke="#b4b4b4" stroke-width="0.3"/>
<circle cx="110.9" cy="91.4" r="2.9" fill="url(#gs)" stroke="#b4b4b4" stroke-width="0.3"/>
<circle cx="95.3" cy="85.1" r="3.6" fill="url(#gs)" stroke="#b4b4b4" stroke-width="0.3"/>
<circle cx="157.8" cy="66.6" r="2.3" fill="url(#gs)" stroke="#b4b4b4" stroke-width="0.3"/>
<circle cx="133.2" cy="73.6" r="2.8" fill="url(#gs)" stroke="#b4b4b4" stroke-width="0.3"/>
<circle cx="142.4" cy="117.0" r="3.1" fill="url(#gs)" stroke="#b4b4b4" stroke-width="0.3"/>
<circle cx="89.1" cy="72.3" r="2.8" fill="url(#gs)" stroke="#b4b4b4" stroke-width="0.3"/>
<circle cx="80.5" cy="47.1" r="3.2" fill="url(#gs)" stroke="#b4b4b4" stroke-width="0.3"/>
<circle cx="79.2" cy="85.5" r="2.4" fill="url(#gs)" stroke="#b4b4b4" stroke-width="0.3"/>
<circle cx="166.3" cy="109.5" r="3.3" fill="url(#gs)" stroke="#b4b4b4" stroke-width="0.3"/>
<circle cx="150.7" cy="54.6" r="3.0" fill="url(#gs)" stroke="#b4b4b4" stroke-width="0.3"/>
<circle cx="125.6" cy="50.1" r="2.3" fill="url(#gs)" stroke="#b4b4b4" stroke-width="0.3"/>
<circle cx="114.5" cy="38.2" r="3.5" fill="url(#gs)" stroke="#b4b4b4" stroke-width="0.3"/>
<circle cx="83.2" cy="47.6" r="3.1" fill="url(#gs)" stroke="#b4b4b4" stroke-width="0.3"/>
<circle cx="130.8" cy="50.1" r="3.8" fill="url(#gs)" stroke="#b4b4b4" stroke-width="0.3"/>
<circle cx="121.1" cy="68.3" r="3.4" fill="url(#gs)" stroke="#b4b4b4" stroke-width="0.3"/>
<circle cx="170.2" cy="90.1" r="2.7" fill="url(#gs)" stroke="#b4b4b4" stroke-width="0.3"/>
<circle cx="102.4" cy="96.9" r="3.4" fill="url(#gs)" stroke="#b4b4b4" stroke-width="0.3"/>
<circle cx="100.3" cy="43.4" r="2.6" fill="url(#gs)" stroke="#b4b4b4" stroke-width="0.3"/>
<circle cx="84.3" cy="68.3" r="2.5" fill="url(#gs)" stroke="#b4b4b4" stroke-width="0.3"/>
<circle cx="153.6" cy="87.5" r="2.9" fill="url(#gs)" stroke="#b4b4b4" stroke-width="0.3"/>
<circle cx="94.7" cy="65.4" r="2.6" fill="url(#gs)" stroke="#b4b4b4" stroke-width="0.3"/>
<circle cx="169.2" cy="106.8" r="3.5" fill="url(#gs)" stroke="#b4b4b4" stroke-width="0.3"/>
<circle cx="100.1" cy="38.7" r="2.5" fill="url(#gs)" stroke="#b4b4b4" stroke-width="0.3"/>
<circle cx="126.0" cy="77.3" r="2.1" fill="url(#gs)" stroke="#b4b4b4" stroke-width="0.3"/>
<circle cx="74.9" cy="107.9" r="2.7" fill="url(#gs)" stroke="#b4b4b4" stroke-width="0.3"/>
<circle cx="81.8" cy="103.4" r="2.8" fill="url(#gs)" stroke="#b4b4b4" stroke-width="0.3"/>
<circle cx="136.0" cy="88.2" r="2.3" fill="url(#gs)" stroke="#b4b4b4" stroke-width="0.3"/>
<circle cx="99.4" cy="82.5" r="2.6" fill="url(#gs)" stroke="#b4b4b4" stroke-width="0.3"/>
<circle cx="96.9" cy="114.9" r="3.5" fill="url(#gs)" stroke="#b4b4b4" stroke-width="0.3"/>
<circle cx="166.9" cy="88.2" r="3.2" fill="url(#gs)" stroke="#b4b4b4" stroke-width="0.3"/>
<circle cx="110.9" cy="106.0" r="2.0" fill="url(#gs)" stroke="#b4b4b4" stroke-width="0.3"/>
<circle cx="170.3" cy="44.5" r="3.8" fill="url(#gs)" stroke="#b4b4b4" stroke-width="0.3"/>
<circle cx="75.4" cy="45.0" r="3.6" fill="url(#gs)" stroke="#b4b4b4" stroke-width="0.3"/>
<circle cx="118.4" cy="72.7" r="3.7" fill="url(#gs)" stroke="#b4b4b4" stroke-width="0.3"/>
<circle cx="135.3" cy="101.8" r="3.3" fill="url(#gs)" stroke="#b4b4b4" stroke-width="0.3"/>
<circle cx="142.3" cy="103.5" r="2.2" fill="url(#gs)" stroke="#b4b4b4" stroke-width="0.3"/>
<circle cx="84.1" cy="115.7" r="3.8" fill="url(#gs)" stroke="#b4b4b4" stroke-width="0.3"/>
<circle cx="116.4" cy="98.9" r="2.2" fill="url(#gs)" stroke="#b4b4b4" stroke-width="0.3"/>
<circle cx="160.5" cy="88.9" r="3.6" fill="url(#gs)" stroke="#b4b4b4" stroke-width="0.3"/>
<circle cx="106.5" cy="112.3" r="3.1" fill="url(#gs)" stroke="#b4b4b4" stroke-width="0.3"/>
<circle cx="170.6" cy="112.7" r="2.1" fill="url(#gs)" stroke="#b4b4b4" stroke-width="0.3"/>
<circle cx="149.5" cy="93.6" r="2.2" fill="url(#gs)" stroke="#b4b4b4" stroke-width="0.3"/>
<circle cx="133.5" cy="40.7" r="3.1" fill="url(#gs)" stroke="#b4b4b4" stroke-width="0.3"/>
<circle cx="117.9" cy="68.3" r="3.6" fill="url(#gs)" stroke="#b4b4b4" stroke-width="0.3"/>
<circle cx="103.9" cy="66.6" r="3.2" fill="url(#gs)" stroke="#b4b4b4" stroke-width="0.3"/>
<circle cx="154.2" cy="55.9" r="3.6" fill="url(#gs)" stroke="#b4b4b4" stroke-width="0.3"/>
<circle cx="137.1" cy="41.2" r="3.2" fill="url(#gs)" stroke="#b4b4b4" stroke-width="0.3"/>
<circle cx="74.1" cy="115.3" r="3.7" fill="url(#gs)" stroke="#b4b4b4" stroke-width="0.3"/>
<circle cx="126.8" cy="93.3" r="3.1" fill="url(#gs)" stroke="#b4b4b4" stroke-width="0.3"/>
<circle cx="105.1" cy="39.2" r="2.2" fill="url(#gs)" stroke="#b4b4b4" stroke-width="0.3"/>
<circle cx="132.5" cy="92.9" r="2.9" fill="url(#gs)" stroke="#b4b4b4" stroke-width="0.3"/>
<circle cx="94.3" cy="87.3" r="3.7" fill="url(#gs)" stroke="#b4b4b4" stroke-width="0.3"/>
<circle cx="87.6" cy="63.0" r="2.4" fill="url(#gs)" stroke="#b4b4b4" stroke-width="0.3"/>
<circle cx="102.4" cy="55.0" r="3.3" fill="url(#gs)" stroke="#b4b4b4" stroke-width="0.3"/>
<circle cx="85.5" cy="40.8" r="3.1" fill="url(#gs)" stroke="#b4b4b4" stroke-width="0.3"/>
<circle cx="128.6" cy="113.6" r="2.6" fill="url(#gs)" stroke="#b4b4b4" stroke-width="0.3"/>
<circle cx="128.0" cy="108.6" r="2.7" fill="url(#gs)" stroke="#b4b4b4" stroke-width="0.3"/>
<circle cx="79.8" cy="90.5" r="3.0" fill="url(#gs)" stroke="#b4b4b4" stroke-width="0.3"/>
<circle cx="124.2" cy="108.3" r="3.2" fill="url(#gs)" stroke="#b4b4b4" stroke-width="0.3"/>
<circle cx="110.3" cy="108.6" r="3.0" fill="url(#gs)" stroke="#b4b4b4" stroke-width="0.3"/>
<circle cx="87.7" cy="105.0" r="3.3" fill="url(#gs)" stroke="#b4b4b4" stroke-width="0.3"/>
<circle cx="139.2" cy="88.0" r="2.4" fill="url(#gs)" stroke="#b4b4b4" stroke-width="0.3"/>
<circle cx="167.4" cy="46.9" r="2.8" fill="url(#gs)" stroke="#b4b4b4" stroke-width="0.3"/>
<circle cx="104.5" cy="43.7" r="3.8" fill="url(#gs)" stroke="#b4b4b4" stroke-width="0.3"/>
<circle cx="120.8" cy="58.7" r="3.4" fill="url(#gs)" stroke="#b4b4b4" stroke-width="0.3"/>
<circle cx="117.5" cy="55.2" r="3.6" fill="url(#gs)" stroke="#b4b4b4" stroke-width="0.3"/>
<circle cx="97.2" cy="47.0" r="3.7" fill="url(#gs)" stroke="#b4b4b4" stroke-width="0.3"/>
<circle cx="145.2" cy="95.4" r="3.0" fill="url(#gs)" stroke="#b4b4b4" stroke-width="0.3"/>
<circle cx="114.2" cy="82.7" r="3.7" fill="url(#gs)" stroke="#b4b4b4" stroke-width="0.3"/>
<circle cx="113.9" cy="61.3" r="2.5" fill="url(#gs)" stroke="#b4b4b4" stroke-width="0.3"/>
<circle cx="142.8" cy="90.7" r="2.1" fill="url(#gs)" stroke="#b4b4b4" stroke-width="0.3"/>
<circle cx="128.4" cy="57.1" r="3.5" fill="url(#gs)" stroke="#b4b4b4" stroke-width="0.3"/>
<circle cx="90.8" cy="76.9" r="2.3" fill="url(#gs)" stroke="#b4b4b4" stroke-width="0.3"/>
<circle cx="83.2" cy="76.1" r="2.1" fill="url(#gs)" stroke="#b4b4b4" stroke-width="0.3"/>
<circle cx="80.2" cy="42.9" r="2.4" fill="url(#gs)" stroke="#b4b4b4" stroke-width="0.3"/>
<circle cx="167.8" cy="54.9" r="2.6" fill="url(#gs)" stroke="#b4b4b4" stroke-width="0.3"/>
<circle cx="118.8" cy="39.0" r="3.8" fill="url(#gs)" stroke="#b4b4b4" stroke-width="0.3"/>
<circle cx="89.1" cy="115.7" r="2.8" fill="url(#gs)" stroke="#b4b4b4" stroke-width="0.3"/>
<circle cx="110.7" cy="57.9" r="3.5" fill="url(#gs)" stroke="#b4b4b4" stroke-width="0.3"/>
<circle cx="83.9" cy="62.1" r="3.5" fill="url(#gs)" stroke="#b4b4b4" stroke-width="0.3"/>
<circle cx="98.7" cy="93.3" r="3.6" fill="url(#gs)" stroke="#b4b4b4" stroke-width="0.3"/>
<circle cx="148.8" cy="51.4" r="3.4" fill="url(#gs)" stroke="#b4b4b4" stroke-width="0.3"/>
<circle cx="100.2" cy="104.4" r="2.6" fill="url(#gs)" stroke="#b4b4b4" stroke-width="0.3"/>
<circle cx="122.7" cy="38.3" r="2.5" fill="url(#gs)" stroke="#b4b4b4" stroke-width="0.3"/>
<circle cx="112.9" cy="86.6" r="2.8" fill="url(#gs)" stroke="#b4b4b4" stroke-width="0.3"/>
<circle cx="156.3" cy="58.7" r="3.4" fill="url(#gs)" stroke="#b4b4b4" stroke-width="0.3"/>
<circle cx="102.4" cy="64.3" r="2.4" fill="url(#gs)" stroke="#b4b4b4" stroke-width="0.3"/>
<circle cx="168.4" cy="52.1" r="3.6" fill="url(#gs)" stroke="#b4b4b4" stroke-width="0.3"/>
<circle cx="97.4" cy="65.7" r="3.3" fill="url(#gs)" stroke="#b4b4b4" stroke-width="0.3"/>
<circle cx="76.6" cy="81.0" r="3.0" fill="url(#gs)" stroke="#b4b4b4" stroke-width="0.3"/>
<circle cx="126.2" cy="44.1" r="2.2" fill="url(#gs)" stroke="#b4b4b4" stroke-width="0.3"/>
<circle cx="115.6" cy="100.3" r="2.5" fill="url(#gs)" stroke="#b4b4b4" stroke-width="0.3"/>
<circle cx="146.6" cy="73.5" r="3.2" fill="url(#gs)" stroke="#b4b4b4" stroke-width="0.3"/>
<circle cx="142.2" cy="97.4" r="2.9" fill="url(#gs)" stroke="#b4b4b4" stroke-width="0.3"/>
<circle cx="134.9" cy="104.6" r="2.4" fill="url(#gs)" stroke="#b4b4b4" stroke-width="0.3"/>
<circle cx="84.0" cy="71.8" r="2.2" fill="url(#gs)" stroke="#b4b4b4" stroke-width="0.3"/>
<circle cx="135.0" cy="79.9" r="3.7" fill="url(#gs)" stroke="#b4b4b4" stroke-width="0.3"/>
<circle cx="74.9" cy="69.4" r="2.9" fill="url(#gs)" stroke="#b4b4b4" stroke-width="0.3"/>
<circle cx="95.8" cy="90.0" r="3.6" fill="url(#gs)" stroke="#b4b4b4" stroke-width="0.3"/>
<circle cx="159.3" cy="118.1" r="3.6" fill="url(#gs)" stroke="#b4b4b4" stroke-width="0.3"/>
<circle cx="77.6" cy="56.7" r="2.2" fill="url(#gs)" stroke="#b4b4b4" stroke-width="0.3"/>
<circle cx="102.5" cy="90.1" r="2.3" fill="url(#gs)" stroke="#b4b4b4" stroke-width="0.3"/>
<circle cx="150.7" cy="44.4" r="3.5" fill="url(#gs)" stroke="#b4b4b4" stroke-width="0.3"/>
<circle cx="100.6" cy="89.8" r="2.3" fill="url(#gs)" stroke="#b4b4b4" stroke-width="0.3"/>
<circle cx="105.5" cy="53.8" r="3.2" fill="url(#gs)" stroke="#b4b4b4" stroke-width="0.3"/>
<circle cx="138.7" cy="42.6" r="3.7" fill="url(#gs)" stroke="#b4b4b4" stroke-width="0.3"/>
<circle cx="148.2" cy="118.3" r="2.6" fill="url(#gs)" stroke="#b4b4b4" stroke-width="0.3"/>
<circle cx="172.8" cy="92.6" r="2.3" fill="url(#gs)" stroke="#b4b4b4" stroke-width="0.3"/>
<circle cx="129.3" cy="84.7" r="2.3" fill="url(#gs)" stroke="#b4b4b4" stroke-width="0.3"/>
<circle cx="170.4" cy="86.2" r="3.1" fill="url(#gs)" stroke="#b4b4b4" stroke-width="0.3"/>
<circle cx="128.5" cy="101.2" r="2.9" fill="url(#gs)" stroke="#b4b4b4" stroke-width="0.3"/>
<circle cx="148.7" cy="59.3" r="3.4" fill="url(#gs)" stroke="#b4b4b4" stroke-width="0.3"/>
<circle cx="173.1" cy="62.5" r="2.4" fill="url(#gs)" stroke="#b4b4b4" stroke-width="0.3"/>
<circle cx="110.4" cy="100.1" r="2.3" fill="url(#gs)" stroke="#b4b4b4" stroke-width="0.3"/>
<circle cx="87.1" cy="111.4" r="2.9" fill="url(#gs)" stroke="#b4b4b4" stroke-width="0.3"/>
<circle cx="97.7" cy="52.1" r="2.6" fill="url(#gs)" stroke="#b4b4b4" stroke-width="0.3"/>
<circle cx="119.7" cy="45.3" r="3.1" fill="url(#gs)" stroke="#b4b4b4" stroke-width="0.3"/>
<circle cx="108.1" cy="89.8" r="2.1" fill="url(#gs)" stroke="#b4b4b4" stroke-width="0.3"/>
<circle cx="156.0" cy="50.2" r="3.2" fill="url(#gs)" stroke="#b4b4b4" stroke-width="0.3"/>
<circle cx="160.1" cy="63.7" r="2.2" fill="url(#gs)" stroke="#b4b4b4" stroke-width="0.3"/>
<circle cx="129.3" cy="105.5" r="2.7" fill="url(#gs)" stroke="#b4b4b4" stroke-width="0.3"/>
<circle cx="167.1" cy="84.4" r="3.0" fill="url(#gs)" stroke="#b4b4b4" stroke-width="0.3"/>
<circle cx="173.5" cy="69.0" r="3.3" fill="url(#gs)" stroke="#b4b4b4" stroke-width="0.3"/>
<circle cx="87.7" cy="79.6" r="3.2" fill="url(#gs)" stroke="#b4b4b4" stroke-width="0.3"/>
<circle cx="99.9" cy="117.0" r="3.2" fill="url(#gs)" stroke="#b4b4b4" stroke-width="0.3"/>
<circle cx="107.6" cy="78.1" r="2.1" fill="url(#gs)" stroke="#b4b4b4" stroke-width="0.3"/>
<circle cx="80.7" cy="117.2" r="3.5" fill="url(#gs)" stroke="#b4b4b4" stroke-width="0.3"/>
<circle cx="87.7" cy="39.1" r="3.7" fill="url(#gs)" stroke="#b4b4b4" stroke-width="0.3"/>
<circle cx="141.9" cy="56.8" r="2.7" fill="url(#gs)" stroke="#b4b4b4" stroke-width="0.3"/>
<circle cx="79.9" cy="49.8" r="3.3" fill="url(#gs)" stroke="#b4b4b4" stroke-width="0.3"/>
<circle cx="116.8" cy="50.9" r="3.8" fill="url(#gs)" stroke="#b4b4b4" stroke-width="0.3"/>
<circle cx="165.5" cy="66.1" r="3.4" fill="url(#gs)" stroke="#b4b4b4" stroke-width="0.3"/>
<circle cx="108.4" cy="60.5" r="3.3" fill="url(#gs)" stroke="#b4b4b4" stroke-width="0.3"/>
<circle cx="115.1" cy="107.7" r="2.7" fill="url(#gs)" stroke="#b4b4b4" stroke-width="0.3"/>
<circle cx="124.6" cy="59.0" r="3.2" fill="url(#gs)" stroke="#b4b4b4" stroke-width="0.3"/>
<circle cx="110.2" cy="70.4" r="3.4" fill="url(#gs)" stroke="#b4b4b4" stroke-width="0.3"/>
<circle cx="116.5" cy="82.7" r="2.3" fill="url(#gs)" stroke="#b4b4b4" stroke-width="0.3"/>
<circle cx="166.9" cy="79.7" r="2.5" fill="url(#gs)" stroke="#b4b4b4" stroke-width="0.3"/>
<circle cx="151.7" cy="103.5" r="2.4" fill="url(#gs)" stroke="#b4b4b4" stroke-width="0.3"/>
<circle cx="107.9" cy="66.3" r="2.7" fill="url(#gs)" stroke="#b4b4b4" stroke-width="0.3"/>
<circle cx="99.7" cy="98.7" r="3.7" fill="url(#gs)" stroke="#b4b4b4" stroke-width="0.3"/>
<circle cx="138.4" cy="65.1" r="2.1" fill="url(#gs)" stroke="#b4b4b4" stroke-width="0.3"/>
<circle cx="74.7" cy="102.1" r="3.8" fill="url(#gs)" stroke="#b4b4b4" stroke-width="0.3"/>
<circle cx="106.9" cy="43.9" r="3.7" fill="url(#gs)" stroke="#b4b4b4" stroke-width="0.3"/>
<circle cx="135.4" cy="68.4" r="3.7" fill="url(#gs)" stroke="#b4b4b4" stroke-width="0.3"/>
<circle cx="95.1" cy="75.9" r="2.5" fill="url(#gs)" stroke="#b4b4b4" stroke-width="0.3"/>
<circle cx="102.6" cy="102.2" r="2.9" fill="url(#gs)" stroke="#b4b4b4" stroke-width="0.3"/>
<circle cx="123.1" cy="85.9" r="3.2" fill="url(#gs)" stroke="#b4b4b4" stroke-width="0.3"/>
<circle cx="156.8" cy="111.1" r="3.6" fill="url(#gs)" stroke="#b4b4b4" stroke-width="0.3"/>
<circle cx="168.7" cy="65.4" r="2.8" fill="url(#gs)" stroke="#b4b4b4" stroke-width="0.3"/>
<circle cx="129.4" cy="58.3" r="2.3" fill="url(#gs)" stroke="#b4b4b4" stroke-width="0.3"/>
<circle cx="120.0" cy="93.8" r="2.8" fill="url(#gs)" stroke="#b4b4b4" stroke-width="0.3"/>
<circle cx="112.1" cy="111.1" r="2.1" fill="url(#gs)" stroke="#b4b4b4" stroke-width="0.3"/>
<circle cx="131.5" cy="83.9" r="2.5" fill="url(#gs)" stroke="#b4b4b4" stroke-width="0.3"/>
<circle cx="96.6" cy="70.3" r="2.3" fill="url(#gs)" stroke="#b4b4b4" stroke-width="0.3"/>
<circle cx="153.0" cy="103.0" r="3.5" fill="url(#gs)" stroke="#b4b4b4" stroke-width="0.3"/>
<circle cx="146.2" cy="66.3" r="2.6" fill="url(#gs)" stroke="#b4b4b4" stroke-width="0.3"/>
<circle cx="108.8" cy="105.8" r="3.2" fill="url(#gs)" stroke="#b4b4b4" stroke-width="0.3"/>
<circle cx="162.3" cy="62.0" r="2.2" fill="url(#gs)" stroke="#b4b4b4" stroke-width="0.3"/>
<circle cx="136.1" cy="45.6" r="3.7" fill="url(#gs)" stroke="#b4b4b4" stroke-width="0.3"/>
<circle cx="120.4" cy="96.6" r="3.1" fill="url(#gs)" stroke="#b4b4b4" stroke-width="0.3"/>
<circle cx="93.8" cy="51.2" r="2.2" fill="url(#gs)" stroke="#b4b4b4" stroke-width="0.3"/>
<ellipse cx="92" cy="86" rx="7" ry="9" fill="url(#gl)"/>
<ellipse cx="120" cy="57" rx="8" ry="4" fill="url(#gl)"/>
<ellipse cx="145" cy="62" rx="6" ry="5" fill="url(#gl)"/>
<ellipse cx="105" cy="100" rx="6" ry="6" fill="url(#gl)"/>
<ellipse cx="124" cy="84" rx="26" ry="19" fill="url(#gp)"/>
<ellipse cx="150" cy="85" rx="13" ry="13" fill="url(#gp)"/>
<ellipse cx="135" cy="103" rx="11" ry="7" fill="url(#gp)"/>
<ellipse cx="98" cy="97" rx="8" ry="6" fill="url(#gp)"/>
<ellipse cx="160" cy="78" rx="8" ry="8" fill="url(#gp)"/>
<ellipse cx="123.9" cy="82.7" rx="19" ry="12" fill="url(#gr)"/>
<ellipse cx="116" cy="88" rx="11" ry="7" fill="url(#gr)"/>
<ellipse cx="132" cy="80" rx="11" ry="8" fill="url(#gr)"/>
<ellipse cx="124" cy="91" rx="10" ry="5" fill="url(#gr)"/>
<ellipse cx="110.4" cy="90" rx="6" ry="5" fill="url(#gr)"/>
<ellipse cx="137" cy="89" rx="6" ry="5.5" fill="url(#gr)"/>
<ellipse cx="109.3" cy="43.2" rx="4.5" ry="4" fill="url(#gr)"/>
<ellipse cx="95.8" cy="66.1" rx="4.5" ry="4" fill="url(#gr)"/>
<ellipse cx="102" cy="73.3" rx="5" ry="4.5" fill="url(#gr)"/>
<ellipse cx="157.2" cy="75.4" rx="5" ry="4.5" fill="url(#gr)"/>
<ellipse cx="165.5" cy="83.7" rx="5" ry="5" fill="url(#gr)"/>
<ellipse cx="156.5" cy="89.5" rx="6.5" ry="5.5" fill="url(#gr)"/>
<ellipse cx="78.2" cy="100.4" rx="5" ry="4.5" fill="url(#gr)"/>
<ellipse cx="84.4" cy="81.7" rx="3.5" ry="3.5" fill="url(#gr)"/>
<ellipse cx="106.2" cy="109.7" rx="4.5" ry="4" fill="url(#gr)"/>
<ellipse cx="113.5" cy="109.7" rx="4" ry="4" fill="url(#gr)"/>
<ellipse cx="94.8" cy="105.6" rx="4" ry="4" fill="url(#gr)"/>
<ellipse cx="140" cy="108" rx="4" ry="3" fill="url(#gr)"/>
<ellipse cx="91.7" cy="77.5" rx="4.5" ry="4.5" fill="url(#gb)"/>
<ellipse cx="85.4" cy="93.1" rx="5" ry="4" fill="url(#gb)"/>
<ellipse cx="102" cy="64" rx="4.8" ry="4.3" fill="url(#gb)"/>
<ellipse cx="87.5" cy="65.5" rx="4.5" ry="4.3" fill="url(#gb)"/>
<ellipse cx="89.6" cy="52.6" rx="3.5" ry="3" fill="url(#gb)"/>
<ellipse cx="114.5" cy="98.3" rx="4.5" ry="4" fill="url(#gb)"/>
<ellipse cx="149.9" cy="86.2" rx="4" ry="4" fill="url(#gb)"/>
<ellipse cx="139.5" cy="57.7" rx="4" ry="3.5" fill="url(#gb)"/>
<ellipse cx="97.9" cy="109.7" rx="3.5" ry="3" fill="url(#gb)"/>
<ellipse cx="84" cy="100" rx="3" ry="3" fill="url(#gb)"/>
<g fill="none" stroke="#7a7a7a" stroke-width="0.3" opacity="0.35"><circle cx="148.7" cy="106.6" r="3.8"/><circle cx="113.2" cy="44.2" r="3.1"/><circle cx="102.1" cy="104.3" r="3.1"/><circle cx="83.2" cy="65.2" r="3.0"/><circle cx="131.2" cy="53.9" r="2.9"/><circle cx="162.0" cy="110.1" r="3.2"/><circle cx="101.6" cy="93.2" r="2.8"/><circle cx="130.4" cy="66.3" r="3.3"/><circle cx="135.9" cy="60.1" r="3.4"/><circle cx="151.2" cy="79.8" r="3.0"/><circle cx="147.0" cy="78.1" r="2.9"/><circle cx="166.9" cy="72.8" r="2.7"/><circle cx="97.8" cy="75.3" r="2.8"/><circle cx="104.6" cy="51.7" r="3.6"/><circle cx="113.4" cy="56.3" r="3.0"/><circle cx="86.6" cy="109.7" r="3.6"/><circle cx="77.6" cy="58.5" r="3.7"/><circle cx="149.9" cy="71.9" r="3.6"/><circle cx="74.3" cy="86.1" r="3.4"/><circle cx="155.6" cy="64.3" r="3.2"/><circle cx="107.2" cy="50.9" r="2.5"/><circle cx="138.5" cy="80.7" r="2.7"/><circle cx="164.3" cy="39.9" r="2.0"/><circle cx="89.8" cy="81.3" r="3.6"/><circle cx="148.4" cy="39.8" r="2.5"/><circle cx="147.1" cy="112.7" r="3.5"/><circle cx="91.6" cy="61.5" r="3.5"/><circle cx="78.6" cy="95.9" r="3.6"/><circle cx="149.5" cy="102.8" r="3.2"/><circle cx="161.5" cy="52.8" r="2.1"/><circle cx="162.7" cy="71.6" r="2.2"/><circle cx="154.5" cy="116.9" r="2.3"/><circle cx="84.8" cy="83.7" r="2.6"/><circle cx="104.2" cy="82.2" r="3.5"/><circle cx="92.8" cy="55.6" r="3.6"/><circle cx="95.8" cy="109.7" r="2.7"/><circle cx="128.3" cy="90.2" r="3.5"/><circle cx="117.3" cy="70.3" r="2.5"/><circle cx="104.0" cy="59.7" r="3.4"/><circle cx="86.7" cy="49.1" r="2.3"/><circle cx="115.9" cy="43.4" r="2.1"/><circle cx="139.6" cy="111.0" r="2.5"/><circle cx="78.0" cy="90.5" r="2.0"/><circle cx="78.9" cy="61.4" r="2.7"/><circle cx="161.3" cy="94.4" r="2.3"/><circle cx="83.3" cy="102.9" r="2.8"/><circle cx="133.4" cy="72.0" r="3.3"/><circle cx="129.8" cy="73.9" r="2.2"/><circle cx="90.4" cy="67.7" r="3.4"/><circle cx="99.6" cy="110.0" r="3.2"/><circle cx="150.8" cy="90.1" r="2.3"/><circle cx="161.7" cy="44.4" r="3.4"/><circle cx="161.5" cy="115.5" r="2.8"/><circle cx="163.5" cy="114.5" r="2.8"/><circle cx="142.3" cy="112.8" r="2.9"/><circle cx="124.5" cy="92.7" r="2.7"/><circle cx="126.1" cy="74.3" r="2.4"/><circle cx="83.3" cy="81.7" r="3.7"/><circle cx="157.7" cy="82.8" r="2.5"/><circle cx="161.8" cy="47.0" r="3.3"/><circle cx="140.4" cy="64.7" r="2.7"/><circle cx="109.7" cy="62.8" r="2.1"/><circle cx="131.9" cy="85.6" r="3.4"/><circle cx="91.0" cy="107.1" r="3.7"/><circle cx="154.9" cy="41.4" r="2.4"/><circle cx="141.8" cy="75.8" r="3.0"/><circle cx="158.2" cy="40.8" r="2.3"/><circle cx="91.7" cy="69.7" r="2.4"/><circle cx="143.4" cy="80.7" r="2.7"/><circle cx="121.7" cy="76.8" r="2.2"/><circle cx="75.0" cy="39.2" r="3.4"/><circle cx="171.1" cy="59.5" r="2.0"/><circle cx="165.7" cy="94.4" r="3.3"/><circle cx="77.7" cy="109.3" r="3.5"/><circle cx="168.0" cy="69.7" r="3.0"/><circle cx="93.8" cy="80.5" r="2.0"/><circle cx="161.4" cy="56.7" r="3.2"/><circle cx="105.3" cy="111.6" r="2.9"/><circle cx="95.3" cy="114.4" r="2.9"/><circle cx="105.2" cy="93.4" r="2.5"/><circle cx="130.8" cy="77.7" r="2.3"/><circle cx="142.2" cy="48.3" r="2.2"/><circle cx="111.7" cy="39.2" r="3.6"/><circle cx="82.7" cy="98.4" r="2.3"/><circle cx="81.8" cy="114.0" r="3.2"/><circle cx="117.5" cy="114.4" r="2.8"/><circle cx="100.1" cy="58.5" r="2.5"/><circle cx="121.9" cy="101.7" r="2.2"/><circle cx="145.0" cy="57.9" r="3.8"/><circle cx="160.3" cy="86.4" r="2.9"/><circle cx="97.6" cy="100.2" r="3.2"/><circle cx="79.8" cy="100.2" r="2.9"/><circle cx="152.8" cy="65.6" r="2.8"/><circle cx="129.3" cy="43.5" r="3.7"/><circle cx="136.7" cy="109.4" r="3.5"/><circle cx="126.3" cy="103.6" r="3.3"/><circle cx="116.2" cy="116.6" r="2.6"/><circle cx="120.1" cy="82.5" r="2.5"/><circle cx="115.9" cy="46.5" r="2.8"/><circle cx="150.5" cy="62.9" r="3.5"/><circle cx="104.7" cy="102.9" r="3.5"/><circle cx="157.5" cy="43.5" r="3.8"/><circle cx="87.5" cy="89.4" r="2.2"/><circle cx="116.4" cy="103.8" r="2.7"/><circle cx="172.9" cy="115.6" r="3.4"/><circle cx="156.1" cy="105.9" r="3.8"/><circle cx="117.2" cy="84.4" r="2.4"/><circle cx="117.1" cy="60.9" r="2.4"/><circle cx="99.1" cy="113.4" r="3.0"/><circle cx="159.9" cy="112.2" r="3.2"/><circle cx="85.0" cy="85.3" r="3.7"/><circle cx="153.6" cy="96.0" r="3.4"/><circle cx="137.5" cy="69.5" r="2.2"/><circle cx="106.4" cy="46.6" r="2.1"/><circle cx="136.6" cy="46.6" r="2.1"/><circle cx="89.8" cy="105.9" r="2.5"/><circle cx="140.0" cy="109.8" r="3.2"/><circle cx="157.4" cy="48.0" r="3.3"/><circle cx="129.5" cy="46.2" r="3.6"/><circle cx="135.5" cy="94.9" r="3.2"/><circle cx="121.7" cy="90.4" r="3.0"/><circle cx="106.0" cy="108.8" r="3.0"/><circle cx="93.8" cy="101.7" r="2.9"/><circle cx="132.4" cy="48.1" r="2.5"/><circle cx="113.1" cy="97.3" r="3.8"/><circle cx="167.7" cy="115.1" r="3.4"/><circle cx="111.9" cy="80.0" r="2.1"/><circle cx="91.9" cy="75.5" r="3.6"/><circle cx="122.9" cy="105.2" r="3.6"/><circle cx="139.3" cy="99.0" r="3.0"/><circle cx="157.0" cy="98.9" r="3.6"/><circle cx="159.1" cy="72.2" r="2.2"/><circle cx="160.1" cy="53.7" r="2.1"/><circle cx="78.8" cy="77.9" r="3.0"/><circle cx="119.1" cy="115.9" r="2.2"/><circle cx="139.0" cy="51.1" r="3.0"/><circle cx="110.8" cy="50.7" r="2.6"/><circle cx="124.3" cy="88.8" r="2.5"/><circle cx="135.8" cy="55.6" r="2.8"/><circle cx="90.9" cy="118.3" r="2.9"/><circle cx="76.0" cy="51.0" r="3.2"/><circle cx="83.4" cy="91.8" r="3.6"/><circle cx="89.2" cy="60.2" r="2.9"/><circle cx="88.7" cy="88.1" r="2.3"/><circle cx="153.4" cy="79.1" r="3.3"/><circle cx="91.7" cy="41.6" r="3.8"/><circle cx="171.5" cy="49.5" r="3.2"/><circle cx="87.8" cy="93.1" r="2.6"/><circle cx="74.6" cy="94.4" r="2.0"/><circle cx="144.9" cy="84.4" r="2.6"/><circle cx="110.9" cy="116.4" r="2.4"/><circle cx="145.7" cy="39.0" r="2.3"/><circle cx="161.6" cy="60.9" r="2.6"/><circle cx="124.4" cy="68.0" r="2.1"/><circle cx="168.8" cy="100.5" r="2.2"/><circle cx="138.0" cy="86.3" r="3.2"/><circle cx="95.3" cy="85.1" r="3.6"/><circle cx="133.2" cy="73.6" r="2.8"/><circle cx="89.1" cy="72.3" r="2.8"/><circle cx="79.2" cy="85.5" r="2.4"/><circle cx="150.7" cy="54.6" r="3.0"/><circle cx="114.5" cy="38.2" r="3.5"/><circle cx="130.8" cy="50.1" r="3.8"/><circle cx="170.2" cy="90.1" r="2.7"/><circle cx="100.3" cy="43.4" r="2.6"/><circle cx="153.6" cy="87.5" r="2.9"/><circle cx="169.2" cy="106.8" r="3.5"/><circle cx="126.0" cy="77.3" r="2.1"/><circle cx="81.8" cy="103.4" r="2.8"/><circle cx="99.4" cy="82.5" r="2.6"/><circle cx="166.9" cy="88.2" r="3.2"/><circle cx="170.3" cy="44.5" r="3.8"/><circle cx="118.4" cy="72.7" r="3.7"/><circle cx="142.3" cy="103.5" r="2.2"/><circle cx="116.4" cy="98.9" r="2.2"/><circle cx="106.5" cy="112.3" r="3.1"/><circle cx="149.5" cy="93.6" r="2.2"/><circle cx="117.9" cy="68.3" r="3.6"/><circle cx="154.2" cy="55.9" r="3.6"/><circle cx="74.1" cy="115.3" r="3.7"/><circle cx="105.1" cy="39.2" r="2.2"/><circle cx="94.3" cy="87.3" r="3.7"/><circle cx="102.4" cy="55.0" r="3.3"/><circle cx="128.6" cy="113.6" r="2.6"/><circle cx="79.8" cy="90.5" r="3.0"/><circle cx="110.3" cy="108.6" r="3.0"/><circle cx="139.2" cy="88.0" r="2.4"/><circle cx="104.5" cy="43.7" r="3.8"/><circle cx="117.5" cy="55.2" r="3.6"/><circle cx="145.2" cy="95.4" r="3.0"/><circle cx="113.9" cy="61.3" r="2.5"/><circle cx="128.4" cy="57.1" r="3.5"/><circle cx="83.2" cy="76.1" r="2.1"/><circle cx="167.8" cy="54.9" r="2.6"/><circle cx="89.1" cy="115.7" r="2.8"/><circle cx="83.9" cy="62.1" r="3.5"/><circle cx="148.8" cy="51.4" r="3.4"/><circle cx="122.7" cy="38.3" r="2.5"/><circle cx="156.3" cy="58.7" r="3.4"/><circle cx="168.4" cy="52.1" r="3.6"/><circle cx="76.6" cy="81.0" r="3.0"/><circle cx="115.6" cy="100.3" r="2.5"/><circle cx="142.2" cy="97.4" r="2.9"/><circle cx="84.0" cy="71.8" r="2.2"/><circle cx="74.9" cy="69.4" r="2.9"/><circle cx="159.3" cy="118.1" r="3.6"/><circle cx="102.5" cy="90.1" r="2.3"/><circle cx="100.6" cy="89.8" r="2.3"/><circle cx="138.7" cy="42.6" r="3.7"/><circle cx="172.8" cy="92.6" r="2.3"/><circle cx="170.4" cy="86.2" r="3.1"/><circle cx="148.7" cy="59.3" r="3.4"/><circle cx="110.4" cy="100.1" r="2.3"/><circle cx="97.7" cy="52.1" r="2.6"/><circle cx="108.1" cy="89.8" r="2.1"/><circle cx="160.1" cy="63.7" r="2.2"/><circle cx="167.1" cy="84.4" r="3.0"/><circle cx="87.7" cy="79.6" r="3.2"/><circle cx="107.6" cy="78.1" r="2.1"/><circle cx="87.7" cy="39.1" r="3.7"/><circle cx="79.9" cy="49.8" r="3.3"/><circle cx="165.5" cy="66.1" r="3.4"/><circle cx="115.1" cy="107.7" r="2.7"/><circle cx="110.2" cy="70.4" r="3.4"/><circle cx="166.9" cy="79.7" r="2.5"/><circle cx="107.9" cy="66.3" r="2.7"/><circle cx="138.4" cy="65.1" r="2.1"/><circle cx="106.9" cy="43.9" r="3.7"/><circle cx="95.1" cy="75.9" r="2.5"/><circle cx="123.1" cy="85.9" r="3.2"/><circle cx="168.7" cy="65.4" r="2.8"/><circle cx="120.0" cy="93.8" r="2.8"/><circle cx="131.5" cy="83.9" r="2.5"/><circle cx="153.0" cy="103.0" r="3.5"/><circle cx="108.8" cy="105.8" r="3.2"/><circle cx="136.1" cy="45.6" r="3.7"/><circle cx="93.8" cy="51.2" r="2.2"/></g>
</g>
<path d="M76.10,100.40 C75.75,97.97 79.22,94.47 80.20,91.00 C81.18,87.53 81.65,83.93 82.00,79.60 C82.35,75.27 81.73,69.50 82.30,65.00 C82.87,60.50 83.67,55.72 85.40,52.60 C87.13,49.48 90.27,47.98 92.70,46.30 C95.13,44.62 97.78,43.38 100.00,42.50 C102.22,41.62 103.92,40.98 106.00,41.00 C108.08,41.02 110.90,41.02 112.50,42.60 C114.10,44.18 113.02,48.67 115.60,50.50 C118.18,52.33 123.85,52.73 128.00,53.60 C132.15,54.47 136.68,53.45 140.50,55.70 C144.32,57.95 147.78,64.33 150.90,67.10 C154.02,69.87 156.68,70.65 159.20,72.30 C161.72,73.95 164.40,75.05 166.00,77.00 C167.60,78.95 168.97,81.67 168.80,84.00 C168.63,86.33 166.80,89.08 165.00,91.00 C163.20,92.92 160.35,93.93 158.00,95.50 C155.65,97.07 153.47,98.20 150.90,100.40 C148.33,102.60 145.42,106.85 142.60,108.70 C139.78,110.55 136.43,110.98 134.00,111.50 C131.57,112.02 131.07,111.58 128.00,111.80 C124.93,112.02 119.40,112.63 115.60,112.80 C111.80,112.97 108.67,113.48 105.20,112.80 C101.73,112.12 98.62,109.90 94.80,108.70 C90.98,107.50 85.42,106.98 82.30,105.60 C79.18,104.22 76.45,102.83 76.10,100.40Z" fill="none" stroke="#c8c8c8" stroke-width="3" opacity="0.6" clip-path="url(#cra)"/>
<path d="M76.10,100.40 C75.75,97.97 79.22,94.47 80.20,91.00 C81.18,87.53 81.65,83.93 82.00,79.60 C82.35,75.27 81.73,69.50 82.30,65.00 C82.87,60.50 83.67,55.72 85.40,52.60 C87.13,49.48 90.27,47.98 92.70,46.30 C95.13,44.62 97.78,43.38 100.00,42.50 C102.22,41.62 103.92,40.98 106.00,41.00 C108.08,41.02 110.90,41.02 112.50,42.60 C114.10,44.18 113.02,48.67 115.60,50.50 C118.18,52.33 123.85,52.73 128.00,53.60 C132.15,54.47 136.68,53.45 140.50,55.70 C144.32,57.95 147.78,64.33 150.90,67.10 C154.02,69.87 156.68,70.65 159.20,72.30 C161.72,73.95 164.40,75.05 166.00,77.00 C167.60,78.95 168.97,81.67 168.80,84.00 C168.63,86.33 166.80,89.08 165.00,91.00 C163.20,92.92 160.35,93.93 158.00,95.50 C155.65,97.07 153.47,98.20 150.90,100.40 C148.33,102.60 145.42,106.85 142.60,108.70 C139.78,110.55 136.43,110.98 134.00,111.50 C131.57,112.02 131.07,111.58 128.00,111.80 C124.93,112.02 119.40,112.63 115.60,112.80 C111.80,112.97 108.67,113.48 105.20,112.80 C101.73,112.12 98.62,109.90 94.80,108.70 C90.98,107.50 85.42,106.98 82.30,105.60 C79.18,104.22 76.45,102.83 76.10,100.40Z" fill="none" stroke="#8a8a8a" stroke-width="0.7"/>
<polygon points="20.8,71.1 24.6,69.4 30.4,71.4 37.1,70.2 43.8,71.1 48.7,69.4 53.0,71.4 53.5,75.5 52.0,81.2 53.5,84.1 54.4,88.0 51.5,90.8 44.8,90.8 38.1,89.4 34.2,90.8 30.4,93.4 24.6,92.6 20.3,87.0 19.3,81.2 20.8,78.3" fill="none" stroke="#111" stroke-width="0.8" stroke-dasharray="2.2,1.3"/>
<polygon points="106.9,73.6 122.2,74.2 137.5,70.9 141.4,74.2 139.7,81.9 141.4,91.7 131,95 120,91.7 110.2,93.9 105.8,86.2" fill="none" stroke="#111" stroke-width="0.8" stroke-dasharray="2.2,1.3"/>
<line x1="49.80" y1="51.20" x2="44.41" y2="70.31" stroke="#111" stroke-width="0.9"/><polygon points="43.60,73.20 43.07,69.93 45.76,70.69" fill="#111"/>
<line x1="14.70" y1="104.70" x2="24.88" y2="95.42" stroke="#111" stroke-width="0.9"/><polygon points="27.10,93.40 25.83,96.46 23.94,94.39" fill="#111"/>
<text x="50.80" y="49.30" font-size="5.6" text-anchor="start" fill="#151515" stroke="#151515" stroke-width="0.06" textLength="10.2" lengthAdjust="spacingAndGlyphs" >K15</text>
<text x="8.20" y="112.70" font-size="5.6" text-anchor="start" fill="#151515" stroke="#151515" stroke-width="0.06" textLength="10.2" lengthAdjust="spacingAndGlyphs" >R35</text>
<text x="34.60" y="132.60" font-size="6.0" text-anchor="middle" fill="#151515" textLength="25.6" lengthAdjust="spacingAndGlyphs" stroke="none">Talin 1 F0</text>
<text x="118.40" y="133.00" font-size="6.0" text-anchor="middle" fill="#151515" textLength="19.2" lengthAdjust="spacingAndGlyphs" stroke="none">Rap 1b</text>
<path d="M64.5,111.0 Q66.9,110.1 68.4,111.8 L70.9,116.0 L70.0,116.8 L66.4,113.1 Q65.1,112.5 64.5,111.0 Z" fill="#111"/>
<path d="M76.7,111.0 Q74.3,110.1 72.8,111.8 L70.3,116.0 L71.2,116.8 L74.8,113.1 Q76.1,112.5 76.7,111.0 Z" fill="#111"/>
<polygon points="69.8,115.6 71.4,115.6 71.3,121.4 69.9,121.4" fill="#111"/>
<circle cx="70.6" cy="108.7" r="0.75" fill="#111"/><circle cx="70.6" cy="112.6" r="0.7" fill="#111"/>
<text x="70.50" y="125.30" font-size="4.5" text-anchor="middle" fill="#151515" textLength="20.9" lengthAdjust="spacingAndGlyphs" stroke="none">Open book</text>
<text x="71.00" y="130.30" font-size="4.5" text-anchor="middle" fill="#151515" textLength="11.8" lengthAdjust="spacingAndGlyphs" stroke="none">format</text>
<rect x="46.2" y="137.6" width="23.8" height="10.5" fill="#b0103c"/>
<rect x="71.0" y="137.6" width="24.5" height="10.5" fill="#2f4f8a"/>
<text x="58.10" y="145.00" font-size="6.0" text-anchor="middle" fill="#fff" textLength="16.5" lengthAdjust="spacingAndGlyphs" >Acidic</text>
<text x="83.20" y="145.00" font-size="6.0" text-anchor="middle" fill="#fff" textLength="14.5" lengthAdjust="spacingAndGlyphs" >Basic</text>
<clipPath id="cd1"><rect x="43.4" y="205.3" width="59.4" height="60.8"/></clipPath>
<g clip-path="url(#cd1)">
<ellipse cx="58.50" cy="253.00" rx="12.50" ry="10.00" fill="none" stroke="#d85050" stroke-width="0.45" opacity="0.75"/>
<ellipse cx="58.95" cy="252.70" rx="10.27" ry="8.21" fill="none" stroke="#d85050" stroke-width="0.45" opacity="0.75"/>
<ellipse cx="59.40" cy="252.40" rx="8.04" ry="6.43" fill="none" stroke="#d85050" stroke-width="0.45" opacity="0.75"/>
<ellipse cx="59.85" cy="252.10" rx="5.80" ry="4.64" fill="none" stroke="#d85050" stroke-width="0.45" opacity="0.75"/>
<ellipse cx="60.30" cy="251.80" rx="3.57" ry="2.86" fill="none" stroke="#d85050" stroke-width="0.45" opacity="0.75"/>
<ellipse cx="60.50" cy="251.50" rx="13.50" ry="11.00" fill="none" stroke="#e07060" stroke-width="0.45" opacity="0.75"/>
<ellipse cx="60.95" cy="251.20" rx="11.09" ry="9.04" fill="none" stroke="#e07060" stroke-width="0.45" opacity="0.75"/>
<ellipse cx="61.40" cy="250.90" rx="8.68" ry="7.07" fill="none" stroke="#e07060" stroke-width="0.45" opacity="0.75"/>
<ellipse cx="61.85" cy="250.60" rx="6.27" ry="5.11" fill="none" stroke="#e07060" stroke-width="0.45" opacity="0.75"/>
<ellipse cx="62.30" cy="250.30" rx="3.86" ry="3.14" fill="none" stroke="#e07060" stroke-width="0.45" opacity="0.75"/>
<ellipse cx="61.50" cy="250.80" rx="13.00" ry="10.80" fill="none" stroke="#e88040" stroke-width="0.45" opacity="0.75"/>
<ellipse cx="61.95" cy="250.50" rx="10.68" ry="8.87" fill="none" stroke="#e88040" stroke-width="0.45" opacity="0.75"/>
<ellipse cx="62.40" cy="250.20" rx="8.36" ry="6.94" fill="none" stroke="#e88040" stroke-width="0.45" opacity="0.75"/>
<ellipse cx="62.85" cy="249.90" rx="6.04" ry="5.01" fill="none" stroke="#e88040" stroke-width="0.45" opacity="0.75"/>
<ellipse cx="63.30" cy="249.60" rx="3.71" ry="3.09" fill="none" stroke="#e88040" stroke-width="0.45" opacity="0.75"/>
<ellipse cx="62.50" cy="250.20" rx="12.50" ry="10.50" fill="none" stroke="#d8b838" stroke-width="0.45" opacity="0.75"/>
<ellipse cx="62.95" cy="249.90" rx="10.27" ry="8.62" fill="none" stroke="#d8b838" stroke-width="0.45" opacity="0.75"/>
<ellipse cx="63.40" cy="249.60" rx="8.04" ry="6.75" fill="none" stroke="#d8b838" stroke-width="0.45" opacity="0.75"/>
<ellipse cx="63.85" cy="249.30" rx="5.80" ry="4.88" fill="none" stroke="#d8b838" stroke-width="0.45" opacity="0.75"/>
<ellipse cx="64.30" cy="249.00" rx="3.57" ry="3.00" fill="none" stroke="#d8b838" stroke-width="0.45" opacity="0.75"/>
<ellipse cx="62.00" cy="249.50" rx="12.80" ry="10.80" fill="none" stroke="#d070b8" stroke-width="0.45" opacity="0.75"/>
<ellipse cx="62.45" cy="249.20" rx="10.02" ry="8.45" fill="none" stroke="#d070b8" stroke-width="0.45" opacity="0.75"/>
<ellipse cx="62.90" cy="248.90" rx="7.23" ry="6.10" fill="none" stroke="#d070b8" stroke-width="0.45" opacity="0.75"/>
<ellipse cx="63.35" cy="248.60" rx="4.45" ry="3.76" fill="none" stroke="#d070b8" stroke-width="0.45" opacity="0.75"/>
<ellipse cx="63.50" cy="248.80" rx="12.20" ry="10.20" fill="none" stroke="#b08048" stroke-width="0.45" opacity="0.75"/>
<ellipse cx="63.95" cy="248.50" rx="10.02" ry="8.38" fill="none" stroke="#b08048" stroke-width="0.45" opacity="0.75"/>
<ellipse cx="64.40" cy="248.20" rx="7.84" ry="6.56" fill="none" stroke="#b08048" stroke-width="0.45" opacity="0.75"/>
<ellipse cx="64.85" cy="247.90" rx="5.66" ry="4.74" fill="none" stroke="#b08048" stroke-width="0.45" opacity="0.75"/>
<ellipse cx="65.30" cy="247.60" rx="3.49" ry="2.91" fill="none" stroke="#b08048" stroke-width="0.45" opacity="0.75"/>
<ellipse cx="66.00" cy="246.00" rx="11.80" ry="9.80" fill="none" stroke="#c8d060" stroke-width="0.45" opacity="0.75"/>
<ellipse cx="66.45" cy="245.70" rx="9.23" ry="7.67" fill="none" stroke="#c8d060" stroke-width="0.45" opacity="0.75"/>
<ellipse cx="66.90" cy="245.40" rx="6.67" ry="5.54" fill="none" stroke="#c8d060" stroke-width="0.45" opacity="0.75"/>
<ellipse cx="67.35" cy="245.10" rx="4.10" ry="3.41" fill="none" stroke="#c8d060" stroke-width="0.45" opacity="0.75"/>
<ellipse cx="68.00" cy="241.00" rx="11.50" ry="9.50" fill="none" stroke="#e8a050" stroke-width="0.45" opacity="0.75"/>
<ellipse cx="68.45" cy="240.70" rx="9.00" ry="7.43" fill="none" stroke="#e8a050" stroke-width="0.45" opacity="0.75"/>
<ellipse cx="68.90" cy="240.40" rx="6.50" ry="5.37" fill="none" stroke="#e8a050" stroke-width="0.45" opacity="0.75"/>
<ellipse cx="69.35" cy="240.10" rx="4.00" ry="3.30" fill="none" stroke="#e8a050" stroke-width="0.45" opacity="0.75"/>
<ellipse cx="70.00" cy="236.00" rx="11.50" ry="9.20" fill="none" stroke="#f08858" stroke-width="0.45" opacity="0.75"/>
<ellipse cx="70.45" cy="235.70" rx="9.45" ry="7.56" fill="none" stroke="#f08858" stroke-width="0.45" opacity="0.75"/>
<ellipse cx="70.90" cy="235.40" rx="7.39" ry="5.91" fill="none" stroke="#f08858" stroke-width="0.45" opacity="0.75"/>
<ellipse cx="71.35" cy="235.10" rx="5.34" ry="4.27" fill="none" stroke="#f08858" stroke-width="0.45" opacity="0.75"/>
<ellipse cx="71.80" cy="234.80" rx="3.29" ry="2.63" fill="none" stroke="#f08858" stroke-width="0.45" opacity="0.75"/>
<ellipse cx="70.50" cy="234.50" rx="11.20" ry="9.00" fill="none" stroke="#60c0b8" stroke-width="0.45" opacity="0.75"/>
<ellipse cx="70.95" cy="234.20" rx="8.77" ry="7.04" fill="none" stroke="#60c0b8" stroke-width="0.45" opacity="0.75"/>
<ellipse cx="71.40" cy="233.90" rx="6.33" ry="5.09" fill="none" stroke="#60c0b8" stroke-width="0.45" opacity="0.75"/>
<ellipse cx="71.85" cy="233.60" rx="3.90" ry="3.13" fill="none" stroke="#60c0b8" stroke-width="0.45" opacity="0.75"/>
<ellipse cx="71.00" cy="233.00" rx="11.00" ry="9.00" fill="none" stroke="#98d068" stroke-width="0.45" opacity="0.75"/>
<ellipse cx="71.45" cy="232.70" rx="8.61" ry="7.04" fill="none" stroke="#98d068" stroke-width="0.45" opacity="0.75"/>
<ellipse cx="71.90" cy="232.40" rx="6.22" ry="5.09" fill="none" stroke="#98d068" stroke-width="0.45" opacity="0.75"/>
<ellipse cx="72.35" cy="232.10" rx="3.83" ry="3.13" fill="none" stroke="#98d068" stroke-width="0.45" opacity="0.75"/>
<ellipse cx="74.00" cy="228.50" rx="12.00" ry="9.50" fill="none" stroke="#78b0e8" stroke-width="0.45" opacity="0.75"/>
<ellipse cx="74.45" cy="228.20" rx="9.39" ry="7.43" fill="none" stroke="#78b0e8" stroke-width="0.45" opacity="0.75"/>
<ellipse cx="74.90" cy="227.90" rx="6.78" ry="5.37" fill="none" stroke="#78b0e8" stroke-width="0.45" opacity="0.75"/>
<ellipse cx="75.35" cy="227.60" rx="4.17" ry="3.30" fill="none" stroke="#78b0e8" stroke-width="0.45" opacity="0.75"/>
<ellipse cx="77.00" cy="224.00" rx="13.00" ry="10.50" fill="none" stroke="#7888e0" stroke-width="0.45" opacity="0.75"/>
<ellipse cx="77.45" cy="223.70" rx="10.68" ry="8.62" fill="none" stroke="#7888e0" stroke-width="0.45" opacity="0.75"/>
<ellipse cx="77.90" cy="223.40" rx="8.36" ry="6.75" fill="none" stroke="#7888e0" stroke-width="0.45" opacity="0.75"/>
<ellipse cx="78.35" cy="223.10" rx="6.04" ry="4.88" fill="none" stroke="#7888e0" stroke-width="0.45" opacity="0.75"/>
<ellipse cx="78.80" cy="222.80" rx="3.71" ry="3.00" fill="none" stroke="#7888e0" stroke-width="0.45" opacity="0.75"/>
<ellipse cx="78.50" cy="222.80" rx="13.50" ry="10.80" fill="none" stroke="#9488dc" stroke-width="0.45" opacity="0.75"/>
<ellipse cx="78.95" cy="222.50" rx="11.09" ry="8.87" fill="none" stroke="#9488dc" stroke-width="0.45" opacity="0.75"/>
<ellipse cx="79.40" cy="222.20" rx="8.68" ry="6.94" fill="none" stroke="#9488dc" stroke-width="0.45" opacity="0.75"/>
<ellipse cx="79.85" cy="221.90" rx="6.27" ry="5.01" fill="none" stroke="#9488dc" stroke-width="0.45" opacity="0.75"/>
<ellipse cx="80.30" cy="221.60" rx="3.86" ry="3.09" fill="none" stroke="#9488dc" stroke-width="0.45" opacity="0.75"/>
</g>
<rect x="43.4" y="205.3" width="59.40" height="60.80" fill="none" stroke="#111" stroke-width="1.3"/>
<line x1="40.40" y1="222.90" x2="43.40" y2="222.90" stroke="#111" stroke-width="0.9"/>
<line x1="40.40" y1="241.55" x2="43.40" y2="241.55" stroke="#111" stroke-width="0.9"/>
<line x1="40.40" y1="260.20" x2="43.40" y2="260.20" stroke="#111" stroke-width="0.9"/>
<line x1="41.90" y1="207.98" x2="43.40" y2="207.98" stroke="#111" stroke-width="0.8"/>
<line x1="41.90" y1="211.71" x2="43.40" y2="211.71" stroke="#111" stroke-width="0.8"/>
<line x1="41.90" y1="215.44" x2="43.40" y2="215.44" stroke="#111" stroke-width="0.8"/>
<line x1="41.90" y1="219.17" x2="43.40" y2="219.17" stroke="#111" stroke-width="0.8"/>
<line x1="41.90" y1="226.63" x2="43.40" y2="226.63" stroke="#111" stroke-width="0.8"/>
<line x1="41.90" y1="230.36" x2="43.40" y2="230.36" stroke="#111" stroke-width="0.8"/>
<line x1="41.90" y1="234.09" x2="43.40" y2="234.09" stroke="#111" stroke-width="0.8"/>
<line x1="41.90" y1="237.82" x2="43.40" y2="237.82" stroke="#111" stroke-width="0.8"/>
<line x1="41.90" y1="245.28" x2="43.40" y2="245.28" stroke="#111" stroke-width="0.8"/>
<line x1="41.90" y1="249.01" x2="43.40" y2="249.01" stroke="#111" stroke-width="0.8"/>
<line x1="41.90" y1="252.74" x2="43.40" y2="252.74" stroke="#111" stroke-width="0.8"/>
<line x1="41.90" y1="256.47" x2="43.40" y2="256.47" stroke="#111" stroke-width="0.8"/>
<line x1="41.90" y1="263.93" x2="43.40" y2="263.93" stroke="#111" stroke-width="0.8"/>
<text x="37.60" y="224.90" font-size="6.0" text-anchor="end" fill="#1e1e1e" stroke="#1e1e1e" stroke-width="0.12" textLength="15.0" lengthAdjust="spacingAndGlyphs" >117.0</text>
<text x="37.60" y="243.55" font-size="6.0" text-anchor="end" fill="#1e1e1e" stroke="#1e1e1e" stroke-width="0.12" textLength="15.0" lengthAdjust="spacingAndGlyphs" >117.5</text>
<text x="37.60" y="262.20" font-size="6.0" text-anchor="end" fill="#1e1e1e" stroke="#1e1e1e" stroke-width="0.12" textLength="15.0" lengthAdjust="spacingAndGlyphs" >118.0</text>
<line x1="46.80" y1="266.10" x2="46.80" y2="268.70" stroke="#111" stroke-width="0.9"/>
<line x1="61.35" y1="266.10" x2="61.35" y2="268.70" stroke="#111" stroke-width="0.9"/>
<line x1="75.90" y1="266.10" x2="75.90" y2="268.70" stroke="#111" stroke-width="0.9"/>
<line x1="90.45" y1="266.10" x2="90.45" y2="268.70" stroke="#111" stroke-width="0.9"/>
<line x1="43.89" y1="266.10" x2="43.89" y2="267.50" stroke="#111" stroke-width="0.8"/>
<line x1="49.71" y1="266.10" x2="49.71" y2="267.50" stroke="#111" stroke-width="0.8"/>
<line x1="52.62" y1="266.10" x2="52.62" y2="267.50" stroke="#111" stroke-width="0.8"/>
<line x1="55.53" y1="266.10" x2="55.53" y2="267.50" stroke="#111" stroke-width="0.8"/>
<line x1="58.44" y1="266.10" x2="58.44" y2="267.50" stroke="#111" stroke-width="0.8"/>
<line x1="64.26" y1="266.10" x2="64.26" y2="267.50" stroke="#111" stroke-width="0.8"/>
<line x1="67.17" y1="266.10" x2="67.17" y2="267.50" stroke="#111" stroke-width="0.8"/>
<line x1="70.08" y1="266.10" x2="70.08" y2="267.50" stroke="#111" stroke-width="0.8"/>
<line x1="72.99" y1="266.10" x2="72.99" y2="267.50" stroke="#111" stroke-width="0.8"/>
<line x1="78.81" y1="266.10" x2="78.81" y2="267.50" stroke="#111" stroke-width="0.8"/>
<line x1="81.72" y1="266.10" x2="81.72" y2="267.50" stroke="#111" stroke-width="0.8"/>
<line x1="84.63" y1="266.10" x2="84.63" y2="267.50" stroke="#111" stroke-width="0.8"/>
<line x1="87.54" y1="266.10" x2="87.54" y2="267.50" stroke="#111" stroke-width="0.8"/>
<line x1="93.36" y1="266.10" x2="93.36" y2="267.50" stroke="#111" stroke-width="0.8"/>
<line x1="96.27" y1="266.10" x2="96.27" y2="267.50" stroke="#111" stroke-width="0.8"/>
<line x1="99.18" y1="266.10" x2="99.18" y2="267.50" stroke="#111" stroke-width="0.8"/>
<line x1="102.09" y1="266.10" x2="102.09" y2="267.50" stroke="#111" stroke-width="0.8"/>
<text transform="translate(44.60 280.80) rotate(-45)" font-size="5.8" fill="#333" text-anchor="middle" textLength="11.5" lengthAdjust="spacingAndGlyphs">9.15</text>
<text transform="translate(59.15 280.80) rotate(-45)" font-size="5.8" fill="#333" text-anchor="middle" textLength="11.5" lengthAdjust="spacingAndGlyphs">9.10</text>
<text transform="translate(73.70 280.80) rotate(-45)" font-size="5.8" fill="#333" text-anchor="middle" textLength="11.5" lengthAdjust="spacingAndGlyphs">9.05</text>
<text transform="translate(88.25 280.80) rotate(-45)" font-size="5.8" fill="#333" text-anchor="middle" textLength="11.5" lengthAdjust="spacingAndGlyphs">9.00</text>
<text x="72.00" y="212.40" font-size="5.2" text-anchor="middle" fill="#151515" stroke="#151515" stroke-width="0.06" textLength="31.6" lengthAdjust="spacingAndGlyphs" >Talin 1 F0 G11</text>
<line x1="79.60" y1="260.00" x2="93.42" y2="231.73" stroke="#111" stroke-width="1.0"/><polygon points="95.00,228.50 95.04,232.52 91.80,230.94" fill="#111"/>
<clipPath id="cd2"><rect x="43.4" y="291.3" width="59.4" height="59.7"/></clipPath>
<g clip-path="url(#cd2)">
<ellipse cx="60.00" cy="330.00" rx="11.50" ry="9.70" fill="none" stroke="#7070d8" stroke-width="0.5" opacity="0.65"/>
<ellipse cx="60.90" cy="329.80" rx="9.45" ry="7.97" fill="none" stroke="#7070d8" stroke-width="0.5" opacity="0.65"/>
<ellipse cx="61.80" cy="329.60" rx="7.39" ry="6.24" fill="none" stroke="#7070d8" stroke-width="0.5" opacity="0.65"/>
<ellipse cx="62.70" cy="329.40" rx="5.34" ry="4.50" fill="none" stroke="#7070d8" stroke-width="0.5" opacity="0.65"/>
<ellipse cx="63.60" cy="329.20" rx="3.29" ry="2.77" fill="none" stroke="#7070d8" stroke-width="0.5" opacity="0.65"/>
<ellipse cx="61.50" cy="329.50" rx="9.50" ry="8.00" fill="none" stroke="#8aa0e0" stroke-width="0.5" opacity="0.6"/>
<ellipse cx="62.30" cy="329.30" rx="6.86" ry="5.78" fill="none" stroke="#8aa0e0" stroke-width="0.5" opacity="0.6"/>
<ellipse cx="63.10" cy="329.10" rx="4.22" ry="3.56" fill="none" stroke="#8aa0e0" stroke-width="0.5" opacity="0.6"/>
<ellipse cx="70.90" cy="326.00" rx="8.00" ry="9.00" fill="none" stroke="#e88878" stroke-width="0.5" opacity="0.75"/>
<ellipse cx="71.50" cy="325.80" rx="6.26" ry="7.04" fill="none" stroke="#e88878" stroke-width="0.5" opacity="0.75"/>
<ellipse cx="72.10" cy="325.60" rx="4.52" ry="5.09" fill="none" stroke="#e88878" stroke-width="0.5" opacity="0.75"/>
<ellipse cx="72.70" cy="325.40" rx="2.78" ry="3.13" fill="none" stroke="#e88878" stroke-width="0.5" opacity="0.75"/>
<ellipse cx="72.00" cy="325.00" rx="7.00" ry="8.00" fill="none" stroke="#70c8c8" stroke-width="0.5" opacity="0.6"/>
<ellipse cx="72.40" cy="324.80" rx="4.31" ry="4.92" fill="none" stroke="#70c8c8" stroke-width="0.5" opacity="0.6"/>
<ellipse cx="83.50" cy="321.00" rx="10.50" ry="9.00" fill="none" stroke="#c0a840" stroke-width="0.45" opacity="0.7"/>
<ellipse cx="84.00" cy="321.20" rx="8.22" ry="7.04" fill="none" stroke="#c0a840" stroke-width="0.45" opacity="0.7"/>
<ellipse cx="84.50" cy="321.40" rx="5.93" ry="5.09" fill="none" stroke="#c0a840" stroke-width="0.45" opacity="0.7"/>
<ellipse cx="85.00" cy="321.60" rx="3.65" ry="3.13" fill="none" stroke="#c0a840" stroke-width="0.45" opacity="0.7"/>
<ellipse cx="84.50" cy="320.50" rx="11.00" ry="9.20" fill="none" stroke="#e0d848" stroke-width="0.45" opacity="0.7"/>
<ellipse cx="85.00" cy="320.70" rx="8.61" ry="7.20" fill="none" stroke="#e0d848" stroke-width="0.45" opacity="0.7"/>
<ellipse cx="85.50" cy="320.90" rx="6.22" ry="5.20" fill="none" stroke="#e0d848" stroke-width="0.45" opacity="0.7"/>
<ellipse cx="86.00" cy="321.10" rx="3.83" ry="3.20" fill="none" stroke="#e0d848" stroke-width="0.45" opacity="0.7"/>
<ellipse cx="85.00" cy="320.00" rx="10.50" ry="8.80" fill="none" stroke="#d070c8" stroke-width="0.45" opacity="0.7"/>
<ellipse cx="85.50" cy="320.20" rx="8.22" ry="6.89" fill="none" stroke="#d070c8" stroke-width="0.45" opacity="0.7"/>
<ellipse cx="86.00" cy="320.40" rx="5.93" ry="4.97" fill="none" stroke="#d070c8" stroke-width="0.45" opacity="0.7"/>
<ellipse cx="86.50" cy="320.60" rx="3.65" ry="3.06" fill="none" stroke="#d070c8" stroke-width="0.45" opacity="0.7"/>
<ellipse cx="84.00" cy="320.80" rx="10.00" ry="8.60" fill="none" stroke="#e07060" stroke-width="0.45" opacity="0.7"/>
<ellipse cx="84.50" cy="321.00" rx="7.83" ry="6.73" fill="none" stroke="#e07060" stroke-width="0.45" opacity="0.7"/>
<ellipse cx="85.00" cy="321.20" rx="5.65" ry="4.86" fill="none" stroke="#e07060" stroke-width="0.45" opacity="0.7"/>
<ellipse cx="85.50" cy="321.40" rx="3.48" ry="2.99" fill="none" stroke="#e07060" stroke-width="0.45" opacity="0.7"/>
<ellipse cx="85.50" cy="320.20" rx="11.20" ry="9.30" fill="none" stroke="#e8e060" stroke-width="0.45" opacity="0.7"/>
<ellipse cx="86.00" cy="320.40" rx="8.77" ry="7.28" fill="none" stroke="#e8e060" stroke-width="0.45" opacity="0.7"/>
<ellipse cx="86.50" cy="320.60" rx="6.33" ry="5.26" fill="none" stroke="#e8e060" stroke-width="0.45" opacity="0.7"/>
<ellipse cx="87.00" cy="320.80" rx="3.90" ry="3.23" fill="none" stroke="#e8e060" stroke-width="0.45" opacity="0.7"/>
<ellipse cx="84.80" cy="321.30" rx="9.50" ry="8.20" fill="none" stroke="#a89050" stroke-width="0.45" opacity="0.7"/>
<ellipse cx="85.30" cy="321.50" rx="7.43" ry="6.42" fill="none" stroke="#a89050" stroke-width="0.45" opacity="0.7"/>
<ellipse cx="85.80" cy="321.70" rx="5.37" ry="4.63" fill="none" stroke="#a89050" stroke-width="0.45" opacity="0.7"/>
<ellipse cx="86.30" cy="321.90" rx="3.30" ry="2.85" fill="none" stroke="#a89050" stroke-width="0.45" opacity="0.7"/>
</g>
<rect x="43.4" y="291.3" width="59.40" height="59.70" fill="none" stroke="#111" stroke-width="1.3"/>
<line x1="40.40" y1="297.70" x2="43.40" y2="297.70" stroke="#111" stroke-width="0.9"/>
<line x1="40.40" y1="311.75" x2="43.40" y2="311.75" stroke="#111" stroke-width="0.9"/>
<line x1="40.40" y1="325.80" x2="43.40" y2="325.80" stroke="#111" stroke-width="0.9"/>
<line x1="40.40" y1="339.85" x2="43.40" y2="339.85" stroke="#111" stroke-width="0.9"/>
<line x1="41.90" y1="292.08" x2="43.40" y2="292.08" stroke="#111" stroke-width="0.8"/>
<line x1="41.90" y1="294.89" x2="43.40" y2="294.89" stroke="#111" stroke-width="0.8"/>
<line x1="41.90" y1="300.51" x2="43.40" y2="300.51" stroke="#111" stroke-width="0.8"/>
<line x1="41.90" y1="303.32" x2="43.40" y2="303.32" stroke="#111" stroke-width="0.8"/>
<line x1="41.90" y1="306.13" x2="43.40" y2="306.13" stroke="#111" stroke-width="0.8"/>
<line x1="41.90" y1="308.94" x2="43.40" y2="308.94" stroke="#111" stroke-width="0.8"/>
<line x1="41.90" y1="314.56" x2="43.40" y2="314.56" stroke="#111" stroke-width="0.8"/>
<line x1="41.90" y1="317.37" x2="43.40" y2="317.37" stroke="#111" stroke-width="0.8"/>
<line x1="41.90" y1="320.18" x2="43.40" y2="320.18" stroke="#111" stroke-width="0.8"/>
<line x1="41.90" y1="322.99" x2="43.40" y2="322.99" stroke="#111" stroke-width="0.8"/>
<line x1="41.90" y1="328.61" x2="43.40" y2="328.61" stroke="#111" stroke-width="0.8"/>
<line x1="41.90" y1="331.42" x2="43.40" y2="331.42" stroke="#111" stroke-width="0.8"/>
<line x1="41.90" y1="334.23" x2="43.40" y2="334.23" stroke="#111" stroke-width="0.8"/>
<line x1="41.90" y1="337.04" x2="43.40" y2="337.04" stroke="#111" stroke-width="0.8"/>
<line x1="41.90" y1="342.66" x2="43.40" y2="342.66" stroke="#111" stroke-width="0.8"/>
<line x1="41.90" y1="345.47" x2="43.40" y2="345.47" stroke="#111" stroke-width="0.8"/>
<line x1="41.90" y1="348.28" x2="43.40" y2="348.28" stroke="#111" stroke-width="0.8"/>
<text x="37.60" y="299.70" font-size="6.0" text-anchor="end" fill="#1e1e1e" stroke="#1e1e1e" stroke-width="0.12" textLength="15.0" lengthAdjust="spacingAndGlyphs" >122.0</text>
<text x="37.60" y="313.75" font-size="6.0" text-anchor="end" fill="#1e1e1e" stroke="#1e1e1e" stroke-width="0.12" textLength="15.0" lengthAdjust="spacingAndGlyphs" >122.5</text>
<text x="37.60" y="327.80" font-size="6.0" text-anchor="end" fill="#1e1e1e" stroke="#1e1e1e" stroke-width="0.12" textLength="15.0" lengthAdjust="spacingAndGlyphs" >123.0</text>
<text x="37.60" y="341.85" font-size="6.0" text-anchor="end" fill="#1e1e1e" stroke="#1e1e1e" stroke-width="0.12" textLength="15.0" lengthAdjust="spacingAndGlyphs" >123.5</text>
<line x1="61.60" y1="351.00" x2="61.60" y2="353.60" stroke="#111" stroke-width="0.9"/>
<line x1="83.40" y1="351.00" x2="83.40" y2="353.60" stroke="#111" stroke-width="0.9"/>
<line x1="44.16" y1="351.00" x2="44.16" y2="352.40" stroke="#111" stroke-width="0.8"/>
<line x1="48.52" y1="351.00" x2="48.52" y2="352.40" stroke="#111" stroke-width="0.8"/>
<line x1="52.88" y1="351.00" x2="52.88" y2="352.40" stroke="#111" stroke-width="0.8"/>
<line x1="57.24" y1="351.00" x2="57.24" y2="352.40" stroke="#111" stroke-width="0.8"/>
<line x1="65.96" y1="351.00" x2="65.96" y2="352.40" stroke="#111" stroke-width="0.8"/>
<line x1="70.32" y1="351.00" x2="70.32" y2="352.40" stroke="#111" stroke-width="0.8"/>
<line x1="74.68" y1="351.00" x2="74.68" y2="352.40" stroke="#111" stroke-width="0.8"/>
<line x1="79.04" y1="351.00" x2="79.04" y2="352.40" stroke="#111" stroke-width="0.8"/>
<line x1="87.76" y1="351.00" x2="87.76" y2="352.40" stroke="#111" stroke-width="0.8"/>
<line x1="92.12" y1="351.00" x2="92.12" y2="352.40" stroke="#111" stroke-width="0.8"/>
<line x1="96.48" y1="351.00" x2="96.48" y2="352.40" stroke="#111" stroke-width="0.8"/>
<line x1="100.84" y1="351.00" x2="100.84" y2="352.40" stroke="#111" stroke-width="0.8"/>
<text x="61.60" y="363.60" font-size="6.0" text-anchor="middle" fill="#1e1e1e" stroke="#1e1e1e" stroke-width="0.12" textLength="8.0" lengthAdjust="spacingAndGlyphs" >7.5</text>
<text x="83.40" y="363.60" font-size="6.0" text-anchor="middle" fill="#1e1e1e" stroke="#1e1e1e" stroke-width="0.12" textLength="8.0" lengthAdjust="spacingAndGlyphs" >7.4</text>
<text x="73.50" y="375.30" font-size="8" text-anchor="middle" fill="#151515" stroke="#151515" stroke-width="0.12" textLength="35.3" lengthAdjust="spacingAndGlyphs" >HN (ppm)</text>
<text x="72.00" y="298.60" font-size="5.2" text-anchor="middle" fill="#151515" stroke="#151515" stroke-width="0.06" textLength="31.2" lengthAdjust="spacingAndGlyphs" >Talin 1 F0 A41</text>
<line x1="96.70" y1="329.30" x2="68.86" y2="342.02" stroke="#111" stroke-width="1.0"/><polygon points="65.40,343.60 68.07,340.29 69.65,343.75" fill="#111"/>
<text transform="translate(15.6 276.0) rotate(-90)" font-size="8.4" fill="#222" text-anchor="middle" textLength="28.5" lengthAdjust="spacingAndGlyphs">N (ppm)</text>
<path d="M339.80,342.30 L341.03,338.90 L342.25,335.59 L343.48,332.38 L344.71,329.27 L345.93,326.25 L347.16,323.32 L348.39,320.49 L349.61,317.75 L350.84,315.10 L352.06,312.54 L353.29,310.08 L354.52,307.70 L355.74,305.40 L356.97,303.19 L358.20,301.06 L359.42,299.01 L360.65,297.04 L361.88,295.14 L363.10,293.32 L364.33,291.56 L365.56,289.87 L366.78,288.25 L368.01,286.69 L369.24,285.19 L370.46,283.74 L371.69,282.36 L372.91,281.02 L374.14,279.74 L375.37,278.50 L376.59,277.31 L377.82,276.17 L379.05,275.06 L380.27,274.00 L381.50,272.98 L382.73,272.00 L383.95,271.05 L385.18,270.13 L386.41,269.25 L387.63,268.40 L388.86,267.58 L390.09,266.78 L391.31,266.02 L392.54,265.28 L393.76,264.56 L394.99,263.87 L396.22,263.20 L397.44,262.56 L398.67,261.93 L399.90,261.32 L401.12,260.74 L402.35,260.17 L403.58,259.62 L404.80,259.08 L406.03,258.56 L407.26,258.06 L408.48,257.57 L409.71,257.10 L410.94,256.64 L412.16,256.19 L413.39,255.76 L414.61,255.34 L415.84,254.93 L417.07,254.53 L418.29,254.14 L419.52,253.76 L420.75,253.39 L421.97,253.03 L423.20,252.69 L424.43,252.35 L425.65,252.01 L426.88,251.69 L428.11,251.38 L429.33,251.07 L430.56,250.77 L431.79,250.48 L433.01,250.19 L434.24,249.91 L435.46,249.64 L436.69,249.37 L437.92,249.11 L439.14,248.86 L440.37,248.61 L441.60,248.37 L442.82,248.13 L444.05,247.90 L445.28,247.67 L446.50,247.45 L447.73,247.23 L448.96,247.02 L450.18,246.81 L451.41,246.60 L452.64,246.40 L453.86,246.21 L455.09,246.01 L456.31,245.82 L457.54,245.64 L458.77,245.46 L459.99,245.28 L461.22,245.11 L462.45,244.94 L463.67,244.77 L464.90,244.60 L466.13,244.44 L467.35,244.28 L468.58,244.13 L469.81,243.97 L471.03,243.82 L472.26,243.68 L473.49,243.53 L474.71,243.39 L475.94,243.25 L477.16,243.11 L478.39,242.98 L479.62,242.84 L480.84,242.71 L482.07,242.58 L483.30,242.46 L484.52,242.33 L485.75,242.21" fill="none" stroke="#2b4b8e" stroke-width="1.3"/>
<path d="M339.80,342.30 L341.03,340.07 L342.25,337.90 L343.48,335.78 L344.71,333.72 L345.93,331.71 L347.16,329.75 L348.39,327.83 L349.61,325.97 L350.84,324.16 L352.06,322.39 L353.29,320.66 L354.52,318.98 L355.74,317.35 L356.97,315.75 L358.20,314.20 L359.42,312.69 L360.65,311.22 L361.88,309.78 L363.10,308.38 L364.33,307.02 L365.56,305.69 L366.78,304.40 L368.01,303.13 L369.24,301.90 L370.46,300.71 L371.69,299.54 L372.91,298.40 L374.14,297.29 L375.37,296.20 L376.59,295.15 L377.82,294.12 L379.05,293.11 L380.27,292.13 L381.50,291.18 L382.73,290.24 L383.95,289.33 L385.18,288.44 L386.41,287.57 L387.63,286.72 L388.86,285.89 L390.09,285.08 L391.31,284.29 L392.54,283.52 L393.76,282.77 L394.99,282.03 L396.22,281.31 L397.44,280.60 L398.67,279.91 L399.90,279.24 L401.12,278.58 L402.35,277.93 L403.58,277.30 L404.80,276.68 L406.03,276.08 L407.26,275.48 L408.48,274.90 L409.71,274.34 L410.94,273.78 L412.16,273.23 L413.39,272.70 L414.61,272.18 L415.84,271.67 L417.07,271.16 L418.29,270.67 L419.52,270.19 L420.75,269.71 L421.97,269.25 L423.20,268.79 L424.43,268.35 L425.65,267.91 L426.88,267.48 L428.11,267.06 L429.33,266.64 L430.56,266.24 L431.79,265.84 L433.01,265.44 L434.24,265.06 L435.46,264.68 L436.69,264.31 L437.92,263.94 L439.14,263.58 L440.37,263.23 L441.60,262.89 L442.82,262.55 L444.05,262.21 L445.28,261.88 L446.50,261.56 L447.73,261.24 L448.96,260.93 L450.18,260.62 L451.41,260.32 L452.64,260.02 L453.86,259.72 L455.09,259.44 L456.31,259.15 L457.54,258.87 L458.77,258.60 L459.99,258.33 L461.22,258.06 L462.45,257.80 L463.67,257.54 L464.90,257.28 L466.13,257.03 L467.35,256.78 L468.58,256.54 L469.81,256.30 L471.03,256.06 L472.26,255.83 L473.49,255.60 L474.71,255.37 L475.94,255.15 L477.16,254.93 L478.39,254.71 L479.62,254.50 L480.84,254.29 L482.07,254.08 L483.30,253.88 L484.52,253.67 L485.75,253.47" fill="none" stroke="#2b4b8e" stroke-width="1.3"/>
<path d="M339.80,342.30 L341.03,341.53 L342.25,340.84 L343.48,340.21 L344.71,339.63 L345.93,339.11 L347.16,338.62 L348.39,338.18 L349.61,337.77 L350.84,337.38 L352.06,337.03 L353.29,336.70 L354.52,336.39 L355.74,336.10 L356.97,335.83 L358.20,335.57 L359.42,335.33 L360.65,335.10 L361.88,334.89 L363.10,334.68 L364.33,334.49 L365.56,334.31 L366.78,334.13 L368.01,333.97 L369.24,333.81 L370.46,333.66 L371.69,333.51 L372.91,333.38 L374.14,333.24 L375.37,333.12 L376.59,333.00 L377.82,332.88 L379.05,332.77 L380.27,332.66 L381.50,332.56 L382.73,332.46 L383.95,332.37 L385.18,332.27 L386.41,332.19 L387.63,332.10 L388.86,332.02 L390.09,331.94 L391.31,331.86 L392.54,331.78 L393.76,331.71 L394.99,331.64 L396.22,331.57 L397.44,331.51 L398.67,331.44 L399.90,331.38 L401.12,331.32 L402.35,331.26 L403.58,331.21 L404.80,331.15 L406.03,331.10 L407.26,331.05 L408.48,331.00 L409.71,330.95 L410.94,330.90 L412.16,330.85 L413.39,330.81 L414.61,330.76 L415.84,330.72 L417.07,330.68 L418.29,330.63 L419.52,330.59 L420.75,330.55 L421.97,330.52 L423.20,330.48 L424.43,330.44 L425.65,330.41 L426.88,330.37 L428.11,330.34 L429.33,330.30 L430.56,330.27 L431.79,330.24 L433.01,330.21 L434.24,330.18 L435.46,330.15 L436.69,330.12 L437.92,330.09 L439.14,330.06 L440.37,330.03 L441.60,330.00 L442.82,329.98 L444.05,329.95 L445.28,329.93 L446.50,329.90 L447.73,329.88 L448.96,329.85 L450.18,329.83 L451.41,329.80 L452.64,329.78 L453.86,329.76 L455.09,329.74 L456.31,329.71 L457.54,329.69 L458.77,329.67 L459.99,329.65 L461.22,329.63 L462.45,329.61 L463.67,329.59 L464.90,329.57 L466.13,329.55 L467.35,329.53 L468.58,329.52 L469.81,329.50 L471.03,329.48 L472.26,329.46 L473.49,329.45 L474.71,329.43 L475.94,329.41 L477.16,329.40 L478.39,329.38 L479.62,329.36 L480.84,329.35 L482.07,329.33 L483.30,329.32 L484.52,329.30 L485.75,329.29" fill="none" stroke="#b3163e" stroke-width="1.3"/>
<path d="M339.80,342.30 L341.03,341.88 L342.25,341.47 L343.48,341.07 L344.71,340.69 L345.93,340.32 L347.16,339.97 L348.39,339.63 L349.61,339.31 L350.84,339.00 L352.06,338.71 L353.29,338.43 L354.52,338.16 L355.74,337.92 L356.97,337.68 L358.20,337.46 L359.42,337.25 L360.65,337.06 L361.88,336.88 L363.10,336.70 L364.33,336.54 L365.56,336.39 L366.78,336.25 L368.01,336.12 L369.24,335.99 L370.46,335.87 L371.69,335.76 L372.91,335.66 L374.14,335.56 L375.37,335.47 L376.59,335.38 L377.82,335.30 L379.05,335.22 L380.27,335.15 L381.50,335.08 L382.73,335.01 L383.95,334.95 L385.18,334.89 L386.41,334.84 L387.63,334.78 L388.86,334.73 L390.09,334.68 L391.31,334.64 L392.54,334.59 L393.76,334.55 L394.99,334.51 L396.22,334.47 L397.44,334.44 L398.67,334.40 L399.90,334.37 L401.12,334.34 L402.35,334.31 L403.58,334.28 L404.80,334.25 L406.03,334.22 L407.26,334.19 L408.48,334.17 L409.71,334.14 L410.94,334.12 L412.16,334.10 L413.39,334.08 L414.61,334.05 L415.84,334.03 L417.07,334.01 L418.29,333.99 L419.52,333.98 L420.75,333.96 L421.97,333.94 L423.20,333.92 L424.43,333.91 L425.65,333.89 L426.88,333.88 L428.11,333.86 L429.33,333.85 L430.56,333.83 L431.79,333.82 L433.01,333.80 L434.24,333.79 L435.46,333.78 L436.69,333.77 L437.92,333.75 L439.14,333.74 L440.37,333.73 L441.60,333.72 L442.82,333.71 L444.05,333.70 L445.28,333.69 L446.50,333.68 L447.73,333.67 L448.96,333.66 L450.18,333.65 L451.41,333.64 L452.64,333.63 L453.86,333.62 L455.09,333.61 L456.31,333.61 L457.54,333.60 L458.77,333.59 L459.99,333.58 L461.22,333.58 L462.45,333.57 L463.67,333.56 L464.90,333.55 L466.13,333.55 L467.35,333.54 L468.58,333.53 L469.81,333.53 L471.03,333.52 L472.26,333.51 L473.49,333.51 L474.71,333.50 L475.94,333.49 L477.16,333.49 L478.39,333.48 L479.62,333.48 L480.84,333.47 L482.07,333.47 L483.30,333.46 L484.52,333.46 L485.75,333.45" fill="none" stroke="#b3163e" stroke-width="1.3"/>
<polygon points="345.30,315.79 343.20,319.83 347.40,319.83" fill="#fff" stroke="#2b4b8e" stroke-width="0.9"/>
<polygon points="350.50,302.49 348.40,306.53 352.60,306.53" fill="#fff" stroke="#2b4b8e" stroke-width="0.9"/>
<polygon points="361.00,294.79 358.90,298.83 363.10,298.83" fill="#fff" stroke="#2b4b8e" stroke-width="0.9"/>
<polygon points="381.70,275.29 379.60,279.33 383.80,279.33" fill="#fff" stroke="#2b4b8e" stroke-width="0.9"/>
<polygon points="402.40,266.79 400.30,270.83 404.50,270.83" fill="#fff" stroke="#2b4b8e" stroke-width="0.9"/>
<polygon points="423.40,255.19 421.30,259.23 425.50,259.23" fill="#fff" stroke="#2b4b8e" stroke-width="0.9"/>
<polygon points="454.50,241.39 452.40,245.43 456.60,245.43" fill="#fff" stroke="#2b4b8e" stroke-width="0.9"/>
<polygon points="486.20,235.39 484.10,239.43 488.30,239.43" fill="#fff" stroke="#2b4b8e" stroke-width="0.9"/>
<polygon points="340.90,334.69 338.80,338.73 343.00,338.73" fill="#fff" stroke="#2b4b8e" stroke-width="0.9"/>
<circle cx="345.50" cy="330.10" r="1.9" fill="#fff" stroke="#2b4b8e" stroke-width="0.9"/>
<circle cx="350.70" cy="325.30" r="1.9" fill="#fff" stroke="#2b4b8e" stroke-width="0.9"/>
<circle cx="361.00" cy="311.80" r="1.9" fill="#fff" stroke="#2b4b8e" stroke-width="0.9"/>
<circle cx="381.70" cy="289.90" r="1.9" fill="#fff" stroke="#2b4b8e" stroke-width="0.9"/>
<circle cx="402.40" cy="274.60" r="1.9" fill="#fff" stroke="#2b4b8e" stroke-width="0.9"/>
<circle cx="423.40" cy="270.00" r="1.9" fill="#fff" stroke="#2b4b8e" stroke-width="0.9"/>
<circle cx="454.50" cy="259.20" r="1.9" fill="#fff" stroke="#2b4b8e" stroke-width="0.9"/>
<circle cx="486.20" cy="254.50" r="1.9" fill="#fff" stroke="#2b4b8e" stroke-width="0.9"/>
<circle cx="342.60" cy="338.70" r="1.9" fill="#fff" stroke="#2b4b8e" stroke-width="0.9"/>
<polygon points="486.20,326.09 484.10,330.13 488.30,330.13" fill="#fff" stroke="#b3163e" stroke-width="0.9"/>
<circle cx="486.20" cy="333.20" r="1.9" fill="#fff" stroke="#b3163e" stroke-width="0.9"/>
<circle cx="339.80" cy="342.30" r="2.2" fill="#b3163e"/>
<line x1="340.3" y1="231.0" x2="340.3" y2="343.0" stroke="#222" stroke-width="1.5"/>
<line x1="339.6" y1="342.3" x2="508.5" y2="342.3" stroke="#222" stroke-width="1.5"/>
<line x1="337.4" y1="237.75" x2="340.3" y2="237.75" stroke="#222" stroke-width="1.1"/>
<text x="333.80" y="239.65" font-size="5.6" text-anchor="end" fill="#1e1e1e" stroke="#1e1e1e" stroke-width="0.06" textLength="11.4" lengthAdjust="spacingAndGlyphs" >0.15</text>
<line x1="337.4" y1="272.60" x2="340.3" y2="272.60" stroke="#222" stroke-width="1.1"/>
<text x="333.80" y="274.50" font-size="5.6" text-anchor="end" fill="#1e1e1e" stroke="#1e1e1e" stroke-width="0.06" textLength="11.4" lengthAdjust="spacingAndGlyphs" >0.10</text>
<line x1="337.4" y1="307.45" x2="340.3" y2="307.45" stroke="#222" stroke-width="1.1"/>
<text x="333.80" y="309.35" font-size="5.6" text-anchor="end" fill="#1e1e1e" stroke="#1e1e1e" stroke-width="0.06" textLength="11.4" lengthAdjust="spacingAndGlyphs" >0.05</text>
<line x1="337.4" y1="342.30" x2="340.3" y2="342.30" stroke="#222" stroke-width="1.1"/>
<text x="333.80" y="344.20" font-size="5.6" text-anchor="end" fill="#1e1e1e" stroke="#1e1e1e" stroke-width="0.06" textLength="11.4" lengthAdjust="spacingAndGlyphs" >0.00</text>
<line x1="339.80" y1="342.3" x2="339.80" y2="345.4" stroke="#222" stroke-width="1.1"/>
<text x="339.80" y="354.30" font-size="5.8" text-anchor="middle" fill="#1e1e1e" stroke="#1e1e1e" stroke-width="0.06" textLength="2.6" lengthAdjust="spacingAndGlyphs" >0</text>
<line x1="381.50" y1="342.3" x2="381.50" y2="345.4" stroke="#222" stroke-width="1.1"/>
<text x="381.50" y="354.30" font-size="5.8" text-anchor="middle" fill="#1e1e1e" stroke="#1e1e1e" stroke-width="0.06" textLength="8.4" lengthAdjust="spacingAndGlyphs" >200</text>
<line x1="423.20" y1="342.3" x2="423.20" y2="345.4" stroke="#222" stroke-width="1.1"/>
<text x="423.20" y="354.30" font-size="5.8" text-anchor="middle" fill="#1e1e1e" stroke="#1e1e1e" stroke-width="0.06" textLength="8.4" lengthAdjust="spacingAndGlyphs" >400</text>
<line x1="464.90" y1="342.3" x2="464.90" y2="345.4" stroke="#222" stroke-width="1.1"/>
<text x="464.90" y="354.30" font-size="5.8" text-anchor="middle" fill="#1e1e1e" stroke="#1e1e1e" stroke-width="0.06" textLength="8.4" lengthAdjust="spacingAndGlyphs" >600</text>
<line x1="506.60" y1="342.3" x2="506.60" y2="345.4" stroke="#222" stroke-width="1.1"/>
<text x="506.60" y="354.30" font-size="5.8" text-anchor="middle" fill="#1e1e1e" stroke="#1e1e1e" stroke-width="0.06" textLength="8.4" lengthAdjust="spacingAndGlyphs" >800</text>
<text x="425.00" y="366.80" font-size="8" text-anchor="middle" fill="#151515" stroke="#151515" stroke-width="0.12" textLength="41.5" lengthAdjust="spacingAndGlyphs" >Rap1b (µM)</text>
<text transform="translate(312.4 286.8) rotate(-90)" font-size="7.5" fill="#151515" text-anchor="middle" textLength="68.5" lengthAdjust="spacingAndGlyphs">Δδ<tspan font-size="5.6" dy="1.7">obs</tspan><tspan dy="-1.7"> (HN,N) (ppm)</tspan></text>
<text x="410.20" y="315.40" font-size="4.3" text-anchor="start" fill="#151515" stroke="#151515" stroke-width="0.06" >K</text>
<text x="413.00" y="316.80" font-size="3.0" text-anchor="start" fill="#151515" stroke="#151515" stroke-width="0.06" >D</text>
<text x="415.60" y="315.40" font-size="4.3" text-anchor="start" fill="#151515" stroke="#151515" stroke-width="0.06" textLength="33.2" lengthAdjust="spacingAndGlyphs" >= 196 ± 68 µM</text>
<line x1="464.0" y1="271.40" x2="470.6" y2="271.40" stroke="#2b4b8e" stroke-width="1.3"/>
<circle cx="467.3" cy="271.40" r="1.6" fill="#fff" stroke="#2b4b8e" stroke-width="1.1"/>
<text x="473.60" y="273.00" font-size="4.6" text-anchor="start" fill="#151515" textLength="17.5" lengthAdjust="spacingAndGlyphs" stroke="#222" stroke-width="0.12">WT G11</text>
<line x1="464.0" y1="280.60" x2="470.6" y2="280.60" stroke="#2b4b8e" stroke-width="1.3"/>
<polygon points="467.3,278.60 465.2,281.90 469.4,281.90" fill="#fff" stroke="#2b4b8e" stroke-width="1.1"/>
<text x="473.60" y="282.20" font-size="4.6" text-anchor="start" fill="#151515" textLength="17.8" lengthAdjust="spacingAndGlyphs" stroke="#222" stroke-width="0.12">WT G42</text>
<line x1="464.0" y1="289.90" x2="470.6" y2="289.90" stroke="#b3163e" stroke-width="1.3"/>
<circle cx="467.3" cy="289.90" r="1.6" fill="#fff" stroke="#b3163e" stroke-width="1.1"/>
<text x="473.60" y="291.50" font-size="4.6" text-anchor="start" fill="#151515" textLength="21.3" lengthAdjust="spacingAndGlyphs" stroke="#222" stroke-width="0.12">R35E G11</text>
<line x1="464.0" y1="298.40" x2="470.6" y2="298.40" stroke="#b3163e" stroke-width="1.3"/>
<polygon points="467.3,296.40 465.2,299.70 469.4,299.70" fill="#fff" stroke="#b3163e" stroke-width="1.1"/>
<text x="473.60" y="300.00" font-size="4.6" text-anchor="start" fill="#151515" textLength="21.5" lengthAdjust="spacingAndGlyphs" stroke="#222" stroke-width="0.12">R35E G42</text>
<rect x="0.75" y="0.75" width="518.3" height="382.6" fill="none" stroke="#1a1a1a" stroke-width="1.5"/>
<line x1="0" y1="383.9" x2="520" y2="383.9" stroke="#1a1a1a" stroke-width="2.2"/>
</svg></body></html>
